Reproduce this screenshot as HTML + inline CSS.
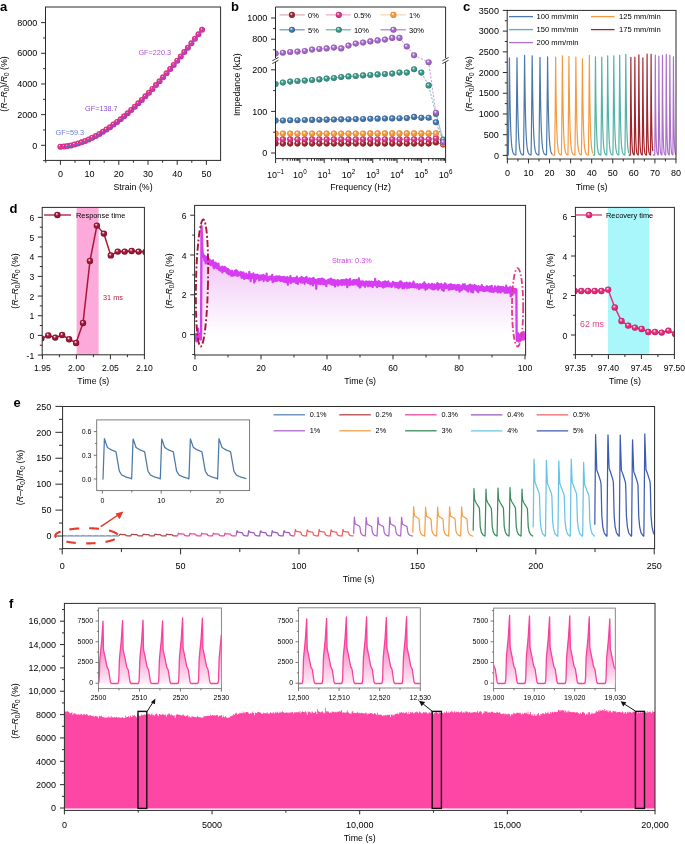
<!DOCTYPE html><html><head><meta charset="utf-8"><title>Figure</title><style>html,body{margin:0;padding:0;background:#fff;width:685px;height:844px;overflow:hidden}svg text{font-family:"Liberation Sans",sans-serif}svg{will-change:transform}</style></head><body><svg width="685" height="844" viewBox="0 0 685 844" style="display:block;font-family:'Liberation Sans',sans-serif"><defs><clipPath id="ca"><rect x="45.5" y="7" width="175.1" height="153.4"/></clipPath><radialGradient id="ga" cx="0.5" cy="0.5" r="0.5" fx="0.36" fy="0.3"><stop offset="0" stop-color="#ffffff"/><stop offset="0.12" stop-color="#f7aed3"/><stop offset="0.27" stop-color="#ec3590"/><stop offset="0.85" stop-color="#df2d84"/><stop offset="1" stop-color="#c81e6e"/></radialGradient><radialGradient id="gb0" cx="0.5" cy="0.5" r="0.5" fx="0.36" fy="0.3"><stop offset="0" stop-color="#ffffff"/><stop offset="0.20" stop-color="#dcaaae"/><stop offset="0.45" stop-color="#a82a35"/><stop offset="0.85" stop-color="#94212b"/><stop offset="1" stop-color="#6e1018"/></radialGradient><radialGradient id="gb05" cx="0.5" cy="0.5" r="0.5" fx="0.36" fy="0.3"><stop offset="0" stop-color="#ffffff"/><stop offset="0.20" stop-color="#f3b0d2"/><stop offset="0.45" stop-color="#e23a8e"/><stop offset="0.85" stop-color="#ce2e7d"/><stop offset="1" stop-color="#a8185e"/></radialGradient><radialGradient id="gb1" cx="0.5" cy="0.5" r="0.5" fx="0.36" fy="0.3"><stop offset="0" stop-color="#ffffff"/><stop offset="0.20" stop-color="#fcd9b3"/><stop offset="0.45" stop-color="#f8a040"/><stop offset="0.85" stop-color="#ea8f2f"/><stop offset="1" stop-color="#d07010"/></radialGradient><radialGradient id="gb5" cx="0.5" cy="0.5" r="0.5" fx="0.36" fy="0.3"><stop offset="0" stop-color="#ffffff"/><stop offset="0.20" stop-color="#b7cbdf"/><stop offset="0.45" stop-color="#4a7db0"/><stop offset="0.85" stop-color="#3c6d9e"/><stop offset="1" stop-color="#22507e"/></radialGradient><radialGradient id="gb10" cx="0.5" cy="0.5" r="0.5" fx="0.36" fy="0.3"><stop offset="0" stop-color="#ffffff"/><stop offset="0.20" stop-color="#b2d7d2"/><stop offset="0.45" stop-color="#3f9b8e"/><stop offset="0.85" stop-color="#338a7d"/><stop offset="1" stop-color="#1d6a5e"/></radialGradient><radialGradient id="gb30" cx="0.5" cy="0.5" r="0.5" fx="0.36" fy="0.3"><stop offset="0" stop-color="#ffffff"/><stop offset="0.20" stop-color="#ddc5eb"/><stop offset="0.45" stop-color="#ab6dcc"/><stop offset="0.85" stop-color="#9a5dbd"/><stop offset="1" stop-color="#7a3fa0"/></radialGradient><clipPath id="cb"><rect x="275.5" y="7" width="170.1" height="151.6"/></clipPath><clipPath id="cc"><rect x="507.2" y="10.4" width="168.8" height="148.6"/></clipPath><radialGradient id="gdl" cx="0.5" cy="0.5" r="0.5" fx="0.36" fy="0.3"><stop offset="0" stop-color="#ffffff"/><stop offset="0.20" stop-color="#dca2b0"/><stop offset="0.45" stop-color="#a8163a"/><stop offset="0.85" stop-color="#921231"/><stop offset="1" stop-color="#6a0a20"/></radialGradient><clipPath id="cdl"><rect x="42.2" y="207.4" width="102.2" height="147.4"/></clipPath><linearGradient id="gdm" x1="0" y1="0" x2="0" y2="1"><stop offset="0" stop-color="#eaa6f8"/><stop offset="0.55" stop-color="#f6daf9"/><stop offset="1" stop-color="#ffffff"/></linearGradient><clipPath id="cdm"><rect x="194.6" y="205.4" width="331" height="149.6"/></clipPath><radialGradient id="gdr" cx="0.5" cy="0.5" r="0.5" fx="0.36" fy="0.3"><stop offset="0" stop-color="#ffffff"/><stop offset="0.20" stop-color="#f6accb"/><stop offset="0.45" stop-color="#e8307e"/><stop offset="0.85" stop-color="#d42671"/><stop offset="1" stop-color="#b0145a"/></radialGradient><clipPath id="cdr"><rect x="575.4" y="207.4" width="99" height="147.2"/></clipPath><clipPath id="ce"><rect x="62.6" y="406.5" width="592" height="142.1"/></clipPath><linearGradient id="gfi" gradientUnits="userSpaceOnUse" x1="0" y1="615" x2="0" y2="684"><stop offset="0" stop-color="#ee46a4"/><stop offset="0.45" stop-color="#f58ac6"/><stop offset="1" stop-color="#fff0f8"/></linearGradient><clipPath id="ci1"><rect x="98.5" y="608" width="122.9" height="80.6"/></clipPath><clipPath id="ci2"><rect x="298.5" y="607.8" width="121.8" height="80.2"/></clipPath><clipPath id="ci3"><rect x="493.6" y="608.1" width="121.7" height="80.4"/></clipPath></defs><rect width="685" height="844" fill="#fff"/><text x="0" y="10.6" font-size="13" text-anchor="start" fill="#000" font-weight="bold" >a</text>
<g clip-path="url(#ca)">
<circle cx="60.4" cy="146.76" r="3" fill="url(#ga)"/>
<circle cx="63.94" cy="146.49" r="3" fill="url(#ga)"/>
<circle cx="67.48" cy="146.03" r="3" fill="url(#ga)"/>
<circle cx="71.02" cy="145.38" r="3" fill="url(#ga)"/>
<circle cx="74.56" cy="144.55" r="3" fill="url(#ga)"/>
<circle cx="78.1" cy="143.54" r="3" fill="url(#ga)"/>
<circle cx="81.64" cy="142.36" r="3" fill="url(#ga)"/>
<circle cx="85.18" cy="141.01" r="3" fill="url(#ga)"/>
<circle cx="88.72" cy="139.49" r="3" fill="url(#ga)"/>
<circle cx="92.26" cy="137.81" r="3" fill="url(#ga)"/>
<circle cx="95.81" cy="135.98" r="3" fill="url(#ga)"/>
<circle cx="99.35" cy="133.99" r="3" fill="url(#ga)"/>
<circle cx="102.89" cy="131.86" r="3" fill="url(#ga)"/>
<circle cx="106.43" cy="129.58" r="3" fill="url(#ga)"/>
<circle cx="109.97" cy="127.16" r="3" fill="url(#ga)"/>
<circle cx="113.51" cy="124.61" r="3" fill="url(#ga)"/>
<circle cx="117.05" cy="121.93" r="3" fill="url(#ga)"/>
<circle cx="120.59" cy="119.13" r="3" fill="url(#ga)"/>
<circle cx="124.13" cy="116.2" r="3" fill="url(#ga)"/>
<circle cx="127.67" cy="113.15" r="3" fill="url(#ga)"/>
<circle cx="131.21" cy="110" r="3" fill="url(#ga)"/>
<circle cx="134.75" cy="106.73" r="3" fill="url(#ga)"/>
<circle cx="138.29" cy="103.36" r="3" fill="url(#ga)"/>
<circle cx="141.83" cy="99.89" r="3" fill="url(#ga)"/>
<circle cx="145.37" cy="96.32" r="3" fill="url(#ga)"/>
<circle cx="148.91" cy="92.67" r="3" fill="url(#ga)"/>
<circle cx="152.45" cy="88.92" r="3" fill="url(#ga)"/>
<circle cx="155.99" cy="85.1" r="3" fill="url(#ga)"/>
<circle cx="159.53" cy="81.19" r="3" fill="url(#ga)"/>
<circle cx="163.07" cy="77.22" r="3" fill="url(#ga)"/>
<circle cx="166.62" cy="73.17" r="3" fill="url(#ga)"/>
<circle cx="170.16" cy="69.06" r="3" fill="url(#ga)"/>
<circle cx="173.7" cy="64.89" r="3" fill="url(#ga)"/>
<circle cx="177.24" cy="60.66" r="3" fill="url(#ga)"/>
<circle cx="180.78" cy="56.38" r="3" fill="url(#ga)"/>
<circle cx="184.32" cy="52.06" r="3" fill="url(#ga)"/>
<circle cx="187.86" cy="47.69" r="3" fill="url(#ga)"/>
<circle cx="191.4" cy="43.28" r="3" fill="url(#ga)"/>
<circle cx="194.94" cy="38.83" r="3" fill="url(#ga)"/>
<circle cx="198.48" cy="34.36" r="3" fill="url(#ga)"/>
<circle cx="202.02" cy="29.86" r="3" fill="url(#ga)"/>
<path d="M60.4,147.56 L61.71,147.49 L63.02,147.38 L64.33,147.25 L65.64,147.1 L66.94,146.91 L68.25,146.71 L69.56,146.47 L70.87,146.21 L72.18,145.93 L73.49,145.62 L74.8,145.29 L76.11,144.93 L77.42,144.55 L78.73,144.15 L80.03,143.72 L81.34,143.27 L82.65,142.79 L83.96,142.29 L85.27,141.77 L86.58,141.23 L87.89,140.66 L89.2,140.07 L90.51,139.46 L91.82,138.83 L93.12,138.18 L94.43,137.51 L95.74,136.81 L97.05,136.1 L98.36,135.36" stroke="#5e6fd2" stroke-width="1.2" fill="none" />
<path d="M98.36,135.36 L100.07,134.37 L101.78,133.34 L103.5,132.28 L105.21,131.18 L106.92,130.05 L108.63,128.89 L110.34,127.7 L112.05,126.48 L113.77,125.22 L115.48,123.94 L117.19,122.62 L118.9,121.28 L120.61,119.91 L122.32,118.51 L124.04,117.08 L125.75,115.62 L127.46,114.14 L129.17,112.63 L130.88,111.09 L132.59,109.53 L134.31,107.94 L136.02,106.33 L137.73,104.7 L139.44,103.04 L141.15,101.36 L142.86,99.66 L144.58,97.93 L146.29,96.19 L148,94.42" stroke="#7b52d6" stroke-width="1.2" fill="none" />
<path d="M148,94.42 L149.91,92.42 L151.83,90.39 L153.74,88.34 L155.65,86.27 L157.57,84.17 L159.48,82.06 L161.39,79.92 L163.3,77.76 L165.22,75.58 L167.13,73.38 L169.04,71.16 L170.96,68.92 L172.87,66.67 L174.78,64.4 L176.7,62.11 L178.61,59.81 L180.52,57.49 L182.44,55.16 L184.35,52.82 L186.26,50.46 L188.18,48.09 L190.09,45.71 L192,43.32 L193.91,40.92 L195.83,38.51 L197.74,36.1 L199.65,33.67 L201.57,31.24 L203.48,28.8" stroke="#9a4fd6" stroke-width="1.2" fill="none" />
</g>
<rect x="45.5" y="7" width="175.1" height="153.4" fill="none" stroke="#2b2b2b" stroke-width="1" />
<line x1="41.1" y1="145.3" x2="45.5" y2="145.3" stroke="#2b2b2b" stroke-width="1" />
<text x="37.2" y="148.5" font-size="9" text-anchor="end" fill="#000" >0</text>
<line x1="41.1" y1="114.63" x2="45.5" y2="114.63" stroke="#2b2b2b" stroke-width="1" />
<text x="37.2" y="117.83" font-size="9" text-anchor="end" fill="#000" >2000</text>
<line x1="41.1" y1="83.96" x2="45.5" y2="83.96" stroke="#2b2b2b" stroke-width="1" />
<text x="37.2" y="87.16" font-size="9" text-anchor="end" fill="#000" >4000</text>
<line x1="41.1" y1="53.29" x2="45.5" y2="53.29" stroke="#2b2b2b" stroke-width="1" />
<text x="37.2" y="56.49" font-size="9" text-anchor="end" fill="#000" >6000</text>
<line x1="41.1" y1="22.62" x2="45.5" y2="22.62" stroke="#2b2b2b" stroke-width="1" />
<text x="37.2" y="25.82" font-size="9" text-anchor="end" fill="#000" >8000</text>
<line x1="43.1" y1="160.64" x2="45.5" y2="160.64" stroke="#2b2b2b" stroke-width="1" />
<line x1="43.1" y1="129.97" x2="45.5" y2="129.97" stroke="#2b2b2b" stroke-width="1" />
<line x1="43.1" y1="99.3" x2="45.5" y2="99.3" stroke="#2b2b2b" stroke-width="1" />
<line x1="43.1" y1="68.63" x2="45.5" y2="68.63" stroke="#2b2b2b" stroke-width="1" />
<line x1="43.1" y1="37.96" x2="45.5" y2="37.96" stroke="#2b2b2b" stroke-width="1" />
<line x1="60.4" y1="160.4" x2="60.4" y2="164.8" stroke="#2b2b2b" stroke-width="1" />
<text x="60.4" y="177" font-size="9" text-anchor="middle" fill="#000" >0</text>
<line x1="89.6" y1="160.4" x2="89.6" y2="164.8" stroke="#2b2b2b" stroke-width="1" />
<text x="89.6" y="177" font-size="9" text-anchor="middle" fill="#000" >10</text>
<line x1="118.8" y1="160.4" x2="118.8" y2="164.8" stroke="#2b2b2b" stroke-width="1" />
<text x="118.8" y="177" font-size="9" text-anchor="middle" fill="#000" >20</text>
<line x1="148" y1="160.4" x2="148" y2="164.8" stroke="#2b2b2b" stroke-width="1" />
<text x="148" y="177" font-size="9" text-anchor="middle" fill="#000" >30</text>
<line x1="177.2" y1="160.4" x2="177.2" y2="164.8" stroke="#2b2b2b" stroke-width="1" />
<text x="177.2" y="177" font-size="9" text-anchor="middle" fill="#000" >40</text>
<line x1="206.4" y1="160.4" x2="206.4" y2="164.8" stroke="#2b2b2b" stroke-width="1" />
<text x="206.4" y="177" font-size="9" text-anchor="middle" fill="#000" >50</text>
<line x1="45.8" y1="160.4" x2="45.8" y2="162.8" stroke="#2b2b2b" stroke-width="1" />
<line x1="75" y1="160.4" x2="75" y2="162.8" stroke="#2b2b2b" stroke-width="1" />
<line x1="104.2" y1="160.4" x2="104.2" y2="162.8" stroke="#2b2b2b" stroke-width="1" />
<line x1="133.4" y1="160.4" x2="133.4" y2="162.8" stroke="#2b2b2b" stroke-width="1" />
<line x1="162.6" y1="160.4" x2="162.6" y2="162.8" stroke="#2b2b2b" stroke-width="1" />
<line x1="191.8" y1="160.4" x2="191.8" y2="162.8" stroke="#2b2b2b" stroke-width="1" />
<text x="133.05" y="190" font-size="8.8" text-anchor="middle" fill="#000" >Strain (%)</text>
<text transform="translate(7.4,84) rotate(-90)" font-size="8.8" text-anchor="middle" fill="#000">(<tspan font-style="italic">R</tspan>–<tspan font-style="italic">R</tspan><tspan font-size="6.34" dy="1.94">0</tspan><tspan dy="-1.94">)/</tspan><tspan font-style="italic">R</tspan><tspan font-size="6.34" dy="1.94">0</tspan><tspan dy="-1.94"> (%)</tspan></text>
<text x="55.5" y="134.6" font-size="7.3" text-anchor="start" fill="#6a7ad8" >GF=59.3</text>
<text x="85" y="110.6" font-size="7.3" text-anchor="start" fill="#8a52d6" >GF=138.7</text>
<text x="138.4" y="55" font-size="7.3" text-anchor="start" fill="#ad50d8" >GF=220.3</text>
<text x="231" y="10.6" font-size="13" text-anchor="start" fill="#000" font-weight="bold" >b</text>
<g clip-path="url(#cb)">
<path d="M275.6,143.6 L282.89,143.6 L290.17,143.6 L297.46,143.6 L304.75,143.6 L312.04,143.6 L319.32,143.6 L326.61,143.6 L333.9,143.6 L341.18,143.6 L348.47,143.6 L355.76,143.6 L363.04,143.6 L370.33,143.6 L377.62,143.6 L384.91,143.6 L392.19,143.6 L399.48,143.6 L406.77,143.6 L414.05,143.6 L421.34,143.6 L428.63,143.6 L435.91,142.5 L443.2,144.4" stroke="#a82a35" stroke-width="0.7" fill="none" stroke-dasharray="2.2 1.6"/>
<path d="M275.6,139.3 L282.89,139.3 L290.17,139.3 L297.46,139.3 L304.75,139.3 L312.04,139.3 L319.32,139.3 L326.61,139.3 L333.9,139.3 L341.18,139.3 L348.47,139.3 L355.76,139.3 L363.04,139.3 L370.33,139.3 L377.62,139.3 L384.91,139.3 L392.19,139.3 L399.48,139.3 L406.77,139.3 L414.05,139.3 L421.34,139.3 L428.63,139.3 L435.91,138.4 L443.2,141" stroke="#e23a8e" stroke-width="0.7" fill="none" stroke-dasharray="2.2 1.6"/>
<path d="M275.6,133.6 L282.89,133.6 L290.17,133.6 L297.46,133.6 L304.75,133.6 L312.04,133.6 L319.32,133.6 L326.61,133.6 L333.9,133.6 L341.18,133.6 L348.47,133.6 L355.76,133.6 L363.04,133.6 L370.33,133.4 L377.62,133.4 L384.91,133.4 L392.19,133.4 L399.48,133.4 L406.77,133.4 L414.05,133.4 L421.34,133.4 L428.63,133.4 L435.91,133.4 L443.2,143.8" stroke="#f8a040" stroke-width="0.7" fill="none" stroke-dasharray="2.2 1.6"/>
<path d="M275.6,120.6 L282.89,120.46 L290.17,120.32 L297.46,120.19 L304.75,120.05 L312.04,119.91 L319.32,119.77 L326.61,119.63 L333.9,119.5 L341.18,119.36 L348.47,119.22 L355.76,119.08 L363.04,118.94 L370.33,118.8 L377.62,118.67 L384.91,118.53 L392.19,118.39 L399.48,118.25 L406.77,118.11 L414.05,116.9 L421.34,117.84 L428.63,117.7 L435.91,122.3 L443.2,141" stroke="#4a7db0" stroke-width="0.7" fill="none" stroke-dasharray="2.2 1.6"/>
<path d="M275.6,84 L282.89,82.6 L290.17,81.6 L297.46,81 L304.75,80.6 L312.04,80 L319.32,79.4 L326.61,78.6 L333.9,78 L341.18,77 L348.47,76.4 L355.76,76 L363.04,75.4 L370.33,75 L377.62,74.4 L384.91,74 L392.19,73.6 L399.48,72.6 L406.77,72.6 L414.05,69.3 L421.34,72.6 L428.63,85.4 L435.91,114 L443.2,139.5" stroke="#3f9b8e" stroke-width="0.7" fill="none" stroke-dasharray="2.2 1.6"/>
<path d="M275.6,53.6 L282.89,52.8 L290.17,52 L297.46,51.6 L304.75,51 L312.04,49.6 L319.32,49 L326.61,48.4 L333.9,47.6 L341.18,48.4 L348.47,45.6 L355.76,43.6 L363.04,42.6 L370.33,41.4 L377.62,40.4 L384.91,39.6 L392.19,37.9 L399.48,37.9 L406.77,46.5 L414.05,55.3 L428.63,62.2 L435.91,112.7 L443.2,142.2" stroke="#ab6dcc" stroke-width="0.7" fill="none" stroke-dasharray="2.2 1.6"/>
<circle cx="275.6" cy="143.6" r="3.05" fill="url(#gb0)"/>
<circle cx="282.89" cy="143.6" r="3.05" fill="url(#gb0)"/>
<circle cx="290.17" cy="143.6" r="3.05" fill="url(#gb0)"/>
<circle cx="297.46" cy="143.6" r="3.05" fill="url(#gb0)"/>
<circle cx="304.75" cy="143.6" r="3.05" fill="url(#gb0)"/>
<circle cx="312.04" cy="143.6" r="3.05" fill="url(#gb0)"/>
<circle cx="319.32" cy="143.6" r="3.05" fill="url(#gb0)"/>
<circle cx="326.61" cy="143.6" r="3.05" fill="url(#gb0)"/>
<circle cx="333.9" cy="143.6" r="3.05" fill="url(#gb0)"/>
<circle cx="341.18" cy="143.6" r="3.05" fill="url(#gb0)"/>
<circle cx="348.47" cy="143.6" r="3.05" fill="url(#gb0)"/>
<circle cx="355.76" cy="143.6" r="3.05" fill="url(#gb0)"/>
<circle cx="363.04" cy="143.6" r="3.05" fill="url(#gb0)"/>
<circle cx="370.33" cy="143.6" r="3.05" fill="url(#gb0)"/>
<circle cx="377.62" cy="143.6" r="3.05" fill="url(#gb0)"/>
<circle cx="384.91" cy="143.6" r="3.05" fill="url(#gb0)"/>
<circle cx="392.19" cy="143.6" r="3.05" fill="url(#gb0)"/>
<circle cx="399.48" cy="143.6" r="3.05" fill="url(#gb0)"/>
<circle cx="406.77" cy="143.6" r="3.05" fill="url(#gb0)"/>
<circle cx="414.05" cy="143.6" r="3.05" fill="url(#gb0)"/>
<circle cx="421.34" cy="143.6" r="3.05" fill="url(#gb0)"/>
<circle cx="428.63" cy="143.6" r="3.05" fill="url(#gb0)"/>
<circle cx="435.91" cy="142.5" r="3.05" fill="url(#gb0)"/>
<circle cx="443.2" cy="144.4" r="3.05" fill="url(#gb0)"/>
<circle cx="275.6" cy="139.3" r="3.05" fill="url(#gb05)"/>
<circle cx="282.89" cy="139.3" r="3.05" fill="url(#gb05)"/>
<circle cx="290.17" cy="139.3" r="3.05" fill="url(#gb05)"/>
<circle cx="297.46" cy="139.3" r="3.05" fill="url(#gb05)"/>
<circle cx="304.75" cy="139.3" r="3.05" fill="url(#gb05)"/>
<circle cx="312.04" cy="139.3" r="3.05" fill="url(#gb05)"/>
<circle cx="319.32" cy="139.3" r="3.05" fill="url(#gb05)"/>
<circle cx="326.61" cy="139.3" r="3.05" fill="url(#gb05)"/>
<circle cx="333.9" cy="139.3" r="3.05" fill="url(#gb05)"/>
<circle cx="341.18" cy="139.3" r="3.05" fill="url(#gb05)"/>
<circle cx="348.47" cy="139.3" r="3.05" fill="url(#gb05)"/>
<circle cx="355.76" cy="139.3" r="3.05" fill="url(#gb05)"/>
<circle cx="363.04" cy="139.3" r="3.05" fill="url(#gb05)"/>
<circle cx="370.33" cy="139.3" r="3.05" fill="url(#gb05)"/>
<circle cx="377.62" cy="139.3" r="3.05" fill="url(#gb05)"/>
<circle cx="384.91" cy="139.3" r="3.05" fill="url(#gb05)"/>
<circle cx="392.19" cy="139.3" r="3.05" fill="url(#gb05)"/>
<circle cx="399.48" cy="139.3" r="3.05" fill="url(#gb05)"/>
<circle cx="406.77" cy="139.3" r="3.05" fill="url(#gb05)"/>
<circle cx="414.05" cy="139.3" r="3.05" fill="url(#gb05)"/>
<circle cx="421.34" cy="139.3" r="3.05" fill="url(#gb05)"/>
<circle cx="428.63" cy="139.3" r="3.05" fill="url(#gb05)"/>
<circle cx="435.91" cy="138.4" r="3.05" fill="url(#gb05)"/>
<circle cx="443.2" cy="141" r="3.05" fill="url(#gb05)"/>
<circle cx="275.6" cy="133.6" r="3.05" fill="url(#gb1)"/>
<circle cx="282.89" cy="133.6" r="3.05" fill="url(#gb1)"/>
<circle cx="290.17" cy="133.6" r="3.05" fill="url(#gb1)"/>
<circle cx="297.46" cy="133.6" r="3.05" fill="url(#gb1)"/>
<circle cx="304.75" cy="133.6" r="3.05" fill="url(#gb1)"/>
<circle cx="312.04" cy="133.6" r="3.05" fill="url(#gb1)"/>
<circle cx="319.32" cy="133.6" r="3.05" fill="url(#gb1)"/>
<circle cx="326.61" cy="133.6" r="3.05" fill="url(#gb1)"/>
<circle cx="333.9" cy="133.6" r="3.05" fill="url(#gb1)"/>
<circle cx="341.18" cy="133.6" r="3.05" fill="url(#gb1)"/>
<circle cx="348.47" cy="133.6" r="3.05" fill="url(#gb1)"/>
<circle cx="355.76" cy="133.6" r="3.05" fill="url(#gb1)"/>
<circle cx="363.04" cy="133.6" r="3.05" fill="url(#gb1)"/>
<circle cx="370.33" cy="133.4" r="3.05" fill="url(#gb1)"/>
<circle cx="377.62" cy="133.4" r="3.05" fill="url(#gb1)"/>
<circle cx="384.91" cy="133.4" r="3.05" fill="url(#gb1)"/>
<circle cx="392.19" cy="133.4" r="3.05" fill="url(#gb1)"/>
<circle cx="399.48" cy="133.4" r="3.05" fill="url(#gb1)"/>
<circle cx="406.77" cy="133.4" r="3.05" fill="url(#gb1)"/>
<circle cx="414.05" cy="133.4" r="3.05" fill="url(#gb1)"/>
<circle cx="421.34" cy="133.4" r="3.05" fill="url(#gb1)"/>
<circle cx="428.63" cy="133.4" r="3.05" fill="url(#gb1)"/>
<circle cx="435.91" cy="133.4" r="3.05" fill="url(#gb1)"/>
<circle cx="443.2" cy="143.8" r="3.05" fill="url(#gb1)"/>
<circle cx="275.6" cy="120.6" r="3.05" fill="url(#gb5)"/>
<circle cx="282.89" cy="120.46" r="3.05" fill="url(#gb5)"/>
<circle cx="290.17" cy="120.32" r="3.05" fill="url(#gb5)"/>
<circle cx="297.46" cy="120.19" r="3.05" fill="url(#gb5)"/>
<circle cx="304.75" cy="120.05" r="3.05" fill="url(#gb5)"/>
<circle cx="312.04" cy="119.91" r="3.05" fill="url(#gb5)"/>
<circle cx="319.32" cy="119.77" r="3.05" fill="url(#gb5)"/>
<circle cx="326.61" cy="119.63" r="3.05" fill="url(#gb5)"/>
<circle cx="333.9" cy="119.5" r="3.05" fill="url(#gb5)"/>
<circle cx="341.18" cy="119.36" r="3.05" fill="url(#gb5)"/>
<circle cx="348.47" cy="119.22" r="3.05" fill="url(#gb5)"/>
<circle cx="355.76" cy="119.08" r="3.05" fill="url(#gb5)"/>
<circle cx="363.04" cy="118.94" r="3.05" fill="url(#gb5)"/>
<circle cx="370.33" cy="118.8" r="3.05" fill="url(#gb5)"/>
<circle cx="377.62" cy="118.67" r="3.05" fill="url(#gb5)"/>
<circle cx="384.91" cy="118.53" r="3.05" fill="url(#gb5)"/>
<circle cx="392.19" cy="118.39" r="3.05" fill="url(#gb5)"/>
<circle cx="399.48" cy="118.25" r="3.05" fill="url(#gb5)"/>
<circle cx="406.77" cy="118.11" r="3.05" fill="url(#gb5)"/>
<circle cx="414.05" cy="116.9" r="3.05" fill="url(#gb5)"/>
<circle cx="421.34" cy="117.84" r="3.05" fill="url(#gb5)"/>
<circle cx="428.63" cy="117.7" r="3.05" fill="url(#gb5)"/>
<circle cx="435.91" cy="122.3" r="3.05" fill="url(#gb5)"/>
<circle cx="443.2" cy="141" r="3.05" fill="url(#gb5)"/>
<circle cx="275.6" cy="84" r="3.05" fill="url(#gb10)"/>
<circle cx="282.89" cy="82.6" r="3.05" fill="url(#gb10)"/>
<circle cx="290.17" cy="81.6" r="3.05" fill="url(#gb10)"/>
<circle cx="297.46" cy="81" r="3.05" fill="url(#gb10)"/>
<circle cx="304.75" cy="80.6" r="3.05" fill="url(#gb10)"/>
<circle cx="312.04" cy="80" r="3.05" fill="url(#gb10)"/>
<circle cx="319.32" cy="79.4" r="3.05" fill="url(#gb10)"/>
<circle cx="326.61" cy="78.6" r="3.05" fill="url(#gb10)"/>
<circle cx="333.9" cy="78" r="3.05" fill="url(#gb10)"/>
<circle cx="341.18" cy="77" r="3.05" fill="url(#gb10)"/>
<circle cx="348.47" cy="76.4" r="3.05" fill="url(#gb10)"/>
<circle cx="355.76" cy="76" r="3.05" fill="url(#gb10)"/>
<circle cx="363.04" cy="75.4" r="3.05" fill="url(#gb10)"/>
<circle cx="370.33" cy="75" r="3.05" fill="url(#gb10)"/>
<circle cx="377.62" cy="74.4" r="3.05" fill="url(#gb10)"/>
<circle cx="384.91" cy="74" r="3.05" fill="url(#gb10)"/>
<circle cx="392.19" cy="73.6" r="3.05" fill="url(#gb10)"/>
<circle cx="399.48" cy="72.6" r="3.05" fill="url(#gb10)"/>
<circle cx="406.77" cy="72.6" r="3.05" fill="url(#gb10)"/>
<circle cx="414.05" cy="69.3" r="3.05" fill="url(#gb10)"/>
<circle cx="421.34" cy="72.6" r="3.05" fill="url(#gb10)"/>
<circle cx="428.63" cy="85.4" r="3.05" fill="url(#gb10)"/>
<circle cx="435.91" cy="114" r="3.05" fill="url(#gb10)"/>
<circle cx="443.2" cy="139.5" r="3.05" fill="url(#gb10)"/>
<circle cx="275.6" cy="53.6" r="3.05" fill="url(#gb30)"/>
<circle cx="282.89" cy="52.8" r="3.05" fill="url(#gb30)"/>
<circle cx="290.17" cy="52" r="3.05" fill="url(#gb30)"/>
<circle cx="297.46" cy="51.6" r="3.05" fill="url(#gb30)"/>
<circle cx="304.75" cy="51" r="3.05" fill="url(#gb30)"/>
<circle cx="312.04" cy="49.6" r="3.05" fill="url(#gb30)"/>
<circle cx="319.32" cy="49" r="3.05" fill="url(#gb30)"/>
<circle cx="326.61" cy="48.4" r="3.05" fill="url(#gb30)"/>
<circle cx="333.9" cy="47.6" r="3.05" fill="url(#gb30)"/>
<circle cx="341.18" cy="48.4" r="3.05" fill="url(#gb30)"/>
<circle cx="348.47" cy="45.6" r="3.05" fill="url(#gb30)"/>
<circle cx="355.76" cy="43.6" r="3.05" fill="url(#gb30)"/>
<circle cx="363.04" cy="42.6" r="3.05" fill="url(#gb30)"/>
<circle cx="370.33" cy="41.4" r="3.05" fill="url(#gb30)"/>
<circle cx="377.62" cy="40.4" r="3.05" fill="url(#gb30)"/>
<circle cx="384.91" cy="39.6" r="3.05" fill="url(#gb30)"/>
<circle cx="392.19" cy="37.9" r="3.05" fill="url(#gb30)"/>
<circle cx="399.48" cy="37.9" r="3.05" fill="url(#gb30)"/>
<circle cx="406.77" cy="46.5" r="3.05" fill="url(#gb30)"/>
<circle cx="414.05" cy="55.3" r="3.05" fill="url(#gb30)"/>
<circle cx="428.63" cy="62.2" r="3.05" fill="url(#gb30)"/>
<circle cx="435.91" cy="112.7" r="3.05" fill="url(#gb30)"/>
<circle cx="443.2" cy="142.2" r="3.05" fill="url(#gb30)"/>
</g>
<line x1="275.5" y1="7" x2="445.6" y2="7" stroke="#2b2b2b" stroke-width="1" />
<line x1="275.5" y1="158.6" x2="445.6" y2="158.6" stroke="#2b2b2b" stroke-width="1" />
<line x1="275.5" y1="7" x2="275.5" y2="58.4" stroke="#2b2b2b" stroke-width="1" />
<line x1="275.5" y1="62" x2="275.5" y2="158.6" stroke="#2b2b2b" stroke-width="1" />
<rect x="272.5" y="58.4" width="6" height="3.6" fill="#fff"/>
<line x1="272.3" y1="60.8" x2="278.5" y2="57.4" stroke="#2b2b2b" stroke-width="0.9" />
<line x1="272.3" y1="63.6" x2="278.5" y2="60.2" stroke="#2b2b2b" stroke-width="0.9" />
<line x1="445.6" y1="7" x2="445.6" y2="58.4" stroke="#2b2b2b" stroke-width="1" />
<line x1="445.6" y1="62" x2="445.6" y2="158.6" stroke="#2b2b2b" stroke-width="1" />
<rect x="442.6" y="58.4" width="6" height="3.6" fill="#fff"/>
<line x1="442.4" y1="60.8" x2="448.6" y2="57.4" stroke="#2b2b2b" stroke-width="0.9" />
<line x1="442.4" y1="63.6" x2="448.6" y2="60.2" stroke="#2b2b2b" stroke-width="0.9" />
<line x1="271.1" y1="153" x2="275.5" y2="153" stroke="#2b2b2b" stroke-width="1" />
<text x="267.2" y="156.2" font-size="9" text-anchor="end" fill="#000" >0</text>
<line x1="271.1" y1="111.4" x2="275.5" y2="111.4" stroke="#2b2b2b" stroke-width="1" />
<text x="267.2" y="114.6" font-size="9" text-anchor="end" fill="#000" >100</text>
<line x1="271.1" y1="69.8" x2="275.5" y2="69.8" stroke="#2b2b2b" stroke-width="1" />
<text x="267.2" y="73" font-size="9" text-anchor="end" fill="#000" >200</text>
<line x1="271.1" y1="39.2" x2="275.5" y2="39.2" stroke="#2b2b2b" stroke-width="1" />
<text x="267.2" y="42.4" font-size="9" text-anchor="end" fill="#000" >800</text>
<line x1="271.1" y1="18" x2="275.5" y2="18" stroke="#2b2b2b" stroke-width="1" />
<text x="267.2" y="21.2" font-size="9" text-anchor="end" fill="#000" >1000</text>
<line x1="273.1" y1="132.2" x2="275.5" y2="132.2" stroke="#2b2b2b" stroke-width="1" />
<line x1="273.1" y1="90.6" x2="275.5" y2="90.6" stroke="#2b2b2b" stroke-width="1" />
<line x1="273.1" y1="49.8" x2="275.5" y2="49.8" stroke="#2b2b2b" stroke-width="1" />
<line x1="273.1" y1="28.6" x2="275.5" y2="28.6" stroke="#2b2b2b" stroke-width="1" />
<line x1="275.6" y1="158.6" x2="275.6" y2="163" stroke="#2b2b2b" stroke-width="1" />
<line x1="299.89" y1="158.6" x2="299.89" y2="163" stroke="#2b2b2b" stroke-width="1" />
<line x1="324.18" y1="158.6" x2="324.18" y2="163" stroke="#2b2b2b" stroke-width="1" />
<line x1="348.47" y1="158.6" x2="348.47" y2="163" stroke="#2b2b2b" stroke-width="1" />
<line x1="372.76" y1="158.6" x2="372.76" y2="163" stroke="#2b2b2b" stroke-width="1" />
<line x1="397.05" y1="158.6" x2="397.05" y2="163" stroke="#2b2b2b" stroke-width="1" />
<line x1="421.34" y1="158.6" x2="421.34" y2="163" stroke="#2b2b2b" stroke-width="1" />
<line x1="445.63" y1="158.6" x2="445.63" y2="163" stroke="#2b2b2b" stroke-width="1" />
<line x1="282.91" y1="158.6" x2="282.91" y2="160.8" stroke="#2b2b2b" stroke-width="1" />
<line x1="287.19" y1="158.6" x2="287.19" y2="160.8" stroke="#2b2b2b" stroke-width="1" />
<line x1="290.22" y1="158.6" x2="290.22" y2="160.8" stroke="#2b2b2b" stroke-width="1" />
<line x1="292.58" y1="158.6" x2="292.58" y2="160.8" stroke="#2b2b2b" stroke-width="1" />
<line x1="294.5" y1="158.6" x2="294.5" y2="160.8" stroke="#2b2b2b" stroke-width="1" />
<line x1="296.13" y1="158.6" x2="296.13" y2="160.8" stroke="#2b2b2b" stroke-width="1" />
<line x1="297.54" y1="158.6" x2="297.54" y2="160.8" stroke="#2b2b2b" stroke-width="1" />
<line x1="298.78" y1="158.6" x2="298.78" y2="160.8" stroke="#2b2b2b" stroke-width="1" />
<line x1="307.2" y1="158.6" x2="307.2" y2="160.8" stroke="#2b2b2b" stroke-width="1" />
<line x1="311.48" y1="158.6" x2="311.48" y2="160.8" stroke="#2b2b2b" stroke-width="1" />
<line x1="314.51" y1="158.6" x2="314.51" y2="160.8" stroke="#2b2b2b" stroke-width="1" />
<line x1="316.87" y1="158.6" x2="316.87" y2="160.8" stroke="#2b2b2b" stroke-width="1" />
<line x1="318.79" y1="158.6" x2="318.79" y2="160.8" stroke="#2b2b2b" stroke-width="1" />
<line x1="320.42" y1="158.6" x2="320.42" y2="160.8" stroke="#2b2b2b" stroke-width="1" />
<line x1="321.83" y1="158.6" x2="321.83" y2="160.8" stroke="#2b2b2b" stroke-width="1" />
<line x1="323.07" y1="158.6" x2="323.07" y2="160.8" stroke="#2b2b2b" stroke-width="1" />
<line x1="331.49" y1="158.6" x2="331.49" y2="160.8" stroke="#2b2b2b" stroke-width="1" />
<line x1="335.77" y1="158.6" x2="335.77" y2="160.8" stroke="#2b2b2b" stroke-width="1" />
<line x1="338.8" y1="158.6" x2="338.8" y2="160.8" stroke="#2b2b2b" stroke-width="1" />
<line x1="341.16" y1="158.6" x2="341.16" y2="160.8" stroke="#2b2b2b" stroke-width="1" />
<line x1="343.08" y1="158.6" x2="343.08" y2="160.8" stroke="#2b2b2b" stroke-width="1" />
<line x1="344.71" y1="158.6" x2="344.71" y2="160.8" stroke="#2b2b2b" stroke-width="1" />
<line x1="346.12" y1="158.6" x2="346.12" y2="160.8" stroke="#2b2b2b" stroke-width="1" />
<line x1="347.36" y1="158.6" x2="347.36" y2="160.8" stroke="#2b2b2b" stroke-width="1" />
<line x1="355.78" y1="158.6" x2="355.78" y2="160.8" stroke="#2b2b2b" stroke-width="1" />
<line x1="360.06" y1="158.6" x2="360.06" y2="160.8" stroke="#2b2b2b" stroke-width="1" />
<line x1="363.09" y1="158.6" x2="363.09" y2="160.8" stroke="#2b2b2b" stroke-width="1" />
<line x1="365.45" y1="158.6" x2="365.45" y2="160.8" stroke="#2b2b2b" stroke-width="1" />
<line x1="367.37" y1="158.6" x2="367.37" y2="160.8" stroke="#2b2b2b" stroke-width="1" />
<line x1="369" y1="158.6" x2="369" y2="160.8" stroke="#2b2b2b" stroke-width="1" />
<line x1="370.41" y1="158.6" x2="370.41" y2="160.8" stroke="#2b2b2b" stroke-width="1" />
<line x1="371.65" y1="158.6" x2="371.65" y2="160.8" stroke="#2b2b2b" stroke-width="1" />
<line x1="380.07" y1="158.6" x2="380.07" y2="160.8" stroke="#2b2b2b" stroke-width="1" />
<line x1="384.35" y1="158.6" x2="384.35" y2="160.8" stroke="#2b2b2b" stroke-width="1" />
<line x1="387.38" y1="158.6" x2="387.38" y2="160.8" stroke="#2b2b2b" stroke-width="1" />
<line x1="389.74" y1="158.6" x2="389.74" y2="160.8" stroke="#2b2b2b" stroke-width="1" />
<line x1="391.66" y1="158.6" x2="391.66" y2="160.8" stroke="#2b2b2b" stroke-width="1" />
<line x1="393.29" y1="158.6" x2="393.29" y2="160.8" stroke="#2b2b2b" stroke-width="1" />
<line x1="394.7" y1="158.6" x2="394.7" y2="160.8" stroke="#2b2b2b" stroke-width="1" />
<line x1="395.94" y1="158.6" x2="395.94" y2="160.8" stroke="#2b2b2b" stroke-width="1" />
<line x1="404.36" y1="158.6" x2="404.36" y2="160.8" stroke="#2b2b2b" stroke-width="1" />
<line x1="408.64" y1="158.6" x2="408.64" y2="160.8" stroke="#2b2b2b" stroke-width="1" />
<line x1="411.67" y1="158.6" x2="411.67" y2="160.8" stroke="#2b2b2b" stroke-width="1" />
<line x1="414.03" y1="158.6" x2="414.03" y2="160.8" stroke="#2b2b2b" stroke-width="1" />
<line x1="415.95" y1="158.6" x2="415.95" y2="160.8" stroke="#2b2b2b" stroke-width="1" />
<line x1="417.58" y1="158.6" x2="417.58" y2="160.8" stroke="#2b2b2b" stroke-width="1" />
<line x1="418.99" y1="158.6" x2="418.99" y2="160.8" stroke="#2b2b2b" stroke-width="1" />
<line x1="420.23" y1="158.6" x2="420.23" y2="160.8" stroke="#2b2b2b" stroke-width="1" />
<line x1="428.65" y1="158.6" x2="428.65" y2="160.8" stroke="#2b2b2b" stroke-width="1" />
<line x1="432.93" y1="158.6" x2="432.93" y2="160.8" stroke="#2b2b2b" stroke-width="1" />
<line x1="435.96" y1="158.6" x2="435.96" y2="160.8" stroke="#2b2b2b" stroke-width="1" />
<line x1="438.32" y1="158.6" x2="438.32" y2="160.8" stroke="#2b2b2b" stroke-width="1" />
<line x1="440.24" y1="158.6" x2="440.24" y2="160.8" stroke="#2b2b2b" stroke-width="1" />
<line x1="441.87" y1="158.6" x2="441.87" y2="160.8" stroke="#2b2b2b" stroke-width="1" />
<line x1="443.28" y1="158.6" x2="443.28" y2="160.8" stroke="#2b2b2b" stroke-width="1" />
<line x1="444.52" y1="158.6" x2="444.52" y2="160.8" stroke="#2b2b2b" stroke-width="1" />
<text x="275.6" y="178" font-size="9" text-anchor="middle" fill="#000">10<tspan font-size="6.3" dy="-3.8">&#8211;1</tspan></text>
<text x="299.89" y="178" font-size="9" text-anchor="middle" fill="#000">10<tspan font-size="6.3" dy="-3.8">0</tspan></text>
<text x="324.18" y="178" font-size="9" text-anchor="middle" fill="#000">10<tspan font-size="6.3" dy="-3.8">1</tspan></text>
<text x="348.47" y="178" font-size="9" text-anchor="middle" fill="#000">10<tspan font-size="6.3" dy="-3.8">2</tspan></text>
<text x="372.76" y="178" font-size="9" text-anchor="middle" fill="#000">10<tspan font-size="6.3" dy="-3.8">3</tspan></text>
<text x="397.05" y="178" font-size="9" text-anchor="middle" fill="#000">10<tspan font-size="6.3" dy="-3.8">4</tspan></text>
<text x="421.34" y="178" font-size="9" text-anchor="middle" fill="#000">10<tspan font-size="6.3" dy="-3.8">5</tspan></text>
<text x="445.63" y="178" font-size="9" text-anchor="middle" fill="#000">10<tspan font-size="6.3" dy="-3.8">6</tspan></text>
<text x="360.55" y="190" font-size="8.8" text-anchor="middle" fill="#000" >Frequency (Hz)</text>
<text transform="translate(239.6,84.7) rotate(-90)" font-size="8.8" text-anchor="middle" fill="#000">Impedance (kΩ)</text>
<line x1="279.5" y1="14.9" x2="304.8" y2="14.9" stroke="#d9a0a0" stroke-width="1.1" />
<circle cx="291.9" cy="14.9" r="3.05" fill="url(#gb0)"/>
<text x="308" y="17.6" font-size="7.5" text-anchor="start" fill="#000" >0%</text>
<line x1="325.9" y1="14.9" x2="350.7" y2="14.9" stroke="#f39ac6" stroke-width="1.1" />
<circle cx="338.8" cy="14.9" r="3.05" fill="url(#gb05)"/>
<text x="353.9" y="17.6" font-size="7.5" text-anchor="start" fill="#000" >0.5%</text>
<line x1="380.5" y1="14.9" x2="405.8" y2="14.9" stroke="#fcd0a0" stroke-width="1.1" />
<circle cx="393.4" cy="14.9" r="3.05" fill="url(#gb1)"/>
<text x="409" y="17.6" font-size="7.5" text-anchor="start" fill="#000" >1%</text>
<line x1="279.5" y1="29.8" x2="304.8" y2="29.8" stroke="#5f8ab8" stroke-width="1.1" />
<circle cx="291.9" cy="29.8" r="3.05" fill="url(#gb5)"/>
<text x="308" y="32.5" font-size="7.5" text-anchor="start" fill="#000" >5%</text>
<line x1="325.9" y1="29.8" x2="350.7" y2="29.8" stroke="#5aa89b" stroke-width="1.1" />
<circle cx="338.8" cy="29.8" r="3.05" fill="url(#gb10)"/>
<text x="353.9" y="32.5" font-size="7.5" text-anchor="start" fill="#000" >10%</text>
<line x1="380.5" y1="29.8" x2="405.8" y2="29.8" stroke="#ab6dcc" stroke-width="1.1" />
<circle cx="393.4" cy="29.8" r="3.05" fill="url(#gb30)"/>
<text x="409" y="32.5" font-size="7.5" text-anchor="start" fill="#000" >30%</text>
<text x="463" y="11.2" font-size="13" text-anchor="start" fill="#000" font-weight="bold" >c</text>
<g clip-path="url(#cc)">
<path d="M507.4,155.07 L507.44,155.07 L507.48,155.07 L507.53,155.07 L507.57,155.07 L507.61,155.07 L507.65,155.07 L507.69,155.07 L507.74,155.07 L507.78,155.07 L507.82,155.07 L507.86,155.07 L507.91,155.07 L507.95,155.07 L507.99,155.07 L508.03,155.07 L508.07,155.07 L508.12,155.07 L508.16,155.07 L508.2,155.07 L508.24,155.07 L508.28,154.31 L508.33,152.46 L508.37,150.23 L508.41,147.73 L508.45,145.02 L508.5,142.13 L508.54,139.08 L508.58,135.89 L508.62,132.58 L508.66,129.15 L508.71,125.61 L508.75,121.97 L508.79,118.23 L508.83,114.41 L508.87,110.5 L508.92,106.51 L508.96,102.44 L509,98.3 L509.04,94.09 L509.09,89.81 L509.13,85.46 L509.17,81.05 L509.21,76.58 L509.25,72.05 L509.3,67.46 L509.34,62.82 L509.38,58.12 L509.42,57.84 L509.46,61.88 L509.51,65.76 L509.55,69.47 L509.59,73.03 L509.63,76.44 L509.68,79.71 L509.72,82.84 L509.76,85.85 L509.8,88.73 L509.84,91.49 L509.89,94.13 L509.93,96.67 L509.97,99.09 L510.01,101.42 L510.05,103.66 L510.1,105.79 L510.14,107.84 L510.18,109.81 L510.22,111.69 L510.27,113.5 L510.31,115.23 L510.35,116.89 L510.39,118.48 L510.43,120 L510.48,121.46 L510.52,122.86 L510.56,124.2 L510.6,125.49 L510.64,126.72 L510.69,127.9 L510.73,129.03 L510.77,130.12 L510.81,131.16 L510.86,132.15 L510.9,133.11 L510.94,134.03 L510.98,134.9 L511.02,135.74 L511.07,136.55 L511.11,137.32 L511.15,138.06 L511.19,138.77 L511.23,139.45 L511.28,140.11 L511.32,140.73 L511.36,141.33 L511.4,141.9 L511.45,142.45 L511.49,142.98 L511.53,143.49 L511.57,143.97 L511.61,144.44 L511.66,144.88 L511.7,145.31 L511.74,145.72 L511.78,146.11 L511.82,146.48 L511.87,146.84 L511.91,147.19 L511.95,147.52 L511.99,147.84 L512.04,148.14 L512.08,148.43 L512.12,148.71 L512.16,148.98 L512.2,149.24 L512.25,149.48 L512.29,149.72 L512.33,149.94 L512.37,150.16 L512.41,150.37 L512.46,150.57 L512.5,150.76 L512.54,150.94 L512.58,151.11 L512.63,151.28 L512.67,151.44 L512.71,151.6 L512.75,151.74 L512.79,151.89 L512.84,152.02 L512.88,152.15 L512.92,152.28 L512.96,152.39 L513,152.51 L513.05,152.62 L513.09,152.72 L513.13,152.83 L513.17,152.92 L513.22,153.01 L513.26,153.1 L513.3,153.19 L513.34,153.27 L513.38,153.35 L513.43,153.42 L513.47,153.49 L513.51,153.56 L513.55,153.63 L513.59,153.69 L513.64,153.75 L513.68,153.81 L513.72,153.87 L513.76,153.92 L513.81,153.97 L513.85,154.02 L513.89,154.07 L513.93,154.11 L513.97,154.16 L514.02,154.2 L514.06,154.24 L514.1,154.27 L514.14,154.31 L514.18,154.35 L514.23,154.38 L514.27,154.41 L514.31,154.44 L514.35,154.47 L514.4,154.5 L514.44,154.53 L514.48,154.55 L514.52,154.58 L514.56,154.6 L514.61,154.62 L514.65,154.65 L514.69,154.67 L514.73,154.69 L514.77,154.71 L514.82,154.73 L514.86,154.74 L514.9,154.76 L514.94,154.78 L514.99,154.79 L515.03,154.81 L515.07,154.82 L515.11,154.83 L515.15,154.85 L515.2,154.86 L515.24,154.87 L515.28,154.88 L515.32,154.9 L515.36,154.91 L515.41,154.92 L515.45,154.93 L515.49,154.94 L515.53,154.94 L515.58,154.95 L515.62,154.96 L515.66,154.97 L515.7,154.98 L515.74,154.98 L515.79,154.99 L515.83,155 L515.87,154.99 L515.91,153.48 L515.95,151.46 L516,149.13 L516.04,146.58 L516.08,143.83 L516.12,140.92 L516.17,137.86 L516.21,134.67 L516.25,131.36 L516.29,127.95 L516.33,124.43 L516.38,120.81 L516.42,117.11 L516.46,113.32 L516.5,109.45 L516.54,105.5 L516.59,101.48 L516.63,97.39 L516.67,93.23 L516.71,89 L516.76,84.71 L516.8,80.36 L516.84,75.95 L516.88,71.48 L516.92,66.96 L516.97,62.38 L517.01,57.75 L517.05,61.8 L517.09,65.68 L517.13,69.39 L517.18,72.95 L517.22,76.37 L517.26,79.64 L517.3,82.78 L517.35,85.79 L517.39,88.67 L517.43,91.43 L517.47,94.08 L517.51,96.61 L517.56,99.04 L517.6,101.38 L517.64,103.61 L517.68,105.75 L517.72,107.8 L517.77,109.77 L517.81,111.65 L517.85,113.46 L517.89,115.19 L517.93,116.85 L517.98,118.44 L518.02,119.97 L518.06,121.43 L518.1,122.83 L518.15,124.17 L518.19,125.46 L518.23,126.69 L518.27,127.88 L518.31,129.01 L518.36,130.1 L518.4,131.14 L518.44,132.13 L518.48,133.09 L518.52,134.01 L518.57,134.88 L518.61,135.73 L518.65,136.53 L518.69,137.31 L518.74,138.05 L518.78,138.76 L518.82,139.44 L518.86,140.09 L518.9,140.72 L518.95,141.32 L518.99,141.89 L519.03,142.44 L519.07,142.97 L519.11,143.48 L519.16,143.96 L519.2,144.43 L519.24,144.87 L519.28,145.3 L519.33,145.71 L519.37,146.1 L519.41,146.48 L519.45,146.84 L519.49,147.18 L519.54,147.51 L519.58,147.83 L519.62,148.14 L519.66,148.43 L519.7,148.71 L519.75,148.97 L519.79,149.23 L519.83,149.48 L519.87,149.71 L519.92,149.94 L519.96,150.15 L520,150.36 L520.04,150.56 L520.08,150.75 L520.13,150.93 L520.17,151.11 L520.21,151.28 L520.25,151.44 L520.29,151.59 L520.34,151.74 L520.38,151.88 L520.42,152.02 L520.46,152.15 L520.51,152.27 L520.55,152.39 L520.59,152.51 L520.63,152.62 L520.67,152.72 L520.72,152.82 L520.76,152.92 L520.8,153.01 L520.84,153.1 L520.88,153.19 L520.93,153.27 L520.97,153.35 L521.01,153.42 L521.05,153.49 L521.1,153.56 L521.14,153.63 L521.18,153.69 L521.22,153.75 L521.26,153.81 L521.31,153.87 L521.35,153.92 L521.39,153.97 L521.43,154.02 L521.47,154.07 L521.52,154.11 L521.56,154.15 L521.6,154.2 L521.64,154.24 L521.69,154.27 L521.73,154.31 L521.77,154.35 L521.81,154.38 L521.85,154.41 L521.9,154.44 L521.94,154.47 L521.98,154.5 L522.02,154.53 L522.06,154.55 L522.11,154.58 L522.15,154.6 L522.19,154.62 L522.23,154.65 L522.28,154.67 L522.32,154.69 L522.36,154.71 L522.4,154.72 L522.44,154.74 L522.49,154.76 L522.53,154.78 L522.57,154.79 L522.61,154.81 L522.65,154.82 L522.7,154.83 L522.74,154.85 L522.78,154.86 L522.82,154.87 L522.87,154.88 L522.91,154.9 L522.95,154.91 L522.99,154.92 L523.03,154.93 L523.08,154.94 L523.12,154.94 L523.16,154.95 L523.2,154.96 L523.24,154.97 L523.29,154.98 L523.33,154.98 L523.37,154.99 L523.41,155 L523.46,154.99 L523.5,153.43 L523.54,151.37 L523.58,148.98 L523.62,146.36 L523.67,143.55 L523.71,140.57 L523.75,137.43 L523.79,134.17 L523.83,130.78 L523.88,127.28 L523.92,123.67 L523.96,119.97 L524,116.17 L524.05,112.29 L524.09,108.32 L524.13,104.28 L524.17,100.16 L524.21,95.96 L524.26,91.7 L524.3,87.37 L524.34,82.97 L524.38,78.52 L524.42,74 L524.47,69.42 L524.51,64.79 L524.55,60.1 L524.59,55.35 L524.64,59.5 L524.68,63.47 L524.72,67.28 L524.76,70.93 L524.8,74.43 L524.85,77.78 L524.89,81 L524.93,84.08 L524.97,87.03 L525.01,89.86 L525.06,92.57 L525.1,95.17 L525.14,97.66 L525.18,100.05 L525.23,102.34 L525.27,104.53 L525.31,106.64 L525.35,108.65 L525.39,110.58 L525.44,112.43 L525.48,114.21 L525.52,115.91 L525.56,117.54 L525.6,119.1 L525.65,120.6 L525.69,122.04 L525.73,123.41 L525.77,124.73 L525.82,125.99 L525.86,127.2 L525.9,128.37 L525.94,129.48 L525.98,130.54 L526.03,131.57 L526.07,132.55 L526.11,133.49 L526.15,134.39 L526.19,135.25 L526.24,136.08 L526.28,136.87 L526.32,137.63 L526.36,138.35 L526.41,139.05 L526.45,139.72 L526.49,140.36 L526.53,140.98 L526.57,141.57 L526.62,142.13 L526.66,142.67 L526.7,143.19 L526.74,143.69 L526.78,144.16 L526.83,144.62 L526.87,145.06 L526.91,145.48 L526.95,145.88 L527,146.26 L527.04,146.63 L527.08,146.99 L527.12,147.33 L527.16,147.65 L527.21,147.96 L527.25,148.26 L527.29,148.55 L527.33,148.82 L527.37,149.08 L527.42,149.34 L527.46,149.58 L527.5,149.81 L527.54,150.03 L527.59,150.24 L527.63,150.45 L527.67,150.64 L527.71,150.83 L527.75,151.01 L527.8,151.18 L527.84,151.35 L527.88,151.51 L527.92,151.66 L527.96,151.8 L528.01,151.94 L528.05,152.07 L528.09,152.2 L528.13,152.32 L528.18,152.44 L528.22,152.55 L528.26,152.66 L528.3,152.77 L528.34,152.86 L528.39,152.96 L528.43,153.05 L528.47,153.14 L528.51,153.22 L528.55,153.3 L528.6,153.38 L528.64,153.45 L528.68,153.52 L528.72,153.59 L528.76,153.66 L528.81,153.72 L528.85,153.78 L528.89,153.83 L528.93,153.89 L528.98,153.94 L529.02,153.99 L529.06,154.04 L529.1,154.09 L529.14,154.13 L529.19,154.17 L529.23,154.21 L529.27,154.25 L529.31,154.29 L529.35,154.33 L529.4,154.36 L529.44,154.39 L529.48,154.42 L529.52,154.45 L529.57,154.48 L529.61,154.51 L529.65,154.54 L529.69,154.56 L529.73,154.59 L529.78,154.61 L529.82,154.63 L529.86,154.66 L529.9,154.68 L529.94,154.7 L529.99,154.71 L530.03,154.73 L530.07,154.75 L530.11,154.77 L530.16,154.78 L530.2,154.8 L530.24,154.81 L530.28,154.83 L530.32,154.84 L530.37,154.85 L530.41,154.87 L530.45,154.88 L530.49,154.89 L530.53,154.9 L530.58,154.91 L530.62,154.92 L530.66,154.93 L530.7,154.94 L530.75,154.95 L530.79,154.96 L530.83,154.96 L530.87,154.97 L530.91,154.98 L530.96,154.99 L531,154.99 L531.04,155 L531.08,154.29 L531.12,152.4 L531.17,150.13 L531.21,147.58 L531.25,144.82 L531.29,141.87 L531.34,138.76 L531.38,135.51 L531.42,132.12 L531.46,128.62 L531.5,125.01 L531.55,121.3 L531.59,117.49 L531.63,113.59 L531.67,109.6 L531.71,105.53 L531.76,101.38 L531.8,97.15 L531.84,92.86 L531.88,88.49 L531.93,84.06 L531.97,79.56 L532.01,75 L532.05,70.38 L532.09,65.7 L532.14,60.96 L532.18,56.17 L532.22,55.88 L532.26,60 L532.3,63.96 L532.35,67.74 L532.39,71.38 L532.43,74.86 L532.47,78.19 L532.52,81.39 L532.56,84.45 L532.6,87.39 L532.64,90.2 L532.68,92.9 L532.73,95.49 L532.77,97.97 L532.81,100.34 L532.85,102.62 L532.89,104.8 L532.94,106.89 L532.98,108.9 L533.02,110.82 L533.06,112.66 L533.11,114.43 L533.15,116.12 L533.19,117.74 L533.23,119.29 L533.27,120.78 L533.32,122.21 L533.36,123.58 L533.4,124.89 L533.44,126.15 L533.48,127.35 L533.53,128.51 L533.57,129.61 L533.61,130.67 L533.65,131.69 L533.7,132.67 L533.74,133.6 L533.78,134.5 L533.82,135.35 L533.86,136.18 L533.91,136.96 L533.95,137.72 L533.99,138.44 L534.03,139.14 L534.07,139.8 L534.12,140.44 L534.16,141.05 L534.2,141.64 L534.24,142.2 L534.29,142.74 L534.33,143.25 L534.37,143.75 L534.41,144.22 L534.45,144.67 L534.5,145.11 L534.54,145.53 L534.58,145.93 L534.62,146.31 L534.66,146.68 L534.71,147.03 L534.75,147.37 L534.79,147.69 L534.83,148 L534.88,148.3 L534.92,148.58 L534.96,148.85 L535,149.12 L535.04,149.37 L535.09,149.61 L535.13,149.84 L535.17,150.06 L535.21,150.27 L535.25,150.47 L535.3,150.67 L535.34,150.85 L535.38,151.03 L535.42,151.2 L535.47,151.37 L535.51,151.52 L535.55,151.68 L535.59,151.82 L535.63,151.96 L535.68,152.09 L535.72,152.22 L535.76,152.34 L535.8,152.46 L535.84,152.57 L535.89,152.68 L535.93,152.78 L535.97,152.88 L536.01,152.97 L536.06,153.06 L536.1,153.15 L536.14,153.23 L536.18,153.31 L536.22,153.39 L536.27,153.46 L536.31,153.53 L536.35,153.6 L536.39,153.66 L536.43,153.73 L536.48,153.78 L536.52,153.84 L536.56,153.9 L536.6,153.95 L536.65,154 L536.69,154.05 L536.73,154.09 L536.77,154.14 L536.81,154.18 L536.86,154.22 L536.9,154.26 L536.94,154.29 L536.98,154.33 L537.02,154.36 L537.07,154.4 L537.11,154.43 L537.15,154.46 L537.19,154.49 L537.24,154.51 L537.28,154.54 L537.32,154.57 L537.36,154.59 L537.4,154.61 L537.45,154.64 L537.49,154.66 L537.53,154.68 L537.57,154.7 L537.61,154.72 L537.66,154.73 L537.7,154.75 L537.74,154.77 L537.78,154.78 L537.83,154.8 L537.87,154.81 L537.91,154.83 L537.95,154.84 L537.99,154.85 L538.04,154.87 L538.08,154.88 L538.12,154.89 L538.16,154.9 L538.2,154.91 L538.25,154.92 L538.29,154.93 L538.33,154.94 L538.37,154.95 L538.42,154.96 L538.46,154.97 L538.5,154.97 L538.54,154.98 L538.58,154.99 L538.63,154.99 L538.67,155 L538.71,155.01 L538.75,155.01 L538.79,155.02 L538.84,155.02 L538.88,154.3 L538.92,152.44 L538.96,150.2 L539,147.69 L539.05,144.96 L539.09,142.05 L539.13,138.98 L539.17,135.78 L539.22,132.44 L539.26,128.99 L539.3,125.43 L539.34,121.77 L539.38,118.01 L539.43,114.16 L539.47,110.23 L539.51,106.21 L539.55,102.12 L539.59,97.95 L539.64,93.72 L539.68,89.41 L539.72,85.04 L539.76,80.6 L539.81,76.11 L539.85,71.55 L539.89,66.93 L539.93,62.26 L539.97,57.53 L540.02,57.25 L540.06,61.32 L540.1,65.22 L540.14,68.95 L540.18,72.53 L540.23,75.96 L540.27,79.25 L540.31,82.41 L540.35,85.43 L540.4,88.33 L540.44,91.1 L540.48,93.76 L540.52,96.31 L540.56,98.76 L540.61,101.1 L540.65,103.34 L540.69,105.5 L540.73,107.56 L540.77,109.54 L540.82,111.43 L540.86,113.25 L540.9,114.99 L540.94,116.66 L540.99,118.26 L541.03,119.79 L541.07,121.26 L541.11,122.67 L541.15,124.01 L541.2,125.31 L541.24,126.55 L541.28,127.74 L541.32,128.88 L541.36,129.97 L541.41,131.01 L541.45,132.02 L541.49,132.98 L541.53,133.9 L541.58,134.78 L541.62,135.63 L541.66,136.44 L541.7,137.22 L541.74,137.96 L541.79,138.67 L541.83,139.36 L541.87,140.02 L541.91,140.64 L541.95,141.25 L542,141.82 L542.04,142.38 L542.08,142.91 L542.12,143.42 L542.17,143.9 L542.21,144.37 L542.25,144.82 L542.29,145.25 L542.33,145.66 L542.38,146.05 L542.42,146.43 L542.46,146.79 L542.5,147.14 L542.54,147.47 L542.59,147.79 L542.63,148.1 L542.67,148.39 L542.71,148.67 L542.76,148.94 L542.8,149.2 L542.84,149.45 L542.88,149.68 L542.92,149.91 L542.97,150.13 L543.01,150.34 L543.05,150.54 L543.09,150.73 L543.13,150.91 L543.18,151.09 L543.22,151.26 L543.26,151.42 L543.3,151.57 L543.35,151.72 L543.39,151.87 L543.43,152 L543.47,152.13 L543.51,152.26 L543.56,152.38 L543.6,152.49 L543.64,152.6 L543.68,152.71 L543.72,152.81 L543.77,152.91 L543.81,153 L543.85,153.09 L543.89,153.18 L543.94,153.26 L543.98,153.34 L544.02,153.41 L544.06,153.48 L544.1,153.55 L544.15,153.62 L544.19,153.68 L544.23,153.74 L544.27,153.8 L544.31,153.86 L544.36,153.91 L544.4,153.96 L544.44,154.01 L544.48,154.06 L544.53,154.11 L544.57,154.15 L544.61,154.19 L544.65,154.23 L544.69,154.27 L544.74,154.31 L544.78,154.34 L544.82,154.37 L544.86,154.41 L544.9,154.44 L544.95,154.47 L544.99,154.5 L545.03,154.52 L545.07,154.55 L545.12,154.57 L545.16,154.6 L545.2,154.62 L545.24,154.64 L545.28,154.66 L545.33,154.68 L545.37,154.7 L545.41,154.72 L545.45,154.74 L545.49,154.76 L545.54,154.77 L545.58,154.79 L545.62,154.8 L545.66,154.82 L545.71,154.83 L545.75,154.85 L545.79,154.86 L545.83,154.87 L545.87,154.88 L545.92,154.89 L545.96,154.9 L546,154.91 L546.04,154.92 L546.08,154.93 L546.13,154.94 L546.17,154.95 L546.21,154.96 L546.25,154.97 L546.3,154.98 L546.34,154.98 L546.38,154.99 L546.42,155 L546.46,154.99 L546.51,153.46 L546.55,151.42 L546.59,149.07 L546.63,146.49 L546.67,143.71 L546.72,140.77 L546.76,137.68 L546.8,134.46 L546.84,131.12 L546.89,127.67 L546.93,124.11 L546.97,120.46 L547.01,116.72 L547.05,112.89 L547.1,108.98 L547.14,104.99 L547.18,100.93 L547.22,96.79 L547.26,92.59 L547.31,88.32 L547.35,83.99 L547.39,79.59 L547.43,75.14 L547.48,70.62 L547.52,66.05 L547.56,61.43 L547.6,56.75 L547.64,60.84 L547.69,64.76 L547.73,68.51 L547.77,72.11 L547.81,75.56 L547.85,78.87 L547.9,82.04 L547.94,85.07 L547.98,87.98 L548.02,90.77 L548.07,93.45 L548.11,96.01 L548.15,98.47 L548.19,100.82 L548.23,103.08 L548.28,105.24 L548.32,107.32 L548.36,109.3 L548.4,111.21 L548.44,113.03 L548.49,114.78 L548.53,116.46 L548.57,118.07 L548.61,119.61 L548.66,121.08 L548.7,122.5 L548.74,123.86 L548.78,125.16 L548.82,126.4 L548.87,127.6 L548.91,128.74 L548.95,129.84 L548.99,130.89 L549.03,131.9 L549.08,132.86 L549.12,133.79 L549.16,134.68 L549.2,135.53 L549.25,136.34 L549.29,137.12 L549.33,137.87 L549.37,138.59 L549.41,139.28 L549.46,139.94 L549.5,140.57 L549.54,141.18 L549.58,141.76 L549.62,142.31 L549.67,142.85 L549.71,143.36 L549.75,143.85 L549.79,144.32 L549.83,144.77 L549.88,145.2 L549.92,145.61 L549.96,146.01 L550,146.39 L550.05,146.75 L550.09,147.1 L550.13,147.44 L550.17,147.76 L550.21,148.06 L550.26,148.36 L550.3,148.64 L550.34,148.91 L550.38,149.17 L550.42,149.42 L550.47,149.66 L550.51,149.88 L550.55,150.1 L550.59,150.31 L550.64,150.51 L550.68,150.71 L550.72,150.89 L550.76,151.07 L550.8,151.24 L550.85,151.4 L550.89,151.56 L550.93,151.71 L550.97,151.85 L551.01,151.99 L551.06,152.12 L551.1,152.24 L551.14,152.36 L551.18,152.48 L551.23,152.59 L551.27,152.7 L551.31,152.8 L551.35,152.9 L551.39,152.99 L551.44,153.08 L551.48,153.17 L551.52,153.25 L551.56,153.33 L551.6,153.4 L551.65,153.48 L551.69,153.55 L551.73,153.61 L551.77,153.68 L551.82,153.74 L551.86,153.8 L551.9,153.85 L551.94,153.91 L551.98,153.96 L552.03,154.01 L552.07,154.06 L552.11,154.1 L552.15,154.14 L552.19,154.19 L552.24,154.23 L552.28,154.26 L552.32,154.3 L552.36,154.34 L552.41,154.37 L552.45,154.4 L552.49,154.43" stroke="#4a78aa" stroke-width="1.2" fill="none" stroke-linejoin="round"/>
<path d="M552.49,155.07 L552.53,155.07 L552.57,155.07 L552.62,155.07 L552.66,155.07 L552.7,155.07 L552.74,155.07 L552.78,155.07 L552.83,155.07 L552.87,155.07 L552.91,155.07 L552.95,155.07 L553,155.07 L553.04,155.07 L553.08,155.07 L553.12,155.07 L553.16,155.07 L553.21,155.07 L553.25,155.07 L553.29,155.07 L553.33,155.07 L553.37,155.07 L553.42,155.07 L553.46,155.07 L553.5,155.07 L553.54,155.07 L553.59,155.07 L553.63,155.07 L553.67,155.07 L553.71,155.07 L553.75,155.07 L553.8,155.07 L553.84,155.07 L553.88,155.07 L553.92,155.07 L553.96,155.07 L554.01,155.07 L554.05,155.07 L554.09,155.07 L554.13,155.07 L554.18,155.07 L554.22,155.07 L554.26,155.07 L554.3,155.07 L554.34,155.07 L554.39,155.07 L554.43,155.07 L554.47,155.07 L554.51,155.07 L554.55,155.07 L554.6,155.07 L554.64,155.07 L554.68,153.58 L554.72,151.28 L554.77,148.59 L554.81,145.61 L554.85,142.4 L554.89,138.99 L554.93,135.4 L554.98,131.66 L555.02,127.77 L555.06,123.75 L555.1,119.61 L555.14,115.35 L555.19,110.99 L555.23,106.52 L555.27,101.96 L555.31,97.3 L555.36,92.56 L555.4,87.73 L555.44,82.82 L555.48,77.83 L555.52,72.77 L555.57,67.63 L555.61,62.43 L555.65,57.15 L555.69,61.75 L555.73,66.14 L555.78,70.31 L555.82,74.3 L555.86,78.09 L555.9,81.71 L555.95,85.16 L555.99,88.44 L556.03,91.57 L556.07,94.56 L556.11,97.4 L556.16,100.11 L556.2,102.7 L556.24,105.16 L556.28,107.5 L556.32,109.74 L556.37,111.87 L556.41,113.9 L556.45,115.84 L556.49,117.69 L556.54,119.44 L556.58,121.12 L556.62,122.72 L556.66,124.24 L556.7,125.69 L556.75,127.07 L556.79,128.39 L556.83,129.65 L556.87,130.85 L556.91,131.99 L556.96,133.07 L557,134.11 L557.04,135.1 L557.08,136.04 L557.13,136.94 L557.17,137.79 L557.21,138.61 L557.25,139.38 L557.29,140.12 L557.34,140.83 L557.38,141.5 L557.42,142.14 L557.46,142.75 L557.5,143.33 L557.55,143.89 L557.59,144.42 L557.63,144.92 L557.67,145.4 L557.72,145.86 L557.76,146.3 L557.8,146.71 L557.84,147.11 L557.88,147.48 L557.93,147.84 L557.97,148.19 L558.01,148.51 L558.05,148.83 L558.09,149.12 L558.14,149.41 L558.18,149.68 L558.22,149.93 L558.26,150.18 L558.31,150.41 L558.35,150.63 L558.39,150.85 L558.43,151.05 L558.47,151.24 L558.52,151.42 L558.56,151.6 L558.6,151.77 L558.64,151.92 L558.68,152.08 L558.73,152.22 L558.77,152.36 L558.81,152.49 L558.85,152.61 L558.9,152.73 L558.94,152.85 L558.98,152.95 L559.02,153.06 L559.06,153.16 L559.11,153.25 L559.15,153.34 L559.19,153.42 L559.23,153.51 L559.27,153.58 L559.32,153.66 L559.36,153.73 L559.4,153.79 L559.44,153.86 L559.49,153.92 L559.53,153.98 L559.57,154.03 L559.61,154.08 L559.65,154.13 L559.7,154.18 L559.74,154.23 L559.78,154.27 L559.82,154.31 L559.86,154.35 L559.91,154.39 L559.95,154.42 L559.99,154.46 L560.03,154.49 L560.07,154.52 L560.12,154.55 L560.16,154.58 L560.2,154.61 L560.24,154.63 L560.29,154.66 L560.33,154.68 L560.37,154.7 L560.41,154.72 L560.45,154.74 L560.5,154.76 L560.54,154.78 L560.58,154.8 L560.62,154.81 L560.66,154.83 L560.71,154.85 L560.75,154.86 L560.79,154.87 L560.83,154.89 L560.88,154.9 L560.92,154.91 L560.96,154.92 L561,154.93 L561.04,154.94 L561.09,154.95 L561.13,154.96 L561.17,154.97 L561.21,154.98 L561.25,154.99 L561.3,155 L561.34,155 L561.38,155.01 L561.42,153.56 L561.47,151.22 L561.51,148.49 L561.55,145.47 L561.59,142.22 L561.63,138.76 L561.68,135.12 L561.72,131.32 L561.76,127.38 L561.8,123.3 L561.84,119.1 L561.89,114.78 L561.93,110.36 L561.97,105.83 L562.01,101.2 L562.06,96.47 L562.1,91.66 L562.14,86.77 L562.18,81.79 L562.22,76.73 L562.27,71.59 L562.31,66.38 L562.35,61.1 L562.39,55.75 L562.43,60.42 L562.48,64.86 L562.52,69.1 L562.56,73.14 L562.6,76.99 L562.65,80.66 L562.69,84.16 L562.73,87.49 L562.77,90.66 L562.81,93.69 L562.86,96.58 L562.9,99.33 L562.94,101.95 L562.98,104.44 L563.02,106.82 L563.07,109.09 L563.11,111.25 L563.15,113.31 L563.19,115.28 L563.24,117.15 L563.28,118.93 L563.32,120.63 L563.36,122.25 L563.4,123.8 L563.45,125.27 L563.49,126.67 L563.53,128.01 L563.57,129.28 L563.61,130.5 L563.66,131.66 L563.7,132.76 L563.74,133.81 L563.78,134.81 L563.83,135.77 L563.87,136.68 L563.91,137.54 L563.95,138.37 L563.99,139.16 L564.04,139.91 L564.08,140.62 L564.12,141.31 L564.16,141.96 L564.2,142.57 L564.25,143.17 L564.29,143.73 L564.33,144.26 L564.37,144.77 L564.42,145.26 L564.46,145.73 L564.5,146.17 L564.54,146.59 L564.58,146.99 L564.63,147.38 L564.67,147.74 L564.71,148.09 L564.75,148.42 L564.79,148.74 L564.84,149.04 L564.88,149.32 L564.92,149.6 L564.96,149.86 L565.01,150.11 L565.05,150.34 L565.09,150.57 L565.13,150.78 L565.17,150.99 L565.22,151.18 L565.26,151.37 L565.3,151.55 L565.34,151.72 L565.38,151.88 L565.43,152.03 L565.47,152.18 L565.51,152.32 L565.55,152.45 L565.6,152.58 L565.64,152.7 L565.68,152.81 L565.72,152.92 L565.76,153.03 L565.81,153.13 L565.85,153.22 L565.89,153.31 L565.93,153.4 L565.97,153.48 L566.02,153.56 L566.06,153.63 L566.1,153.71 L566.14,153.77 L566.19,153.84 L566.23,153.9 L566.27,153.96 L566.31,154.01 L566.35,154.07 L566.4,154.12 L566.44,154.17 L566.48,154.21 L566.52,154.26 L566.56,154.3 L566.61,154.34 L566.65,154.38 L566.69,154.41 L566.73,154.45 L566.78,154.48 L566.82,154.51 L566.86,154.54 L566.9,154.57 L566.94,154.6 L566.99,154.62 L567.03,154.65 L567.07,154.67 L567.11,154.7 L567.15,154.72 L567.2,154.74 L567.24,154.76 L567.28,154.78 L567.32,154.79 L567.37,154.81 L567.41,154.83 L567.45,154.84 L567.49,154.86 L567.53,154.87 L567.58,154.88 L567.62,154.9 L567.66,154.91 L567.7,154.92 L567.74,154.93 L567.79,154.94 L567.83,154.95 L567.87,154.96 L567.91,154.97 L567.96,153.56 L568,151.24 L568.04,148.53 L568.08,145.53 L568.12,142.29 L568.17,138.86 L568.21,135.24 L568.25,131.47 L568.29,127.55 L568.33,123.49 L568.38,119.32 L568.42,115.03 L568.46,110.63 L568.5,106.12 L568.55,101.52 L568.59,96.83 L568.63,92.05 L568.67,87.18 L568.71,82.23 L568.76,77.2 L568.8,72.1 L568.84,66.92 L568.88,61.67 L568.92,56.35 L568.97,60.99 L569.01,65.41 L569.05,69.62 L569.09,73.64 L569.14,77.46 L569.18,81.11 L569.22,84.58 L569.26,87.9 L569.3,91.05 L569.35,94.06 L569.39,96.93 L569.43,99.66 L569.47,102.27 L569.51,104.75 L569.56,107.12 L569.6,109.37 L569.64,111.52 L569.68,113.57 L569.73,115.52 L569.77,117.38 L569.81,119.15 L569.85,120.84 L569.89,122.45 L569.94,123.99 L569.98,125.45 L570.02,126.84 L570.06,128.17 L570.1,129.44 L570.15,130.65 L570.19,131.8 L570.23,132.89 L570.27,133.94 L570.32,134.93 L570.36,135.88 L570.4,136.79 L570.44,137.65 L570.48,138.47 L570.53,139.25 L570.57,140 L570.61,140.71 L570.65,141.39 L570.69,142.03 L570.74,142.65 L570.78,143.24 L570.82,143.8 L570.86,144.33 L570.9,144.84 L570.95,145.32 L570.99,145.78 L571.03,146.22 L571.07,146.64 L571.12,147.04 L571.16,147.42 L571.2,147.78 L571.24,148.13 L571.28,148.46 L571.33,148.77 L571.37,149.07 L571.41,149.36 L571.45,149.63 L571.49,149.89 L571.54,150.14 L571.58,150.37 L571.62,150.6 L571.66,150.81 L571.71,151.01 L571.75,151.21 L571.79,151.39 L571.83,151.57 L571.87,151.74 L571.92,151.9 L571.96,152.05 L572,152.2 L572.04,152.34 L572.08,152.47 L572.13,152.59 L572.17,152.71 L572.21,152.83 L572.25,152.94 L572.3,153.04 L572.34,153.14 L572.38,153.23 L572.42,153.32 L572.46,153.41 L572.51,153.49 L572.55,153.57 L572.59,153.64 L572.63,153.71 L572.67,153.78 L572.72,153.85 L572.76,153.91 L572.8,153.97 L572.84,154.02 L572.89,154.07 L572.93,154.13 L572.97,154.17 L573.01,154.22 L573.05,154.26 L573.1,154.3 L573.14,154.34 L573.18,154.38 L573.22,154.42 L573.26,154.45 L573.31,154.49 L573.35,154.52 L573.39,154.55 L573.43,154.58 L573.48,154.6 L573.52,154.63 L573.56,154.65 L573.6,154.68 L573.64,154.7 L573.69,154.72 L573.73,154.74 L573.77,154.76 L573.81,154.78 L573.85,154.8 L573.9,154.81 L573.94,154.83 L573.98,154.84 L574.02,154.86 L574.07,154.87 L574.11,154.88 L574.15,154.9 L574.19,154.91 L574.23,154.92 L574.28,154.93 L574.32,154.94 L574.36,154.95 L574.4,154.96 L574.44,154.97 L574.49,154.98 L574.53,154.99 L574.57,154.99 L574.61,155 L574.66,155.01 L574.7,155.02 L574.74,155.02 L574.78,155.03 L574.82,155.03 L574.87,155.04 L574.91,153.58 L574.95,151.28 L574.99,148.59 L575.03,145.61 L575.08,142.4 L575.12,138.99 L575.16,135.4 L575.2,131.66 L575.25,127.77 L575.29,123.75 L575.33,119.61 L575.37,115.35 L575.41,110.99 L575.46,106.52 L575.5,101.96 L575.54,97.3 L575.58,92.56 L575.62,87.73 L575.67,82.82 L575.71,77.83 L575.75,72.77 L575.79,67.63 L575.84,62.43 L575.88,57.15 L575.92,61.75 L575.96,66.14 L576,70.31 L576.05,74.3 L576.09,78.09 L576.13,81.71 L576.17,85.16 L576.21,88.44 L576.26,91.57 L576.3,94.56 L576.34,97.4 L576.38,100.11 L576.43,102.7 L576.47,105.16 L576.51,107.5 L576.55,109.74 L576.59,111.87 L576.64,113.9 L576.68,115.84 L576.72,117.69 L576.76,119.44 L576.8,121.12 L576.85,122.72 L576.89,124.24 L576.93,125.69 L576.97,127.07 L577.02,128.39 L577.06,129.65 L577.1,130.85 L577.14,131.99 L577.18,133.07 L577.23,134.11 L577.27,135.1 L577.31,136.04 L577.35,136.94 L577.39,137.79 L577.44,138.61 L577.48,139.38 L577.52,140.12 L577.56,140.83 L577.61,141.5 L577.65,142.14 L577.69,142.75 L577.73,143.33 L577.77,143.89 L577.82,144.42 L577.86,144.92 L577.9,145.4 L577.94,145.86 L577.98,146.3 L578.03,146.71 L578.07,147.11 L578.11,147.48 L578.15,147.84 L578.2,148.19 L578.24,148.51 L578.28,148.83 L578.32,149.12 L578.36,149.41 L578.41,149.68 L578.45,149.93 L578.49,150.18 L578.53,150.41 L578.57,150.63 L578.62,150.85 L578.66,151.05 L578.7,151.24 L578.74,151.42 L578.79,151.6 L578.83,151.77 L578.87,151.92 L578.91,152.08 L578.95,152.22 L579,152.36 L579.04,152.49 L579.08,152.61 L579.12,152.73 L579.16,152.85 L579.21,152.95 L579.25,153.06 L579.29,153.16 L579.33,153.25 L579.38,153.34 L579.42,153.42 L579.46,153.51 L579.5,153.58 L579.54,153.66 L579.59,153.73 L579.63,153.79 L579.67,153.86 L579.71,153.92 L579.75,153.98 L579.8,154.03 L579.84,154.08 L579.88,154.13 L579.92,154.18 L579.97,154.23 L580.01,154.27 L580.05,154.31 L580.09,154.35 L580.13,154.39 L580.18,154.42 L580.22,154.46 L580.26,154.49 L580.3,154.52 L580.34,154.55 L580.39,154.58 L580.43,154.61 L580.47,154.63 L580.51,154.66 L580.56,154.68 L580.6,154.7 L580.64,154.72 L580.68,154.74 L580.72,154.76 L580.77,154.78 L580.81,154.8 L580.85,154.81 L580.89,154.83 L580.93,154.85 L580.98,154.86 L581.02,154.87 L581.06,154.89 L581.1,154.9 L581.14,154.91 L581.19,154.92 L581.23,154.93 L581.27,154.94 L581.31,154.95 L581.36,154.96 L581.4,154.97 L581.44,153.6 L581.48,151.34 L581.52,148.69 L581.57,145.77 L581.61,142.61 L581.65,139.25 L581.69,135.72 L581.73,132.04 L581.78,128.22 L581.82,124.26 L581.86,120.19 L581.9,116 L581.95,111.71 L581.99,107.31 L582.03,102.82 L582.07,98.25 L582.11,93.58 L582.16,88.83 L582.2,84 L582.24,79.09 L582.28,74.11 L582.32,69.06 L582.37,63.94 L582.41,58.75 L582.45,63.28 L582.49,67.59 L582.54,71.7 L582.58,75.62 L582.62,79.35 L582.66,82.91 L582.7,86.3 L582.75,89.53 L582.79,92.61 L582.83,95.55 L582.87,98.34 L582.91,101.01 L582.96,103.55 L583,105.97 L583.04,108.28 L583.08,110.48 L583.13,112.58 L583.17,114.58 L583.21,116.48 L583.25,118.3 L583.29,120.03 L583.34,121.68 L583.38,123.25 L583.42,124.74 L583.46,126.17 L583.5,127.53 L583.55,128.83 L583.59,130.06 L583.63,131.24 L583.67,132.36 L583.72,133.43 L583.76,134.45 L583.8,135.42 L583.84,136.35 L583.88,137.23 L583.93,138.07 L583.97,138.88 L584.01,139.64 L584.05,140.37 L584.09,141.06 L584.14,141.72 L584.18,142.35 L584.22,142.95 L584.26,143.53 L584.31,144.07 L584.35,144.59 L584.39,145.09 L584.43,145.56 L584.47,146.01 L584.52,146.44 L584.56,146.85 L584.6,147.24 L584.64,147.61 L584.68,147.96 L584.73,148.3 L584.77,148.62 L584.81,148.93 L584.85,149.22 L584.9,149.5 L584.94,149.76 L584.98,150.02 L585.02,150.26 L585.06,150.49 L585.11,150.71 L585.15,150.92 L585.19,151.11 L585.23,151.3 L585.27,151.48 L585.32,151.66 L585.36,151.82 L585.4,151.98 L585.44,152.13 L585.49,152.27 L585.53,152.4 L585.57,152.53 L585.61,152.66 L585.65,152.77 L585.7,152.88 L585.74,152.99 L585.78,153.09 L585.82,153.19 L585.86,153.28 L585.91,153.37 L585.95,153.45 L585.99,153.53 L586.03,153.61 L586.08,153.68 L586.12,153.75 L586.16,153.82 L586.2,153.88 L586.24,153.94 L586.29,153.99 L586.33,154.05 L586.37,154.1 L586.41,154.15 L586.45,154.2 L586.5,154.24 L586.54,154.28 L586.58,154.33 L586.62,154.36 L586.67,154.4 L586.71,154.44 L586.75,154.47 L586.79,154.5 L586.83,154.53 L586.88,154.56 L586.92,154.59 L586.96,154.62 L587,154.64 L587.04,154.66 L587.09,154.69 L587.13,154.71 L587.17,154.73 L587.21,154.75 L587.26,154.77 L587.3,154.79 L587.34,154.8 L587.38,154.82 L587.42,154.84 L587.47,154.85 L587.51,154.86 L587.55,154.88 L587.59,154.89 L587.63,154.9 L587.68,154.91 L587.72,154.93 L587.76,154.94 L587.8,154.95 L587.85,154.96 L587.89,154.97 L587.93,154.97 L587.97,154.98 L588.01,154.99 L588.06,155 L588.1,155.01 L588.14,155.01 L588.18,155.02 L588.22,155.02 L588.27,155.03 L588.31,155.04 L588.35,155.04 L588.39,153.55 L588.44,151.21 L588.48,148.47 L588.52,145.43 L588.56,142.16 L588.6,138.69 L588.65,135.04 L588.69,131.23 L588.73,127.27 L588.77,123.17 L588.81,118.95 L588.86,114.62 L588.9,110.18 L588.94,105.63 L588.98,100.98 L589.03,96.24 L589.07,91.41 L589.11,86.49 L589.15,81.49 L589.19,76.41 L589.24,71.26 L589.28,66.03 L589.32,60.72 L589.36,55.35 L589.4,60.04 L589.45,64.5 L589.49,68.76 L589.53,72.81 L589.57,76.68 L589.62,80.36 L589.66,83.87 L589.7,87.22 L589.74,90.41 L589.78,93.44 L589.83,96.34 L589.87,99.1 L589.91,101.73 L589.95,104.24 L589.99,106.63 L590.04,108.91 L590.08,111.08 L590.12,113.15 L590.16,115.12 L590.21,117 L590.25,118.79 L590.29,120.5 L590.33,122.12 L590.37,123.67 L590.42,125.15 L590.46,126.56 L590.5,127.9 L590.54,129.18 L590.58,130.4 L590.63,131.56 L590.67,132.67 L590.71,133.72 L590.75,134.73 L590.8,135.69 L590.84,136.6 L590.88,137.47 L590.92,138.3 L590.96,139.09 L591.01,139.85 L591.05,140.56 L591.09,141.25 L591.13,141.9 L591.17,142.52 L591.22,143.12 L591.26,143.68 L591.3,144.22 L591.34,144.73 L591.39,145.22 L591.43,145.69 L591.47,146.13 L591.51,146.56 L591.55,146.96 L591.6,147.34 L591.64,147.71 L591.68,148.06 L591.72,148.39 L591.76,148.71 L591.81,149.01 L591.85,149.3 L591.89,149.57 L591.93,149.84 L591.97,150.09 L592.02,150.32 L592.06,150.55 L592.1,150.77 L592.14,150.97 L592.19,151.17 L592.23,151.36 L592.27,151.53 L592.31,151.7 L592.35,151.87 L592.4,152.02 L592.44,152.17 L592.48,152.31 L592.52,152.44 L592.56,152.57 L592.61,152.69 L592.65,152.8 L592.69,152.91 L592.73,153.02 L592.78,153.12 L592.82,153.21 L592.86,153.31 L592.9,153.39 L592.94,153.48" stroke="#f59a42" stroke-width="1.2" fill="none" stroke-linejoin="round"/>
<path d="M592.94,155.07 L592.99,155.07 L593.03,155.07 L593.07,155.07 L593.11,155.07 L593.15,155.07 L593.2,155.07 L593.24,155.07 L593.28,155.07 L593.32,155.07 L593.37,155.07 L593.41,155.07 L593.45,155.07 L593.49,155.07 L593.53,155.07 L593.58,155.07 L593.62,155.07 L593.66,155.07 L593.7,155.07 L593.74,155.07 L593.79,155.07 L593.83,155.07 L593.87,155.07 L593.91,155.07 L593.96,155.07 L594,155.07 L594.04,155.07 L594.08,155.07 L594.12,155.07 L594.17,155.07 L594.21,155.07 L594.25,155.07 L594.29,155.07 L594.33,155.07 L594.38,155.07 L594.42,155.07 L594.46,155.07 L594.5,155.07 L594.55,155.07 L594.59,154.22 L594.63,151.81 L594.67,148.88 L594.71,145.57 L594.76,141.98 L594.8,138.14 L594.84,134.08 L594.88,129.84 L594.92,125.43 L594.97,120.86 L595.01,116.15 L595.05,111.3 L595.09,106.32 L595.14,101.22 L595.18,96.01 L595.22,90.69 L595.26,85.27 L595.3,79.75 L595.35,74.14 L595.39,68.43 L595.43,62.63 L595.47,56.75 L595.51,61.87 L595.56,66.72 L595.6,71.32 L595.64,75.68 L595.68,79.82 L595.73,83.73 L595.77,87.45 L595.81,90.97 L595.85,94.31 L595.89,97.47 L595.94,100.47 L595.98,103.32 L596.02,106.02 L596.06,108.57 L596.1,110.99 L596.15,113.29 L596.19,115.47 L596.23,117.53 L596.27,119.49 L596.32,121.34 L596.36,123.1 L596.4,124.77 L596.44,126.35 L596.48,127.85 L596.53,129.27 L596.57,130.62 L596.61,131.89 L596.65,133.1 L596.69,134.25 L596.74,135.34 L596.78,136.37 L596.82,137.34 L596.86,138.27 L596.91,139.15 L596.95,139.98 L596.99,140.77 L597.03,141.52 L597.07,142.23 L597.12,142.9 L597.16,143.54 L597.2,144.14 L597.24,144.71 L597.28,145.26 L597.33,145.77 L597.37,146.26 L597.41,146.72 L597.45,147.16 L597.5,147.58 L597.54,147.97 L597.58,148.34 L597.62,148.7 L597.66,149.03 L597.71,149.35 L597.75,149.65 L597.79,149.94 L597.83,150.21 L597.87,150.47 L597.92,150.71 L597.96,150.94 L598,151.16 L598.04,151.37 L598.09,151.57 L598.13,151.75 L598.17,151.93 L598.21,152.1 L598.25,152.26 L598.3,152.41 L598.34,152.55 L598.38,152.68 L598.42,152.81 L598.46,152.93 L598.51,153.05 L598.55,153.16 L598.59,153.26 L598.63,153.36 L598.68,153.45 L598.72,153.54 L598.76,153.63 L598.8,153.71 L598.84,153.78 L598.89,153.85 L598.93,153.92 L598.97,153.98 L599.01,154.04 L599.05,154.1 L599.1,154.16 L599.14,154.21 L599.18,154.26 L599.22,154.3 L599.27,154.35 L599.31,154.39 L599.35,154.43 L599.39,154.47 L599.43,154.5 L599.48,154.54 L599.52,154.57 L599.56,154.6 L599.6,154.63 L599.64,154.65 L599.69,154.68 L599.73,154.7 L599.77,154.73 L599.81,154.75 L599.86,154.77 L599.9,154.79 L599.94,154.81 L599.98,154.83 L600.02,154.84 L600.07,154.86 L600.11,154.88 L600.15,154.89 L600.19,154.9 L600.23,154.92 L600.28,154.93 L600.32,154.94 L600.36,154.95 L600.4,154.96 L600.45,154.97 L600.49,154.98 L600.53,154.99 L600.57,155 L600.61,155.01 L600.66,155.01 L600.7,155.02 L600.74,155.03 L600.78,155.03 L600.82,155.04 L600.87,155.05 L600.91,154.22 L600.95,151.83 L600.99,148.9 L601.04,145.61 L601.08,142.03 L601.12,138.2 L601.16,134.17 L601.2,129.95 L601.25,125.55 L601.29,121 L601.33,116.31 L601.37,111.48 L601.41,106.52 L601.46,101.44 L601.5,96.25 L601.54,90.96 L601.58,85.56 L601.63,80.06 L601.67,74.46 L601.71,68.78 L601.75,63.01 L601.79,57.15 L601.84,62.25 L601.88,67.08 L601.92,71.66 L601.96,76.01 L602,80.12 L602.05,84.03 L602.09,87.73 L602.13,91.23 L602.17,94.56 L602.22,97.71 L602.26,100.7 L602.3,103.53 L602.34,106.21 L602.38,108.76 L602.43,111.17 L602.47,113.46 L602.51,115.63 L602.55,117.69 L602.59,119.63 L602.64,121.48 L602.68,123.23 L602.72,124.89 L602.76,126.47 L602.8,127.96 L602.85,129.37 L602.89,130.71 L602.93,131.99 L602.97,133.19 L603.02,134.33 L603.06,135.42 L603.1,136.44 L603.14,137.42 L603.18,138.34 L603.23,139.21 L603.27,140.04 L603.31,140.83 L603.35,141.57 L603.39,142.28 L603.44,142.95 L603.48,143.58 L603.52,144.19 L603.56,144.76 L603.61,145.3 L603.65,145.81 L603.69,146.3 L603.73,146.76 L603.77,147.19 L603.82,147.61 L603.86,148 L603.9,148.37 L603.94,148.72 L603.98,149.06 L604.03,149.38 L604.07,149.68 L604.11,149.96 L604.15,150.23 L604.2,150.49 L604.24,150.73 L604.28,150.96 L604.32,151.18 L604.36,151.38 L604.41,151.58 L604.45,151.77 L604.49,151.94 L604.53,152.11 L604.57,152.27 L604.62,152.42 L604.66,152.56 L604.7,152.69 L604.74,152.82 L604.79,152.94 L604.83,153.06 L604.87,153.17 L604.91,153.27 L604.95,153.37 L605,153.46 L605.04,153.55 L605.08,153.63 L605.12,153.71 L605.16,153.79 L605.21,153.86 L605.25,153.92 L605.29,153.99 L605.33,154.05 L605.38,154.11 L605.42,154.16 L605.46,154.21 L605.5,154.26 L605.54,154.31 L605.59,154.35 L605.63,154.39 L605.67,154.43 L605.71,154.47 L605.75,154.51 L605.8,154.54 L605.84,154.57 L605.88,154.6 L605.92,154.63 L605.97,154.66 L606.01,154.68 L606.05,154.71 L606.09,154.73 L606.13,154.75 L606.18,154.77 L606.22,154.79 L606.26,154.81 L606.3,154.83 L606.34,154.85 L606.39,154.86 L606.43,154.88 L606.47,154.89 L606.51,154.9 L606.56,154.92 L606.6,154.93 L606.64,154.94 L606.68,154.95 L606.72,154.96 L606.77,154.97 L606.81,154.21 L606.85,151.78 L606.89,148.81 L606.93,145.47 L606.98,141.84 L607.02,137.96 L607.06,133.87 L607.1,129.59 L607.15,125.13 L607.19,120.51 L607.23,115.75 L607.27,110.85 L607.31,105.83 L607.36,100.68 L607.4,95.41 L607.44,90.04 L607.48,84.56 L607.52,78.99 L607.57,73.31 L607.61,67.55 L607.65,61.69 L607.69,55.75 L607.74,60.92 L607.78,65.82 L607.82,70.47 L607.86,74.87 L607.9,79.05 L607.95,83.01 L607.99,86.76 L608.03,90.32 L608.07,93.69 L608.11,96.89 L608.16,99.92 L608.2,102.79 L608.24,105.52 L608.28,108.1 L608.33,110.55 L608.37,112.87 L608.41,115.07 L608.45,117.15 L608.49,119.13 L608.54,121 L608.58,122.78 L608.62,124.46 L608.66,126.06 L608.7,127.57 L608.75,129.01 L608.79,130.37 L608.83,131.66 L608.87,132.88 L608.92,134.04 L608.96,135.13 L609,136.18 L609.04,137.16 L609.08,138.1 L609.13,138.99 L609.17,139.83 L609.21,140.62 L609.25,141.38 L609.29,142.1 L609.34,142.77 L609.38,143.42 L609.42,144.03 L609.46,144.61 L609.51,145.16 L609.55,145.68 L609.59,146.17 L609.63,146.64 L609.67,147.08 L609.72,147.5 L609.76,147.9 L609.8,148.27 L609.84,148.63 L609.88,148.97 L609.93,149.29 L609.97,149.6 L610.01,149.89 L610.05,150.16 L610.1,150.42 L610.14,150.67 L610.18,150.9 L610.22,151.12 L610.26,151.33 L610.31,151.53 L610.35,151.72 L610.39,151.9 L610.43,152.07 L610.47,152.23 L610.52,152.38 L610.56,152.52 L610.6,152.66 L610.64,152.79 L610.69,152.91 L610.73,153.03 L610.77,153.14 L610.81,153.24 L610.85,153.34 L610.9,153.44 L610.94,153.53 L610.98,153.61 L611.02,153.69 L611.06,153.77 L611.11,153.84 L611.15,153.91 L611.19,153.97 L611.23,154.03 L611.28,154.09 L611.32,154.15 L611.36,154.2 L611.4,154.25 L611.44,154.3 L611.49,154.34 L611.53,154.38 L611.57,154.42 L611.61,154.46 L611.65,154.5 L611.7,154.53 L611.74,154.56 L611.78,154.59 L611.82,154.62 L611.87,154.65 L611.91,154.68 L611.95,154.7 L611.99,154.72 L612.03,154.75 L612.08,154.77 L612.12,154.79 L612.16,154.81 L612.2,154.82 L612.24,154.84 L612.29,154.86 L612.33,154.87 L612.37,154.89 L612.41,154.9 L612.46,154.91 L612.5,154.93 L612.54,154.94 L612.58,154.95 L612.62,154.96 L612.67,154.97 L612.71,154.98 L612.75,154.99 L612.79,155 L612.83,155 L612.88,155.01 L612.92,154.21 L612.96,151.78 L613,148.81 L613.04,145.47 L613.09,141.84 L613.13,137.96 L613.17,133.87 L613.21,129.59 L613.26,125.13 L613.3,120.51 L613.34,115.75 L613.38,110.85 L613.42,105.83 L613.47,100.68 L613.51,95.41 L613.55,90.04 L613.59,84.56 L613.63,78.99 L613.68,73.31 L613.72,67.55 L613.76,61.69 L613.8,55.75 L613.85,60.92 L613.89,65.82 L613.93,70.47 L613.97,74.87 L614.01,79.05 L614.06,83.01 L614.1,86.76 L614.14,90.32 L614.18,93.69 L614.22,96.89 L614.27,99.92 L614.31,102.79 L614.35,105.52 L614.39,108.1 L614.44,110.55 L614.48,112.87 L614.52,115.07 L614.56,117.15 L614.6,119.13 L614.65,121 L614.69,122.78 L614.73,124.46 L614.77,126.06 L614.81,127.57 L614.86,129.01 L614.9,130.37 L614.94,131.66 L614.98,132.88 L615.03,134.04 L615.07,135.13 L615.11,136.18 L615.15,137.16 L615.19,138.1 L615.24,138.99 L615.28,139.83 L615.32,140.62 L615.36,141.38 L615.4,142.1 L615.45,142.77 L615.49,143.42 L615.53,144.03 L615.57,144.61 L615.62,145.16 L615.66,145.68 L615.7,146.17 L615.74,146.64 L615.78,147.08 L615.83,147.5 L615.87,147.9 L615.91,148.27 L615.95,148.63 L615.99,148.97 L616.04,149.29 L616.08,149.6 L616.12,149.89 L616.16,150.16 L616.21,150.42 L616.25,150.67 L616.29,150.9 L616.33,151.12 L616.37,151.33 L616.42,151.53 L616.46,151.72 L616.5,151.9 L616.54,152.07 L616.58,152.23 L616.63,152.38 L616.67,152.52 L616.71,152.66 L616.75,152.79 L616.8,152.91 L616.84,153.03 L616.88,153.14 L616.92,153.24 L616.96,153.34 L617.01,153.44 L617.05,153.53 L617.09,153.61 L617.13,153.69 L617.17,153.77 L617.22,153.84 L617.26,153.91 L617.3,153.97 L617.34,154.03 L617.39,154.09 L617.43,154.15 L617.47,154.2 L617.51,154.25 L617.55,154.3 L617.6,154.34 L617.64,154.38 L617.68,154.42 L617.72,154.46 L617.76,154.5 L617.81,154.53 L617.85,154.56 L617.89,154.59 L617.93,154.62 L617.98,154.65 L618.02,154.68 L618.06,154.7 L618.1,154.72 L618.14,154.75 L618.19,154.77 L618.23,154.79 L618.27,154.81 L618.31,154.82 L618.35,154.84 L618.4,154.86 L618.44,154.87 L618.48,154.89 L618.52,154.9 L618.57,154.91 L618.61,154.93 L618.65,154.94 L618.69,154.95 L618.73,154.96 L618.78,154.97 L618.82,154.21 L618.86,151.77 L618.9,148.79 L618.94,145.43 L618.99,141.79 L619.03,137.89 L619.07,133.78 L619.11,129.48 L619.16,125.01 L619.2,120.37 L619.24,115.59 L619.28,110.67 L619.32,105.63 L619.37,100.46 L619.41,95.17 L619.45,89.78 L619.49,84.28 L619.53,78.68 L619.58,72.98 L619.62,67.19 L619.66,61.32 L619.7,55.35 L619.75,60.54 L619.79,65.46 L619.83,70.13 L619.87,74.55 L619.91,78.74 L619.96,82.72 L620,86.49 L620.04,90.06 L620.08,93.44 L620.12,96.65 L620.17,99.7 L620.21,102.58 L620.25,105.32 L620.29,107.91 L620.34,110.37 L620.38,112.7 L620.42,114.9 L620.46,117 L620.5,118.98 L620.55,120.86 L620.59,122.65 L620.63,124.34 L620.67,125.94 L620.71,127.46 L620.76,128.9 L620.8,130.27 L620.84,131.56 L620.88,132.79 L620.93,133.95 L620.97,135.05 L621.01,136.1 L621.05,137.09 L621.09,138.03 L621.14,138.92 L621.18,139.76 L621.22,140.56 L621.26,141.32 L621.3,142.04 L621.35,142.72 L621.39,143.37 L621.43,143.98 L621.47,144.56 L621.52,145.12 L621.56,145.64 L621.6,146.13 L621.64,146.6 L621.68,147.05 L621.73,147.47 L621.77,147.87 L621.81,148.25 L621.85,148.61 L621.89,148.95 L621.94,149.27 L621.98,149.57 L622.02,149.87 L622.06,150.14 L622.11,150.4 L622.15,150.65 L622.19,150.88 L622.23,151.1 L622.27,151.31 L622.32,151.51 L622.36,151.7 L622.4,151.88 L622.44,152.05 L622.48,152.21 L622.53,152.37 L622.57,152.51 L622.61,152.65 L622.65,152.78 L622.7,152.9 L622.74,153.02 L622.78,153.13 L622.82,153.24 L622.86,153.34 L622.91,153.43 L622.95,153.52 L622.99,153.6 L623.03,153.68 L623.07,153.76 L623.12,153.83 L623.16,153.9 L623.2,153.97 L623.24,154.03 L623.29,154.09 L623.33,154.14 L623.37,154.19 L623.41,154.24 L623.45,154.29 L623.5,154.34 L623.54,154.38 L623.58,154.42 L623.62,154.46 L623.66,154.49 L623.71,154.53 L623.75,154.56 L623.79,154.59 L623.83,154.62 L623.87,154.65 L623.92,154.67 L623.96,154.7 L624,154.72 L624.04,154.74 L624.09,154.77 L624.13,154.79 L624.17,154.8 L624.21,154.82 L624.25,154.84 L624.3,154.86 L624.34,154.87 L624.38,154.89 L624.42,154.9 L624.46,154.91 L624.51,154.93 L624.55,154.94 L624.59,154.95 L624.63,154.96 L624.68,154.97 L624.72,154.98 L624.76,154.99 L624.8,155 L624.84,155 L624.89,155.01 L624.93,154.2 L624.97,151.73 L625.01,148.72 L625.05,145.34 L625.1,141.65 L625.14,137.72 L625.18,133.57 L625.22,129.23 L625.27,124.71 L625.31,120.03 L625.35,115.2 L625.39,110.23 L625.43,105.13 L625.48,99.91 L625.52,94.57 L625.56,89.12 L625.6,83.57 L625.64,77.91 L625.69,72.16 L625.73,66.31 L625.77,60.38 L625.81,54.35 L625.86,59.59 L625.9,64.57 L625.94,69.28 L625.98,73.74 L626.02,77.98 L626.07,81.99 L626.11,85.8 L626.15,89.41 L626.19,92.83 L626.23,96.07 L626.28,99.14 L626.32,102.05 L626.36,104.82 L626.4,107.44 L626.45,109.92 L626.49,112.27 L626.53,114.5 L626.57,116.62 L626.61,118.62 L626.66,120.52 L626.7,122.32 L626.74,124.03 L626.78,125.65 L626.82,127.18 L626.87,128.64 L626.91,130.02 L626.95,131.32 L626.99,132.56 L627.04,133.74 L627.08,134.85 L627.12,135.91 L627.16,136.91 L627.2,137.86 L627.25,138.76 L627.29,139.61 L627.33,140.42 L627.37,141.19 L627.41,141.91 L627.46,142.6 L627.5,143.25 L627.54,143.87 L627.58,144.46 L627.63,145.02 L627.67,145.54 L627.71,146.04 L627.75,146.52 L627.79,146.97 L627.84,147.39 L627.88,147.79 L627.92,148.18 L627.96,148.54 L628,148.88 L628.05,149.21 L628.09,149.52 L628.13,149.81 L628.17,150.09 L628.22,150.35 L628.26,150.6 L628.3,150.84 L628.34,151.06 L628.38,151.28 L628.43,151.48 L628.47,151.67 L628.51,151.85 L628.55,152.02 L628.59,152.18 L628.64,152.34 L628.68,152.49 L628.72,152.62 L628.76,152.76 L628.81,152.88 L628.85,153 L628.89,153.11 L628.93,153.22 L628.97,153.32" stroke="#52b3a7" stroke-width="1.2" fill="none" stroke-linejoin="round"/>
<path d="M628.76,155.07 L628.81,155.07 L628.85,155.07 L628.89,155.07 L628.93,155.07 L628.97,155.07 L629.02,155.07 L629.06,155.07 L629.1,155.07 L629.14,155.07 L629.18,155.07 L629.23,155.07 L629.27,155.07 L629.31,155.07 L629.35,155.07 L629.4,155.07 L629.44,155.07 L629.48,155.07 L629.52,155.07 L629.56,155.07 L629.61,155.07 L629.65,155.07 L629.69,155.07 L629.73,155.07 L629.77,155.07 L629.82,155.07 L629.86,155.07 L629.9,155.07 L629.94,155.07 L629.99,155.07 L630.03,155.07 L630.07,155.07 L630.11,155.07 L630.15,155.07 L630.2,155.07 L630.24,155.07 L630.28,154.22 L630.32,150.43 L630.36,145.63 L630.41,140.18 L630.45,134.21 L630.49,127.83 L630.53,121.07 L630.58,113.99 L630.62,106.62 L630.66,98.98 L630.7,91.09 L630.74,82.97 L630.79,74.63 L630.83,66.09 L630.87,57.35 L630.91,64.88 L630.95,71.83 L631,78.25 L631.04,84.17 L631.08,89.64 L631.12,94.68 L631.17,99.34 L631.21,103.64 L631.25,107.6 L631.29,111.26 L631.33,114.64 L631.38,117.76 L631.42,120.64 L631.46,123.3 L631.5,125.75 L631.54,128.02 L631.59,130.1 L631.63,132.03 L631.67,133.81 L631.71,135.46 L631.76,136.97 L631.8,138.37 L631.84,139.66 L631.88,140.86 L631.92,141.96 L631.97,142.97 L632.01,143.91 L632.05,144.78 L632.09,145.58 L632.13,146.31 L632.18,146.99 L632.22,147.62 L632.26,148.2 L632.3,148.74 L632.35,149.23 L632.39,149.69 L632.43,150.11 L632.47,150.5 L632.51,150.85 L632.56,151.19 L632.6,151.49 L632.64,151.77 L632.68,152.03 L632.72,152.27 L632.77,152.49 L632.81,152.7 L632.85,152.89 L632.89,153.06 L632.94,153.22 L632.98,153.37 L633.02,153.51 L633.06,153.64 L633.1,153.75 L633.15,153.86 L633.19,153.96 L633.23,154.05 L633.27,154.14 L633.31,154.21 L633.36,154.29 L633.4,154.35 L633.44,154.41 L633.48,154.47 L633.53,154.52 L633.57,154.57 L633.61,154.62 L633.65,154.66 L633.69,154.7 L633.74,154.73 L633.78,154.76 L633.82,154.79 L633.86,154.82 L633.9,154.85 L633.95,154.87 L633.99,154.89 L634.03,154.91 L634.07,154.93 L634.11,154.95 L634.16,154.96 L634.2,154.98 L634.24,154.99 L634.28,154.22 L634.33,150.42 L634.37,145.61 L634.41,140.14 L634.45,134.17 L634.49,127.77 L634.54,121 L634.58,113.91 L634.62,106.52 L634.66,98.86 L634.7,90.96 L634.75,82.82 L634.79,74.46 L634.83,65.9 L634.87,57.15 L634.92,64.7 L634.96,71.66 L635,78.09 L635.04,84.03 L635.08,89.5 L635.13,94.56 L635.17,99.22 L635.21,103.53 L635.25,107.5 L635.29,111.17 L635.34,114.56 L635.38,117.69 L635.42,120.57 L635.46,123.23 L635.51,125.69 L635.55,127.96 L635.59,130.05 L635.63,131.99 L635.67,133.77 L635.72,135.42 L635.76,136.94 L635.8,138.34 L635.84,139.63 L635.88,140.83 L635.93,141.93 L635.97,142.95 L636.01,143.89 L636.05,144.76 L636.1,145.56 L636.14,146.3 L636.18,146.98 L636.22,147.61 L636.26,148.19 L636.31,148.72 L636.35,149.22 L636.39,149.68 L636.43,150.1 L636.47,150.49 L636.52,150.85 L636.56,151.18 L636.6,151.48 L636.64,151.77 L636.69,152.03 L636.73,152.27 L636.77,152.49 L636.81,152.69 L636.85,152.88 L636.9,153.06 L636.94,153.22 L636.98,153.37 L637.02,153.51 L637.06,153.63 L637.11,153.75 L637.15,153.86 L637.19,153.96 L637.23,154.05 L637.28,154.13 L637.32,154.21 L637.36,154.28 L637.4,154.35 L637.44,154.41 L637.49,154.47 L637.53,154.52 L637.57,154.57 L637.61,154.62 L637.65,154.66 L637.7,154.69 L637.74,154.73 L637.78,154.76 L637.82,154.79 L637.87,154.82 L637.91,154.85 L637.95,154.87 L637.99,154.89 L638.03,154.91 L638.08,154.93 L638.12,154.95 L638.16,154.96 L638.2,154.98 L638.24,154.99 L638.29,154.2 L638.33,150.31 L638.37,145.4 L638.41,139.81 L638.46,133.7 L638.5,127.15 L638.54,120.23 L638.58,112.98 L638.62,105.43 L638.67,97.6 L638.71,89.52 L638.75,81.2 L638.79,72.65 L638.83,63.9 L638.88,54.95 L638.92,62.67 L638.96,69.79 L639,76.36 L639.05,82.43 L639.09,88.03 L639.13,93.2 L639.17,97.97 L639.21,102.37 L639.26,106.44 L639.3,110.19 L639.34,113.65 L639.38,116.84 L639.42,119.79 L639.47,122.52 L639.51,125.03 L639.55,127.35 L639.59,129.49 L639.64,131.47 L639.68,133.29 L639.72,134.97 L639.76,136.53 L639.8,137.96 L639.85,139.28 L639.89,140.51 L639.93,141.63 L639.97,142.68 L640.01,143.64 L640.06,144.52 L640.1,145.34 L640.14,146.1 L640.18,146.79 L640.23,147.44 L640.27,148.03 L640.31,148.58 L640.35,149.09 L640.39,149.55 L640.44,149.98 L640.48,150.38 L640.52,150.75 L640.56,151.09 L640.6,151.4 L640.65,151.69 L640.69,151.96 L640.73,152.2 L640.77,152.43 L640.82,152.64 L640.86,152.83 L640.9,153.01 L640.94,153.18 L640.98,153.33 L641.03,153.47 L641.07,153.6 L641.11,153.72 L641.15,153.83 L641.19,153.93 L641.24,154.02 L641.28,154.11 L641.32,154.19 L641.36,154.26 L641.41,154.33 L641.45,154.4 L641.49,154.45 L641.53,154.51 L641.57,154.56 L641.62,154.6 L641.66,154.65 L641.7,154.68 L641.74,154.72 L641.78,154.75 L641.83,154.78 L641.87,154.81 L641.91,154.84 L641.95,154.86 L642,154.88 L642.04,154.91 L642.08,154.92 L642.12,154.94 L642.16,154.96 L642.21,154.97 L642.25,154.99 L642.29,154.23 L642.33,150.45 L642.37,145.67 L642.42,140.24 L642.46,134.3 L642.5,127.94 L642.54,121.21 L642.59,114.16 L642.63,106.82 L642.67,99.21 L642.71,91.35 L642.75,83.26 L642.8,74.96 L642.84,66.45 L642.88,57.75 L642.92,65.25 L642.96,72.17 L643.01,78.56 L643.05,84.46 L643.09,89.9 L643.13,94.93 L643.18,99.57 L643.22,103.85 L643.26,107.8 L643.3,111.44 L643.34,114.81 L643.39,117.91 L643.43,120.78 L643.47,123.43 L643.51,125.87 L643.55,128.13 L643.6,130.21 L643.64,132.13 L643.68,133.9 L643.72,135.54 L643.77,137.05 L643.81,138.44 L643.85,139.73 L643.89,140.92 L643.93,142.01 L643.98,143.02 L644.02,143.96 L644.06,144.82 L644.1,145.62 L644.14,146.35 L644.19,147.03 L644.23,147.65 L644.27,148.23 L644.31,148.76 L644.36,149.26 L644.4,149.71 L644.44,150.13 L644.48,150.51 L644.52,150.87 L644.57,151.2 L644.61,151.51 L644.65,151.79 L644.69,152.05 L644.73,152.28 L644.78,152.51 L644.82,152.71 L644.86,152.9 L644.9,153.07 L644.94,153.23 L644.99,153.38 L645.03,153.52 L645.07,153.64 L645.11,153.76 L645.16,153.86 L645.2,153.96 L645.24,154.06 L645.28,154.14 L645.32,154.22 L645.37,154.29 L645.41,154.36 L645.45,154.42 L645.49,154.47 L645.53,154.53 L645.58,154.57 L645.62,154.62 L645.66,154.66 L645.7,154.7 L645.75,154.73 L645.79,154.76 L645.83,154.79 L645.87,154.82 L645.91,154.85 L645.96,154.87 L646,154.89 L646.04,154.91 L646.08,154.93 L646.12,154.95 L646.17,154.96 L646.21,154.98 L646.25,154.99 L646.29,155 L646.34,155.01 L646.38,155.03 L646.42,155.04 L646.46,155.04 L646.5,154.19 L646.55,150.27 L646.59,145.32 L646.63,139.69 L646.67,133.53 L646.71,126.93 L646.76,119.96 L646.8,112.65 L646.84,105.03 L646.88,97.14 L646.93,88.99 L646.97,80.61 L647.01,71.99 L647.05,63.17 L647.09,54.15 L647.14,61.93 L647.18,69.11 L647.22,75.73 L647.26,81.85 L647.3,87.49 L647.35,92.7 L647.39,97.51 L647.43,101.95 L647.47,106.05 L647.52,109.83 L647.56,113.32 L647.6,116.54 L647.64,119.51 L647.68,122.26 L647.73,124.79 L647.77,127.13 L647.81,129.29 L647.85,131.28 L647.89,133.12 L647.94,134.81 L647.98,136.38 L648.02,137.82 L648.06,139.16 L648.11,140.39 L648.15,141.53 L648.19,142.58 L648.23,143.54 L648.27,144.44 L648.32,145.26 L648.36,146.02 L648.4,146.73 L648.44,147.38 L648.48,147.97 L648.53,148.53 L648.57,149.04 L648.61,149.51 L648.65,149.94 L648.7,150.34 L648.74,150.71 L648.78,151.06 L648.82,151.37 L648.86,151.66 L648.91,151.93 L648.95,152.18 L648.99,152.41 L649.03,152.62 L649.07,152.81 L649.12,152.99 L649.16,153.16 L649.2,153.31 L649.24,153.45 L649.29,153.59 L649.33,153.71 L649.37,153.82 L649.41,153.92 L649.45,154.01 L649.5,154.1 L649.54,154.18 L649.58,154.26 L649.62,154.33 L649.66,154.39 L649.71,154.45 L649.75,154.5 L649.79,154.55 L649.83,154.6 L649.88,154.64 L649.92,154.68 L649.96,154.72 L650,154.75 L650.04,154.78 L650.09,154.81 L650.13,154.84 L650.17,154.86 L650.21,154.88 L650.25,154.9 L650.3,154.92 L650.34,154.94 L650.38,154.96 L650.42,154.97 L650.47,154.99 L650.51,154.2 L650.55,150.28 L650.59,145.34 L650.63,139.72 L650.68,133.57 L650.72,126.99 L650.76,120.03 L650.8,112.73 L650.84,105.13 L650.89,97.25 L650.93,89.12 L650.97,80.75 L651.01,72.16 L651.06,63.36 L651.1,54.35 L651.14,62.11 L651.18,69.28 L651.22,75.89 L651.27,81.99 L651.31,87.63 L651.35,92.83 L651.39,97.63 L651.43,102.05 L651.48,106.14 L651.52,109.92 L651.56,113.4 L651.6,116.62 L651.65,119.58 L651.69,122.32 L651.73,124.85 L651.77,127.18 L651.81,129.34 L651.86,131.32 L651.9,133.16 L651.94,134.85 L651.98,136.42 L652.02,137.86 L652.07,139.19 L652.11,140.42 L652.15,141.55 L652.19,142.6 L652.24,143.57 L652.28,144.46 L652.32,145.28 L652.36,146.04 L652.4,146.74 L652.45,147.39 L652.49,147.99 L652.53,148.54 L652.57,149.05 L652.61,149.52 L652.66,149.95 L652.7,150.35 L652.74,150.72 L652.78,151.06" stroke="#a3262c" stroke-width="1.2" fill="none" stroke-linejoin="round"/>
<path d="M652.78,155.07 L652.83,155.07 L652.87,155.07 L652.91,155.07 L652.95,155.07 L652.99,155.07 L653.04,155.07 L653.08,155.07 L653.12,155.07 L653.16,155.07 L653.2,155.07 L653.25,155.07 L653.29,155.07 L653.33,155.07 L653.37,155.07 L653.42,155.07 L653.46,155.07 L653.5,155.07 L653.54,155.07 L653.58,155.07 L653.63,155.07 L653.67,155.07 L653.71,155.07 L653.75,155.07 L653.79,155.07 L653.84,155.07 L653.88,155.07 L653.92,155.07 L653.96,155.07 L654.01,155.07 L654.05,155.07 L654.09,155.07 L654.13,155.07 L654.17,155.07 L654.22,155.07 L654.26,155.07 L654.3,155.07 L654.34,155.07 L654.38,155.07 L654.43,155.07 L654.47,155.07 L654.51,155.07 L654.55,155.07 L654.6,155.07 L654.64,155.07 L654.68,155.07 L654.72,155.07 L654.76,155.07 L654.81,152.01 L654.85,146.86 L654.89,140.78 L654.93,134.04 L654.97,126.74 L655.02,118.98 L655.06,110.82 L655.1,102.29 L655.14,93.43 L655.18,84.27 L655.23,74.82 L655.27,65.11 L655.31,55.15 L655.35,63.71 L655.4,71.53 L655.44,78.69 L655.48,85.23 L655.52,91.21 L655.56,96.68 L655.61,101.69 L655.65,106.26 L655.69,110.44 L655.73,114.27 L655.77,117.77 L655.82,120.97 L655.86,123.89 L655.9,126.56 L655.94,129.01 L655.99,131.25 L656.03,133.29 L656.07,135.16 L656.11,136.87 L656.15,138.44 L656.2,139.87 L656.24,141.18 L656.28,142.37 L656.32,143.46 L656.36,144.46 L656.41,145.38 L656.45,146.21 L656.49,146.98 L656.53,147.68 L656.58,148.32 L656.62,148.9 L656.66,149.44 L656.7,149.93 L656.74,150.37 L656.79,150.78 L656.83,151.16 L656.87,151.5 L656.91,151.81 L656.95,152.1 L657,152.36 L657.04,152.6 L657.08,152.82 L657.12,153.02 L657.17,153.2 L657.21,153.37 L657.25,153.52 L657.29,153.66 L657.33,153.79 L657.38,153.9 L657.42,154.01 L657.46,154.11 L657.5,154.2 L657.54,154.28 L657.59,154.35 L657.63,154.42 L657.67,154.48 L657.71,154.54 L657.76,154.59 L657.8,154.64 L657.84,154.68 L657.88,154.72 L657.92,154.76 L657.97,154.79 L658.01,154.82 L658.05,154.85 L658.09,154.88 L658.13,154.9 L658.18,154.92 L658.22,154.94 L658.26,154.96 L658.3,154.98 L658.35,154.99 L658.39,152.04 L658.43,146.94 L658.47,140.93 L658.51,134.25 L658.56,127.02 L658.6,119.34 L658.64,111.26 L658.68,102.82 L658.72,94.05 L658.77,84.97 L658.81,75.62 L658.85,66.01 L658.89,56.15 L658.94,64.62 L658.98,72.37 L659.02,79.45 L659.06,85.93 L659.1,91.85 L659.15,97.27 L659.19,102.22 L659.23,106.75 L659.27,110.89 L659.31,114.68 L659.36,118.14 L659.4,121.31 L659.44,124.2 L659.48,126.85 L659.53,129.27 L659.57,131.49 L659.61,133.51 L659.65,135.36 L659.69,137.06 L659.74,138.6 L659.78,140.02 L659.82,141.31 L659.86,142.5 L659.9,143.58 L659.95,144.57 L659.99,145.48 L660.03,146.3 L660.07,147.06 L660.12,147.75 L660.16,148.39 L660.2,148.97 L660.24,149.49 L660.28,149.98 L660.33,150.42 L660.37,150.83 L660.41,151.2 L660.45,151.53 L660.49,151.84 L660.54,152.13 L660.58,152.39 L660.62,152.62 L660.66,152.84 L660.71,153.04 L660.75,153.22 L660.79,153.38 L660.83,153.53 L660.87,153.67 L660.92,153.8 L660.96,153.91 L661,154.02 L661.04,154.12 L661.08,154.21 L661.13,154.29 L661.17,154.36 L661.21,154.43 L661.25,154.49 L661.3,154.55 L661.34,154.6 L661.38,154.65 L661.42,154.69 L661.46,154.73 L661.51,154.76 L661.55,154.8 L661.59,154.83 L661.63,154.86 L661.67,154.88 L661.72,154.9 L661.76,154.93 L661.8,154.94 L661.84,154.96 L661.89,154.98 L661.93,154.99 L661.97,152.02 L662.01,146.88 L662.05,140.81 L662.1,134.08 L662.14,126.8 L662.18,119.05 L662.22,110.91 L662.26,102.39 L662.31,93.55 L662.35,84.41 L662.39,74.98 L662.43,65.29 L662.48,55.35 L662.52,63.89 L662.56,71.7 L662.6,78.84 L662.64,85.37 L662.69,91.34 L662.73,96.8 L662.77,101.79 L662.81,106.36 L662.85,110.53 L662.9,114.35 L662.94,117.84 L662.98,121.03 L663.02,123.95 L663.07,126.62 L663.11,129.06 L663.15,131.3 L663.19,133.34 L663.23,135.2 L663.28,136.91 L663.32,138.47 L663.36,139.9 L663.4,141.2 L663.44,142.4 L663.49,143.49 L663.53,144.49 L663.57,145.4 L663.61,146.23 L663.66,147 L663.7,147.69 L663.74,148.33 L663.78,148.92 L663.82,149.45 L663.87,149.94 L663.91,150.38 L663.95,150.79 L663.99,151.16 L664.03,151.51 L664.08,151.82 L664.12,152.1 L664.16,152.36 L664.2,152.6 L664.25,152.82 L664.29,153.02 L664.33,153.2 L664.37,153.37 L664.41,153.52 L664.46,153.66 L664.5,153.79 L664.54,153.9 L664.58,154.01 L664.62,154.11 L664.67,154.2 L664.71,154.28 L664.75,154.35 L664.79,154.42 L664.84,154.48 L664.88,154.54 L664.92,154.59 L664.96,154.64 L665,154.69 L665.05,154.73 L665.09,154.76 L665.13,154.8 L665.17,154.83 L665.21,154.85 L665.26,154.88 L665.3,154.9 L665.34,154.92 L665.38,154.94 L665.42,154.96 L665.47,154.98 L665.51,154.99 L665.55,155.01 L665.59,155.02 L665.64,155.03 L665.68,155.04 L665.72,155.05 L665.76,151.99 L665.8,146.79 L665.85,140.67 L665.89,133.87 L665.93,126.51 L665.97,118.69 L666.01,110.46 L666.06,101.87 L666.1,92.94 L666.14,83.7 L666.18,74.18 L666.23,64.39 L666.27,54.35 L666.31,62.98 L666.35,70.86 L666.39,78.07 L666.44,84.67 L666.48,90.7 L666.52,96.21 L666.56,101.26 L666.6,105.87 L666.65,110.09 L666.69,113.94 L666.73,117.47 L666.77,120.69 L666.82,123.64 L666.86,126.34 L666.9,128.8 L666.94,131.06 L666.98,133.12 L667.03,135 L667.07,136.73 L667.11,138.3 L667.15,139.75 L667.19,141.06 L667.24,142.27 L667.28,143.37 L667.32,144.38 L667.36,145.3 L667.41,146.14 L667.45,146.91 L667.49,147.62 L667.53,148.26 L667.57,148.85 L667.62,149.39 L667.66,149.88 L667.7,150.34 L667.74,150.75 L667.78,151.12 L667.83,151.47 L667.87,151.78 L667.91,152.07 L667.95,152.34 L668,152.58 L668.04,152.8 L668.08,153 L668.12,153.18 L668.16,153.35 L668.21,153.5 L668.25,153.65 L668.29,153.77 L668.33,153.89 L668.37,154 L668.42,154.1 L668.46,154.19 L668.5,154.27 L668.54,154.35 L668.59,154.42 L668.63,154.48 L668.67,154.54 L668.71,154.59 L668.75,154.64 L668.8,154.68 L668.84,154.72 L668.88,154.76 L668.92,154.79 L668.96,154.82 L669.01,154.85 L669.05,154.88 L669.09,154.9 L669.13,154.92 L669.18,154.94 L669.22,154.96 L669.26,154.98 L669.3,154.99 L669.34,152.01 L669.39,146.86 L669.43,140.78 L669.47,134.04 L669.51,126.74 L669.55,118.98 L669.6,110.82 L669.64,102.29 L669.68,93.43 L669.72,84.27 L669.77,74.82 L669.81,65.11 L669.85,55.15 L669.89,63.71 L669.93,71.53 L669.98,78.69 L670.02,85.23 L670.06,91.21 L670.1,96.68 L670.14,101.69 L670.19,106.26 L670.23,110.44 L670.27,114.27 L670.31,117.77 L670.36,120.97 L670.4,123.89 L670.44,126.56 L670.48,129.01 L670.52,131.25 L670.57,133.29 L670.61,135.16 L670.65,136.87 L670.69,138.44 L670.73,139.87 L670.78,141.18 L670.82,142.37 L670.86,143.46 L670.9,144.46 L670.95,145.38 L670.99,146.21 L671.03,146.98 L671.07,147.68 L671.11,148.32 L671.16,148.9 L671.2,149.44 L671.24,149.93 L671.28,150.37 L671.32,150.78 L671.37,151.16 L671.41,151.5 L671.45,151.81 L671.49,152.1 L671.54,152.36 L671.58,152.6 L671.62,152.82 L671.66,153.02 L671.7,153.2 L671.75,153.37 L671.79,153.52 L671.83,153.66 L671.87,153.79 L671.91,153.9 L671.96,154.01 L672,154.11 L672.04,154.2 L672.08,154.28 L672.13,154.35 L672.17,154.42 L672.21,154.48 L672.25,154.54 L672.29,154.59 L672.34,154.64 L672.38,154.68 L672.42,154.72 L672.46,154.76 L672.5,154.79 L672.55,154.82 L672.59,154.85 L672.63,154.88 L672.67,154.9 L672.72,154.92 L672.76,154.94 L672.8,154.96 L672.84,154.98 L672.88,154.99 L672.93,152.06 L672.97,146.99 L673.01,141.01 L673.05,134.37 L673.09,127.19 L673.14,119.56 L673.18,111.53 L673.22,103.13 L673.26,94.42 L673.31,85.4 L673.35,76.1 L673.39,66.55 L673.43,56.75 L673.47,65.17 L673.52,72.87 L673.56,79.91 L673.6,86.35 L673.64,92.23 L673.68,97.62 L673.73,102.54 L673.77,107.04 L673.81,111.16 L673.85,114.92 L673.9,118.36 L673.94,121.51 L673.98,124.39 L674.02,127.02 L674.06,129.43 L674.11,131.63 L674.15,133.64 L674.19,135.48 L674.23,137.17 L674.27,138.7 L674.32,140.11 L674.36,141.4 L674.4,142.58 L674.44,143.65 L674.49,144.64 L674.53,145.54 L674.57,146.36 L674.61,147.11 L674.65,147.8 L674.7,148.43 L674.74,149 L674.78,149.53 L674.82,150.01 L674.86,150.45 L674.91,150.85 L674.95,151.22 L674.99,151.56 L675.03,151.86 L675.08,152.15 L675.12,152.4 L675.16,152.64 L675.2,152.85 L675.24,153.05 L675.29,153.23 L675.33,153.39 L675.37,153.54 L675.41,153.68 L675.45,153.81 L675.5,153.92 L675.54,154.03 L675.58,154.12 L675.62,154.21 L675.67,154.29 L675.71,154.37 L675.75,154.43 L675.79,154.49 L675.83,154.55 L675.88,154.6 L675.92,154.65 L675.96,154.69" stroke="#ad6fcc" stroke-width="1.2" fill="none" stroke-linejoin="round"/>
</g>
<rect x="507.2" y="10.4" width="168.8" height="148.6" fill="none" stroke="#2b2b2b" stroke-width="1" />
<line x1="502.8" y1="155.4" x2="507.2" y2="155.4" stroke="#2b2b2b" stroke-width="1" />
<text x="498.9" y="158.6" font-size="9" text-anchor="end" fill="#000" >0</text>
<line x1="502.8" y1="134.69" x2="507.2" y2="134.69" stroke="#2b2b2b" stroke-width="1" />
<text x="498.9" y="137.88" font-size="9" text-anchor="end" fill="#000" >500</text>
<line x1="502.8" y1="113.97" x2="507.2" y2="113.97" stroke="#2b2b2b" stroke-width="1" />
<text x="498.9" y="117.17" font-size="9" text-anchor="end" fill="#000" >1000</text>
<line x1="502.8" y1="93.25" x2="507.2" y2="93.25" stroke="#2b2b2b" stroke-width="1" />
<text x="498.9" y="96.45" font-size="9" text-anchor="end" fill="#000" >1500</text>
<line x1="502.8" y1="72.54" x2="507.2" y2="72.54" stroke="#2b2b2b" stroke-width="1" />
<text x="498.9" y="75.74" font-size="9" text-anchor="end" fill="#000" >2000</text>
<line x1="502.8" y1="51.83" x2="507.2" y2="51.83" stroke="#2b2b2b" stroke-width="1" />
<text x="498.9" y="55.03" font-size="9" text-anchor="end" fill="#000" >2500</text>
<line x1="502.8" y1="31.11" x2="507.2" y2="31.11" stroke="#2b2b2b" stroke-width="1" />
<text x="498.9" y="34.31" font-size="9" text-anchor="end" fill="#000" >3000</text>
<line x1="502.8" y1="10.4" x2="507.2" y2="10.4" stroke="#2b2b2b" stroke-width="1" />
<text x="498.9" y="13.6" font-size="9" text-anchor="end" fill="#000" >3500</text>
<line x1="504.8" y1="145.04" x2="507.2" y2="145.04" stroke="#2b2b2b" stroke-width="1" />
<line x1="504.8" y1="124.33" x2="507.2" y2="124.33" stroke="#2b2b2b" stroke-width="1" />
<line x1="504.8" y1="103.61" x2="507.2" y2="103.61" stroke="#2b2b2b" stroke-width="1" />
<line x1="504.8" y1="82.9" x2="507.2" y2="82.9" stroke="#2b2b2b" stroke-width="1" />
<line x1="504.8" y1="62.18" x2="507.2" y2="62.18" stroke="#2b2b2b" stroke-width="1" />
<line x1="504.8" y1="41.47" x2="507.2" y2="41.47" stroke="#2b2b2b" stroke-width="1" />
<line x1="504.8" y1="20.75" x2="507.2" y2="20.75" stroke="#2b2b2b" stroke-width="1" />
<line x1="507.4" y1="159" x2="507.4" y2="163.4" stroke="#2b2b2b" stroke-width="1" />
<text x="507.4" y="175.9" font-size="9" text-anchor="middle" fill="#000" >0</text>
<line x1="528.47" y1="159" x2="528.47" y2="163.4" stroke="#2b2b2b" stroke-width="1" />
<text x="528.47" y="175.9" font-size="9" text-anchor="middle" fill="#000" >10</text>
<line x1="549.54" y1="159" x2="549.54" y2="163.4" stroke="#2b2b2b" stroke-width="1" />
<text x="549.54" y="175.9" font-size="9" text-anchor="middle" fill="#000" >20</text>
<line x1="570.61" y1="159" x2="570.61" y2="163.4" stroke="#2b2b2b" stroke-width="1" />
<text x="570.61" y="175.9" font-size="9" text-anchor="middle" fill="#000" >30</text>
<line x1="591.68" y1="159" x2="591.68" y2="163.4" stroke="#2b2b2b" stroke-width="1" />
<text x="591.68" y="175.9" font-size="9" text-anchor="middle" fill="#000" >40</text>
<line x1="612.75" y1="159" x2="612.75" y2="163.4" stroke="#2b2b2b" stroke-width="1" />
<text x="612.75" y="175.9" font-size="9" text-anchor="middle" fill="#000" >50</text>
<line x1="633.82" y1="159" x2="633.82" y2="163.4" stroke="#2b2b2b" stroke-width="1" />
<text x="633.82" y="175.9" font-size="9" text-anchor="middle" fill="#000" >60</text>
<line x1="654.89" y1="159" x2="654.89" y2="163.4" stroke="#2b2b2b" stroke-width="1" />
<text x="654.89" y="175.9" font-size="9" text-anchor="middle" fill="#000" >70</text>
<line x1="675.96" y1="159" x2="675.96" y2="163.4" stroke="#2b2b2b" stroke-width="1" />
<text x="675.96" y="175.9" font-size="9" text-anchor="middle" fill="#000" >80</text>
<line x1="517.93" y1="159" x2="517.93" y2="161.4" stroke="#2b2b2b" stroke-width="1" />
<line x1="539" y1="159" x2="539" y2="161.4" stroke="#2b2b2b" stroke-width="1" />
<line x1="560.07" y1="159" x2="560.07" y2="161.4" stroke="#2b2b2b" stroke-width="1" />
<line x1="581.14" y1="159" x2="581.14" y2="161.4" stroke="#2b2b2b" stroke-width="1" />
<line x1="602.22" y1="159" x2="602.22" y2="161.4" stroke="#2b2b2b" stroke-width="1" />
<line x1="623.28" y1="159" x2="623.28" y2="161.4" stroke="#2b2b2b" stroke-width="1" />
<line x1="644.36" y1="159" x2="644.36" y2="161.4" stroke="#2b2b2b" stroke-width="1" />
<line x1="665.42" y1="159" x2="665.42" y2="161.4" stroke="#2b2b2b" stroke-width="1" />
<text x="591.6" y="190" font-size="8.8" text-anchor="middle" fill="#000" >Time (s)</text>
<text transform="translate(471.6,84) rotate(-90)" font-size="8.8" text-anchor="middle" fill="#000">(<tspan font-style="italic">R</tspan>–<tspan font-style="italic">R</tspan><tspan font-size="6.34" dy="1.94">0</tspan><tspan dy="-1.94">)/</tspan><tspan font-style="italic">R</tspan><tspan font-size="6.34" dy="1.94">0</tspan><tspan dy="-1.94"> (%)</tspan></text>
<line x1="509" y1="16.6" x2="533" y2="16.6" stroke="#4a78aa" stroke-width="1.3" />
<text x="536.6" y="19.3" font-size="7.6" text-anchor="start" fill="#000" >100 mm/min</text>
<line x1="591" y1="16.6" x2="614.6" y2="16.6" stroke="#f59a42" stroke-width="1.3" />
<text x="619" y="19.3" font-size="7.6" text-anchor="start" fill="#000" >125 mm/min</text>
<line x1="509" y1="29.6" x2="533" y2="29.6" stroke="#52b3a7" stroke-width="1.3" />
<text x="536.6" y="32.3" font-size="7.6" text-anchor="start" fill="#000" >150 mm/min</text>
<line x1="591" y1="29.6" x2="614.6" y2="29.6" stroke="#a3262c" stroke-width="1.3" />
<text x="619" y="32.3" font-size="7.6" text-anchor="start" fill="#000" >175 mm/min</text>
<line x1="509" y1="42.6" x2="533" y2="42.6" stroke="#ad6fcc" stroke-width="1.3" />
<text x="536.6" y="45.3" font-size="7.6" text-anchor="start" fill="#000" >200 mm/min</text>
<text x="9.4" y="213.2" font-size="13" text-anchor="start" fill="#000" font-weight="bold" >d</text>
<rect x="76.6" y="207.4" width="22" height="147.4" fill="#fcaad9" stroke="none" stroke-width="0" />
<g clip-path="url(#cdl)">
<path d="M41.3,338.6 L48.25,335.4 L55.2,337.6 L62.15,335 L69.1,339.2 L76.05,343 L83,323 L89.95,261 L96.9,225.6 L103.85,233.6 L110.8,255.4 L117.75,251.6 L124.7,251.6 L131.65,251 L138.6,251.6 L145.55,252" stroke="#a8163a" stroke-width="1.5" fill="none" />
<circle cx="41.3" cy="338.6" r="3.2" fill="url(#gdl)"/>
<circle cx="48.25" cy="335.4" r="3.2" fill="url(#gdl)"/>
<circle cx="55.2" cy="337.6" r="3.2" fill="url(#gdl)"/>
<circle cx="62.15" cy="335" r="3.2" fill="url(#gdl)"/>
<circle cx="69.1" cy="339.2" r="3.2" fill="url(#gdl)"/>
<circle cx="76.05" cy="343" r="3.2" fill="url(#gdl)"/>
<circle cx="83" cy="323" r="3.2" fill="url(#gdl)"/>
<circle cx="89.95" cy="261" r="3.2" fill="url(#gdl)"/>
<circle cx="96.9" cy="225.6" r="3.2" fill="url(#gdl)"/>
<circle cx="103.85" cy="233.6" r="3.2" fill="url(#gdl)"/>
<circle cx="110.8" cy="255.4" r="3.2" fill="url(#gdl)"/>
<circle cx="117.75" cy="251.6" r="3.2" fill="url(#gdl)"/>
<circle cx="124.7" cy="251.6" r="3.2" fill="url(#gdl)"/>
<circle cx="131.65" cy="251" r="3.2" fill="url(#gdl)"/>
<circle cx="138.6" cy="251.6" r="3.2" fill="url(#gdl)"/>
<circle cx="145.55" cy="252" r="3.2" fill="url(#gdl)"/>
</g>
<rect x="42.2" y="207.4" width="102.2" height="147.4" fill="none" stroke="#2b2b2b" stroke-width="1" />
<line x1="37.8" y1="355.07" x2="42.2" y2="355.07" stroke="#2b2b2b" stroke-width="1" />
<text x="34.2" y="358.57" font-size="8.6" text-anchor="end" fill="#000" >-1</text>
<line x1="37.8" y1="335.4" x2="42.2" y2="335.4" stroke="#2b2b2b" stroke-width="1" />
<text x="34.2" y="338.9" font-size="8.6" text-anchor="end" fill="#000" >0</text>
<line x1="37.8" y1="315.73" x2="42.2" y2="315.73" stroke="#2b2b2b" stroke-width="1" />
<text x="34.2" y="319.23" font-size="8.6" text-anchor="end" fill="#000" >1</text>
<line x1="37.8" y1="296.06" x2="42.2" y2="296.06" stroke="#2b2b2b" stroke-width="1" />
<text x="34.2" y="299.56" font-size="8.6" text-anchor="end" fill="#000" >2</text>
<line x1="37.8" y1="276.39" x2="42.2" y2="276.39" stroke="#2b2b2b" stroke-width="1" />
<text x="34.2" y="279.89" font-size="8.6" text-anchor="end" fill="#000" >3</text>
<line x1="37.8" y1="256.72" x2="42.2" y2="256.72" stroke="#2b2b2b" stroke-width="1" />
<text x="34.2" y="260.22" font-size="8.6" text-anchor="end" fill="#000" >4</text>
<line x1="37.8" y1="237.05" x2="42.2" y2="237.05" stroke="#2b2b2b" stroke-width="1" />
<text x="34.2" y="240.55" font-size="8.6" text-anchor="end" fill="#000" >5</text>
<line x1="37.8" y1="217.38" x2="42.2" y2="217.38" stroke="#2b2b2b" stroke-width="1" />
<text x="34.2" y="220.88" font-size="8.6" text-anchor="end" fill="#000" >6</text>
<line x1="39.8" y1="345.23" x2="42.2" y2="345.23" stroke="#2b2b2b" stroke-width="1" />
<line x1="39.8" y1="325.56" x2="42.2" y2="325.56" stroke="#2b2b2b" stroke-width="1" />
<line x1="39.8" y1="305.89" x2="42.2" y2="305.89" stroke="#2b2b2b" stroke-width="1" />
<line x1="39.8" y1="286.22" x2="42.2" y2="286.22" stroke="#2b2b2b" stroke-width="1" />
<line x1="39.8" y1="266.55" x2="42.2" y2="266.55" stroke="#2b2b2b" stroke-width="1" />
<line x1="39.8" y1="246.88" x2="42.2" y2="246.88" stroke="#2b2b2b" stroke-width="1" />
<line x1="39.8" y1="227.21" x2="42.2" y2="227.21" stroke="#2b2b2b" stroke-width="1" />
<line x1="42.4" y1="354.8" x2="42.4" y2="359.2" stroke="#2b2b2b" stroke-width="1" />
<text x="42.4" y="371" font-size="8.6" text-anchor="middle" fill="#000" >1.95</text>
<line x1="76.4" y1="354.8" x2="76.4" y2="359.2" stroke="#2b2b2b" stroke-width="1" />
<text x="76.4" y="371" font-size="8.6" text-anchor="middle" fill="#000" >2.00</text>
<line x1="110.4" y1="354.8" x2="110.4" y2="359.2" stroke="#2b2b2b" stroke-width="1" />
<text x="110.4" y="371" font-size="8.6" text-anchor="middle" fill="#000" >2.05</text>
<line x1="144.4" y1="354.8" x2="144.4" y2="359.2" stroke="#2b2b2b" stroke-width="1" />
<text x="144.4" y="371" font-size="8.6" text-anchor="middle" fill="#000" >2.10</text>
<line x1="59.4" y1="354.8" x2="59.4" y2="357.2" stroke="#2b2b2b" stroke-width="1" />
<line x1="93.4" y1="354.8" x2="93.4" y2="357.2" stroke="#2b2b2b" stroke-width="1" />
<line x1="127.4" y1="354.8" x2="127.4" y2="357.2" stroke="#2b2b2b" stroke-width="1" />
<text x="93.3" y="384.4" font-size="8.8" text-anchor="middle" fill="#000" >Time (s)</text>
<text transform="translate(18.4,281) rotate(-90)" font-size="8.8" text-anchor="middle" fill="#000">(<tspan font-style="italic">R</tspan>–<tspan font-style="italic">R</tspan><tspan font-size="6.34" dy="1.94">0</tspan><tspan dy="-1.94">)/</tspan><tspan font-style="italic">R</tspan><tspan font-size="6.34" dy="1.94">0</tspan><tspan dy="-1.94"> (%)</tspan></text>
<line x1="44" y1="215" x2="71" y2="215" stroke="#a8163a" stroke-width="1.3" />
<circle cx="57.4" cy="215" r="3.2" fill="url(#gdl)"/>
<text x="76" y="217.6" font-size="7.4" text-anchor="start" fill="#000" >Response time</text>
<text x="103" y="299.5" font-size="7.3" text-anchor="start" fill="#b0203e" >31 ms</text>
<g clip-path="url(#cdm)">
<path d="M201.44,334.6 L201.44,223.16 L201.6,227.71 L201.76,232.26 L201.93,236.81 L202.09,241.35 L202.26,245.9 L202.43,250.45 L202.59,254.94 L202.75,255.12 L202.92,255.31 L203.09,255.49 L203.25,255.67 L203.41,255.85 L203.58,256.02 L203.75,256.2 L203.91,256.37 L204.07,256.55 L204.24,256.72 L204.41,256.89 L204.57,257.06 L204.74,257.22 L204.9,257.39 L205.06,257.55 L205.23,257.72 L205.4,257.88 L205.56,258.04 L205.72,258.2 L205.89,258.36 L206.06,258.51 L206.22,258.67 L206.38,258.82 L206.55,258.98 L206.72,259.13 L206.88,259.28 L207.04,259.43 L207.21,259.58 L207.38,259.73 L207.54,259.87 L207.71,260.02 L207.87,260.16 L208.03,260.3 L208.2,260.44 L208.37,260.59 L208.53,260.72 L208.69,260.86 L208.86,261 L209.03,261.14 L209.19,261.27 L209.35,261.41 L209.52,261.54 L209.69,261.67 L209.85,261.8 L210.01,261.93 L210.18,262.06 L210.34,262.19 L210.51,262.31 L210.68,262.44 L210.84,262.56 L211,262.69 L211.17,262.81 L211.34,262.93 L211.5,263.05 L211.66,263.17 L211.83,263.29 L212,263.41 L212.16,263.53 L212.32,263.65 L212.49,263.76 L212.66,263.88 L212.82,263.99 L212.99,264.1 L213.15,264.21 L213.31,264.32 L213.48,264.43 L213.65,264.54 L213.81,264.65 L213.97,264.76 L214.14,264.87 L214.31,264.97 L214.47,265.08 L214.63,265.18 L214.8,265.29 L214.97,265.39 L215.13,265.49 L215.3,265.59 L215.46,265.69 L215.62,265.79 L215.79,265.89 L215.96,265.99 L216.12,266.09 L216.28,266.18 L216.45,266.28 L216.62,266.37 L216.78,266.47 L216.94,266.56 L217.11,266.65 L217.28,266.75 L217.44,266.84 L217.6,266.93 L217.77,267.02 L217.94,267.11 L218.1,267.2 L218.26,267.29 L218.43,267.37 L218.59,267.46 L218.76,267.55 L218.93,267.63 L219.09,267.72 L219.25,267.8 L219.42,267.88 L219.59,267.97 L219.75,268.05 L219.91,268.13 L220.08,268.21 L220.25,268.29 L220.41,268.37 L220.57,268.45 L220.74,268.53 L220.91,268.61 L221.07,268.69 L221.24,268.76 L221.4,268.84 L221.56,268.91 L221.73,268.99 L221.9,269.06 L222.06,269.14 L222.22,269.21 L222.39,269.28 L222.56,269.36 L222.72,269.43 L222.88,269.5 L223.05,269.57 L223.22,269.64 L223.38,269.71 L223.54,269.78 L223.71,269.85 L223.88,269.92 L224.04,269.98 L224.2,270.05 L224.37,270.12 L224.53,270.18 L224.7,270.25 L224.87,270.31 L225.03,270.38 L225.19,270.44 L225.36,270.51 L225.53,270.57 L225.69,270.63 L225.85,270.7 L226.02,270.76 L226.19,270.82 L226.35,270.88 L226.51,270.94 L226.68,271 L226.84,271.06 L227.01,271.12 L227.18,271.18 L227.34,271.24 L227.5,271.3 L227.67,271.35 L227.84,271.41 L228,271.47 L228.16,271.52 L228.33,271.58 L228.5,271.63 L228.66,271.69 L228.82,271.74 L228.99,271.8 L229.16,271.85 L229.32,271.91 L229.49,271.96 L229.65,272.01 L229.81,272.06 L229.98,272.12 L230.14,272.17 L230.31,272.22 L230.47,272.27 L230.64,272.32 L230.81,272.37 L230.97,272.42 L231.13,272.47 L231.3,272.52 L231.47,272.57 L231.63,272.62 L231.8,272.67 L231.96,272.71 L232.12,272.76 L232.29,272.81 L232.46,272.85 L232.62,272.9 L232.78,272.95 L232.95,272.99 L233.12,273.04 L233.28,273.08 L233.44,273.13 L233.61,273.17 L233.78,273.22 L233.94,273.26 L234.11,273.31 L234.27,273.35 L234.44,273.39 L234.6,273.43 L234.76,273.48 L234.93,273.52 L235.09,273.56 L235.26,273.6 L235.43,273.64 L235.59,273.68 L235.75,273.73 L235.92,273.77 L236.09,273.81 L236.25,273.85 L236.41,273.89 L236.58,273.92 L236.75,273.96 L236.91,274 L237.07,274.04 L237.24,274.08 L237.41,274.12 L237.57,274.16 L237.74,274.19 L237.9,274.23 L238.06,274.27 L238.23,274.3 L238.39,274.34 L238.56,274.38 L238.72,274.41 L238.89,274.45 L239.06,274.48 L239.22,274.52 L239.38,274.56 L239.55,274.59 L239.72,274.62 L239.88,274.66 L240.05,274.69 L240.21,274.73 L240.38,274.76 L240.54,274.8 L240.71,274.83 L240.87,274.86 L241.03,274.89 L241.2,274.93 L241.37,274.96 L241.53,274.99 L241.69,275.02 L241.86,275.06 L242.03,275.09 L242.19,275.12 L242.36,275.15 L242.52,275.18 L242.69,275.21 L242.85,275.24 L243.01,275.27 L243.18,275.3 L243.34,275.33 L243.51,275.36 L243.68,275.39 L243.84,275.42 L244,275.45 L244.17,275.48 L244.34,275.51 L244.5,275.54 L244.66,275.57 L244.83,275.6 L245,275.62 L245.16,275.65 L245.32,275.68 L245.49,275.71 L245.66,275.74 L245.82,275.76 L245.99,275.79 L246.15,275.82 L246.31,275.85 L246.48,275.87 L246.64,275.9 L246.81,275.92 L246.97,275.95 L247.14,275.98 L247.31,276 L247.47,276.03 L247.63,276.05 L247.8,276.08 L247.97,276.11 L248.13,276.13 L248.3,276.16 L248.46,276.18 L248.62,276.21 L248.79,276.23 L248.95,276.26 L249.12,276.28 L249.28,276.3 L249.45,276.33 L249.62,276.35 L249.78,276.38 L249.94,276.4 L250.11,276.42 L250.28,276.45 L250.44,276.47 L250.61,276.49 L250.77,276.52 L250.94,276.54 L251.1,276.56 L251.26,276.58 L251.43,276.61 L251.59,276.63 L251.76,276.65 L251.93,276.67 L252.09,276.69 L252.25,276.72 L252.42,276.74 L252.58,276.76 L252.75,276.78 L252.91,276.8 L253.08,276.82 L253.25,276.85 L253.41,276.87 L253.57,276.89 L253.74,276.91 L253.91,276.93 L254.07,276.95 L254.23,276.97 L254.4,276.99 L254.56,277.01 L254.73,277.03 L254.9,277.05 L255.06,277.07 L255.22,277.09 L255.39,277.11 L255.56,277.13 L255.72,277.15 L255.88,277.17 L256.05,277.19 L256.21,277.21 L256.38,277.23 L256.55,277.25 L256.71,277.26 L256.88,277.28 L257.04,277.3 L257.2,277.32 L257.37,277.34 L257.53,277.36 L257.7,277.38 L257.87,277.39 L258.03,277.41 L258.19,277.43 L258.36,277.45 L258.52,277.47 L258.69,277.48 L258.86,277.5 L259.02,277.52 L259.19,277.54 L259.35,277.56 L259.51,277.57 L259.68,277.59 L259.85,277.61 L260.01,277.62 L260.18,277.64 L260.34,277.66 L260.5,277.68 L260.67,277.69 L260.84,277.71 L261,277.73 L261.16,277.74 L261.33,277.76 L261.5,277.78 L261.66,277.79 L261.82,277.81 L261.99,277.82 L262.15,277.84 L262.32,277.86 L262.49,277.87 L262.65,277.89 L262.81,277.9 L262.98,277.92 L263.14,277.94 L263.31,277.95 L263.48,277.97 L263.64,277.98 L263.81,278 L263.97,278.01 L264.13,278.03 L264.3,278.04 L264.47,278.06 L264.63,278.07 L264.8,278.09 L264.96,278.1 L265.12,278.12 L265.29,278.13 L265.45,278.15 L265.62,278.16 L265.79,278.18 L265.95,278.19 L266.12,278.21 L266.28,278.22 L266.44,278.24 L266.61,278.25 L266.77,278.27 L266.94,278.28 L267.11,278.29 L267.27,278.31 L267.44,278.32 L267.6,278.34 L267.76,278.35 L267.93,278.36 L268.1,278.38 L268.26,278.39 L268.43,278.41 L268.59,278.42 L268.75,278.43 L268.92,278.45 L269.09,278.46 L269.25,278.47 L269.41,278.49 L269.58,278.5 L269.75,278.51 L269.91,278.53 L270.07,278.54 L270.24,278.55 L270.4,278.57 L270.57,278.58 L270.74,278.59 L270.9,278.61 L271.06,278.62 L271.23,278.63 L271.39,278.64 L271.56,278.66 L271.73,278.67 L271.89,278.68 L272.06,278.7 L272.22,278.71 L272.38,278.72 L272.55,278.73 L272.72,278.75 L272.88,278.76 L273.05,278.77 L273.21,278.78 L273.38,278.8 L273.54,278.81 L273.7,278.82 L273.87,278.83 L274.04,278.84 L274.2,278.86 L274.37,278.87 L274.53,278.88 L274.69,278.89 L274.86,278.91 L275.02,278.92 L275.19,278.93 L275.36,278.94 L275.52,278.95 L275.69,278.96 L275.85,278.98 L276.01,278.99 L276.18,279 L276.35,279.01 L276.51,279.02 L276.68,279.03 L276.84,279.05 L277,279.06 L277.17,279.07 L277.34,279.08 L277.5,279.09 L277.66,279.1 L277.83,279.11 L278,279.13 L278.16,279.14 L278.32,279.15 L278.49,279.16 L278.65,279.17 L278.82,279.18 L278.99,279.19 L279.15,279.2 L279.31,279.22 L279.48,279.23 L279.64,279.24 L279.81,279.25 L279.98,279.26 L280.14,279.27 L280.31,279.28 L280.47,279.29 L280.63,279.3 L280.8,279.31 L280.97,279.32 L281.13,279.34 L281.3,279.35 L281.46,279.36 L281.62,279.37 L281.79,279.38 L281.95,279.39 L282.12,279.4 L282.29,279.41 L282.45,279.42 L282.62,279.43 L282.78,279.44 L282.94,279.45 L283.11,279.46 L283.27,279.47 L283.44,279.48 L283.61,279.49 L283.77,279.5 L283.94,279.51 L284.1,279.52 L284.26,279.53 L284.43,279.54 L284.6,279.55 L284.76,279.56 L284.93,279.57 L285.09,279.59 L285.25,279.6 L285.42,279.61 L285.59,279.62 L285.75,279.63 L285.91,279.64 L286.08,279.65 L286.25,279.66 L286.41,279.67 L286.57,279.68 L286.74,279.69 L286.9,279.69 L287.07,279.7 L287.24,279.71 L287.4,279.72 L287.56,279.73 L287.73,279.74 L287.89,279.75 L288.06,279.76 L288.23,279.77 L288.39,279.78 L288.56,279.79 L288.72,279.8 L288.88,279.81 L289.05,279.82 L289.22,279.83 L289.38,279.84 L289.55,279.85 L289.71,279.86 L289.88,279.87 L290.04,279.88 L290.2,279.89 L290.37,279.9 L290.54,279.91 L290.7,279.92 L290.87,279.93 L291.03,279.94 L291.19,279.95 L291.36,279.95 L291.52,279.96 L291.69,279.97 L291.86,279.98 L292.02,279.99 L292.19,280 L292.35,280.01 L292.51,280.02 L292.68,280.03 L292.85,280.04 L293.01,280.05 L293.18,280.06 L293.34,280.07 L293.5,280.07 L293.67,280.08 L293.84,280.09 L294,280.1 L294.16,280.11 L294.33,280.12 L294.5,280.13 L294.66,280.14 L294.82,280.15 L294.99,280.16 L295.15,280.17 L295.32,280.17 L295.49,280.18 L295.65,280.19 L295.81,280.2 L295.98,280.21 L296.14,280.22 L296.31,280.23 L296.48,280.24 L296.64,280.25 L296.81,280.26 L296.97,280.26 L297.13,280.27 L297.3,280.28 L297.47,280.29 L297.63,280.3 L297.8,280.31 L297.96,280.32 L298.12,280.33 L298.29,280.33 L298.45,280.34 L298.62,280.35 L298.79,280.36 L298.95,280.37 L299.12,280.38 L299.28,280.39 L299.44,280.4 L299.61,280.4 L299.77,280.41 L299.94,280.42 L300.11,280.43 L300.27,280.44 L300.44,280.45 L300.6,280.46 L300.76,280.47 L300.93,280.47 L301.09,280.48 L301.26,280.49 L301.43,280.5 L301.59,280.51 L301.75,280.52 L301.92,280.53 L302.09,280.53 L302.25,280.54 L302.42,280.55 L302.58,280.56 L302.75,280.57 L302.91,280.58 L303.07,280.58 L303.24,280.59 L303.4,280.6 L303.57,280.61 L303.74,280.62 L303.9,280.63 L304.06,280.64 L304.23,280.64 L304.39,280.65 L304.56,280.66 L304.73,280.67 L304.89,280.68 L305.06,280.69 L305.22,280.69 L305.38,280.7 L305.55,280.71 L305.72,280.72 L305.88,280.73 L306.04,280.74 L306.21,280.74 L306.38,280.75 L306.54,280.76 L306.7,280.77 L306.87,280.78 L307.03,280.79 L307.2,280.79 L307.37,280.8 L307.53,280.81 L307.69,280.82 L307.86,280.83 L308.02,280.83 L308.19,280.84 L308.36,280.85 L308.52,280.86 L308.69,280.87 L308.85,280.88 L309.01,280.88 L309.18,280.89 L309.34,280.9 L309.51,280.91 L309.68,280.92 L309.84,280.93 L310,280.93 L310.17,280.94 L310.34,280.95 L310.5,280.96 L310.67,280.97 L310.83,280.97 L311,280.98 L311.16,280.99 L311.32,281 L311.49,281.01 L311.65,281.01 L311.82,281.02 L311.99,281.03 L312.15,281.04 L312.31,281.05 L312.48,281.05 L312.64,281.06 L312.81,281.07 L312.98,281.08 L313.14,281.09 L313.31,281.09 L313.47,281.1 L313.63,281.11 L313.8,281.12 L313.97,281.13 L314.13,281.13 L314.29,281.14 L314.46,281.15 L314.62,281.16 L314.79,281.17 L314.95,281.17 L315.12,281.18 L315.28,281.19 L315.45,281.2 L315.62,281.21 L315.78,281.21 L315.94,281.22 L316.11,281.23 L316.27,281.24 L316.44,281.25 L316.61,281.25 L316.77,281.26 L316.94,281.27 L317.1,281.28 L317.26,281.29 L317.43,281.29 L317.59,281.3 L317.76,281.31 L317.93,281.32 L318.09,281.33 L318.25,281.33 L318.42,281.34 L318.59,281.35 L318.75,281.36 L318.92,281.36 L319.08,281.37 L319.25,281.38 L319.41,281.39 L319.57,281.4 L319.74,281.4 L319.9,281.41 L320.07,281.42 L320.24,281.43 L320.4,281.44 L320.56,281.44 L320.73,281.45 L320.89,281.46 L321.06,281.47 L321.23,281.47 L321.39,281.48 L321.56,281.49 L321.72,281.5 L321.88,281.51 L322.05,281.51 L322.22,281.52 L322.38,281.53 L322.55,281.54 L322.71,281.54 L322.88,281.55 L323.04,281.56 L323.2,281.57 L323.37,281.58 L323.53,281.58 L323.7,281.59 L323.87,281.6 L324.03,281.61 L324.2,281.61 L324.36,281.62 L324.52,281.63 L324.69,281.64 L324.86,281.65 L325.02,281.65 L325.19,281.66 L325.35,281.67 L325.51,281.68 L325.68,281.68 L325.85,281.69 L326.01,281.7 L326.17,281.71 L326.34,281.71 L326.5,281.72 L326.67,281.73 L326.84,281.74 L327,281.75 L327.17,281.75 L327.33,281.76 L327.5,281.77 L327.66,281.78 L327.82,281.78 L327.99,281.79 L328.15,281.8 L328.32,281.81 L328.49,281.81 L328.65,281.82 L328.81,281.83 L328.98,281.84 L329.14,281.85 L329.31,281.85 L329.48,281.86 L329.64,281.87 L329.81,281.88 L329.97,281.88 L330.13,281.89 L330.3,281.9 L330.47,281.91 L330.63,281.91 L330.8,281.92 L330.96,281.93 L331.12,281.94 L331.29,281.94 L331.45,281.95 L331.62,281.96 L331.78,281.97 L331.95,281.98 L332.12,281.98 L332.28,281.99 L332.45,282 L332.61,282.01 L332.77,282.01 L332.94,282.02 L333.11,282.03 L333.27,282.04 L333.44,282.04 L333.6,282.05 L333.76,282.06 L333.93,282.07 L334.1,282.07 L334.26,282.08 L334.42,282.09 L334.59,282.1 L334.75,282.1 L334.92,282.11 L335.09,282.12 L335.25,282.13 L335.42,282.13 L335.58,282.14 L335.75,282.15 L335.91,282.16 L336.07,282.17 L336.24,282.17 L336.4,282.18 L336.57,282.19 L336.74,282.2 L336.9,282.2 L337.06,282.21 L337.23,282.22 L337.39,282.23 L337.56,282.23 L337.73,282.24 L337.89,282.25 L338.06,282.26 L338.22,282.26 L338.38,282.27 L338.55,282.28 L338.72,282.29 L338.88,282.29 L339.05,282.3 L339.21,282.31 L339.38,282.32 L339.54,282.32 L339.7,282.33 L339.87,282.34 L340.03,282.35 L340.2,282.35 L340.37,282.36 L340.53,282.37 L340.7,282.38 L340.86,282.38 L341.02,282.39 L341.19,282.4 L341.36,282.41 L341.52,282.41 L341.69,282.42 L341.85,282.43 L342.01,282.44 L342.18,282.44 L342.35,282.45 L342.51,282.46 L342.67,282.47 L342.84,282.47 L343,282.48 L343.17,282.49 L343.34,282.5 L343.5,282.5 L343.66,282.51 L343.83,282.52 L344,282.53 L344.16,282.53 L344.32,282.54 L344.49,282.55 L344.65,282.56 L344.82,282.56 L344.99,282.57 L345.15,282.58 L345.31,282.59 L345.48,282.59 L345.64,282.6 L345.81,282.61 L345.98,282.62 L346.14,282.62 L346.31,282.63 L346.47,282.64 L346.63,282.65 L346.8,282.65 L346.97,282.66 L347.13,282.67 L347.3,282.68 L347.46,282.68 L347.62,282.69 L347.79,282.7 L347.95,282.71 L348.12,282.71 L348.28,282.72 L348.45,282.73 L348.62,282.74 L348.78,282.74 L348.95,282.75 L349.11,282.76 L349.27,282.77 L349.44,282.77 L349.61,282.78 L349.77,282.79 L349.94,282.8 L350.1,282.8 L350.26,282.81 L350.43,282.82 L350.6,282.83 L350.76,282.83 L350.92,282.84 L351.09,282.85 L351.25,282.86 L351.42,282.86 L351.59,282.87 L351.75,282.88 L351.91,282.89 L352.08,282.89 L352.25,282.9 L352.41,282.91 L352.57,282.92 L352.74,282.92 L352.9,282.93 L353.07,282.94 L353.24,282.95 L353.4,282.95 L353.56,282.96 L353.73,282.97 L353.89,282.98 L354.06,282.98 L354.23,282.99 L354.39,283 L354.56,283.01 L354.72,283.01 L354.88,283.02 L355.05,283.03 L355.22,283.03 L355.38,283.04 L355.55,283.05 L355.71,283.06 L355.88,283.06 L356.04,283.07 L356.2,283.08 L356.37,283.09 L356.53,283.09 L356.7,283.1 L356.87,283.11 L357.03,283.12 L357.2,283.12 L357.36,283.13 L357.52,283.14 L357.69,283.15 L357.86,283.15 L358.02,283.16 L358.19,283.17 L358.35,283.18 L358.51,283.18 L358.68,283.19 L358.85,283.2 L359.01,283.21 L359.17,283.21 L359.34,283.22 L359.5,283.23 L359.67,283.24 L359.84,283.24 L360,283.25 L360.16,283.26 L360.33,283.27 L360.5,283.27 L360.66,283.28 L360.82,283.29 L360.99,283.3 L361.15,283.3 L361.32,283.31 L361.49,283.32 L361.65,283.32 L361.81,283.33 L361.98,283.34 L362.14,283.35 L362.31,283.35 L362.48,283.36 L362.64,283.37 L362.81,283.38 L362.97,283.38 L363.13,283.39 L363.3,283.4 L363.47,283.41 L363.63,283.41 L363.8,283.42 L363.96,283.43 L364.12,283.44 L364.29,283.44 L364.45,283.45 L364.62,283.46 L364.78,283.47 L364.95,283.47 L365.12,283.48 L365.28,283.49 L365.45,283.5 L365.61,283.5 L365.77,283.51 L365.94,283.52 L366.11,283.52 L366.27,283.53 L366.44,283.54 L366.6,283.55 L366.76,283.55 L366.93,283.56 L367.1,283.57 L367.26,283.58 L367.42,283.58 L367.59,283.59 L367.75,283.6 L367.92,283.61 L368.09,283.61 L368.25,283.62 L368.41,283.63 L368.58,283.64 L368.75,283.64 L368.91,283.65 L369.07,283.66 L369.24,283.67 L369.4,283.67 L369.57,283.68 L369.74,283.69 L369.9,283.7 L370.06,283.7 L370.23,283.71 L370.39,283.72 L370.56,283.72 L370.73,283.73 L370.89,283.74 L371.06,283.75 L371.22,283.75 L371.38,283.76 L371.55,283.77 L371.72,283.78 L371.88,283.78 L372.05,283.79 L372.21,283.8 L372.38,283.81 L372.54,283.81 L372.7,283.82 L372.87,283.83 L373.03,283.84 L373.2,283.84 L373.37,283.85 L373.53,283.86 L373.7,283.87 L373.86,283.87 L374.02,283.88 L374.19,283.89 L374.36,283.89 L374.52,283.9 L374.69,283.91 L374.85,283.92 L375.01,283.92 L375.18,283.93 L375.35,283.94 L375.51,283.95 L375.67,283.95 L375.84,283.96 L376,283.97 L376.17,283.98 L376.34,283.98 L376.5,283.99 L376.66,284 L376.83,284.01 L377,284.01 L377.16,284.02 L377.32,284.03 L377.49,284.04 L377.65,284.04 L377.82,284.05 L377.99,284.06 L378.15,284.06 L378.31,284.07 L378.48,284.08 L378.64,284.09 L378.81,284.09 L378.98,284.1 L379.14,284.11 L379.31,284.12 L379.47,284.12 L379.63,284.13 L379.8,284.14 L379.97,284.15 L380.13,284.15 L380.3,284.16 L380.46,284.17 L380.62,284.18 L380.79,284.18 L380.95,284.19 L381.12,284.2 L381.28,284.21 L381.45,284.21 L381.62,284.22 L381.78,284.23 L381.95,284.23 L382.11,284.24 L382.27,284.25 L382.44,284.26 L382.61,284.26 L382.77,284.27 L382.94,284.28 L383.1,284.29 L383.26,284.29 L383.43,284.3 L383.6,284.31 L383.76,284.32 L383.92,284.32 L384.09,284.33 L384.25,284.34 L384.42,284.35 L384.59,284.35 L384.75,284.36 L384.91,284.37 L385.08,284.38 L385.25,284.38 L385.41,284.39 L385.57,284.4 L385.74,284.4 L385.9,284.41 L386.07,284.42 L386.24,284.43 L386.4,284.43 L386.56,284.44 L386.73,284.45 L386.89,284.46 L387.06,284.46 L387.23,284.47 L387.39,284.48 L387.56,284.49 L387.72,284.49 L387.88,284.5 L388.05,284.51 L388.22,284.52 L388.38,284.52 L388.55,284.53 L388.71,284.54 L388.88,284.54 L389.04,284.55 L389.2,284.56 L389.37,284.57 L389.53,284.57 L389.7,284.58 L389.87,284.59 L390.03,284.6 L390.2,284.6 L390.36,284.61 L390.52,284.62 L390.69,284.63 L390.86,284.63 L391.02,284.64 L391.19,284.65 L391.35,284.66 L391.51,284.66 L391.68,284.67 L391.85,284.68 L392.01,284.68 L392.17,284.69 L392.34,284.7 L392.5,284.71 L392.67,284.71 L392.84,284.72 L393,284.73 L393.16,284.74 L393.33,284.74 L393.5,284.75 L393.66,284.76 L393.82,284.77 L393.99,284.77 L394.15,284.78 L394.32,284.79 L394.49,284.8 L394.65,284.8 L394.81,284.81 L394.98,284.82 L395.14,284.83 L395.31,284.83 L395.48,284.84 L395.64,284.85 L395.81,284.85 L395.97,284.86 L396.13,284.87 L396.3,284.88 L396.47,284.88 L396.63,284.89 L396.8,284.9 L396.96,284.91 L397.12,284.91 L397.29,284.92 L397.45,284.93 L397.62,284.94 L397.78,284.94 L397.95,284.95 L398.12,284.96 L398.28,284.97 L398.45,284.97 L398.61,284.98 L398.77,284.99 L398.94,284.99 L399.11,285 L399.27,285.01 L399.44,285.02 L399.6,285.02 L399.76,285.03 L399.93,285.04 L400.1,285.05 L400.26,285.05 L400.42,285.06 L400.59,285.07 L400.75,285.08 L400.92,285.08 L401.09,285.09 L401.25,285.1 L401.41,285.11 L401.58,285.11 L401.75,285.12 L401.91,285.13 L402.07,285.13 L402.24,285.14 L402.4,285.15 L402.57,285.16 L402.74,285.16 L402.9,285.17 L403.06,285.18 L403.23,285.19 L403.39,285.19 L403.56,285.2 L403.73,285.21 L403.89,285.22 L404.06,285.22 L404.22,285.23 L404.38,285.24 L404.55,285.25 L404.72,285.25 L404.88,285.26 L405.05,285.27 L405.21,285.27 L405.38,285.28 L405.54,285.29 L405.7,285.3 L405.87,285.3 L406.03,285.31 L406.2,285.32 L406.37,285.33 L406.53,285.33 L406.69,285.34 L406.86,285.35 L407.02,285.36 L407.19,285.36 L407.36,285.37 L407.52,285.38 L407.69,285.39 L407.85,285.39 L408.01,285.4 L408.18,285.41 L408.35,285.41 L408.51,285.42 L408.67,285.43 L408.84,285.44 L409,285.44 L409.17,285.45 L409.34,285.46 L409.5,285.47 L409.66,285.47 L409.83,285.48 L410,285.49 L410.16,285.5 L410.32,285.5 L410.49,285.51 L410.66,285.52 L410.82,285.53 L410.99,285.53 L411.15,285.54 L411.31,285.55 L411.48,285.55 L411.64,285.56 L411.81,285.57 L411.98,285.58 L412.14,285.58 L412.31,285.59 L412.47,285.6 L412.63,285.61 L412.8,285.61 L412.96,285.62 L413.13,285.63 L413.3,285.64 L413.46,285.64 L413.62,285.65 L413.79,285.66 L413.96,285.67 L414.12,285.67 L414.28,285.68 L414.45,285.69 L414.62,285.69 L414.78,285.7 L414.94,285.71 L415.11,285.72 L415.27,285.72 L415.44,285.73 L415.61,285.74 L415.77,285.75 L415.94,285.75 L416.1,285.76 L416.26,285.77 L416.43,285.78 L416.6,285.78 L416.76,285.79 L416.92,285.8 L417.09,285.81 L417.25,285.81 L417.42,285.82 L417.59,285.83 L417.75,285.83 L417.91,285.84 L418.08,285.85 L418.25,285.86 L418.41,285.86 L418.57,285.87 L418.74,285.88 L418.91,285.89 L419.07,285.89 L419.24,285.9 L419.4,285.91 L419.56,285.92 L419.73,285.92 L419.89,285.93 L420.06,285.94 L420.23,285.95 L420.39,285.95 L420.56,285.96 L420.72,285.97 L420.88,285.97 L421.05,285.98 L421.21,285.99 L421.38,286 L421.55,286 L421.71,286.01 L421.88,286.02 L422.04,286.03 L422.21,286.03 L422.37,286.04 L422.53,286.05 L422.7,286.06 L422.87,286.06 L423.03,286.07 L423.19,286.08 L423.36,286.09 L423.52,286.09 L423.69,286.1 L423.86,286.11 L424.02,286.11 L424.19,286.12 L424.35,286.13 L424.51,286.14 L424.68,286.14 L424.85,286.15 L425.01,286.16 L425.17,286.17 L425.34,286.17 L425.5,286.18 L425.67,286.19 L425.84,286.2 L426,286.2 L426.16,286.21 L426.33,286.22 L426.5,286.23 L426.66,286.23 L426.82,286.24 L426.99,286.25 L427.16,286.25 L427.32,286.26 L427.49,286.27 L427.65,286.28 L427.81,286.28 L427.98,286.29 L428.14,286.3 L428.31,286.31 L428.48,286.31 L428.64,286.32 L428.81,286.33 L428.97,286.34 L429.13,286.34 L429.3,286.35 L429.46,286.36 L429.63,286.36 L429.8,286.37 L429.96,286.38 L430.12,286.39 L430.29,286.39 L430.46,286.4 L430.62,286.41 L430.78,286.42 L430.95,286.42 L431.12,286.43 L431.28,286.44 L431.44,286.45 L431.61,286.45 L431.77,286.46 L431.94,286.47 L432.11,286.48 L432.27,286.48 L432.44,286.49 L432.6,286.5 L432.76,286.5 L432.93,286.51 L433.1,286.52 L433.26,286.53 L433.42,286.53 L433.59,286.54 L433.75,286.55 L433.92,286.56 L434.09,286.56 L434.25,286.57 L434.41,286.58 L434.58,286.59 L434.75,286.59 L434.91,286.6 L435.07,286.61 L435.24,286.62 L435.4,286.62 L435.57,286.63 L435.74,286.64 L435.9,286.64 L436.06,286.65 L436.23,286.66 L436.39,286.67 L436.56,286.67 L436.73,286.68 L436.89,286.69 L437.06,286.7 L437.22,286.7 L437.38,286.71 L437.55,286.72 L437.71,286.73 L437.88,286.73 L438.05,286.74 L438.21,286.75 L438.38,286.76 L438.54,286.76 L438.71,286.77 L438.87,286.78 L439.03,286.78 L439.2,286.79 L439.37,286.8 L439.53,286.81 L439.69,286.81 L439.86,286.82 L440.02,286.83 L440.19,286.84 L440.36,286.84 L440.52,286.85 L440.69,286.86 L440.85,286.87 L441.01,286.87 L441.18,286.88 L441.35,286.89 L441.51,286.9 L441.67,286.9 L441.84,286.91 L442,286.92 L442.17,286.92 L442.34,286.93 L442.5,286.94 L442.66,286.95 L442.83,286.95 L443,286.96 L443.16,286.97 L443.32,286.98 L443.49,286.98 L443.65,286.99 L443.82,287 L443.99,287.01 L444.15,287.01 L444.31,287.02 L444.48,287.03 L444.64,287.04 L444.81,287.04 L444.98,287.05 L445.14,287.06 L445.31,287.06 L445.47,287.07 L445.63,287.08 L445.8,287.09 L445.96,287.09 L446.13,287.1 L446.3,287.11 L446.46,287.12 L446.62,287.12 L446.79,287.13 L446.96,287.14 L447.12,287.15 L447.28,287.15 L447.45,287.16 L447.62,287.17 L447.78,287.18 L447.94,287.18 L448.11,287.19 L448.27,287.2 L448.44,287.2 L448.61,287.21 L448.77,287.22 L448.94,287.23 L449.1,287.23 L449.26,287.24 L449.43,287.25 L449.6,287.26 L449.76,287.26 L449.92,287.27 L450.09,287.28 L450.25,287.29 L450.42,287.29 L450.59,287.3 L450.75,287.31 L450.92,287.31 L451.08,287.32 L451.25,287.33 L451.41,287.34 L451.57,287.34 L451.74,287.35 L451.91,287.36 L452.07,287.37 L452.24,287.37 L452.4,287.38 L452.56,287.39 L452.73,287.4 L452.89,287.4 L453.06,287.41 L453.22,287.42 L453.39,287.43 L453.56,287.43 L453.72,287.44 L453.88,287.45 L454.05,287.45 L454.22,287.46 L454.38,287.47 L454.55,287.48 L454.71,287.48 L454.88,287.49 L455.04,287.5 L455.21,287.51 L455.37,287.51 L455.53,287.52 L455.7,287.53 L455.87,287.54 L456.03,287.54 L456.19,287.55 L456.36,287.56 L456.52,287.57 L456.69,287.57 L456.86,287.58 L457.02,287.59 L457.19,287.59 L457.35,287.6 L457.52,287.61 L457.68,287.62 L457.85,287.62 L458.01,287.63 L458.18,287.64 L458.34,287.65 L458.5,287.65 L458.67,287.66 L458.83,287.67 L459,287.68 L459.17,287.68 L459.33,287.69 L459.5,287.7 L459.66,287.71 L459.82,287.71 L459.99,287.72 L460.16,287.73 L460.32,287.73 L460.49,287.74 L460.65,287.75 L460.81,287.76 L460.98,287.76 L461.14,287.77 L461.31,287.78 L461.47,287.79 L461.64,287.79 L461.81,287.8 L461.97,287.81 L462.13,287.82 L462.3,287.82 L462.47,287.83 L462.63,287.84 L462.8,287.85 L462.96,287.85 L463.12,287.86 L463.29,287.87 L463.46,287.87 L463.62,287.88 L463.78,287.89 L463.95,287.9 L464.12,287.9 L464.28,287.91 L464.44,287.92 L464.61,287.93 L464.77,287.93 L464.94,287.94 L465.11,287.95 L465.27,287.96 L465.44,287.96 L465.6,287.97 L465.77,287.98 L465.93,287.99 L466.1,287.99 L466.26,288 L466.43,288.01 L466.59,288.01 L466.75,288.02 L466.92,288.03 L467.08,288.04 L467.25,288.04 L467.42,288.05 L467.58,288.06 L467.75,288.07 L467.91,288.07 L468.07,288.08 L468.24,288.09 L468.41,288.1 L468.57,288.1 L468.74,288.11 L468.9,288.12 L469.06,288.12 L469.23,288.13 L469.39,288.14 L469.56,288.15 L469.72,288.15 L469.89,288.16 L470.06,288.17 L470.22,288.18 L470.38,288.18 L470.55,288.19 L470.72,288.2 L470.88,288.21 L471.05,288.21 L471.21,288.22 L471.38,288.23 L471.54,288.24 L471.71,288.24 L471.87,288.25 L472.03,288.26 L472.2,288.26 L472.37,288.27 L472.53,288.28 L472.69,288.29 L472.86,288.29 L473.02,288.3 L473.19,288.31 L473.36,288.32 L473.52,288.32 L473.69,288.33 L473.85,288.34 L474.02,288.35 L474.18,288.35 L474.35,288.36 L474.51,288.37 L474.68,288.38 L474.84,288.38 L475,288.39 L475.17,288.4 L475.33,288.4 L475.5,288.41 L475.67,288.42 L475.83,288.43 L476,288.43 L476.16,288.44 L476.32,288.45 L476.49,288.46 L476.66,288.46 L476.82,288.47 L476.99,288.48 L477.15,288.49 L477.31,288.49 L477.48,288.5 L477.64,288.51 L477.81,288.52 L477.97,288.52 L478.14,288.53 L478.31,288.54 L478.47,288.54 L478.63,288.55 L478.8,288.56 L478.97,288.57 L479.13,288.57 L479.3,288.58 L479.46,288.59 L479.62,288.6 L479.79,288.6 L479.96,288.61 L480.12,288.62 L480.28,288.63 L480.45,288.63 L480.62,288.64 L480.78,288.65 L480.94,288.66 L481.11,288.66 L481.27,288.67 L481.44,288.68 L481.61,288.68 L481.77,288.69 L481.94,288.7 L482.1,288.71 L482.27,288.71 L482.43,288.72 L482.6,288.73 L482.76,288.74 L482.93,288.74 L483.09,288.75 L483.25,288.76 L483.42,288.77 L483.58,288.77 L483.75,288.78 L483.92,288.79 L484.08,288.79 L484.25,288.8 L484.41,288.81 L484.57,288.82 L484.74,288.82 L484.91,288.83 L485.07,288.84 L485.24,288.85 L485.4,288.85 L485.56,288.86 L485.73,288.87 L485.89,288.88 L486.06,288.88 L486.22,288.89 L486.39,288.9 L486.56,288.91 L486.72,288.91 L486.88,288.92 L487.05,288.93 L487.22,288.93 L487.38,288.94 L487.55,288.95 L487.71,288.96 L487.88,288.96 L488.04,288.97 L488.2,288.98 L488.37,288.99 L488.53,288.99 L488.7,289 L488.87,289.01 L489.03,289.02 L489.19,289.02 L489.36,289.03 L489.52,289.04 L489.69,289.05 L489.86,289.05 L490.02,289.06 L490.19,289.07 L490.35,289.07 L490.52,289.08 L490.68,289.09 L490.85,289.1 L491.01,289.1 L491.18,289.11 L491.34,289.12 L491.5,289.13 L491.67,289.13 L491.83,289.14 L492,289.15 L492.17,289.16 L492.33,289.16 L492.5,289.17 L492.66,289.18 L492.82,289.19 L492.99,289.19 L493.16,289.2 L493.32,289.21 L493.49,289.21 L493.65,289.22 L493.81,289.23 L493.98,289.24 L494.14,289.24 L494.31,289.25 L494.47,289.26 L494.64,289.27 L494.81,289.27 L494.97,289.28 L495.13,289.29 L495.3,289.3 L495.47,289.3 L495.63,289.31 L495.8,289.32 L495.96,289.33 L496.12,289.33 L496.29,289.34 L496.45,289.35 L496.62,289.35 L496.78,289.36 L496.95,289.37 L497.12,289.38 L497.28,289.38 L497.44,289.39 L497.61,289.4 L497.77,289.41 L497.94,289.41 L498.11,289.42 L498.27,289.43 L498.44,289.44 L498.6,289.44 L498.77,289.45 L498.93,289.46 L499.1,289.47 L499.26,289.47 L499.43,289.48 L499.59,289.49 L499.75,289.49 L499.92,289.5 L500.08,289.51 L500.25,289.52 L500.42,289.52 L500.58,289.53 L500.75,289.54 L500.91,289.55 L501.07,289.55 L501.24,289.56 L501.41,289.57 L501.57,289.58 L501.74,289.58 L501.9,289.59 L502.06,289.6 L502.23,289.6 L502.39,289.61 L502.56,289.62 L502.72,289.63 L502.89,289.63 L503.06,289.64 L503.22,289.65 L503.38,289.66 L503.55,289.66 L503.72,289.67 L503.88,289.68 L504.05,289.69 L504.21,289.69 L504.38,289.7 L504.54,289.71 L504.7,289.72 L504.87,289.72 L505.03,289.73 L505.2,289.74 L505.37,289.74 L505.53,289.75 L505.69,289.76 L505.86,289.77 L506.02,289.77 L506.19,289.78 L506.36,289.79 L506.52,289.8 L506.69,289.8 L506.85,289.81 L507.02,289.82 L507.18,289.83 L507.35,289.83 L507.51,289.84 L507.68,289.85 L507.84,289.86 L508,289.86 L508.17,289.87 L508.33,289.88 L508.5,289.88 L508.67,289.89 L508.83,289.9 L509,289.91 L509.16,289.91 L509.32,289.92 L509.49,289.93 L509.66,289.94 L509.82,289.94 L509.99,289.95 L510.15,289.96 L510.31,289.97 L510.48,289.97 L510.64,289.98 L510.81,289.99 L510.97,290 L511.14,290 L511.31,290.01 L511.47,290.02 L511.63,290.02 L511.8,290.03 L511.97,290.04 L512.13,290.05 L512.3,290.05 L512.46,290.06 L512.62,290.07 L512.79,290.08 L512.95,290.08 L513.12,290.09 L513.28,290.1 L513.45,290.11 L513.62,290.11 L513.78,290.12 L513.94,290.13 L514.11,290.14 L514.27,290.14 L514.44,290.15 L514.61,290.16 L514.77,290.16 L514.93,290.17 L515.1,290.18 L515.27,290.19 L515.43,290.19 L515.6,290.2 L515.76,290.21 L515.92,290.22 L516.09,290.22 L516.25,290.23 L516.42,290.24 L516.42,334.6 Z" fill="url(#gdm)" stroke="none" transform="translate(0,0)"/>
<path d="M195,337.38 L195.16,339.13 L195.33,335.34 L195.5,336.58 L195.66,340.37 L195.82,334.2 L195.99,338.51 L196.16,336.48 L196.32,335.7 L196.49,336.87 L196.65,339.15 L196.81,341.33 L196.98,337.74 L197.15,336.16 L197.31,339.07 L197.47,337.44 L197.64,334.05 L197.81,338.63 L197.97,328.56 L198.13,335.86 L198.3,339.02 L198.47,335.77 L198.63,337.09 L198.79,333.95 L198.96,339.15 L199.12,335.22 L199.29,338.83 L199.46,335.92 L199.62,333.55 L199.78,336.31 L199.95,333.87 L200.12,337.21 L200.28,334.71 L200.44,337.91 L200.61,337.11 L200.78,336.56 L200.94,339.59 L201.1,333.08 L201.27,280.31 L201.44,225.65 L201.6,227.3 L201.76,231.21 L201.93,237.47 L202.09,242.96 L202.26,245.86 L202.43,250.53 L202.59,252.84 L202.75,254.01 L202.92,255.02 L203.09,253.83 L203.25,255.97 L203.41,257.23 L203.58,255.15 L203.75,255.33 L203.91,256.69 L204.07,257.71 L204.24,256.37 L204.41,260.61 L204.57,256.03 L204.74,256.49 L204.9,259.83 L205.06,257.46 L205.23,259.16 L205.4,256.75 L205.56,261.08 L205.72,263.33 L205.89,257.3 L206.06,256.79 L206.22,261.89 L206.38,259.57 L206.55,258.49 L206.72,261.91 L206.88,256.91 L207.04,261.21 L207.21,259.05 L207.38,261.29 L207.54,257.77 L207.71,260.05 L207.87,260.72 L208.03,262.87 L208.2,257.93 L208.37,259.46 L208.53,259.6 L208.69,259.16 L208.86,260.48 L209.03,262.09 L209.19,262.47 L209.35,262.6 L209.52,259.49 L209.69,263.85 L209.85,262.69 L210.01,262.41 L210.18,261.72 L210.34,261.33 L210.51,264.18 L210.68,265.02 L210.84,262.57 L211,260.88 L211.17,261.68 L211.34,262.61 L211.5,263.53 L211.66,262.74 L211.83,263.66 L212,262.19 L212.16,264.71 L212.32,263.44 L212.49,263.93 L212.66,263.06 L212.82,263.65 L212.99,260.3 L213.15,261.98 L213.31,262.09 L213.48,267.48 L213.65,265.05 L213.81,265.56 L213.97,263.96 L214.14,268.27 L214.31,263.22 L214.47,263.49 L214.63,267.13 L214.8,266.75 L214.97,266.58 L215.13,265.43 L215.3,264.64 L215.46,262.64 L215.62,266.09 L215.79,264.75 L215.96,265.76 L216.12,263.46 L216.28,265.07 L216.45,264.24 L216.62,267.98 L216.78,266.75 L216.94,267.78 L217.11,264.41 L217.28,265.77 L217.44,267.29 L217.6,267.6 L217.77,266.3 L217.94,268.16 L218.1,268.59 L218.26,266.57 L218.43,263.7 L218.59,267.83 L218.76,268.38 L218.93,269.38 L219.09,269.71 L219.25,267.02 L219.42,266.61 L219.59,267.95 L219.75,267.55 L219.91,267.96 L220.08,268 L220.25,270.57 L220.41,269.06 L220.57,268.28 L220.74,269.7 L220.91,269.32 L221.07,269.91 L221.24,269.26 L221.4,267.56 L221.56,269.52 L221.73,269.22 L221.9,267.85 L222.06,268.18 L222.22,266.68 L222.39,272.4 L222.56,268.08 L222.72,270.15 L222.88,269.3 L223.05,268.32 L223.22,268.02 L223.38,270.76 L223.54,269.55 L223.71,267.45 L223.88,270.34 L224.04,270.19 L224.2,268.86 L224.37,270.94 L224.53,266.96 L224.7,268.73 L224.87,267.07 L225.03,270.42 L225.19,271.02 L225.36,270.26 L225.53,269.47 L225.69,271.51 L225.85,270.13 L226.02,270.78 L226.19,268.41 L226.35,271.87 L226.51,269.38 L226.68,271.96 L226.84,272.49 L227.01,272.18 L227.18,272.96 L227.34,271.02 L227.5,269.76 L227.67,271.11 L227.84,270.48 L228,269.03 L228.16,271.12 L228.33,271.29 L228.5,272.05 L228.66,274.09 L228.82,270.61 L228.99,274.42 L229.16,270.88 L229.32,271.93 L229.49,270.28 L229.65,272.11 L229.81,273.29 L229.98,273.46 L230.14,273 L230.31,272.49 L230.47,272.21 L230.64,272.52 L230.81,272.65 L230.97,273.66 L231.13,272.75 L231.3,275.71 L231.47,272.8 L231.63,274.41 L231.8,270.99 L231.96,270.82 L232.12,275.67 L232.29,272.59 L232.46,273.04 L232.62,274.46 L232.78,272.15 L232.95,273.68 L233.12,275.68 L233.28,273.48 L233.44,273.35 L233.61,273.01 L233.78,275.06 L233.94,272.34 L234.11,272.21 L234.27,275.06 L234.44,274.37 L234.6,273.55 L234.76,274.32 L234.93,270.92 L235.09,273.25 L235.26,275.11 L235.43,274.82 L235.59,273.77 L235.75,270.3 L235.92,274.03 L236.09,273.62 L236.25,273.08 L236.41,273.95 L236.58,270.52 L236.75,274.76 L236.91,272.89 L237.07,273.8 L237.24,273.15 L237.41,275.87 L237.57,271.52 L237.74,274.37 L237.9,274.18 L238.06,275.66 L238.23,275.39 L238.39,273.5 L238.56,272.9 L238.72,273.29 L238.89,272.64 L239.06,273.42 L239.22,274.48 L239.38,273.31 L239.55,273.7 L239.72,274.78 L239.88,273.58 L240.05,272.77 L240.21,274.38 L240.38,275.29 L240.54,273.72 L240.71,271.99 L240.87,275.18 L241.03,275.03 L241.2,275.13 L241.37,273.13 L241.53,277.73 L241.69,274.48 L241.86,273.28 L242.03,276.3 L242.19,272.9 L242.36,274.35 L242.52,276 L242.69,274.91 L242.85,277.53 L243.01,276.12 L243.18,272.58 L243.34,276.67 L243.51,272.61 L243.68,275.52 L243.84,273.94 L244,275.39 L244.17,278.83 L244.34,276.37 L244.5,275.26 L244.66,277.29 L244.83,277.61 L245,275.08 L245.16,276.62 L245.32,278.21 L245.49,276.73 L245.66,274.45 L245.82,276.47 L245.99,274.4 L246.15,273.54 L246.31,275.8 L246.48,277.56 L246.64,277.84 L246.81,275.96 L246.97,274.64 L247.14,275.58 L247.31,275.19 L247.47,276.69 L247.63,275.61 L247.8,276.78 L247.97,276.59 L248.13,278.06 L248.3,278.5 L248.46,276.9 L248.62,277.86 L248.79,277.66 L248.95,275.25 L249.12,276.44 L249.28,271.95 L249.45,274.95 L249.62,277.3 L249.78,275.21 L249.94,275.87 L250.11,277.45 L250.28,274.8 L250.44,277.63 L250.61,281.06 L250.77,275.33 L250.94,277.46 L251.1,274.34 L251.26,277.55 L251.43,278.37 L251.59,274.32 L251.76,278.26 L251.93,276.37 L252.09,274.53 L252.25,276.55 L252.42,276.86 L252.58,276.61 L252.75,275.53 L252.91,278.01 L253.08,275.91 L253.25,275.98 L253.41,273.38 L253.57,277.39 L253.74,278.27 L253.91,275.83 L254.07,277.54 L254.23,282.51 L254.4,276.79 L254.56,275.27 L254.73,278.01 L254.9,277.19 L255.06,280.88 L255.22,278.42 L255.39,274.82 L255.56,278.15 L255.72,278.2 L255.88,278.99 L256.05,276.32 L256.21,276.94 L256.38,279 L256.55,276.25 L256.71,276.88 L256.88,276.16 L257.04,278.26 L257.2,274.73 L257.37,276.73 L257.53,277.53 L257.7,278.15 L257.87,277.76 L258.03,276.13 L258.19,277.83 L258.36,275.84 L258.52,276.6 L258.69,275.48 L258.86,276.29 L259.02,277.61 L259.19,280.39 L259.35,277.11 L259.51,276.39 L259.68,277.35 L259.85,276.78 L260.01,278.33 L260.18,278.21 L260.34,279.07 L260.5,275.64 L260.67,277.46 L260.84,278.44 L261,279.71 L261.16,277.97 L261.33,275.61 L261.5,277.09 L261.66,278.87 L261.82,275.67 L261.99,275.69 L262.15,276.38 L262.32,276.68 L262.49,276.15 L262.65,277.08 L262.81,276.75 L262.98,279.08 L263.14,275.7 L263.31,277.61 L263.48,274.95 L263.64,281.03 L263.81,276.95 L263.97,276.55 L264.13,278.54 L264.3,277.37 L264.47,276.94 L264.63,277.21 L264.8,278.89 L264.96,278.32 L265.12,276.6 L265.29,276.23 L265.45,278 L265.62,278.05 L265.79,277.88 L265.95,276.64 L266.12,279.78 L266.28,280.21 L266.44,278.05 L266.61,273.72 L266.77,279.14 L266.94,278.15 L267.11,277.57 L267.27,279.91 L267.44,277.13 L267.6,280.98 L267.76,277.54 L267.93,280.72 L268.1,280.28 L268.26,277.43 L268.43,279.01 L268.59,279.61 L268.75,279.1 L268.92,277.75 L269.09,278.54 L269.25,278.52 L269.41,276.91 L269.58,279.57 L269.75,279.22 L269.91,279.31 L270.07,276.8 L270.24,277.07 L270.4,276.65 L270.57,278.63 L270.74,278.83 L270.9,277.33 L271.06,279.21 L271.23,277.39 L271.39,277.56 L271.56,279.7 L271.73,278.79 L271.89,278.86 L272.06,276.11 L272.22,274.85 L272.38,278.87 L272.55,278.71 L272.72,282.15 L272.88,278.44 L273.05,278.78 L273.21,280.38 L273.38,277.62 L273.54,281.15 L273.7,279.14 L273.87,278.63 L274.04,280.71 L274.2,277.58 L274.37,277.29 L274.53,280.95 L274.69,280.99 L274.86,278.01 L275.02,278.96 L275.19,280.74 L275.36,279.38 L275.52,279.11 L275.69,279.18 L275.85,277.74 L276.01,278.41 L276.18,276.36 L276.35,276.96 L276.51,278.01 L276.68,277.43 L276.84,277.07 L277,278 L277.17,280.9 L277.34,277.8 L277.5,278.98 L277.66,276.69 L277.83,278.69 L278,278.34 L278.16,278.65 L278.32,276.64 L278.49,278.9 L278.65,279.57 L278.82,278.72 L278.99,279.85 L279.15,278.96 L279.31,279.23 L279.48,278.82 L279.64,276.37 L279.81,279.85 L279.98,279.2 L280.14,279.57 L280.31,278.28 L280.47,281.06 L280.63,280.34 L280.8,279.37 L280.97,278.51 L281.13,279.4 L281.3,280.09 L281.46,280.65 L281.62,278.6 L281.79,277.23 L281.95,278.91 L282.12,279.12 L282.29,278.75 L282.45,280.83 L282.62,279.9 L282.78,279.84 L282.94,279.01 L283.11,279.51 L283.27,281.29 L283.44,277.8 L283.61,276.97 L283.77,279.9 L283.94,278.92 L284.1,279.13 L284.26,278.36 L284.43,281.75 L284.6,277.15 L284.76,280.26 L284.93,277.69 L285.09,279.46 L285.25,280.18 L285.42,279.81 L285.59,278.28 L285.75,280.91 L285.91,280.2 L286.08,280.37 L286.25,282.22 L286.41,277.72 L286.57,278.81 L286.74,279.72 L286.9,277.96 L287.07,281.13 L287.24,279.82 L287.4,277.15 L287.56,278.27 L287.73,283.07 L287.89,284.73 L288.06,281.31 L288.23,278.19 L288.39,280.49 L288.56,280.12 L288.72,278.89 L288.88,281.13 L289.05,279.5 L289.22,278.65 L289.38,279.14 L289.55,279.26 L289.71,280.76 L289.88,279.1 L290.04,280.52 L290.2,277.94 L290.37,276.06 L290.54,281.01 L290.7,283.16 L290.87,280.56 L291.03,279.37 L291.19,278.38 L291.36,278.34 L291.52,281.13 L291.69,281.16 L291.86,278.09 L292.02,281.62 L292.19,278.37 L292.35,280.35 L292.51,278.88 L292.68,278.97 L292.85,278.88 L293.01,278.82 L293.18,281.53 L293.34,279.62 L293.5,280.05 L293.67,279.62 L293.84,278.25 L294,280.51 L294.16,281.17 L294.33,281.21 L294.5,280.59 L294.66,279.02 L294.82,281.36 L294.99,278.43 L295.15,279.73 L295.32,280.51 L295.49,282.17 L295.65,279.83 L295.81,279.17 L295.98,282.85 L296.14,278.44 L296.31,277.77 L296.48,279.73 L296.64,279.51 L296.81,276.65 L296.97,278.43 L297.13,281.61 L297.3,280.31 L297.47,280.52 L297.63,280.52 L297.8,283.84 L297.96,279.19 L298.12,281.28 L298.29,280.09 L298.45,280.55 L298.62,279.05 L298.79,280.8 L298.95,281.56 L299.12,279.58 L299.28,278.29 L299.44,280.87 L299.61,278.36 L299.77,280.02 L299.94,281.22 L300.11,278.15 L300.27,281.66 L300.44,278.93 L300.6,281.2 L300.76,279.79 L300.93,282.32 L301.09,281.73 L301.26,278.9 L301.43,280.22 L301.59,277.02 L301.75,281.17 L301.92,279.86 L302.09,282.62 L302.25,282.21 L302.42,280.79 L302.58,281.8 L302.75,281.61 L302.91,280.68 L303.07,280.79 L303.24,280.93 L303.4,278.12 L303.57,279.1 L303.74,278.78 L303.9,280.67 L304.06,281.39 L304.23,282.81 L304.39,281.17 L304.56,283.77 L304.73,281.54 L304.89,279.54 L305.06,278.27 L305.22,279.25 L305.38,281.99 L305.55,279.98 L305.72,281.9 L305.88,279.5 L306.04,280.9 L306.21,279.46 L306.38,276.91 L306.54,279.38 L306.7,277.29 L306.87,280.51 L307.03,281.28 L307.2,278.8 L307.37,278.23 L307.53,281.64 L307.69,280.7 L307.86,282.97 L308.02,281.13 L308.19,279.52 L308.36,280.98 L308.52,281.71 L308.69,282.97 L308.85,280.33 L309.01,279.69 L309.18,280 L309.34,280.52 L309.51,282.81 L309.68,278.29 L309.84,281.01 L310,281.15 L310.17,279.85 L310.34,284.18 L310.5,281.05 L310.67,281.17 L310.83,280.42 L311,278.97 L311.16,280.29 L311.32,283.73 L311.49,281.51 L311.65,280.71 L311.82,280.8 L311.99,282.94 L312.15,283.52 L312.31,280.23 L312.48,280.54 L312.64,281.09 L312.81,283.65 L312.98,278.43 L313.14,285.42 L313.31,281.64 L313.47,277.98 L313.63,281.35 L313.8,280.77 L313.97,282.89 L314.13,279.11 L314.29,283.07 L314.46,280.77 L314.62,280.96 L314.79,282.74 L314.95,279.85 L315.12,283.3 L315.28,282.21 L315.45,281.24 L315.62,281.82 L315.78,280.52 L315.94,279.84 L316.11,281.67 L316.27,288.75 L316.44,282.02 L316.61,281.8 L316.77,280.05 L316.94,281.59 L317.1,280.67 L317.26,281.42 L317.43,282.55 L317.59,280.01 L317.76,282.86 L317.93,281.31 L318.09,279.11 L318.25,282.96 L318.42,281.42 L318.59,283.71 L318.75,282.12 L318.92,283.6 L319.08,281.91 L319.25,282.18 L319.41,281.19 L319.57,279.03 L319.74,280.98 L319.9,280.43 L320.07,281.5 L320.24,281.79 L320.4,282.68 L320.56,284.13 L320.73,281.35 L320.89,279.03 L321.06,280.76 L321.23,282.27 L321.39,279.02 L321.56,282.14 L321.72,282.42 L321.88,283.32 L322.05,282.95 L322.22,281.89 L322.38,278.55 L322.55,281.84 L322.71,283.08 L322.88,282.46 L323.04,281.89 L323.2,284.12 L323.37,279.32 L323.53,280.54 L323.7,281.11 L323.87,280.7 L324.03,283.53 L324.2,284.15 L324.36,279.7 L324.52,280 L324.69,283.94 L324.86,281.34 L325.02,281.62 L325.19,280.85 L325.35,281.36 L325.51,282.43 L325.68,281.39 L325.85,281.46 L326.01,281.77 L326.17,284.47 L326.34,286.19 L326.5,282.9 L326.67,284.17 L326.84,281.36 L327,280.68 L327.17,281.36 L327.33,282.31 L327.5,281.66 L327.66,280.03 L327.82,282.87 L327.99,280.42 L328.15,280.74 L328.32,281.42 L328.49,279.65 L328.65,282.89 L328.81,280.42 L328.98,283.22 L329.14,282.99 L329.31,283.43 L329.48,281.2 L329.64,283.27 L329.81,281.8 L329.97,283.58 L330.13,280.3 L330.3,279.16 L330.47,281.57 L330.63,279.46 L330.8,281.09 L330.96,278.69 L331.12,281.79 L331.29,284.29 L331.45,279.73 L331.62,282.15 L331.78,283.51 L331.95,282.95 L332.12,284.41 L332.28,282.24 L332.45,283.6 L332.61,279.79 L332.77,281.02 L332.94,284.5 L333.11,284.28 L333.27,282.88 L333.44,284.92 L333.6,282.22 L333.76,282.12 L333.93,283.22 L334.1,282.89 L334.26,281.34 L334.42,279.97 L334.59,279.86 L334.75,282.05 L334.92,280.83 L335.09,286.54 L335.25,281.51 L335.42,283.57 L335.58,281.05 L335.75,284 L335.91,283.6 L336.07,282.18 L336.24,281.34 L336.4,284.33 L336.57,282.99 L336.74,281.99 L336.9,281.86 L337.06,283.46 L337.23,282.07 L337.39,282.62 L337.56,280.14 L337.73,281.41 L337.89,284.22 L338.06,285.54 L338.22,282.11 L338.38,280.51 L338.55,282.02 L338.72,280.97 L338.88,283.02 L339.05,284.34 L339.21,281.19 L339.38,282.17 L339.54,281.3 L339.7,284.39 L339.87,282.07 L340.03,283.28 L340.2,281.15 L340.37,283.23 L340.53,283.28 L340.7,283.25 L340.86,280.5 L341.02,282.35 L341.19,283.53 L341.36,283.93 L341.52,283.97 L341.69,280.24 L341.85,285.14 L342.01,283.71 L342.18,281.49 L342.35,280.69 L342.51,282.68 L342.67,281.29 L342.84,281.34 L343,281.01 L343.17,282.42 L343.34,280.03 L343.5,282.18 L343.66,280.2 L343.83,284.14 L344,281.09 L344.16,284.38 L344.32,284.74 L344.49,281.77 L344.65,283.75 L344.82,281.85 L344.99,284.12 L345.15,280.13 L345.31,282.52 L345.48,284.23 L345.64,282.28 L345.81,281.23 L345.98,283.7 L346.14,281.79 L346.31,279.51 L346.47,281.27 L346.63,282.59 L346.8,283.43 L346.97,281.72 L347.13,284.85 L347.3,287.13 L347.46,283.6 L347.62,284.23 L347.79,280.01 L347.95,282.41 L348.12,284.1 L348.28,284.37 L348.45,281.9 L348.62,283.89 L348.78,283.52 L348.95,282.8 L349.11,282.53 L349.27,282.53 L349.44,282.51 L349.61,280.74 L349.77,280.15 L349.94,285.16 L350.1,278.85 L350.26,282.51 L350.43,280.86 L350.6,283.82 L350.76,282.24 L350.92,282.41 L351.09,282.57 L351.25,281.47 L351.42,281.81 L351.59,284.26 L351.75,282.94 L351.91,281.69 L352.08,281.76 L352.25,283.29 L352.41,283.22 L352.57,283.03 L352.74,284.46 L352.9,284.74 L353.07,280.48 L353.24,283.42 L353.4,282.7 L353.56,283.96 L353.73,280.92 L353.89,280.25 L354.06,283.2 L354.23,282.11 L354.39,284.01 L354.56,280.26 L354.72,281.52 L354.88,284.16 L355.05,281.05 L355.22,282.39 L355.38,282.31 L355.55,282.4 L355.71,283.94 L355.88,283.76 L356.04,282.03 L356.2,283.04 L356.37,284.39 L356.53,279.96 L356.7,283.31 L356.87,283.84 L357.03,284.05 L357.2,281.99 L357.36,281.57 L357.52,282.67 L357.69,281.75 L357.86,285.29 L358.02,283.61 L358.19,283.77 L358.35,283.07 L358.51,282.35 L358.68,286.14 L358.85,278.44 L359.01,284.4 L359.17,282.6 L359.34,281.89 L359.5,281.87 L359.67,282.79 L359.84,287.5 L360,284.79 L360.16,282.04 L360.33,284.56 L360.5,284.77 L360.66,286.72 L360.82,281.4 L360.99,282.46 L361.15,284.57 L361.32,283.45 L361.49,283.41 L361.65,284.94 L361.81,283.69 L361.98,282.91 L362.14,282.48 L362.31,281.42 L362.48,283.28 L362.64,284.02 L362.81,282.74 L362.97,284.29 L363.13,285.22 L363.3,281.66 L363.47,283.94 L363.63,283.2 L363.8,282.42 L363.96,285.05 L364.12,282.45 L364.29,282.74 L364.45,283.57 L364.62,282.84 L364.78,284.57 L364.95,286.74 L365.12,283.88 L365.28,284.82 L365.45,282.17 L365.61,283.08 L365.77,284.27 L365.94,283.42 L366.11,281.48 L366.27,281.81 L366.44,282.96 L366.6,282.88 L366.76,283.94 L366.93,283.73 L367.1,282.66 L367.26,283.73 L367.42,283.11 L367.59,285.23 L367.75,286.07 L367.92,286.12 L368.09,284.24 L368.25,281.61 L368.41,281.84 L368.58,285.1 L368.75,285.94 L368.91,282.44 L369.07,282.94 L369.24,285.69 L369.4,282.07 L369.57,283.4 L369.74,281.69 L369.9,283.16 L370.06,282.35 L370.23,283.21 L370.39,285.12 L370.56,284.05 L370.73,284.72 L370.89,282.48 L371.06,285.21 L371.22,286.02 L371.38,282.72 L371.55,282.04 L371.72,281.6 L371.88,282.13 L372.05,286.02 L372.21,284.82 L372.38,284.61 L372.54,283.83 L372.7,287.02 L372.87,283.82 L373.03,283.4 L373.2,285.24 L373.37,283.66 L373.53,282.06 L373.7,283.78 L373.86,282.28 L374.02,282.35 L374.19,283.26 L374.36,283.31 L374.52,284.44 L374.69,282.04 L374.85,284.6 L375.01,284.95 L375.18,278.93 L375.35,285.01 L375.51,283.29 L375.67,282.36 L375.84,283.82 L376,283.79 L376.17,282.59 L376.34,282.84 L376.5,286.27 L376.66,285.94 L376.83,282 L377,283.41 L377.16,287.11 L377.32,286.02 L377.49,283.98 L377.65,285.48 L377.82,283.33 L377.99,283.92 L378.15,283.31 L378.31,285.79 L378.48,283.13 L378.64,281.13 L378.81,285.25 L378.98,282.11 L379.14,282.61 L379.31,283.12 L379.47,284.19 L379.63,285.83 L379.8,285.42 L379.97,282.97 L380.13,282.66 L380.3,282.3 L380.46,282.7 L380.62,282.79 L380.79,284.8 L380.95,285.96 L381.12,283.86 L381.28,283.42 L381.45,284.05 L381.62,286.45 L381.78,284.97 L381.95,286.4 L382.11,283.99 L382.27,285.78 L382.44,284.47 L382.61,283.75 L382.77,284.03 L382.94,282.2 L383.1,285.9 L383.26,287.51 L383.43,282.85 L383.6,282.18 L383.76,282.14 L383.92,283.86 L384.09,283.48 L384.25,284.11 L384.42,286.24 L384.59,285.16 L384.75,283.58 L384.91,285.19 L385.08,281.48 L385.25,286.64 L385.41,284.99 L385.57,282.69 L385.74,285.27 L385.9,286.06 L386.07,286.4 L386.24,285.47 L386.4,282.13 L386.56,283.78 L386.73,283.63 L386.89,285.18 L387.06,283.16 L387.23,284.26 L387.39,285.8 L387.56,285.11 L387.72,284.14 L387.88,282.7 L388.05,284.55 L388.22,283.72 L388.38,281.46 L388.55,285.67 L388.71,286.34 L388.88,284.59 L389.04,283.85 L389.2,284.66 L389.37,284.12 L389.53,285.01 L389.7,283.76 L389.87,285.04 L390.03,283.35 L390.2,286.3 L390.36,285.78 L390.52,284.39 L390.69,285.27 L390.86,283.54 L391.02,284.65 L391.19,285.4 L391.35,284.29 L391.51,285.4 L391.68,286.94 L391.85,286.32 L392.01,285.83 L392.17,285.34 L392.34,284.5 L392.5,283.29 L392.67,283.83 L392.84,282 L393,282.76 L393.16,284.96 L393.33,282.22 L393.5,282.92 L393.66,285.37 L393.82,284.24 L393.99,283.07 L394.15,284.35 L394.32,283.2 L394.49,284.14 L394.65,283.68 L394.81,285.22 L394.98,284.18 L395.14,285.3 L395.31,283.75 L395.48,287.29 L395.64,284.28 L395.81,282.92 L395.97,283.93 L396.13,284.84 L396.3,284 L396.47,286.08 L396.63,286.06 L396.8,285.36 L396.96,285.06 L397.12,283.4 L397.29,286.19 L397.45,283.36 L397.62,287.21 L397.78,286.05 L397.95,284.94 L398.12,283.16 L398.28,285.81 L398.45,288.1 L398.61,284.28 L398.77,284.96 L398.94,286.54 L399.11,286.49 L399.27,285.98 L399.44,284.8 L399.6,283.96 L399.76,287.17 L399.93,281.55 L400.1,285.03 L400.26,285.54 L400.42,283.99 L400.59,284.84 L400.75,281.52 L400.92,283.38 L401.09,285.57 L401.25,284.47 L401.41,285.78 L401.58,285.56 L401.75,284.05 L401.91,286.02 L402.07,282.66 L402.24,285.2 L402.4,288.27 L402.57,283.68 L402.74,288.05 L402.9,286.5 L403.06,284.22 L403.23,285.1 L403.39,285.15 L403.56,284.54 L403.73,286.04 L403.89,285.41 L404.06,287.19 L404.22,287.97 L404.38,283.29 L404.55,286.58 L404.72,286.26 L404.88,283.11 L405.05,283.62 L405.21,286 L405.38,286.01 L405.54,285.35 L405.7,286.66 L405.87,284.43 L406.03,285.04 L406.2,285.07 L406.37,284.14 L406.53,284.2 L406.69,282.53 L406.86,283.03 L407.02,287.85 L407.19,283.97 L407.36,286.98 L407.52,287.45 L407.69,284.27 L407.85,286.38 L408.01,285.81 L408.18,283.75 L408.35,286.35 L408.51,286.7 L408.67,284.88 L408.84,283.55 L409,284.6 L409.17,287.71 L409.34,286.37 L409.5,285.64 L409.66,282.54 L409.83,284.09 L410,284.16 L410.16,283.64 L410.32,285.91 L410.49,284.74 L410.66,284.73 L410.82,286.93 L410.99,285.5 L411.15,284.64 L411.31,287.1 L411.48,284.29 L411.64,284.37 L411.81,283.97 L411.98,286.68 L412.14,285.37 L412.31,283.37 L412.47,284.36 L412.63,286.73 L412.8,285.22 L412.96,283.44 L413.13,285.69 L413.3,285.01 L413.46,281.75 L413.62,285.65 L413.79,285.76 L413.96,287.11 L414.12,286.6 L414.28,283.41 L414.45,285.84 L414.62,287.41 L414.78,287.04 L414.94,285.65 L415.11,284.53 L415.27,286.79 L415.44,284.62 L415.61,286.42 L415.77,285.17 L415.94,284.94 L416.1,284.82 L416.26,286.38 L416.43,285.99 L416.6,284.99 L416.76,287.69 L416.92,285.51 L417.09,285.01 L417.25,284.23 L417.42,285.85 L417.59,286.08 L417.75,285.61 L417.91,286.92 L418.08,286.15 L418.25,285.24 L418.41,285.44 L418.57,287.42 L418.74,286.36 L418.91,289.04 L419.07,284.7 L419.24,286.7 L419.4,285.55 L419.56,287.56 L419.73,286.06 L419.89,285.27 L420.06,284.48 L420.23,287.99 L420.39,284.71 L420.56,286.22 L420.72,287.14 L420.88,285.28 L421.05,286.44 L421.21,286.45 L421.38,287.07 L421.55,285.7 L421.71,285.98 L421.88,286.3 L422.04,287.48 L422.21,286.82 L422.37,285.47 L422.53,284.17 L422.7,286.12 L422.87,283.98 L423.03,286.12 L423.19,287.73 L423.36,285.17 L423.52,287.56 L423.69,285.53 L423.86,284.54 L424.02,286.6 L424.19,286.28 L424.35,282.48 L424.51,285.81 L424.68,285.78 L424.85,285.02 L425.01,286.33 L425.17,286.33 L425.34,285.63 L425.5,289.78 L425.67,284.11 L425.84,287.81 L426,287.84 L426.16,285.43 L426.33,286.2 L426.5,288.12 L426.66,285.94 L426.82,287.97 L426.99,287.31 L427.16,288.52 L427.32,287.52 L427.49,285.7 L427.65,286.12 L427.81,285.85 L427.98,284.94 L428.14,286.39 L428.31,287.32 L428.48,286.76 L428.64,283.89 L428.81,286.3 L428.97,285.89 L429.13,286.51 L429.3,286.01 L429.46,285.74 L429.63,286.41 L429.8,286.63 L429.96,287.57 L430.12,287.67 L430.29,285.82 L430.46,285.31 L430.62,285.06 L430.78,286.36 L430.95,287.68 L431.12,285.52 L431.28,285.55 L431.44,288.71 L431.61,285.28 L431.77,285.62 L431.94,284.01 L432.11,288.18 L432.27,288.42 L432.44,285.35 L432.6,289.2 L432.76,287.62 L432.93,288.16 L433.1,288.05 L433.26,289.39 L433.42,286.91 L433.59,285.11 L433.75,285.91 L433.92,285.92 L434.09,287.12 L434.25,284.44 L434.41,285.81 L434.58,285.04 L434.75,288.92 L434.91,286.1 L435.07,288.33 L435.24,286.11 L435.4,286.34 L435.57,288.32 L435.74,286.39 L435.9,284.93 L436.06,285.92 L436.23,285.79 L436.39,287.96 L436.56,287.69 L436.73,288.34 L436.89,286.5 L437.06,284.93 L437.22,286.06 L437.38,283.1 L437.55,288.38 L437.71,286.07 L437.88,287.09 L438.05,289.57 L438.21,289.32 L438.38,287.26 L438.54,288.09 L438.71,284.31 L438.87,286.72 L439.03,288.33 L439.2,287.52 L439.37,284.43 L439.53,288.21 L439.69,285.67 L439.86,286.17 L440.02,284.64 L440.19,286.04 L440.36,287.44 L440.52,286.06 L440.69,286.75 L440.85,285.41 L441.01,286.96 L441.18,283.93 L441.35,287.03 L441.51,286.23 L441.67,287.87 L441.84,286.71 L442,286.86 L442.17,289.76 L442.34,285.58 L442.5,287.72 L442.66,288.19 L442.83,285.29 L443,287.37 L443.16,287.94 L443.32,285.24 L443.49,285.81 L443.65,290.9 L443.82,287.54 L443.99,285.82 L444.15,285.75 L444.31,287.76 L444.48,284.68 L444.64,288.19 L444.81,283.38 L444.98,286.83 L445.14,287.04 L445.31,285.84 L445.47,285.53 L445.63,287.11 L445.8,284.98 L445.96,288.08 L446.13,287.38 L446.3,284.52 L446.46,286.94 L446.62,285.5 L446.79,287.73 L446.96,287.49 L447.12,287.26 L447.28,286.86 L447.45,287.62 L447.62,287.1 L447.78,286.14 L447.94,285.83 L448.11,286.98 L448.27,286.19 L448.44,285.8 L448.61,288.76 L448.77,289.51 L448.94,284.78 L449.1,285.23 L449.26,287.11 L449.43,286.68 L449.6,288.6 L449.76,289.27 L449.92,286.75 L450.09,289.44 L450.25,286.56 L450.42,288.25 L450.59,286.82 L450.75,284.15 L450.92,284.46 L451.08,287.68 L451.25,285.7 L451.41,288.82 L451.57,288.17 L451.74,286.76 L451.91,285.25 L452.07,288.17 L452.24,286.52 L452.4,287.19 L452.56,289.22 L452.73,287.55 L452.89,285.13 L453.06,287.51 L453.22,286.63 L453.39,286.15 L453.56,288.49 L453.72,285.57 L453.88,285.17 L454.05,285.04 L454.22,285.47 L454.38,288.12 L454.55,288.31 L454.71,288.61 L454.88,288.8 L455.04,288.65 L455.21,286 L455.37,285.3 L455.53,288.44 L455.7,286.29 L455.87,289.39 L456.03,288 L456.19,289 L456.36,289.95 L456.52,287.46 L456.69,287.43 L456.86,288.16 L457.02,288.34 L457.19,289.04 L457.35,287.78 L457.52,288.48 L457.68,284.85 L457.85,289.4 L458.01,287.27 L458.18,286.86 L458.34,285.78 L458.5,286.07 L458.67,287.36 L458.83,288.67 L459,290.39 L459.17,287.68 L459.33,285.57 L459.5,285.21 L459.66,291.48 L459.82,288.83 L459.99,288.23 L460.16,289.27 L460.32,287.45 L460.49,287.67 L460.65,288.51 L460.81,287.8 L460.98,290.13 L461.14,289.21 L461.31,289.1 L461.47,286.44 L461.64,290.21 L461.81,288.11 L461.97,286.64 L462.13,287.89 L462.3,286.6 L462.47,288.79 L462.63,287.18 L462.8,286.49 L462.96,284.51 L463.12,286.76 L463.29,285.73 L463.46,287.85 L463.62,287.72 L463.78,285.54 L463.95,287.01 L464.12,285.77 L464.28,286.84 L464.44,284.74 L464.61,284.35 L464.77,289.16 L464.94,285.15 L465.11,287.28 L465.27,287.22 L465.44,288.11 L465.6,286.87 L465.77,289.61 L465.93,289.04 L466.1,289.1 L466.26,287.53 L466.43,286.6 L466.59,286.88 L466.75,287.43 L466.92,288.87 L467.08,290.62 L467.25,287.4 L467.42,287.79 L467.58,287.48 L467.75,285.89 L467.91,288.3 L468.07,288.34 L468.24,291.5 L468.41,287.22 L468.57,288.13 L468.74,289.17 L468.9,287.5 L469.06,289.64 L469.23,285.35 L469.39,285.17 L469.56,286.98 L469.72,286.73 L469.89,287 L470.06,287.17 L470.22,287.85 L470.38,284.73 L470.55,288.26 L470.72,287.06 L470.88,288.49 L471.05,288.7 L471.21,291.82 L471.38,291.06 L471.54,285.89 L471.71,285.99 L471.87,288.87 L472.03,288.27 L472.2,287.32 L472.37,289.73 L472.53,285.61 L472.69,289.81 L472.86,289.34 L473.02,292.4 L473.19,286.02 L473.36,288.2 L473.52,285.88 L473.69,289.8 L473.85,287.81 L474.02,288.21 L474.18,288.03 L474.35,285.24 L474.51,284.96 L474.68,286.3 L474.84,288.96 L475,287.04 L475.17,286.37 L475.33,287.55 L475.5,287.54 L475.67,287.68 L475.83,289.75 L476,288.05 L476.16,286.03 L476.32,289.92 L476.49,288.32 L476.66,287.2 L476.82,290.49 L476.99,288.67 L477.15,291 L477.31,289.38 L477.48,290.59 L477.64,289.83 L477.81,289.23 L477.97,288.93 L478.14,288.83 L478.31,292.12 L478.47,286.17 L478.63,288.96 L478.8,290.19 L478.97,289.5 L479.13,288.11 L479.3,290.08 L479.46,289.21 L479.62,289.3 L479.79,287.8 L479.96,289.73 L480.12,287.94 L480.28,288.1 L480.45,288.85 L480.62,286.79 L480.78,288.62 L480.94,290.41 L481.11,288.22 L481.27,288.49 L481.44,288.74 L481.61,288.34 L481.77,285.19 L481.94,288.35 L482.1,288.02 L482.27,289.08 L482.43,286.77 L482.6,288.81 L482.76,289.93 L482.93,290.57 L483.09,287.96 L483.25,287.65 L483.42,291.14 L483.58,289.85 L483.75,287.82 L483.92,287.25 L484.08,290.77 L484.25,289.41 L484.41,287.57 L484.57,289.62 L484.74,289.5 L484.91,289.64 L485.07,290.79 L485.24,288.78 L485.4,288.4 L485.56,290.96 L485.73,288.72 L485.89,287.23 L486.06,288.58 L486.22,287.48 L486.39,289.72 L486.56,286.86 L486.72,290.09 L486.88,286.11 L487.05,289.6 L487.22,290.01 L487.38,290.28 L487.55,289.57 L487.71,289.7 L487.88,290 L488.04,289.47 L488.2,287.99 L488.37,287.67 L488.53,289.5 L488.7,287.16 L488.87,290.5 L489.03,290.56 L489.19,290.72 L489.36,288.14 L489.52,291.36 L489.69,291.13 L489.86,287.15 L490.02,286.51 L490.19,287.07 L490.35,291.31 L490.52,289.07 L490.68,287.86 L490.85,288.96 L491.01,291.53 L491.18,289.63 L491.34,291.66 L491.5,290.98 L491.67,285.93 L491.83,288.14 L492,291.35 L492.17,291.41 L492.33,288.49 L492.5,290.09 L492.66,288.33 L492.82,290.16 L492.99,289.5 L493.16,288.86 L493.32,290.76 L493.49,292.1 L493.65,291.02 L493.81,290.29 L493.98,289.56 L494.14,289.35 L494.31,289.37 L494.47,288.51 L494.64,290.62 L494.81,287.21 L494.97,286.31 L495.13,288.76 L495.3,289.04 L495.47,287.46 L495.63,288.36 L495.8,289.06 L495.96,289.6 L496.12,290.46 L496.29,291.11 L496.45,288.38 L496.62,287.6 L496.78,290.96 L496.95,289.5 L497.12,289.07 L497.28,290.04 L497.44,290.55 L497.61,290.01 L497.77,292.37 L497.94,289.53 L498.11,289.88 L498.27,286.29 L498.44,288.06 L498.6,289.98 L498.77,289.49 L498.93,286.92 L499.1,287.09 L499.26,289.22 L499.43,289.7 L499.59,291.67 L499.75,290.01 L499.92,289.78 L500.08,290.63 L500.25,286.96 L500.42,292.35 L500.58,289.76 L500.75,288.96 L500.91,288.92 L501.07,287.06 L501.24,291.67 L501.41,290.71 L501.57,289.46 L501.74,289.41 L501.9,290.19 L502.06,290.76 L502.23,288.03 L502.39,291.21 L502.56,290.5 L502.72,287.51 L502.89,287.07 L503.06,288.37 L503.22,290.96 L503.38,290.96 L503.55,291.03 L503.72,291.39 L503.88,290.33 L504.05,287.82 L504.21,289.39 L504.38,290.86 L504.54,290.9 L504.7,291.5 L504.87,287.95 L505.03,292.78 L505.2,289.36 L505.37,291.93 L505.53,291.37 L505.69,292.02 L505.86,288.37 L506.02,289.94 L506.19,285.73 L506.36,291.38 L506.52,291.47 L506.69,288.97 L506.85,289.02 L507.02,290.29 L507.18,292.89 L507.35,287.73 L507.51,289.04 L507.68,289.31 L507.84,290.8 L508,288.96 L508.17,290.76 L508.33,289.87 L508.5,290.23 L508.67,288.08 L508.83,290.67 L509,290.49 L509.16,288.33 L509.32,292.53 L509.49,290.03 L509.66,290.37 L509.82,288.6 L509.99,291 L510.15,289.33 L510.31,287.01 L510.48,289.46 L510.64,291.23 L510.81,296.44 L510.97,289.86 L511.14,291.92 L511.31,292.48 L511.47,291.24 L511.63,291.75 L511.8,288.82 L511.97,292.3 L512.13,287.78 L512.3,291.27 L512.46,289.98 L512.62,289.16 L512.79,289.84 L512.95,289.11 L513.12,291.66 L513.28,293.59 L513.45,290.51 L513.62,292.73 L513.78,291.09 L513.94,288.83 L514.11,290.54 L514.27,291.14 L514.44,291.95 L514.61,290.71 L514.77,290.54 L514.93,292.65 L515.1,289.86 L515.27,291.91 L515.43,289.99 L515.6,291 L515.76,288.85 L515.92,289.06 L516.09,290.33 L516.25,290.51 L516.42,289.7 L516.59,332.65 L516.75,337.24 L516.91,340.74 L517.08,340.79 L517.25,340.33 L517.41,338.83 L517.58,336.04 L517.74,337.51 L517.9,335.76 L518.07,333.39 L518.24,339.36 L518.4,339.06 L518.57,337.83 L518.73,341.54 L518.89,335.75 L519.06,338.45 L519.22,337.1 L519.39,338.54 L519.56,337.27 L519.72,341.43 L519.88,334.64 L520.05,338.91 L520.22,339.02 L520.38,334.79 L520.55,337.28 L520.71,336.24 L520.88,337.87 L521.04,333.5 L521.2,337.9 L521.37,339.74 L521.53,337.35 L521.7,339.47 L521.87,337.36 L522.03,337.69 L522.19,336.22 L522.36,336.47 L522.52,336.62 L522.69,335.22 L522.86,336.27 L523.02,339.51 L523.18,337.93 L523.35,338.4 L523.52,331.81 L523.68,335.03 L523.85,336.41 L524.01,339.38 L524.17,336.92 L524.34,333.59 L524.5,337.11 L524.67,338.64 L524.84,335.63 L525,338.7" stroke="#d63df2" stroke-width="2.3" fill="none" stroke-linejoin="round"/>
</g>
<rect x="194.6" y="205.4" width="331" height="149.6" fill="none" stroke="#2b2b2b" stroke-width="1" />
<line x1="190.2" y1="334.6" x2="194.6" y2="334.6" stroke="#2b2b2b" stroke-width="1" />
<text x="186.6" y="338.1" font-size="8.6" text-anchor="end" fill="#000" >0</text>
<line x1="190.2" y1="294.8" x2="194.6" y2="294.8" stroke="#2b2b2b" stroke-width="1" />
<text x="186.6" y="298.3" font-size="8.6" text-anchor="end" fill="#000" >2</text>
<line x1="190.2" y1="255" x2="194.6" y2="255" stroke="#2b2b2b" stroke-width="1" />
<text x="186.6" y="258.5" font-size="8.6" text-anchor="end" fill="#000" >4</text>
<line x1="190.2" y1="215.2" x2="194.6" y2="215.2" stroke="#2b2b2b" stroke-width="1" />
<text x="186.6" y="218.7" font-size="8.6" text-anchor="end" fill="#000" >6</text>
<line x1="192.2" y1="354.5" x2="194.6" y2="354.5" stroke="#2b2b2b" stroke-width="1" />
<line x1="192.2" y1="314.7" x2="194.6" y2="314.7" stroke="#2b2b2b" stroke-width="1" />
<line x1="192.2" y1="274.9" x2="194.6" y2="274.9" stroke="#2b2b2b" stroke-width="1" />
<line x1="192.2" y1="235.1" x2="194.6" y2="235.1" stroke="#2b2b2b" stroke-width="1" />
<line x1="195" y1="355" x2="195" y2="359.4" stroke="#2b2b2b" stroke-width="1" />
<text x="195" y="371" font-size="8.6" text-anchor="middle" fill="#000" >0</text>
<line x1="261" y1="355" x2="261" y2="359.4" stroke="#2b2b2b" stroke-width="1" />
<text x="261" y="371" font-size="8.6" text-anchor="middle" fill="#000" >20</text>
<line x1="327" y1="355" x2="327" y2="359.4" stroke="#2b2b2b" stroke-width="1" />
<text x="327" y="371" font-size="8.6" text-anchor="middle" fill="#000" >40</text>
<line x1="393" y1="355" x2="393" y2="359.4" stroke="#2b2b2b" stroke-width="1" />
<text x="393" y="371" font-size="8.6" text-anchor="middle" fill="#000" >60</text>
<line x1="459" y1="355" x2="459" y2="359.4" stroke="#2b2b2b" stroke-width="1" />
<text x="459" y="371" font-size="8.6" text-anchor="middle" fill="#000" >80</text>
<line x1="525" y1="355" x2="525" y2="359.4" stroke="#2b2b2b" stroke-width="1" />
<text x="525" y="371" font-size="8.6" text-anchor="middle" fill="#000" >100</text>
<line x1="228" y1="355" x2="228" y2="357.4" stroke="#2b2b2b" stroke-width="1" />
<line x1="294" y1="355" x2="294" y2="357.4" stroke="#2b2b2b" stroke-width="1" />
<line x1="360" y1="355" x2="360" y2="357.4" stroke="#2b2b2b" stroke-width="1" />
<line x1="426" y1="355" x2="426" y2="357.4" stroke="#2b2b2b" stroke-width="1" />
<line x1="492" y1="355" x2="492" y2="357.4" stroke="#2b2b2b" stroke-width="1" />
<text x="360.1" y="384.4" font-size="8.8" text-anchor="middle" fill="#000" >Time (s)</text>
<text transform="translate(171.8,281) rotate(-90)" font-size="8.8" text-anchor="middle" fill="#000">(<tspan font-style="italic">R</tspan>–<tspan font-style="italic">R</tspan><tspan font-size="6.34" dy="1.94">0</tspan><tspan dy="-1.94">)/</tspan><tspan font-style="italic">R</tspan><tspan font-size="6.34" dy="1.94">0</tspan><tspan dy="-1.94"> (%)</tspan></text>
<text x="332" y="262.6" font-size="7.3" text-anchor="start" fill="#d23ee6" >Strain: 0.3%</text>
<ellipse cx="202" cy="283" rx="6" ry="63.5" transform="rotate(1.2 202 283)" fill="none" stroke="#a8163a" stroke-width="1.9" stroke-dasharray="7 2.3 1.8 2.3"/>
<ellipse cx="517.6" cy="307.3" rx="5.6" ry="39.2" fill="none" stroke="#e63a7e" stroke-width="1.8" stroke-dasharray="6 2.2 1.6 2.2"/>
<rect x="608" y="207.4" width="41" height="147.2" fill="#a9f7fa" stroke="none" stroke-width="0" />
<g clip-path="url(#cdr)">
<path d="M574.6,291 L581.3,291 L588,291 L594.7,291 L601.4,291 L608.1,289.6 L614.8,307.4 L621.5,321 L628.2,325.6 L634.9,327.6 L641.6,329 L648.3,332 L655,332 L661.7,332.6 L668.4,330.6 L675.1,334" stroke="#e8307e" stroke-width="1.5" fill="none" />
<circle cx="574.6" cy="291" r="3.2" fill="url(#gdr)"/>
<circle cx="581.3" cy="291" r="3.2" fill="url(#gdr)"/>
<circle cx="588" cy="291" r="3.2" fill="url(#gdr)"/>
<circle cx="594.7" cy="291" r="3.2" fill="url(#gdr)"/>
<circle cx="601.4" cy="291" r="3.2" fill="url(#gdr)"/>
<circle cx="608.1" cy="289.6" r="3.2" fill="url(#gdr)"/>
<circle cx="614.8" cy="307.4" r="3.2" fill="url(#gdr)"/>
<circle cx="621.5" cy="321" r="3.2" fill="url(#gdr)"/>
<circle cx="628.2" cy="325.6" r="3.2" fill="url(#gdr)"/>
<circle cx="634.9" cy="327.6" r="3.2" fill="url(#gdr)"/>
<circle cx="641.6" cy="329" r="3.2" fill="url(#gdr)"/>
<circle cx="648.3" cy="332" r="3.2" fill="url(#gdr)"/>
<circle cx="655" cy="332" r="3.2" fill="url(#gdr)"/>
<circle cx="661.7" cy="332.6" r="3.2" fill="url(#gdr)"/>
<circle cx="668.4" cy="330.6" r="3.2" fill="url(#gdr)"/>
<circle cx="675.1" cy="334" r="3.2" fill="url(#gdr)"/>
</g>
<rect x="575.4" y="207.4" width="99" height="147.2" fill="none" stroke="#2b2b2b" stroke-width="1" />
<line x1="571" y1="335" x2="575.4" y2="335" stroke="#2b2b2b" stroke-width="1" />
<text x="567.4" y="338.5" font-size="8.6" text-anchor="end" fill="#000" >0</text>
<line x1="571" y1="295.5" x2="575.4" y2="295.5" stroke="#2b2b2b" stroke-width="1" />
<text x="567.4" y="299" font-size="8.6" text-anchor="end" fill="#000" >2</text>
<line x1="571" y1="256" x2="575.4" y2="256" stroke="#2b2b2b" stroke-width="1" />
<text x="567.4" y="259.5" font-size="8.6" text-anchor="end" fill="#000" >4</text>
<line x1="571" y1="216.5" x2="575.4" y2="216.5" stroke="#2b2b2b" stroke-width="1" />
<text x="567.4" y="220" font-size="8.6" text-anchor="end" fill="#000" >6</text>
<line x1="573" y1="354.75" x2="575.4" y2="354.75" stroke="#2b2b2b" stroke-width="1" />
<line x1="573" y1="315.25" x2="575.4" y2="315.25" stroke="#2b2b2b" stroke-width="1" />
<line x1="573" y1="275.75" x2="575.4" y2="275.75" stroke="#2b2b2b" stroke-width="1" />
<line x1="573" y1="236.25" x2="575.4" y2="236.25" stroke="#2b2b2b" stroke-width="1" />
<line x1="575.4" y1="354.6" x2="575.4" y2="359" stroke="#2b2b2b" stroke-width="1" />
<text x="575.4" y="371" font-size="8.6" text-anchor="middle" fill="#000" >97.35</text>
<line x1="608.4" y1="354.6" x2="608.4" y2="359" stroke="#2b2b2b" stroke-width="1" />
<text x="608.4" y="371" font-size="8.6" text-anchor="middle" fill="#000" >97.40</text>
<line x1="641.4" y1="354.6" x2="641.4" y2="359" stroke="#2b2b2b" stroke-width="1" />
<text x="641.4" y="371" font-size="8.6" text-anchor="middle" fill="#000" >97.45</text>
<line x1="674.4" y1="354.6" x2="674.4" y2="359" stroke="#2b2b2b" stroke-width="1" />
<text x="674.4" y="371" font-size="8.6" text-anchor="middle" fill="#000" >97.50</text>
<line x1="591.9" y1="354.6" x2="591.9" y2="357" stroke="#2b2b2b" stroke-width="1" />
<line x1="624.9" y1="354.6" x2="624.9" y2="357" stroke="#2b2b2b" stroke-width="1" />
<line x1="657.9" y1="354.6" x2="657.9" y2="357" stroke="#2b2b2b" stroke-width="1" />
<text x="624.9" y="384.4" font-size="8.8" text-anchor="middle" fill="#000" >Time (s)</text>
<text transform="translate(553,281) rotate(-90)" font-size="8.8" text-anchor="middle" fill="#000">(<tspan font-style="italic">R</tspan>–<tspan font-style="italic">R</tspan><tspan font-size="6.34" dy="1.94">0</tspan><tspan dy="-1.94">)/</tspan><tspan font-style="italic">R</tspan><tspan font-size="6.34" dy="1.94">0</tspan><tspan dy="-1.94"> (%)</tspan></text>
<line x1="575.4" y1="215" x2="602" y2="215" stroke="#e8307e" stroke-width="1.3" />
<circle cx="589" cy="215" r="3.2" fill="url(#gdr)"/>
<text x="606" y="217.6" font-size="7.4" text-anchor="start" fill="#000" >Recovery time</text>
<text x="580" y="327.3" font-size="8.8" text-anchor="start" fill="#e8408a" >62 ms</text>
<text x="13.6" y="407.2" font-size="13" text-anchor="start" fill="#000" font-weight="bold" >e</text>
<g clip-path="url(#ce)">
<path d="M62.6,535.94 L62.8,535.92 L63,535.91 L63.2,535.89 L63.4,535.88 L63.6,535.87 L63.8,535.86 L64,535.85 L64.2,535.85 L64.4,535.84 L64.6,535.85 L64.8,535.85 L65,535.86 L65.2,535.87 L65.4,535.88 L65.6,535.89 L65.8,535.91 L66,535.92 L66.2,535.94 L66.4,535.95 L66.6,535.97 L66.8,535.98 L67,535.99 L67.2,536 L67.4,536 L67.6,536 L67.8,536 L68,535.99 L68.2,535.98 L68.4,535.97 L68.6,535.96 L68.8,535.95 L69,535.93 L69.2,535.92 L69.4,535.9 L69.6,535.89 L69.8,535.87 L70,535.86 L70.2,535.85 L70.4,535.85 L70.6,535.84 L70.8,535.84 L71,535.85 L71.2,535.85 L71.4,535.86 L71.6,535.87 L71.8,535.89 L72,535.9 L72.2,535.92 L72.4,535.93 L72.6,535.95 L72.8,535.96 L73,535.97 L73.2,535.99 L73.4,535.99 L73.6,536 L73.8,536 L74,536 L74.2,535.99 L74.4,535.99 L74.6,535.98 L74.8,535.97 L75,535.95 L75.2,535.94 L75.4,535.92 L75.6,535.91 L75.8,535.89 L76,535.88 L76.2,535.87 L76.4,535.86 L76.6,535.85 L76.8,535.85 L77,535.84 L77.2,535.85 L77.4,535.85 L77.6,535.86 L77.8,535.87 L78,535.88 L78.2,535.9 L78.4,535.91 L78.6,535.93 L78.8,535.94 L79,535.96 L79.2,535.97 L79.4,535.98 L79.6,535.99 L79.8,536 L80,536 L80.2,536 L80.4,536 L80.6,535.99 L80.8,535.98 L81,535.97 L81.2,535.96 L81.4,535.94 L81.6,535.93 L81.8,535.91 L82,535.9 L82.2,535.88 L82.4,535.87 L82.6,535.86 L82.8,535.85 L83,535.85 L83.2,535.84 L83.4,535.85 L83.6,535.85 L83.8,535.86 L84,535.87 L84.2,535.88 L84.4,535.89 L84.6,535.91 L84.8,535.92 L85,535.94 L85.2,535.95 L85.4,535.96 L85.6,535.98 L85.8,535.99 L86,535.99 L86.2,536 L86.4,536 L86.6,536 L86.8,535.99 L87,535.99 L87.2,535.98 L87.4,535.96 L87.6,535.95 L87.8,535.93 L88,535.92 L88.2,535.9 L88.4,535.89 L88.6,535.88 L88.8,535.86 L89,535.86 L89.2,535.85 L89.4,535.85 L89.6,535.84 L89.8,535.85 L90,535.85 L90.2,535.86 L90.4,535.87 L90.6,535.88 L90.8,535.9 L91,535.91 L91.2,535.93 L91.4,535.94 L91.6,535.96 L91.8,535.97 L92,535.98 L92.2,535.99 L92.4,536 L92.6,536 L92.8,536 L93,536 L93.2,535.99 L93.4,535.98 L93.6,535.97 L93.8,535.96 L94,535.94 L94.2,535.93 L94.4,535.91 L94.6,535.9 L94.8,535.88 L95,535.87 L95.2,535.86 L95.4,535.85 L95.6,535.85 L95.8,535.84 L96,535.85 L96.2,535.85 L96.4,535.86 L96.6,535.87 L96.8,535.88 L97,535.89 L97.2,535.91 L97.4,535.92 L97.6,535.94 L97.8,535.95 L98,535.97 L98.2,535.98 L98.4,535.99 L98.6,536 L98.8,536 L99,536 L99.2,536 L99.4,535.99 L99.6,535.98 L99.8,535.97 L100,535.96 L100.2,535.95 L100.4,535.93 L100.6,535.92 L100.8,535.9 L101,535.89 L101.2,535.87 L101.4,535.86 L101.6,535.85 L101.8,535.85 L102,535.84 L102.2,535.84 L102.4,535.85 L102.6,535.85 L102.8,535.86 L103,535.87 L103.2,535.89 L103.4,535.9 L103.6,535.92 L103.8,535.93 L104,535.95 L104.2,535.96 L104.4,535.97 L104.6,535.98 L104.8,535.99 L105,536 L105.2,536 L105.4,536 L105.6,536 L105.8,535.99 L106,535.98 L106.2,535.97 L106.4,535.95 L106.6,535.94 L106.8,535.92 L107,535.91 L107.2,535.89 L107.4,535.88 L107.6,535.87 L107.8,535.86 L108,535.85 L108.2,535.85 L108.4,535.84 L108.6,535.85 L108.8,535.85 L109,535.86 L109.2,535.87 L109.4,535.88 L109.6,535.9 L109.8,535.91 L110,535.93 L110.2,535.94 L110.4,535.96 L110.6,535.97 L110.8,535.98 L111,535.99 L111.2,536 L111.4,536 L111.6,536 L111.8,536 L112,535.99 L112.2,535.98 L112.4,535.97 L112.6,535.96 L112.8,535.95 L113,535.93 L113.2,535.91 L113.4,535.9 L113.6,535.88 L113.8,535.87 L114,535.86 L114.2,535.85 L114.4,535.85 L114.6,535.84 L114.8,535.85 L115,535.85 L115.2,535.86 L115.4,535.86 L115.6,535.88 L115.8,535.89 L116,535.9 L116.2,535.92 L116.4,535.93 L116.6,535.95 L116.8,535.96 L117,535.98 L117.2,535.99 L117.4,535.99 L117.6,536 L117.8,536 L118,536 L118.2,535.99 L118.4,535.99 L118.6,535.98 L118.8,535.96 L119,535.95 L119.2,535.94" stroke="#5b88b8" stroke-width="1.2" fill="none" />
<path d="M119.2,535.8 L119.4,535.4 L119.6,534.99 L119.8,534.59 L120,534.19 L120.2,534.25 L120.4,534.32 L120.6,534.39 L120.8,534.46 L121,534.47 L121.2,534.47 L121.4,534.48 L121.6,534.49 L121.8,534.5 L122,534.5 L122.2,534.51 L122.4,534.52 L122.6,534.53 L122.8,534.54 L123,534.55 L123.2,534.56 L123.4,534.57 L123.6,534.58 L123.8,534.58 L124,534.59 L124.2,534.6 L124.4,534.61 L124.6,534.62 L124.8,534.63 L125,534.64 L125.2,534.66 L125.4,534.68 L125.6,534.83 L125.8,535.1 L126,535.37 L126.2,535.64 L126.4,535.68 L126.6,535.72 L126.8,535.76 L127,535.8 L127.2,535.84 L127.4,535.85 L127.6,535.87 L127.8,535.88 L128,535.9 L128.2,535.91 L128.4,535.93 L128.6,535.95 L128.8,535.95 L129,535.96 L129.2,535.96 L129.4,535.97 L129.6,535.97 L129.8,535.98 L130,535.98 L130.2,535.99 L130.4,535.99 L130.6,536 L130.8,535.9 L131,535.5 L131.2,535.09 L131.4,534.69 L131.6,534.29 L131.8,534.24 L132,534.3 L132.2,534.37 L132.4,534.44 L132.6,534.46 L132.8,534.47 L133,534.48 L133.2,534.49 L133.4,534.49 L133.6,534.5 L133.8,534.51 L134,534.52 L134.2,534.53 L134.4,534.54 L134.6,534.55 L134.8,534.56 L135,534.56 L135.2,534.57 L135.4,534.58 L135.6,534.59 L135.8,534.6 L136,534.61 L136.2,534.62 L136.4,534.63 L136.6,534.64 L136.8,534.66 L137,534.68 L137.2,534.76 L137.4,535.03 L137.6,535.3 L137.8,535.57 L138,535.67 L138.2,535.71 L138.4,535.75 L138.6,535.79 L138.8,535.83 L139,535.85 L139.2,535.86 L139.4,535.88 L139.6,535.9 L139.8,535.91 L140,535.93 L140.2,535.94 L140.4,535.95 L140.6,535.95 L140.8,535.96 L141,535.96 L141.2,535.97 L141.4,535.97 L141.6,535.98 L141.8,535.98 L142,535.99 L142.2,535.99 L142.4,536 L142.6,535.6 L142.8,535.19 L143,534.79 L143.2,534.39 L143.4,534.22 L143.6,534.29 L143.8,534.36 L144,534.42 L144.2,534.46 L144.4,534.47 L144.6,534.48 L144.8,534.48 L145,534.49 L145.2,534.5 L145.4,534.51 L145.6,534.52 L145.8,534.53 L146,534.53 L146.2,534.54 L146.4,534.55 L146.6,534.56 L146.8,534.57 L147,534.58 L147.2,534.59 L147.4,534.6 L147.6,534.61 L147.8,534.62 L148,534.63 L148.2,534.63 L148.4,534.65 L148.6,534.67 L148.8,534.69 L149,534.96 L149.2,535.23 L149.4,535.5 L149.6,535.66 L149.8,535.7 L150,535.74 L150.2,535.78 L150.4,535.82 L150.6,535.84 L150.8,535.86 L151,535.88 L151.2,535.89 L151.4,535.91 L151.6,535.92 L151.8,535.94 L152,535.95 L152.2,535.95 L152.4,535.96 L152.6,535.96 L152.8,535.97 L153,535.97 L153.2,535.98 L153.4,535.98 L153.6,535.99 L153.8,535.99 L154,536 L154.2,535.7 L154.4,535.29 L154.6,534.89 L154.8,534.49 L155,534.2 L155.2,534.27 L155.4,534.34 L155.6,534.41 L155.8,534.46 L156,534.47 L156.2,534.48 L156.4,534.48 L156.6,534.49 L156.8,534.5 L157,534.51 L157.2,534.51 L157.4,534.52 L157.6,534.53 L157.8,534.54 L158,534.55 L158.2,534.56 L158.4,534.57 L158.6,534.58 L158.8,534.59 L159,534.6 L159.2,534.61 L159.4,534.61 L159.6,534.62 L159.8,534.63 L160,534.64 L160.2,534.67 L160.4,534.69 L160.6,534.9 L160.8,535.17 L161,535.43 L161.2,535.65 L161.4,535.69 L161.6,535.73 L161.8,535.77 L162,535.81 L162.2,535.84 L162.4,535.86 L162.6,535.87 L162.8,535.89 L163,535.9 L163.2,535.92 L163.4,535.93 L163.6,535.95 L163.8,535.95 L164,535.96 L164.2,535.96 L164.4,535.97 L164.6,535.97 L164.8,535.98 L165,535.98 L165.2,535.99 L165.4,535.99 L165.6,536 L165.8,535.8 L166,535.4 L166.2,534.99 L166.4,534.59 L166.6,534.19 L166.8,534.25 L167,534.32 L167.2,534.39 L167.4,534.46 L167.6,534.47 L167.8,534.47 L168,534.48 L168.2,534.49 L168.4,534.5 L168.6,534.5 L168.8,534.51 L169,534.52 L169.2,534.53 L169.4,534.54 L169.6,534.55 L169.8,534.56 L170,534.57 L170.2,534.58 L170.4,534.58 L170.6,534.59 L170.8,534.6 L171,534.61 L171.2,534.62 L171.4,534.63 L171.6,534.64 L171.8,534.66 L172,534.68 L172.2,534.83 L172.4,535.1 L172.6,535.37 L172.8,535.64 L173,535.68 L173.2,535.72 L173.4,535.76 L173.6,535.8 L173.8,535.84 L174,535.85 L174.2,535.87 L174.4,535.88 L174.6,535.9 L174.8,535.91 L175,535.93 L175.2,535.95 L175.4,535.95 L175.6,535.96 L175.8,535.96 L176,535.97 L176.2,535.97 L176.4,535.98 L176.6,535.98 L176.8,535.99 L177,535.99 L177.2,536 L177.4,536 L177.6,536" stroke="#b04848" stroke-width="1.25" fill="none" stroke-linejoin="round"/>
<path d="M177.6,535.69 L177.8,535.07 L178,534.44 L178.2,533.82 L178.4,533.2 L178.6,533.34 L178.8,533.48 L179,533.62 L179.2,533.76 L179.4,533.77 L179.6,533.78 L179.8,533.8 L180,533.81 L180.2,533.82 L180.4,533.83 L180.6,533.84 L180.8,533.86 L181,533.87 L181.2,533.89 L181.4,533.9 L181.6,533.91 L181.8,533.93 L182,533.94 L182.2,533.96 L182.4,533.97 L182.6,533.98 L182.8,534 L183,534.01 L183.2,534.03 L183.4,534.04 L183.6,534.07 L183.8,534.11 L184,534.31 L184.2,534.69 L184.4,535.06 L184.6,535.44 L184.8,535.5 L185,535.56 L185.2,535.62 L185.4,535.69 L185.6,535.75 L185.8,535.77 L186,535.8 L186.2,535.82 L186.4,535.84 L186.6,535.87 L186.8,535.89 L187,535.92 L187.2,535.92 L187.4,535.93 L187.6,535.94 L187.8,535.95 L188,535.95 L188.2,535.96 L188.4,535.97 L188.6,535.98 L188.8,535.98 L189,535.99 L189.2,535.84 L189.4,535.22 L189.6,534.6 L189.8,533.98 L190,533.36 L190.2,533.31 L190.4,533.45 L190.6,533.59 L190.8,533.73 L191,533.77 L191.2,533.78 L191.4,533.79 L191.6,533.81 L191.8,533.82 L192,533.83 L192.2,533.84 L192.4,533.85 L192.6,533.87 L192.8,533.88 L193,533.9 L193.2,533.91 L193.4,533.92 L193.6,533.94 L193.8,533.95 L194,533.97 L194.2,533.98 L194.4,533.99 L194.6,534.01 L194.8,534.02 L195,534.04 L195.2,534.07 L195.4,534.1 L195.6,534.22 L195.8,534.59 L196,534.97 L196.2,535.35 L196.4,535.49 L196.6,535.55 L196.8,535.61 L197,535.67 L197.2,535.73 L197.4,535.77 L197.6,535.79 L197.8,535.81 L198,535.84 L198.2,535.86 L198.4,535.89 L198.6,535.91 L198.8,535.92 L199,535.93 L199.2,535.94 L199.4,535.94 L199.6,535.95 L199.8,535.96 L200,535.97 L200.2,535.98 L200.4,535.98 L200.6,535.99 L200.8,536 L201,535.38 L201.2,534.76 L201.4,534.13 L201.6,533.51 L201.8,533.27 L202,533.41 L202.2,533.55 L202.4,533.69 L202.6,533.77 L202.8,533.78 L203,533.79 L203.2,533.8 L203.4,533.81 L203.6,533.83 L203.8,533.84 L204,533.85 L204.2,533.87 L204.4,533.88 L204.6,533.89 L204.8,533.91 L205,533.92 L205.2,533.94 L205.4,533.95 L205.6,533.96 L205.8,533.98 L206,533.99 L206.2,534.01 L206.4,534.02 L206.6,534.03 L206.8,534.06 L207,534.09 L207.2,534.12 L207.4,534.5 L207.6,534.88 L207.8,535.25 L208,535.47 L208.2,535.53 L208.4,535.59 L208.6,535.66 L208.8,535.72 L209,535.76 L209.2,535.78 L209.4,535.81 L209.6,535.83 L209.8,535.86 L210,535.88 L210.2,535.9 L210.4,535.92 L210.6,535.93 L210.8,535.94 L211,535.94 L211.2,535.95 L211.4,535.96 L211.6,535.97 L211.8,535.97 L212,535.98 L212.2,535.99 L212.4,536 L212.6,535.53 L212.8,534.91 L213,534.29 L213.2,533.67 L213.4,533.24 L213.6,533.38 L213.8,533.52 L214,533.66 L214.2,533.76 L214.4,533.78 L214.6,533.79 L214.8,533.8 L215,533.81 L215.2,533.82 L215.4,533.84 L215.6,533.85 L215.8,533.86 L216,533.88 L216.2,533.89 L216.4,533.9 L216.6,533.92 L216.8,533.93 L217,533.95 L217.2,533.96 L217.4,533.97 L217.6,533.99 L217.8,534 L218,534.02 L218.2,534.03 L218.4,534.05 L218.6,534.08 L218.8,534.12 L219,534.41 L219.2,534.78 L219.4,535.16 L219.6,535.46 L219.8,535.52 L220,535.58 L220.2,535.64 L220.4,535.7 L220.6,535.75 L220.8,535.78 L221,535.8 L221.2,535.83 L221.4,535.85 L221.6,535.87 L221.8,535.9 L222,535.92 L222.2,535.93 L222.4,535.93 L222.6,535.94 L222.8,535.95 L223,535.96 L223.2,535.96 L223.4,535.97 L223.6,535.98 L223.8,535.99 L224,535.99 L224.2,535.69 L224.4,535.07 L224.6,534.44 L224.8,533.82 L225,533.2 L225.2,533.34 L225.4,533.48 L225.6,533.62 L225.8,533.76 L226,533.77 L226.2,533.78 L226.4,533.8 L226.6,533.81 L226.8,533.82 L227,533.83 L227.2,533.84 L227.4,533.86 L227.6,533.87 L227.8,533.89 L228,533.9 L228.2,533.91 L228.4,533.93 L228.6,533.94 L228.8,533.96 L229,533.97 L229.2,533.98 L229.4,534 L229.6,534.01 L229.8,534.03 L230,534.04 L230.2,534.07 L230.4,534.11 L230.6,534.31 L230.8,534.69 L231,535.06 L231.2,535.44 L231.4,535.5 L231.6,535.56 L231.8,535.62 L232,535.69 L232.2,535.75 L232.4,535.77 L232.6,535.8 L232.8,535.82 L233,535.84 L233.2,535.87 L233.4,535.89 L233.6,535.92 L233.8,535.92 L234,535.93 L234.2,535.94 L234.4,535.95 L234.6,535.95 L234.8,535.96 L235,535.97 L235.2,535.98 L235.4,535.98 L235.6,535.99 L235.8,536 L236,536 L236.2,536" stroke="#ea4aa0" stroke-width="1.25" fill="none" stroke-linejoin="round"/>
<path d="M236.2,535.4 L236.4,534.2 L236.6,533 L236.8,531.81 L237,530.61 L237.2,530.99 L237.4,531.36 L237.6,531.74 L237.8,532.12 L238,532.15 L238.2,532.18 L238.4,532.21 L238.6,532.24 L238.8,532.27 L239,532.3 L239.2,532.33 L239.4,532.36 L239.6,532.4 L239.8,532.43 L240,532.46 L240.2,532.49 L240.4,532.52 L240.6,532.55 L240.8,532.58 L241,532.61 L241.2,532.64 L241.4,532.67 L241.6,532.7 L241.8,532.73 L242,532.77 L242.2,532.83 L242.4,532.89 L242.6,533.21 L242.8,533.78 L243,534.35 L243.2,534.92 L243.4,535.04 L243.6,535.16 L243.8,535.28 L244,535.4 L244.2,535.51 L244.4,535.56 L244.6,535.61 L244.8,535.65 L245,535.7 L245.2,535.75 L245.4,535.79 L245.6,535.84 L245.8,535.85 L246,535.87 L246.2,535.88 L246.4,535.9 L246.6,535.91 L246.8,535.93 L247,535.94 L247.2,535.96 L247.4,535.97 L247.6,535.99 L247.8,536 L248,535.1 L248.2,533.9 L248.4,532.71 L248.6,531.51 L248.8,530.7 L249,531.08 L249.2,531.46 L249.4,531.84 L249.6,532.13 L249.8,532.16 L250,532.19 L250.2,532.22 L250.4,532.25 L250.6,532.28 L250.8,532.31 L251,532.34 L251.2,532.37 L251.4,532.4 L251.6,532.43 L251.8,532.46 L252,532.5 L252.2,532.53 L252.4,532.56 L252.6,532.59 L252.8,532.62 L253,532.65 L253.2,532.68 L253.4,532.71 L253.6,532.74 L253.8,532.78 L254,532.85 L254.2,532.91 L254.4,533.35 L254.6,533.92 L254.8,534.49 L255,534.95 L255.2,535.07 L255.4,535.19 L255.6,535.31 L255.8,535.43 L256,535.53 L256.2,535.57 L256.4,535.62 L256.6,535.66 L256.8,535.71 L257,535.76 L257.2,535.8 L257.4,535.84 L257.6,535.86 L257.8,535.87 L258,535.89 L258.2,535.9 L258.4,535.92 L258.6,535.93 L258.8,535.94 L259,535.96 L259.2,535.97 L259.4,535.99 L259.6,536 L259.8,534.8 L260,533.6 L260.2,532.41 L260.4,531.21 L260.6,530.8 L260.8,531.17 L261,531.55 L261.2,531.93 L261.4,532.13 L261.6,532.16 L261.8,532.2 L262,532.23 L262.2,532.26 L262.4,532.29 L262.6,532.32 L262.8,532.35 L263,532.38 L263.2,532.41 L263.4,532.44 L263.6,532.47 L263.8,532.5 L264,532.53 L264.2,532.56 L264.4,532.6 L264.6,532.63 L264.8,532.66 L265,532.69 L265.2,532.72 L265.4,532.75 L265.6,532.8 L265.8,532.86 L266,532.93 L266.2,533.5 L266.4,534.07 L266.6,534.64 L266.8,534.98 L267,535.1 L267.2,535.22 L267.4,535.34 L267.6,535.46 L267.8,535.54 L268,535.58 L268.2,535.63 L268.4,535.68 L268.6,535.72 L268.8,535.77 L269,535.82 L269.2,535.85 L269.4,535.86 L269.6,535.88 L269.8,535.89 L270,535.9 L270.2,535.92 L270.4,535.93 L270.6,535.95 L270.8,535.96 L271,535.98 L271.2,535.99 L271.4,535.7 L271.6,534.5 L271.8,533.3 L272,532.11 L272.2,530.91 L272.4,530.89 L272.6,531.27 L272.8,531.65 L273,532.02 L273.2,532.14 L273.4,532.17 L273.6,532.2 L273.8,532.23 L274,532.26 L274.2,532.3 L274.4,532.33 L274.6,532.36 L274.8,532.39 L275,532.42 L275.2,532.45 L275.4,532.48 L275.6,532.51 L275.8,532.54 L276,532.57 L276.2,532.6 L276.4,532.63 L276.6,532.67 L276.8,532.7 L277,532.73 L277.2,532.76 L277.4,532.81 L277.6,532.88 L277.8,533.07 L278,533.64 L278.2,534.21 L278.4,534.78 L278.6,535.01 L278.8,535.13 L279,535.25 L279.2,535.37 L279.4,535.49 L279.6,535.55 L279.8,535.6 L280,535.64 L280.2,535.69 L280.4,535.73 L280.6,535.78 L280.8,535.83 L281,535.85 L281.2,535.86 L281.4,535.88 L281.6,535.89 L281.8,535.91 L282,535.92 L282.2,535.94 L282.4,535.95 L282.6,535.97 L282.8,535.98 L283,536 L283.2,535.4 L283.4,534.2 L283.6,533 L283.8,531.81 L284,530.61 L284.2,530.99 L284.4,531.36 L284.6,531.74 L284.8,532.12 L285,532.15 L285.2,532.18 L285.4,532.21 L285.6,532.24 L285.8,532.27 L286,532.3 L286.2,532.33 L286.4,532.36 L286.6,532.4 L286.8,532.43 L287,532.46 L287.2,532.49 L287.4,532.52 L287.6,532.55 L287.8,532.58 L288,532.61 L288.2,532.64 L288.4,532.67 L288.6,532.7 L288.8,532.73 L289,532.77 L289.2,532.83 L289.4,532.89 L289.6,533.21 L289.8,533.78 L290,534.35 L290.2,534.92 L290.4,535.04 L290.6,535.16 L290.8,535.28 L291,535.4 L291.2,535.51 L291.4,535.56 L291.6,535.61 L291.8,535.65 L292,535.7 L292.2,535.75 L292.4,535.79 L292.6,535.84 L292.8,535.85 L293,535.87 L293.2,535.88 L293.4,535.9 L293.6,535.91 L293.8,535.93 L294,535.94 L294.2,535.96 L294.4,535.97 L294.6,535.99" stroke="#9c5ab8" stroke-width="1.25" fill="none" stroke-linejoin="round"/>
<path d="M294.6,535.27 L294.8,533.81 L295,532.34 L295.2,530.88 L295.4,529.42 L295.6,529.91 L295.8,530.4 L296,530.9 L296.2,531.39 L296.4,531.42 L296.6,531.45 L296.8,531.48 L297,531.5 L297.2,531.53 L297.4,531.56 L297.6,531.59 L297.8,531.62 L298,531.65 L298.2,531.69 L298.4,531.72 L298.6,531.75 L298.8,531.79 L299,531.82 L299.2,531.85 L299.4,531.89 L299.6,531.92 L299.8,531.95 L300,531.98 L300.2,532.02 L300.4,532.05 L300.6,532.13 L300.8,532.21 L301,532.6 L301.2,533.29 L301.4,533.99 L301.6,534.68 L301.8,534.83 L302,534.97 L302.2,535.12 L302.4,535.26 L302.6,535.41 L302.8,535.46 L303,535.52 L303.2,535.58 L303.4,535.63 L303.6,535.69 L303.8,535.75 L304,535.8 L304.2,535.82 L304.4,535.84 L304.6,535.86 L304.8,535.87 L305,535.89 L305.2,535.91 L305.4,535.93 L305.6,535.95 L305.8,535.96 L306,535.98 L306.2,536 L306.4,536 L306.6,534.56 L306.8,533.12 L307,531.68 L307.2,530.24 L307.4,529.76 L307.6,530.25 L307.8,530.73 L308,531.22 L308.2,531.48 L308.4,531.51 L308.6,531.53 L308.8,531.56 L309,531.59 L309.2,531.62 L309.4,531.64 L309.6,531.67 L309.8,531.71 L310,531.74 L310.2,531.77 L310.4,531.8 L310.6,531.84 L310.8,531.87 L311,531.9 L311.2,531.93 L311.4,531.97 L311.6,532 L311.8,532.03 L312,532.06 L312.2,532.1 L312.4,532.15 L312.6,532.23 L312.8,532.31 L313,532.99 L313.2,533.68 L313.4,534.36 L313.6,534.78 L313.8,534.92 L314,535.06 L314.2,535.2 L314.4,535.35 L314.6,535.44 L314.8,535.5 L315,535.56 L315.2,535.61 L315.4,535.67 L315.6,535.72 L315.8,535.78 L316,535.81 L316.2,535.83 L316.4,535.85 L316.6,535.87 L316.8,535.89 L317,535.9 L317.2,535.92 L317.4,535.94 L317.6,535.96 L317.8,535.97 L318,535.99 L318.2,536 L318.4,535.27 L318.6,533.81 L318.8,532.34 L319,530.88 L319.2,529.42 L319.4,529.91 L319.6,530.4 L319.8,530.9 L320,531.39 L320.2,531.42 L320.4,531.45 L320.6,531.48 L320.8,531.5 L321,531.53 L321.2,531.56 L321.4,531.59 L321.6,531.62 L321.8,531.65 L322,531.69 L322.2,531.72 L322.4,531.75 L322.6,531.79 L322.8,531.82 L323,531.85 L323.2,531.89 L323.4,531.92 L323.6,531.95 L323.8,531.98 L324,532.02 L324.2,532.05 L324.4,532.13 L324.6,532.21 L324.8,532.6 L325,533.29 L325.2,533.99 L325.4,534.68 L325.6,534.83 L325.8,534.97 L326,535.12 L326.2,535.26 L326.4,535.41 L326.6,535.46 L326.8,535.52 L327,535.58 L327.2,535.63 L327.4,535.69 L327.6,535.75 L327.8,535.8 L328,535.82 L328.2,535.84 L328.4,535.86 L328.6,535.87 L328.8,535.89 L329,535.91 L329.2,535.93 L329.4,535.95 L329.6,535.96 L329.8,535.98 L330,536 L330.2,536 L330.4,534.56 L330.6,533.12 L330.8,531.68 L331,530.24 L331.2,529.76 L331.4,530.25 L331.6,530.73 L331.8,531.22 L332,531.48 L332.2,531.51 L332.4,531.53 L332.6,531.56 L332.8,531.59 L333,531.62 L333.2,531.64 L333.4,531.67 L333.6,531.71 L333.8,531.74 L334,531.77 L334.2,531.8 L334.4,531.84 L334.6,531.87 L334.8,531.9 L335,531.93 L335.2,531.97 L335.4,532 L335.6,532.03 L335.8,532.06 L336,532.1 L336.2,532.15 L336.4,532.23 L336.6,532.31 L336.8,532.99 L337,533.68 L337.2,534.36 L337.4,534.78 L337.6,534.92 L337.8,535.06 L338,535.2 L338.2,535.35 L338.4,535.44 L338.6,535.5 L338.8,535.56 L339,535.61 L339.2,535.67 L339.4,535.72 L339.6,535.78 L339.8,535.81 L340,535.83 L340.2,535.85 L340.4,535.87 L340.6,535.89 L340.8,535.9 L341,535.92 L341.2,535.94 L341.4,535.96 L341.6,535.97 L341.8,535.99 L342,536 L342.2,535.27 L342.4,533.81 L342.6,532.34 L342.8,530.88 L343,529.42 L343.2,529.91 L343.4,530.4 L343.6,530.9 L343.8,531.39 L344,531.42 L344.2,531.45 L344.4,531.48 L344.6,531.5 L344.8,531.53 L345,531.56 L345.2,531.59 L345.4,531.62 L345.6,531.65 L345.8,531.69 L346,531.72 L346.2,531.75 L346.4,531.79 L346.6,531.82 L346.8,531.85 L347,531.89 L347.2,531.92 L347.4,531.95 L347.6,531.98 L347.8,532.02 L348,532.05 L348.2,532.13 L348.4,532.21 L348.6,532.6 L348.8,533.29 L349,533.99 L349.2,534.68 L349.4,534.83 L349.6,534.97 L349.8,535.12 L350,535.26 L350.2,535.41 L350.4,535.46 L350.6,535.52 L350.8,535.58 L351,535.63 L351.2,535.69 L351.4,535.75 L351.6,535.8 L351.8,535.82 L352,535.84 L352.2,535.86 L352.4,535.87 L352.6,535.89 L352.8,535.91 L353,535.93 L353.2,535.95 L353.4,535.96 L353.6,535.98" stroke="#f26060" stroke-width="1.25" fill="none" stroke-linejoin="round"/>
<path d="M353.6,533.9 L353.8,529.69 L354,525.49 L354.2,521.28 L354.4,517.08 L354.6,518.78 L354.8,520.48 L355,522.19 L355.2,523.89 L355.4,524 L355.6,524.11 L355.8,524.21 L356,524.32 L356.2,524.43 L356.4,524.54 L356.6,524.65 L356.8,524.76 L357,524.86 L357.2,524.97 L357.4,525.08 L357.6,525.19 L357.8,525.3 L358,525.4 L358.2,525.51 L358.4,525.62 L358.6,525.73 L358.8,525.84 L359,525.94 L359.2,526.05 L359.4,526.16 L359.6,526.39 L359.8,526.61 L360,527.51 L360.2,529.08 L360.4,530.65 L360.6,532.22 L360.8,532.63 L361,533.05 L361.2,533.46 L361.4,533.88 L361.6,534.3 L361.8,534.46 L362,534.62 L362.2,534.78 L362.4,534.95 L362.6,535.11 L362.8,535.27 L363,535.43 L363.2,535.48 L363.4,535.54 L363.6,535.59 L363.8,535.64 L364,535.69 L364.2,535.74 L364.4,535.79 L364.6,535.85 L364.8,535.9 L365,535.95 L365.2,536 L365.4,533.93 L365.6,529.78 L365.8,525.63 L366,521.48 L366.2,517.34 L366.4,519.02 L366.6,520.7 L366.8,522.38 L367,524.06 L367.2,524.16 L367.4,524.27 L367.6,524.38 L367.8,524.48 L368,524.59 L368.2,524.7 L368.4,524.8 L368.6,524.91 L368.8,525.02 L369,525.12 L369.2,525.23 L369.4,525.34 L369.6,525.44 L369.8,525.55 L370,525.66 L370.2,525.76 L370.4,525.87 L370.6,525.98 L370.8,526.08 L371,526.19 L371.2,526.3 L371.4,526.52 L371.6,526.74 L371.8,527.63 L372,529.17 L372.2,530.72 L372.4,532.27 L372.6,532.68 L372.8,533.09 L373,533.5 L373.2,533.91 L373.4,534.32 L373.6,534.48 L373.8,534.64 L374,534.8 L374.2,534.96 L374.4,535.12 L374.6,535.28 L374.8,535.44 L375,535.49 L375.2,535.54 L375.4,535.59 L375.6,535.64 L375.8,535.69 L376,535.75 L376.2,535.8 L376.4,535.85 L376.6,535.9 L376.8,535.95 L377,536 L377.2,533.93 L377.4,529.78 L377.6,525.63 L377.8,521.48 L378,517.34 L378.2,519.02 L378.4,520.7 L378.6,522.38 L378.8,524.06 L379,524.16 L379.2,524.27 L379.4,524.38 L379.6,524.48 L379.8,524.59 L380,524.7 L380.2,524.8 L380.4,524.91 L380.6,525.02 L380.8,525.12 L381,525.23 L381.2,525.34 L381.4,525.44 L381.6,525.55 L381.8,525.66 L382,525.76 L382.2,525.87 L382.4,525.98 L382.6,526.08 L382.8,526.19 L383,526.3 L383.2,526.52 L383.4,526.74 L383.6,527.63 L383.8,529.17 L384,530.72 L384.2,532.27 L384.4,532.68 L384.6,533.09 L384.8,533.5 L385,533.91 L385.2,534.32 L385.4,534.48 L385.6,534.64 L385.8,534.8 L386,534.96 L386.2,535.12 L386.4,535.28 L386.6,535.44 L386.8,535.49 L387,535.54 L387.2,535.59 L387.4,535.64 L387.6,535.69 L387.8,535.75 L388,535.8 L388.2,535.85 L388.4,535.9 L388.6,535.95 L388.8,536 L389,533.9 L389.2,529.69 L389.4,525.49 L389.6,521.28 L389.8,517.08 L390,518.78 L390.2,520.48 L390.4,522.19 L390.6,523.89 L390.8,524 L391,524.11 L391.2,524.21 L391.4,524.32 L391.6,524.43 L391.8,524.54 L392,524.65 L392.2,524.76 L392.4,524.86 L392.6,524.97 L392.8,525.08 L393,525.19 L393.2,525.3 L393.4,525.4 L393.6,525.51 L393.8,525.62 L394,525.73 L394.2,525.84 L394.4,525.94 L394.6,526.05 L394.8,526.16 L395,526.39 L395.2,526.61 L395.4,527.51 L395.6,529.08 L395.8,530.65 L396,532.22 L396.2,532.63 L396.4,533.05 L396.6,533.46 L396.8,533.88 L397,534.3 L397.2,534.46 L397.4,534.62 L397.6,534.78 L397.8,534.95 L398,535.11 L398.2,535.27 L398.4,535.43 L398.6,535.48 L398.8,535.54 L399,535.59 L399.2,535.64 L399.4,535.69 L399.6,535.74 L399.8,535.79 L400,535.85 L400.2,535.9 L400.4,535.95 L400.6,536 L400.8,533.93 L401,529.78 L401.2,525.63 L401.4,521.48 L401.6,517.34 L401.8,519.02 L402,520.7 L402.2,522.38 L402.4,524.06 L402.6,524.16 L402.8,524.27 L403,524.38 L403.2,524.48 L403.4,524.59 L403.6,524.7 L403.8,524.8 L404,524.91 L404.2,525.02 L404.4,525.12 L404.6,525.23 L404.8,525.34 L405,525.44 L405.2,525.55 L405.4,525.66 L405.6,525.76 L405.8,525.87 L406,525.98 L406.2,526.08 L406.4,526.19 L406.6,526.3 L406.8,526.52 L407,526.74 L407.2,527.63 L407.4,529.17 L407.6,530.72 L407.8,532.27 L408,532.68 L408.2,533.09 L408.4,533.5 L408.6,533.91 L408.8,534.32 L409,534.48 L409.2,534.64 L409.4,534.8 L409.6,534.96 L409.8,535.12 L410,535.28 L410.2,535.44 L410.4,535.49 L410.6,535.54 L410.8,535.59 L411,535.64 L411.2,535.69 L411.4,535.75 L411.6,535.8 L411.8,535.85 L412,535.9 L412.2,535.95 L412.4,536 L412.6,536 L412.8,536" stroke="#b066d0" stroke-width="1.25" fill="none" stroke-linejoin="round"/>
<path d="M412.8,532.75 L413,526.24 L413.2,519.73 L413.4,513.22 L413.6,506.71 L413.8,508.98 L414,511.25 L414.2,513.52 L414.4,515.79 L414.6,515.89 L414.8,516 L415,516.1 L415.2,516.21 L415.4,516.31 L415.6,516.42 L415.8,516.52 L416,516.66 L416.2,516.79 L416.4,516.93 L416.6,517.07 L416.8,517.2 L417,517.34 L417.2,517.47 L417.4,517.61 L417.6,517.75 L417.8,517.88 L418,518.02 L418.2,518.15 L418.4,518.29 L418.6,518.43 L418.8,518.78 L419,519.13 L419.2,520.85 L419.4,523.95 L419.6,527.05 L419.8,530.14 L420,530.79 L420.2,531.43 L420.4,532.08 L420.6,532.72 L420.8,533.36 L421,533.61 L421.2,533.87 L421.4,534.12 L421.6,534.37 L421.8,534.62 L422,534.87 L422.2,535.12 L422.4,535.2 L422.6,535.28 L422.8,535.36 L423,535.44 L423.2,535.52 L423.4,535.6 L423.6,535.68 L423.8,535.76 L424,535.84 L424.2,535.92 L424.4,536 L424.6,536 L424.8,532.8 L425,526.41 L425.2,520.02 L425.4,513.62 L425.6,507.23 L425.8,509.46 L426,511.69 L426.2,513.92 L426.4,516.15 L426.6,516.25 L426.8,516.35 L427,516.46 L427.2,516.56 L427.4,516.66 L427.6,516.76 L427.8,516.87 L428,517 L428.2,517.13 L428.4,517.27 L428.6,517.4 L428.8,517.54 L429,517.67 L429.2,517.8 L429.4,517.94 L429.6,518.07 L429.8,518.2 L430,518.34 L430.2,518.47 L430.4,518.6 L430.6,518.74 L430.8,519.08 L431,519.43 L431.2,521.12 L431.4,524.16 L431.6,527.2 L431.8,530.25 L432,530.88 L432.2,531.51 L432.4,532.14 L432.6,532.78 L432.8,533.41 L433,533.66 L433.2,533.9 L433.4,534.15 L433.6,534.4 L433.8,534.64 L434,534.89 L434.2,535.14 L434.4,535.22 L434.6,535.29 L434.8,535.37 L435,535.45 L435.2,535.53 L435.4,535.61 L435.6,535.69 L435.8,535.76 L436,535.84 L436.2,535.92 L436.4,536 L436.6,536 L436.8,532.8 L437,526.41 L437.2,520.02 L437.4,513.62 L437.6,507.23 L437.8,509.46 L438,511.69 L438.2,513.92 L438.4,516.15 L438.6,516.25 L438.8,516.35 L439,516.46 L439.2,516.56 L439.4,516.66 L439.6,516.76 L439.8,516.87 L440,517 L440.2,517.13 L440.4,517.27 L440.6,517.4 L440.8,517.54 L441,517.67 L441.2,517.8 L441.4,517.94 L441.6,518.07 L441.8,518.2 L442,518.34 L442.2,518.47 L442.4,518.6 L442.6,518.74 L442.8,519.08 L443,519.43 L443.2,521.12 L443.4,524.16 L443.6,527.2 L443.8,530.25 L444,530.88 L444.2,531.51 L444.4,532.14 L444.6,532.78 L444.8,533.41 L445,533.66 L445.2,533.9 L445.4,534.15 L445.6,534.4 L445.8,534.64 L446,534.89 L446.2,535.14 L446.4,535.22 L446.6,535.29 L446.8,535.37 L447,535.45 L447.2,535.53 L447.4,535.61 L447.6,535.69 L447.8,535.76 L448,535.84 L448.2,535.92 L448.4,536 L448.6,536 L448.8,532.77 L449,526.32 L449.2,519.87 L449.4,513.42 L449.6,506.97 L449.8,509.22 L450,511.47 L450.2,513.72 L450.4,515.97 L450.6,516.07 L450.8,516.18 L451,516.28 L451.2,516.38 L451.4,516.49 L451.6,516.59 L451.8,516.69 L452,516.83 L452.2,516.96 L452.4,517.1 L452.6,517.23 L452.8,517.37 L453,517.5 L453.2,517.64 L453.4,517.77 L453.6,517.91 L453.8,518.04 L454,518.18 L454.2,518.31 L454.4,518.45 L454.6,518.58 L454.8,518.93 L455,519.28 L455.2,520.99 L455.4,524.06 L455.6,527.12 L455.8,530.19 L456,530.83 L456.2,531.47 L456.4,532.11 L456.6,532.75 L456.8,533.39 L457,533.64 L457.2,533.88 L457.4,534.13 L457.6,534.38 L457.8,534.63 L458,534.88 L458.2,535.13 L458.4,535.21 L458.6,535.29 L458.8,535.37 L459,535.45 L459.2,535.52 L459.4,535.6 L459.6,535.68 L459.8,535.76 L460,535.84 L460.2,535.92 L460.4,536 L460.6,536 L460.8,532.77 L461,526.32 L461.2,519.87 L461.4,513.42 L461.6,506.97 L461.8,509.22 L462,511.47 L462.2,513.72 L462.4,515.97 L462.6,516.07 L462.8,516.18 L463,516.28 L463.2,516.38 L463.4,516.49 L463.6,516.59 L463.8,516.69 L464,516.83 L464.2,516.96 L464.4,517.1 L464.6,517.23 L464.8,517.37 L465,517.5 L465.2,517.64 L465.4,517.77 L465.6,517.91 L465.8,518.04 L466,518.18 L466.2,518.31 L466.4,518.45 L466.6,518.58 L466.8,518.93 L467,519.28 L467.2,520.99 L467.4,524.06 L467.6,527.12 L467.8,530.19 L468,530.83 L468.2,531.47 L468.4,532.11 L468.6,532.75 L468.8,533.39 L469,533.64 L469.2,533.88 L469.4,534.13 L469.6,534.38 L469.8,534.63 L470,534.88 L470.2,535.13 L470.4,535.21 L470.6,535.29 L470.8,535.37 L471,535.45 L471.2,535.52 L471.4,535.6 L471.6,535.68 L471.8,535.76 L472,535.84 L472.2,535.92 L472.4,536 L472.6,536 L472.8,536 L473,536 L473.2,536" stroke="#f5a048" stroke-width="1.25" fill="none" stroke-linejoin="round"/>
<path d="M473.2,530.72 L473.4,520.17 L473.6,509.62 L473.8,499.07 L474,488.51 L474.2,492.79 L474.4,497.06 L474.6,499.43 L474.8,499.89 L475,500.34 L475.2,500.8 L475.4,501.26 L475.6,501.72 L475.8,502.18 L476,502.57 L476.2,502.9 L476.4,503.23 L476.6,503.56 L476.8,503.89 L477,504.22 L477.2,504.54 L477.4,504.87 L477.6,505.2 L477.8,505.53 L478,505.86 L478.2,506.19 L478.4,506.52 L478.6,506.85 L478.8,507.18 L479,507.51 L479.2,508.08 L479.4,508.65 L479.6,511.44 L479.8,516.46 L480,521.48 L480.2,526.5 L480.4,527.55 L480.6,528.59 L480.8,529.64 L481,530.68 L481.2,531.73 L481.4,532.13 L481.6,532.54 L481.8,532.95 L482,533.35 L482.2,533.76 L482.4,534.17 L482.6,534.58 L482.8,534.7 L483,534.83 L483.2,534.96 L483.4,535.09 L483.6,535.22 L483.8,535.35 L484,535.48 L484.2,535.61 L484.4,535.74 L484.6,535.87 L484.8,536 L485,536 L485.2,530.79 L485.4,520.36 L485.6,509.94 L485.8,499.51 L486,489.08 L486.2,493.31 L486.4,497.53 L486.6,499.87 L486.8,500.32 L487,500.77 L487.2,501.22 L487.4,501.68 L487.6,502.13 L487.8,502.58 L488,502.97 L488.2,503.3 L488.4,503.62 L488.6,503.95 L488.8,504.27 L489,504.6 L489.2,504.92 L489.4,505.25 L489.6,505.57 L489.8,505.9 L490,506.22 L490.2,506.55 L490.4,506.87 L490.6,507.2 L490.8,507.53 L491,507.85 L491.2,508.41 L491.4,508.98 L491.6,511.74 L491.8,516.7 L492,521.66 L492.2,526.62 L492.4,527.65 L492.6,528.68 L492.8,529.71 L493,530.75 L493.2,531.78 L493.4,532.18 L493.6,532.58 L493.8,532.98 L494,533.39 L494.2,533.79 L494.4,534.19 L494.6,534.59 L494.8,534.72 L495,534.85 L495.2,534.98 L495.4,535.1 L495.6,535.23 L495.8,535.36 L496,535.49 L496.2,535.62 L496.4,535.74 L496.6,535.87 L496.8,536 L497,536 L497.2,530.67 L497.4,520.02 L497.6,509.36 L497.8,498.7 L498,488.05 L498.2,492.36 L498.4,496.68 L498.6,499.07 L498.8,499.53 L499,499.99 L499.2,500.46 L499.4,500.92 L499.6,501.38 L499.8,501.84 L500,502.24 L500.2,502.57 L500.4,502.91 L500.6,503.24 L500.8,503.57 L501,503.9 L501.2,504.24 L501.4,504.57 L501.6,504.9 L501.8,505.23 L502,505.57 L502.2,505.9 L502.4,506.23 L502.6,506.56 L502.8,506.9 L503,507.23 L503.2,507.8 L503.4,508.38 L503.6,511.2 L503.8,516.27 L504,521.34 L504.2,526.41 L504.4,527.46 L504.6,528.52 L504.8,529.57 L505,530.63 L505.2,531.68 L505.4,532.1 L505.6,532.51 L505.8,532.92 L506,533.33 L506.2,533.74 L506.4,534.15 L506.6,534.56 L506.8,534.69 L507,534.82 L507.2,534.95 L507.4,535.08 L507.6,535.22 L507.8,535.35 L508,535.48 L508.2,535.61 L508.4,535.74 L508.6,535.87 L508.8,536 L509,536 L509.2,530.63 L509.4,519.88 L509.6,509.13 L509.8,498.38 L510,487.63 L510.2,491.99 L510.4,496.34 L510.6,498.75 L510.8,499.22 L511,499.68 L511.2,500.15 L511.4,500.61 L511.6,501.08 L511.8,501.55 L512,501.95 L512.2,502.28 L512.4,502.62 L512.6,502.95 L512.8,503.29 L513,503.63 L513.2,503.96 L513.4,504.3 L513.6,504.63 L513.8,504.97 L514,505.3 L514.2,505.64 L514.4,505.97 L514.6,506.31 L514.8,506.64 L515,506.98 L515.2,507.56 L515.4,508.14 L515.6,510.99 L515.8,516.1 L516,521.21 L516.2,526.33 L516.4,527.39 L516.6,528.45 L516.8,529.52 L517,530.58 L517.2,531.65 L517.4,532.06 L517.6,532.48 L517.8,532.89 L518,533.31 L518.2,533.72 L518.4,534.13 L518.6,534.55 L518.8,534.68 L519,534.81 L519.2,534.94 L519.4,535.08 L519.6,535.21 L519.8,535.34 L520,535.47 L520.2,535.6 L520.4,535.74 L520.6,535.87 L520.8,536 L521,536 L521.2,530.79 L521.4,520.36 L521.6,509.94 L521.8,499.51 L522,489.08 L522.2,493.31 L522.4,497.53 L522.6,499.87 L522.8,500.32 L523,500.77 L523.2,501.22 L523.4,501.68 L523.6,502.13 L523.8,502.58 L524,502.97 L524.2,503.3 L524.4,503.62 L524.6,503.95 L524.8,504.27 L525,504.6 L525.2,504.92 L525.4,505.25 L525.6,505.57 L525.8,505.9 L526,506.22 L526.2,506.55 L526.4,506.87 L526.6,507.2 L526.8,507.53 L527,507.85 L527.2,508.41 L527.4,508.98 L527.6,511.74 L527.8,516.7 L528,521.66 L528.2,526.62 L528.4,527.65 L528.6,528.68 L528.8,529.71 L529,530.75 L529.2,531.78 L529.4,532.18 L529.6,532.58 L529.8,532.98 L530,533.39 L530.2,533.79 L530.4,534.19 L530.6,534.59 L530.8,534.72 L531,534.85 L531.2,534.98 L531.4,535.1 L531.6,535.23 L531.8,535.36 L532,535.49 L532.2,535.62 L532.4,535.74 L532.6,535.87 L532.8,536 L533,536 L533.2,536" stroke="#3a8c5c" stroke-width="1.25" fill="none" stroke-linejoin="round"/>
<path d="M533.2,527.45 L533.4,510.34 L533.6,493.23 L533.8,476.12 L534,459.02 L534.2,463.64 L534.4,468.26 L534.6,472.87 L534.8,477.49 L535,482.11 L535.2,482.66 L535.4,483.21 L535.6,483.76 L535.8,484.31 L536,484.86 L536.2,485.41 L536.4,485.96 L536.6,486.49 L536.8,487.03 L537,487.56 L537.2,488.09 L537.4,488.63 L537.6,489.16 L537.8,489.69 L538,490.23 L538.2,490.76 L538.4,491.29 L538.6,491.82 L538.8,492.36 L539,492.89 L539.2,493.81 L539.4,494.74 L539.6,498.83 L539.8,506.09 L540,513.35 L540.2,520.6 L540.4,522.3 L540.6,523.99 L540.8,525.68 L541,527.38 L541.2,529.07 L541.4,529.73 L541.6,530.39 L541.8,531.05 L542,531.71 L542.2,532.37 L542.4,533.03 L542.6,533.69 L542.8,533.9 L543,534.11 L543.2,534.32 L543.4,534.53 L543.6,534.74 L543.8,534.95 L544,535.16 L544.2,535.37 L544.4,535.58 L544.6,535.79 L544.8,536 L545,536 L545.2,536 L545.4,536 L545.6,527.59 L545.8,510.77 L546,493.95 L546.2,477.13 L546.4,460.31 L546.6,464.85 L546.8,469.4 L547,473.94 L547.2,478.48 L547.4,483.02 L547.6,483.56 L547.8,484.1 L548,484.64 L548.2,485.18 L548.4,485.72 L548.6,486.26 L548.8,486.8 L549,487.33 L549.2,487.85 L549.4,488.38 L549.6,488.9 L549.8,489.42 L550,489.95 L550.2,490.47 L550.4,491 L550.6,491.52 L550.8,492.04 L551,492.57 L551.2,493.09 L551.4,493.62 L551.6,494.52 L551.8,495.43 L552,499.45 L552.2,506.59 L552.4,513.73 L552.6,520.86 L552.8,522.53 L553,524.19 L553.2,525.86 L553.4,527.52 L553.6,529.19 L553.8,529.84 L554,530.49 L554.2,531.13 L554.4,531.78 L554.6,532.43 L554.8,533.08 L555,533.73 L555.2,533.94 L555.4,534.14 L555.6,534.35 L555.8,534.56 L556,534.76 L556.2,534.97 L556.4,535.17 L556.6,535.38 L556.8,535.59 L557,535.79 L557.2,536 L557.4,536 L557.6,536 L557.8,536 L558,527.67 L558.2,511 L558.4,494.33 L558.6,477.66 L558.8,460.99 L559,465.49 L559.2,469.99 L559.4,474.49 L559.6,478.99 L559.8,483.49 L560,484.03 L560.2,484.56 L560.4,485.1 L560.6,485.63 L560.8,486.17 L561,486.71 L561.2,487.24 L561.4,487.76 L561.6,488.28 L561.8,488.8 L562,489.32 L562.2,489.84 L562.4,490.36 L562.6,490.88 L562.8,491.4 L563,491.92 L563.2,492.44 L563.4,492.95 L563.6,493.47 L563.8,493.99 L564,494.89 L564.2,495.79 L564.4,499.78 L564.6,506.85 L564.8,513.92 L565,521 L565.2,522.65 L565.4,524.3 L565.6,525.95 L565.8,527.6 L566,529.25 L566.2,529.89 L566.4,530.53 L566.6,531.18 L566.8,531.82 L567,532.46 L567.2,533.11 L567.4,533.75 L567.6,533.95 L567.8,534.16 L568,534.36 L568.2,534.57 L568.4,534.77 L568.6,534.98 L568.8,535.18 L569,535.39 L569.2,535.59 L569.4,535.8 L569.6,536 L569.8,536 L570,536 L570.2,536 L570.4,527.45 L570.6,510.34 L570.8,493.23 L571,476.12 L571.2,459.02 L571.4,463.64 L571.6,468.26 L571.8,472.87 L572,477.49 L572.2,482.11 L572.4,482.66 L572.6,483.21 L572.8,483.76 L573,484.31 L573.2,484.86 L573.4,485.41 L573.6,485.96 L573.8,486.49 L574,487.03 L574.2,487.56 L574.4,488.09 L574.6,488.63 L574.8,489.16 L575,489.69 L575.2,490.23 L575.4,490.76 L575.6,491.29 L575.8,491.82 L576,492.36 L576.2,492.89 L576.4,493.81 L576.6,494.74 L576.8,498.83 L577,506.09 L577.2,513.35 L577.4,520.6 L577.6,522.3 L577.8,523.99 L578,525.68 L578.2,527.38 L578.4,529.07 L578.6,529.73 L578.8,530.39 L579,531.05 L579.2,531.71 L579.4,532.37 L579.6,533.03 L579.8,533.69 L580,533.9 L580.2,534.11 L580.4,534.32 L580.6,534.53 L580.8,534.74 L581,534.95 L581.2,535.16 L581.4,535.37 L581.6,535.58 L581.8,535.79 L582,536 L582.2,536 L582.4,536 L582.6,536 L582.8,527.82 L583,511.46 L583.2,495.1 L583.4,478.75 L583.6,462.39 L583.8,466.8 L584,471.22 L584.2,475.64 L584.4,480.05 L584.6,484.47 L584.8,485 L585,485.52 L585.2,486.05 L585.4,486.57 L585.6,487.1 L585.8,487.63 L586,488.15 L586.2,488.66 L586.4,489.17 L586.6,489.68 L586.8,490.19 L587,490.7 L587.2,491.21 L587.4,491.72 L587.6,492.23 L587.8,492.74 L588,493.25 L588.2,493.76 L588.4,494.27 L588.6,494.78 L588.8,495.66 L589,496.54 L589.2,500.46 L589.4,507.4 L589.6,514.34 L589.8,521.28 L590,522.9 L590.2,524.52 L590.4,526.14 L590.6,527.76 L590.8,529.37 L591,530.01 L591.2,530.64 L591.4,531.27 L591.6,531.9 L591.8,532.53 L592,533.16 L592.2,533.79 L592.4,533.99 L592.6,534.19 L592.8,534.39 L593,534.59 L593.2,534.8 L593.4,535 L593.6,535.2 L593.8,535.4 L594,535.6 L594.2,535.8 L594.4,536 L594.6,536 L594.8,536" stroke="#68c4e4" stroke-width="1.25" fill="none" stroke-linejoin="round"/>
<path d="M594.8,524.74 L595,502.23 L595.2,479.72 L595.4,457.21 L595.6,434.7 L595.8,440.61 L596,446.52 L596.2,452.43 L596.4,458.34 L596.6,464.25 L596.8,470.16 L597,470.66 L597.2,471.17 L597.4,471.68 L597.6,472.18 L597.8,472.69 L598,473.2 L598.2,473.7 L598.4,474.34 L598.6,474.97 L598.8,475.6 L599,476.24 L599.2,476.87 L599.4,477.5 L599.6,478.14 L599.8,478.77 L600,479.4 L600.2,480.03 L600.4,480.67 L600.6,481.3 L600.8,482.52 L601,483.73 L601.2,488.83 L601.4,497.8 L601.6,506.77 L601.8,515.74 L602,517.97 L602.2,520.2 L602.4,522.43 L602.6,524.65 L602.8,526.88 L603,527.75 L603.2,528.62 L603.4,529.49 L603.6,530.36 L603.8,531.22 L604,532.09 L604.2,532.96 L604.4,533.24 L604.6,533.51 L604.8,533.79 L605,534.07 L605.2,534.34 L605.4,534.62 L605.6,534.89 L605.8,535.17 L606,535.45 L606.2,535.72 L606.4,536 L606.6,536 L606.8,536 L607,536 L607.2,512.87 L607.4,489.74 L607.6,466.6 L607.8,443.47 L608,434.94 L608.2,441.01 L608.4,447.09 L608.6,453.16 L608.8,459.23 L609,465.3 L609.2,468.6 L609.4,469.12 L609.6,469.64 L609.8,470.16 L610,470.68 L610.2,471.2 L610.4,471.72 L610.6,472.31 L610.8,472.96 L611,473.61 L611.2,474.26 L611.4,474.91 L611.6,475.56 L611.8,476.21 L612,476.86 L612.2,477.51 L612.4,478.16 L612.6,478.81 L612.8,479.46 L613,480.41 L613.2,481.66 L613.4,482.91 L613.6,492.13 L613.8,501.35 L614,510.57 L614.2,516.33 L614.4,518.62 L614.6,520.91 L614.8,523.2 L615,525.49 L615.2,527.08 L615.4,527.97 L615.6,528.86 L615.8,529.75 L616,530.65 L616.2,531.54 L616.4,532.43 L616.6,533.02 L616.8,533.3 L617,533.59 L617.2,533.87 L617.4,534.15 L617.6,534.44 L617.8,534.72 L618,535.01 L618.2,535.29 L618.4,535.57 L618.6,535.86 L618.8,536 L619,536 L619.2,536 L619.4,524.78 L619.6,502.34 L619.8,479.9 L620,457.46 L620.2,435.02 L620.4,440.91 L620.6,446.8 L620.8,452.69 L621,458.58 L621.2,464.47 L621.4,470.36 L621.6,470.87 L621.8,471.37 L622,471.87 L622.2,472.38 L622.4,472.88 L622.6,473.39 L622.8,473.89 L623,474.53 L623.2,475.16 L623.4,475.79 L623.6,476.42 L623.8,477.05 L624,477.68 L624.2,478.31 L624.4,478.94 L624.6,479.58 L624.8,480.21 L625,480.84 L625.2,481.47 L625.4,482.68 L625.6,483.89 L625.8,488.97 L626,497.91 L626.2,506.86 L626.4,515.8 L626.6,518.02 L626.8,520.25 L627,522.47 L627.2,524.69 L627.4,526.91 L627.6,527.78 L627.8,528.64 L628,529.51 L628.2,530.37 L628.4,531.24 L628.6,532.1 L628.8,532.97 L629,533.25 L629.2,533.52 L629.4,533.8 L629.6,534.07 L629.8,534.35 L630,534.62 L630.2,534.9 L630.4,535.17 L630.6,535.45 L630.8,535.72 L631,536 L631.2,536 L631.4,536 L631.6,536 L631.8,514 L632,491.99 L632.2,469.99 L632.4,447.99 L632.6,439.87 L632.8,445.65 L633,451.43 L633.2,457.2 L633.4,462.98 L633.6,468.75 L633.8,471.89 L634,472.38 L634.2,472.88 L634.4,473.37 L634.6,473.87 L634.8,474.36 L635,474.86 L635.2,475.42 L635.4,476.03 L635.6,476.65 L635.8,477.27 L636,477.89 L636.2,478.51 L636.4,479.13 L636.6,479.75 L636.8,480.37 L637,480.99 L637.2,481.6 L637.4,482.22 L637.6,483.13 L637.8,484.31 L638,485.5 L638.2,494.27 L638.4,503.04 L638.6,511.81 L638.8,517.29 L639,519.46 L639.2,521.64 L639.4,523.82 L639.6,526 L639.8,527.51 L640,528.36 L640.2,529.21 L640.4,530.06 L640.6,530.91 L640.8,531.76 L641,532.61 L641.2,533.16 L641.4,533.43 L641.6,533.7 L641.8,533.97 L642,534.24 L642.2,534.51 L642.4,534.78 L642.6,535.05 L642.8,535.32 L643,535.59 L643.2,535.86 L643.4,536 L643.6,536 L643.8,536 L644,524.66 L644.2,501.99 L644.4,479.32 L644.6,456.65 L644.8,433.98 L645,439.93 L645.2,445.88 L645.4,451.83 L645.6,457.78 L645.8,463.74 L646,469.69 L646.2,470.2 L646.4,470.71 L646.6,471.22 L646.8,471.73 L647,472.24 L647.2,472.75 L647.4,473.26 L647.6,473.89 L647.8,474.53 L648,475.17 L648.2,475.81 L648.4,476.45 L648.6,477.08 L648.8,477.72 L649,478.36 L649.2,479 L649.4,479.63 L649.6,480.27 L649.8,480.91 L650,482.13 L650.2,483.36 L650.4,488.49 L650.6,497.52 L650.8,506.56 L651,515.6 L651.2,517.84 L651.4,520.08 L651.6,522.33 L651.8,524.57 L652,526.82 L652.2,527.69 L652.4,528.57 L652.6,529.44 L652.8,530.32 L653,531.19 L653.2,532.06 L653.4,532.94 L653.6,533.22 L653.8,533.5 L654,533.77 L654.2,534.05 L654.4,534.33 L654.6,534.61 L654.8,534.89 L655,535.17" stroke="#3c5cb0" stroke-width="1.25" fill="none" stroke-linejoin="round"/>
</g>
<rect x="62.6" y="406.5" width="592" height="142.1" fill="none" stroke="#2b2b2b" stroke-width="1" />
<line x1="55.4" y1="536" x2="62.6" y2="536" stroke="#2b2b2b" stroke-width="1" />
<text x="51.4" y="539.2" font-size="9" text-anchor="end" fill="#000" >0</text>
<line x1="55.4" y1="510.08" x2="62.6" y2="510.08" stroke="#2b2b2b" stroke-width="1" />
<text x="51.4" y="513.28" font-size="9" text-anchor="end" fill="#000" >50</text>
<line x1="55.4" y1="484.16" x2="62.6" y2="484.16" stroke="#2b2b2b" stroke-width="1" />
<text x="51.4" y="487.36" font-size="9" text-anchor="end" fill="#000" >100</text>
<line x1="55.4" y1="458.24" x2="62.6" y2="458.24" stroke="#2b2b2b" stroke-width="1" />
<text x="51.4" y="461.44" font-size="9" text-anchor="end" fill="#000" >150</text>
<line x1="55.4" y1="432.32" x2="62.6" y2="432.32" stroke="#2b2b2b" stroke-width="1" />
<text x="51.4" y="435.52" font-size="9" text-anchor="end" fill="#000" >200</text>
<line x1="55.4" y1="406.4" x2="62.6" y2="406.4" stroke="#2b2b2b" stroke-width="1" />
<text x="51.4" y="409.6" font-size="9" text-anchor="end" fill="#000" >250</text>
<line x1="59" y1="548.96" x2="62.6" y2="548.96" stroke="#2b2b2b" stroke-width="1" />
<line x1="59" y1="523.04" x2="62.6" y2="523.04" stroke="#2b2b2b" stroke-width="1" />
<line x1="59" y1="497.12" x2="62.6" y2="497.12" stroke="#2b2b2b" stroke-width="1" />
<line x1="59" y1="471.2" x2="62.6" y2="471.2" stroke="#2b2b2b" stroke-width="1" />
<line x1="59" y1="445.28" x2="62.6" y2="445.28" stroke="#2b2b2b" stroke-width="1" />
<line x1="59" y1="419.36" x2="62.6" y2="419.36" stroke="#2b2b2b" stroke-width="1" />
<line x1="62.2" y1="548.6" x2="62.2" y2="554.4" stroke="#2b2b2b" stroke-width="1" />
<text x="62.2" y="569.2" font-size="9" text-anchor="middle" fill="#000" >0</text>
<line x1="180.6" y1="548.6" x2="180.6" y2="554.4" stroke="#2b2b2b" stroke-width="1" />
<text x="180.6" y="569.2" font-size="9" text-anchor="middle" fill="#000" >50</text>
<line x1="299" y1="548.6" x2="299" y2="554.4" stroke="#2b2b2b" stroke-width="1" />
<text x="299" y="569.2" font-size="9" text-anchor="middle" fill="#000" >100</text>
<line x1="417.4" y1="548.6" x2="417.4" y2="554.4" stroke="#2b2b2b" stroke-width="1" />
<text x="417.4" y="569.2" font-size="9" text-anchor="middle" fill="#000" >150</text>
<line x1="535.8" y1="548.6" x2="535.8" y2="554.4" stroke="#2b2b2b" stroke-width="1" />
<text x="535.8" y="569.2" font-size="9" text-anchor="middle" fill="#000" >200</text>
<line x1="654.2" y1="548.6" x2="654.2" y2="554.4" stroke="#2b2b2b" stroke-width="1" />
<text x="654.2" y="569.2" font-size="9" text-anchor="middle" fill="#000" >250</text>
<line x1="121.4" y1="548.6" x2="121.4" y2="552.1" stroke="#2b2b2b" stroke-width="1" />
<line x1="239.8" y1="548.6" x2="239.8" y2="552.1" stroke="#2b2b2b" stroke-width="1" />
<line x1="358.2" y1="548.6" x2="358.2" y2="552.1" stroke="#2b2b2b" stroke-width="1" />
<line x1="476.6" y1="548.6" x2="476.6" y2="552.1" stroke="#2b2b2b" stroke-width="1" />
<line x1="595" y1="548.6" x2="595" y2="552.1" stroke="#2b2b2b" stroke-width="1" />
<text x="358.6" y="581.6" font-size="8.8" text-anchor="middle" fill="#000" >Time (s)</text>
<text transform="translate(22.6,477.5) rotate(-90)" font-size="8.8" text-anchor="middle" fill="#000">(<tspan font-style="italic">R</tspan>–<tspan font-style="italic">R</tspan><tspan font-size="6.34" dy="1.94">0</tspan><tspan dy="-1.94">)/</tspan><tspan font-style="italic">R</tspan><tspan font-size="6.34" dy="1.94">0</tspan><tspan dy="-1.94"> (%)</tspan></text>
<line x1="273.5" y1="414.8" x2="305" y2="414.8" stroke="#5b88b8" stroke-width="1.3" />
<text x="309.8" y="417.4" font-size="7.3" text-anchor="start" fill="#000" >0.1%</text>
<line x1="339.3" y1="414.8" x2="370.8" y2="414.8" stroke="#b04848" stroke-width="1.3" />
<text x="375.6" y="417.4" font-size="7.3" text-anchor="start" fill="#000" >0.2%</text>
<line x1="405.1" y1="414.8" x2="436.6" y2="414.8" stroke="#ea4aa0" stroke-width="1.3" />
<text x="441.4" y="417.4" font-size="7.3" text-anchor="start" fill="#000" >0.3%</text>
<line x1="470.9" y1="414.8" x2="502.4" y2="414.8" stroke="#9c5ab8" stroke-width="1.3" />
<text x="507.2" y="417.4" font-size="7.3" text-anchor="start" fill="#000" >0.4%</text>
<line x1="536.7" y1="414.8" x2="568.2" y2="414.8" stroke="#f26060" stroke-width="1.3" />
<text x="573" y="417.4" font-size="7.3" text-anchor="start" fill="#000" >0.5%</text>
<line x1="273.5" y1="430.8" x2="305" y2="430.8" stroke="#b066d0" stroke-width="1.3" />
<text x="309.8" y="433.4" font-size="7.3" text-anchor="start" fill="#000" >1%</text>
<line x1="339.3" y1="430.8" x2="370.8" y2="430.8" stroke="#f5a048" stroke-width="1.3" />
<text x="375.6" y="433.4" font-size="7.3" text-anchor="start" fill="#000" >2%</text>
<line x1="405.1" y1="430.8" x2="436.6" y2="430.8" stroke="#3a8c5c" stroke-width="1.3" />
<text x="441.4" y="433.4" font-size="7.3" text-anchor="start" fill="#000" >3%</text>
<line x1="470.9" y1="430.8" x2="502.4" y2="430.8" stroke="#68c4e4" stroke-width="1.3" />
<text x="507.2" y="433.4" font-size="7.3" text-anchor="start" fill="#000" >4%</text>
<line x1="536.7" y1="430.8" x2="568.2" y2="430.8" stroke="#3c5cb0" stroke-width="1.3" />
<text x="573" y="433.4" font-size="7.3" text-anchor="start" fill="#000" >5%</text>
<path d="M69.31,529.46 L69.92,529.36 L70.54,529.27 L71.17,529.18 L71.8,529.1 L72.44,529.02 L73.09,528.94 L73.75,528.87 L74.41,528.8 L75.08,528.73 L75.76,528.67 L76.44,528.61 L77.13,528.55 L77.82,528.5 L78.52,528.46 L79.22,528.41" stroke="#e5392c" stroke-width="2.1" fill="none" />
<path d="M89.12,528.22 L89.8,528.24 L90.48,528.26 L91.15,528.28 L91.83,528.31 L92.5,528.34 L93.17,528.37 L93.84,528.4 L94.5,528.44 L95.16,528.49 L95.82,528.53 L96.47,528.58 L97.11,528.64 L97.75,528.7 L98.39,528.76 L99.02,528.82" stroke="#e5392c" stroke-width="2.1" fill="none" />
<path d="M109,530.47 L109.91,530.71 L110.78,530.95 L111.61,531.21 L112.39,531.47 L113.13,531.74 L113.82,532.01 L114.46,532.29 L115.05,532.58 L115.59,532.88 L116.07,533.18 L116.51,533.49 L116.89,533.79 L117.21,534.11 L117.48,534.42 L117.69,534.74" stroke="#e5392c" stroke-width="2.1" fill="none" />
<path d="M114.82,539.13 L114.38,539.34 L113.9,539.55 L113.4,539.76 L112.87,539.96 L112.32,540.16 L111.74,540.35 L111.14,540.54 L110.51,540.73 L109.86,540.91 L109.19,541.08 L108.49,541.25 L107.77,541.41 L107.03,541.57 L106.28,541.72 L105.5,541.87" stroke="#e5392c" stroke-width="2.1" fill="none" />
<path d="M95.52,543.09 L94.91,543.13 L94.31,543.17 L93.7,543.2 L93.08,543.24 L92.47,543.27 L91.85,543.29 L91.23,543.32 L90.6,543.34 L89.98,543.36 L89.35,543.37 L88.73,543.38 L88.1,543.39 L87.47,543.4 L86.84,543.4 L86.22,543.4" stroke="#e5392c" stroke-width="2.1" fill="none" />
<path d="M75.71,542.93 L75.03,542.87 L74.37,542.8 L73.71,542.73 L73.06,542.66 L72.41,542.58 L71.77,542.5 L71.14,542.42 L70.52,542.33 L69.9,542.24 L69.3,542.14 L68.7,542.04 L68.12,541.94 L67.54,541.84 L66.97,541.73 L66.42,541.62" stroke="#e5392c" stroke-width="2.1" fill="none" />
<path d="M56.13,537.64 L55.76,537.22 L55.48,536.81 L55.29,536.38 L55.21,535.96 L55.22,535.53 L55.33,535.11 L55.54,534.69 L55.84,534.27 L56.24,533.86 L56.74,533.45 L57.33,533.05 L58,532.66 L58.77,532.28 L59.63,531.91 L60.57,531.55" stroke="#e5392c" stroke-width="2.1" fill="none" />
<line x1="100.8" y1="526.6" x2="119.6" y2="514" stroke="#e5392c" stroke-width="1.5" />
<path d="M123.4,511.4 L115.6,513.4 L119.6,519.2 Z" fill="#e5392c"/>
<rect x="96.7" y="419.9" width="152.9" height="70.7" fill="#fff" stroke="#6f6f6f" stroke-width="0.9" />
<path d="M102.4,479 L102.6,479 L102.8,479 L103,479 L103.2,473.24 L103.4,467.49 L103.6,461.73 L103.8,455.98 L104,450.22 L104.2,444.47 L104.4,438.71 L104.6,439.29 L104.8,439.87 L105,440.45 L105.2,441.03 L105.4,441.61 L105.6,442.19 L105.8,442.77 L106,443.34 L106.2,443.92 L106.4,444.5 L106.6,445.08 L106.8,445.66 L107,446.24 L107.2,446.82 L107.4,447.4 L107.6,447.53 L107.8,447.66 L108,447.8 L108.2,447.93 L108.4,448.06 L108.6,448.19 L108.8,448.32 L109,448.45 L109.2,448.59 L109.4,448.72 L109.6,448.85 L109.8,448.98 L110,449.11 L110.2,449.24 L110.4,449.38 L110.6,449.51 L110.8,449.64 L111,449.77 L111.2,449.85 L111.4,449.93 L111.6,450.01 L111.8,450.09 L112,450.17 L112.2,450.24 L112.4,450.32 L112.6,450.4 L112.8,450.48 L113,450.56 L113.2,450.64 L113.4,450.72 L113.6,450.8 L113.8,450.88 L114,450.96 L114.2,451.03 L114.4,451.11 L114.6,451.19 L114.8,451.27 L115,451.35 L115.2,451.43 L115.4,451.51 L115.6,451.59 L115.8,451.67 L116,451.75 L116.2,452.92 L116.4,454.09 L116.6,455.26 L116.8,456.44 L117,457.61 L117.2,458.78 L117.4,459.96 L117.6,461.13 L117.8,462.3 L118,463.48 L118.2,464.65 L118.4,465.82 L118.6,466.99 L118.8,468.17 L119,469.34 L119.2,470.51 L119.4,471.26 L119.6,471.57 L119.8,471.89 L120,472.21 L120.2,472.52 L120.4,472.84 L120.6,473.15 L120.8,473.47 L121,473.79 L121.2,474.1 L121.4,474.42 L121.6,474.73 L121.8,475.05 L122,475.14 L122.2,475.24 L122.4,475.33 L122.6,475.43 L122.8,475.52 L123,475.61 L123.2,475.71 L123.4,475.8 L123.6,475.9 L123.8,475.99 L124,476.08 L124.2,476.18 L124.4,476.27 L124.6,476.37 L124.8,476.46 L125,476.55 L125.2,476.65 L125.4,476.74 L125.6,476.84 L125.8,476.93 L126,477.03 L126.2,477.08 L126.4,477.14 L126.6,477.19 L126.8,477.25 L127,477.31 L127.2,477.36 L127.4,477.42 L127.6,477.48 L127.8,477.53 L128,477.59 L128.2,477.65 L128.4,477.7 L128.6,477.76 L128.8,477.82 L129,477.87 L129.2,477.93 L129.4,477.98 L129.6,478.04 L129.8,478.1 L130,478.15 L130.2,478.21 L130.4,478.27 L130.6,478.32 L130.8,478.38 L131,478.44 L131.2,478.49 L131.4,478.55 L131.6,479 L131.8,474.68 L132,468.93 L132.2,463.17 L132.4,457.42 L132.6,451.66 L132.8,445.9 L133,440.15 L133.2,439.14 L133.4,439.72 L133.6,440.3 L133.8,440.88 L134,441.46 L134.2,442.04 L134.4,442.62 L134.6,443.2 L134.8,443.78 L135,444.36 L135.2,444.94 L135.4,445.52 L135.6,446.1 L135.8,446.68 L136,447.26 L136.2,447.5 L136.4,447.63 L136.6,447.76 L136.8,447.89 L137,448.03 L137.2,448.16 L137.4,448.29 L137.6,448.42 L137.8,448.55 L138,448.68 L138.2,448.82 L138.4,448.95 L138.6,449.08 L138.8,449.21 L139,449.34 L139.2,449.47 L139.4,449.61 L139.6,449.74 L139.8,449.83 L140,449.91 L140.2,449.99 L140.4,450.07 L140.6,450.15 L140.8,450.22 L141,450.3 L141.2,450.38 L141.4,450.46 L141.6,450.54 L141.8,450.62 L142,450.7 L142.2,450.78 L142.4,450.86 L142.6,450.94 L142.8,451.01 L143,451.09 L143.2,451.17 L143.4,451.25 L143.6,451.33 L143.8,451.41 L144,451.49 L144.2,451.57 L144.4,451.65 L144.6,451.73 L144.8,452.62 L145,453.8 L145.2,454.97 L145.4,456.14 L145.6,457.32 L145.8,458.49 L146,459.66 L146.2,460.84 L146.4,462.01 L146.6,463.18 L146.8,464.36 L147,465.53 L147.2,466.7 L147.4,467.87 L147.6,469.05 L147.8,470.22 L148,471.18 L148.2,471.5 L148.4,471.81 L148.6,472.13 L148.8,472.44 L149,472.76 L149.2,473.08 L149.4,473.39 L149.6,473.71 L149.8,474.02 L150,474.34 L150.2,474.66 L150.4,474.97 L150.6,475.12 L150.8,475.21 L151,475.31 L151.2,475.4 L151.4,475.5 L151.6,475.59 L151.8,475.68 L152,475.78 L152.2,475.87 L152.4,475.97 L152.6,476.06 L152.8,476.16 L153,476.25 L153.2,476.34 L153.4,476.44 L153.6,476.53 L153.8,476.63 L154,476.72 L154.2,476.81 L154.4,476.91 L154.6,477 L154.8,477.07 L155,477.12 L155.2,477.18 L155.4,477.24 L155.6,477.29 L155.8,477.35 L156,477.41 L156.2,477.46 L156.4,477.52 L156.6,477.58 L156.8,477.63 L157,477.69 L157.2,477.74 L157.4,477.8 L157.6,477.86 L157.8,477.91 L158,477.97 L158.2,478.03 L158.4,478.08 L158.6,478.14 L158.8,478.2 L159,478.25 L159.2,478.31 L159.4,478.37 L159.6,478.42 L159.8,478.48 L160,478.53 L160.2,479 L160.4,476.12 L160.6,470.37 L160.8,464.61 L161,458.85 L161.2,453.1 L161.4,447.34 L161.6,441.59 L161.8,439 L162,439.58 L162.2,440.16 L162.4,440.74 L162.6,441.32 L162.8,441.9 L163,442.48 L163.2,443.06 L163.4,443.63 L163.6,444.21 L163.8,444.79 L164,445.37 L164.2,445.95 L164.4,446.53 L164.6,447.11 L164.8,447.47 L165,447.6 L165.2,447.73 L165.4,447.86 L165.6,447.99 L165.8,448.12 L166,448.26 L166.2,448.39 L166.4,448.52 L166.6,448.65 L166.8,448.78 L167,448.91 L167.2,449.05 L167.4,449.18 L167.6,449.31 L167.8,449.44 L168,449.57 L168.2,449.7 L168.4,449.81 L168.6,449.89 L168.8,449.97 L169,450.05 L169.2,450.13 L169.4,450.2 L169.6,450.28 L169.8,450.36 L170,450.44 L170.2,450.52 L170.4,450.6 L170.6,450.68 L170.8,450.76 L171,450.84 L171.2,450.92 L171.4,450.99 L171.6,451.07 L171.8,451.15 L172,451.23 L172.2,451.31 L172.4,451.39 L172.6,451.47 L172.8,451.55 L173,451.63 L173.2,451.71 L173.4,452.33 L173.6,453.5 L173.8,454.68 L174,455.85 L174.2,457.02 L174.4,458.2 L174.6,459.37 L174.8,460.54 L175,461.72 L175.2,462.89 L175.4,464.06 L175.6,465.23 L175.8,466.41 L176,467.58 L176.2,468.75 L176.4,469.93 L176.6,471.1 L176.8,471.42 L177,471.73 L177.2,472.05 L177.4,472.36 L177.6,472.68 L177.8,473 L178,473.31 L178.2,473.63 L178.4,473.94 L178.6,474.26 L178.8,474.58 L179,474.89 L179.2,475.1 L179.4,475.19 L179.6,475.29 L179.8,475.38 L180,475.47 L180.2,475.57 L180.4,475.66 L180.6,475.76 L180.8,475.85 L181,475.94 L181.2,476.04 L181.4,476.13 L181.6,476.23 L181.8,476.32 L182,476.41 L182.2,476.51 L182.4,476.6 L182.6,476.7 L182.8,476.79 L183,476.88 L183.2,476.98 L183.4,477.05 L183.6,477.11 L183.8,477.17 L184,477.22 L184.2,477.28 L184.4,477.34 L184.6,477.39 L184.8,477.45 L185,477.5 L185.2,477.56 L185.4,477.62 L185.6,477.67 L185.8,477.73 L186,477.79 L186.2,477.84 L186.4,477.9 L186.6,477.96 L186.8,478.01 L187,478.07 L187.2,478.13 L187.4,478.18 L187.6,478.24 L187.8,478.29 L188,478.35 L188.2,478.41 L188.4,478.46 L188.6,478.52 L188.8,479 L189,477.56 L189.2,471.81 L189.4,466.05 L189.6,460.29 L189.8,454.54 L190,448.78 L190.2,443.03 L190.4,438.85 L190.6,439.43 L190.8,440.01 L191,440.59 L191.2,441.17 L191.4,441.75 L191.6,442.33 L191.8,442.91 L192,443.49 L192.2,444.07 L192.4,444.65 L192.6,445.23 L192.8,445.81 L193,446.39 L193.2,446.97 L193.4,447.43 L193.6,447.56 L193.8,447.7 L194,447.83 L194.2,447.96 L194.4,448.09 L194.6,448.22 L194.8,448.35 L195,448.49 L195.2,448.62 L195.4,448.75 L195.6,448.88 L195.8,449.01 L196,449.14 L196.2,449.28 L196.4,449.41 L196.6,449.54 L196.8,449.67 L197,449.79 L197.2,449.87 L197.4,449.95 L197.6,450.03 L197.8,450.11 L198,450.18 L198.2,450.26 L198.4,450.34 L198.6,450.42 L198.8,450.5 L199,450.58 L199.2,450.66 L199.4,450.74 L199.6,450.82 L199.8,450.9 L200,450.97 L200.2,451.05 L200.4,451.13 L200.6,451.21 L200.8,451.29 L201,451.37 L201.2,451.45 L201.4,451.53 L201.6,451.61 L201.8,451.69 L202,452.04 L202.2,453.21 L202.4,454.38 L202.6,455.56 L202.8,456.73 L203,457.9 L203.2,459.08 L203.4,460.25 L203.6,461.42 L203.8,462.6 L204,463.77 L204.2,464.94 L204.4,466.11 L204.6,467.29 L204.8,468.46 L205,469.63 L205.2,470.81 L205.4,471.34 L205.6,471.65 L205.8,471.97 L206,472.29 L206.2,472.6 L206.4,472.92 L206.6,473.23 L206.8,473.55 L207,473.87 L207.2,474.18 L207.4,474.5 L207.6,474.81 L207.8,475.07 L208,475.17 L208.2,475.26 L208.4,475.36 L208.6,475.45 L208.8,475.54 L209,475.64 L209.2,475.73 L209.4,475.83 L209.6,475.92 L209.8,476.01 L210,476.11 L210.2,476.2 L210.4,476.3 L210.6,476.39 L210.8,476.48 L211,476.58 L211.2,476.67 L211.4,476.77 L211.6,476.86 L211.8,476.95 L212,477.04 L212.2,477.1 L212.4,477.15 L212.6,477.21 L212.8,477.26 L213,477.32 L213.2,477.38 L213.4,477.43 L213.6,477.49 L213.8,477.55 L214,477.6 L214.2,477.66 L214.4,477.72 L214.6,477.77 L214.8,477.83 L215,477.89 L215.2,477.94 L215.4,478 L215.6,478.05 L215.8,478.11 L216,478.17 L216.2,478.22 L216.4,478.28 L216.6,478.34 L216.8,478.39 L217,478.45 L217.2,478.51 L217.4,479 L217.6,479 L217.8,473.24 L218,467.49 L218.2,461.73 L218.4,455.98 L218.6,450.22 L218.8,444.47 L219,438.71 L219.2,439.29 L219.4,439.87 L219.6,440.45 L219.8,441.03 L220,441.61 L220.2,442.19 L220.4,442.77 L220.6,443.34 L220.8,443.92 L221,444.5 L221.2,445.08 L221.4,445.66 L221.6,446.24 L221.8,446.82 L222,447.4 L222.2,447.53 L222.4,447.66 L222.6,447.8 L222.8,447.93 L223,448.06 L223.2,448.19 L223.4,448.32 L223.6,448.45 L223.8,448.59 L224,448.72 L224.2,448.85 L224.4,448.98 L224.6,449.11 L224.8,449.24 L225,449.38 L225.2,449.51 L225.4,449.64 L225.6,449.77 L225.8,449.85 L226,449.93 L226.2,450.01 L226.4,450.09 L226.6,450.17 L226.8,450.24 L227,450.32 L227.2,450.4 L227.4,450.48 L227.6,450.56 L227.8,450.64 L228,450.72 L228.2,450.8 L228.4,450.88 L228.6,450.96 L228.8,451.03 L229,451.11 L229.2,451.19 L229.4,451.27 L229.6,451.35 L229.8,451.43 L230,451.51 L230.2,451.59 L230.4,451.67 L230.6,451.75 L230.8,452.92 L231,454.09 L231.2,455.26 L231.4,456.44 L231.6,457.61 L231.8,458.78 L232,459.96 L232.2,461.13 L232.4,462.3 L232.6,463.48 L232.8,464.65 L233,465.82 L233.2,466.99 L233.4,468.17 L233.6,469.34 L233.8,470.51 L234,471.26 L234.2,471.57 L234.4,471.89 L234.6,472.21 L234.8,472.52 L235,472.84 L235.2,473.15 L235.4,473.47 L235.6,473.79 L235.8,474.1 L236,474.42 L236.2,474.73 L236.4,475.05 L236.6,475.14 L236.8,475.24 L237,475.33 L237.2,475.43 L237.4,475.52 L237.6,475.61 L237.8,475.71 L238,475.8 L238.2,475.9 L238.4,475.99 L238.6,476.08 L238.8,476.18 L239,476.27 L239.2,476.37 L239.4,476.46 L239.6,476.55 L239.8,476.65 L240,476.74 L240.2,476.84 L240.4,476.93 L240.6,477.03 L240.8,477.08 L241,477.14 L241.2,477.19 L241.4,477.25 L241.6,477.31 L241.8,477.36 L242,477.42 L242.2,477.48 L242.4,477.53 L242.6,477.59 L242.8,477.65 L243,477.7 L243.2,477.76 L243.4,477.82 L243.6,477.87 L243.8,477.93 L244,477.98 L244.2,478.04 L244.4,478.1 L244.6,478.15 L244.8,478.21 L245,478.27 L245.2,478.32 L245.4,478.38 L245.6,478.44 L245.8,478.49 L246,478.55 L246.2,479" stroke="#4a78a8" stroke-width="1.25" fill="none" stroke-linejoin="round"/>
<line x1="93.7" y1="479" x2="96.7" y2="479" stroke="#555" stroke-width="0.8" />
<text x="91.5" y="481.5" font-size="7" text-anchor="end" fill="#000" >0.0</text>
<line x1="93.7" y1="455.3" x2="96.7" y2="455.3" stroke="#555" stroke-width="0.8" />
<text x="91.5" y="457.8" font-size="7" text-anchor="end" fill="#000" >0.3</text>
<line x1="93.7" y1="431.6" x2="96.7" y2="431.6" stroke="#555" stroke-width="0.8" />
<text x="91.5" y="434.1" font-size="7" text-anchor="end" fill="#000" >0.6</text>
<line x1="95.1" y1="467.15" x2="96.7" y2="467.15" stroke="#555" stroke-width="0.8" />
<line x1="95.1" y1="443.45" x2="96.7" y2="443.45" stroke="#555" stroke-width="0.8" />
<line x1="102.4" y1="490.6" x2="102.4" y2="493.6" stroke="#555" stroke-width="0.8" />
<text x="102.4" y="502.6" font-size="7" text-anchor="middle" fill="#000" >0</text>
<line x1="161.2" y1="490.6" x2="161.2" y2="493.6" stroke="#555" stroke-width="0.8" />
<text x="161.2" y="502.6" font-size="7" text-anchor="middle" fill="#000" >10</text>
<line x1="220" y1="490.6" x2="220" y2="493.6" stroke="#555" stroke-width="0.8" />
<text x="220" y="502.6" font-size="7" text-anchor="middle" fill="#000" >20</text>
<line x1="131.8" y1="490.6" x2="131.8" y2="492.4" stroke="#555" stroke-width="0.8" />
<line x1="190.6" y1="490.6" x2="190.6" y2="492.4" stroke="#555" stroke-width="0.8" />
<text x="9" y="607.6" font-size="13" text-anchor="start" fill="#000" font-weight="bold" >f</text>
<path d="M64.4,808.6 L64.4,710.62 H65.2 L65.2,711.65 H66 L66,711.66 H66.8 L66.8,710.94 H67.6 L67.6,711.59 H68.4 L68.4,711.93 H69.2 L69.2,713.2 H70 L70,713.26 H70.8 L70.8,712.98 H71.6 L71.6,712.17 H72.4 L72.4,714.64 H73.2 L73.2,713.55 H74 L74,713.18 H74.8 L74.8,713.68 H75.6 L75.6,713.64 H76.4 L76.4,714.38 H77.2 L77.2,714.77 H78 L78,714.2 H78.8 L78.8,714.38 H79.6 L79.6,715.11 H80.4 L80.4,714.12 H81.2 L81.2,713.74 H82 L82,715.14 H82.8 L82.8,714.45 H83.6 L83.6,713.64 H84.4 L84.4,714.48 H85.2 L85.2,714.79 H86 L86,714.34 H86.8 L86.8,714.2 H87.6 L87.6,715.33 H88.4 L88.4,716 H89.2 L89.2,715.27 H90 L90,714.98 H90.8 L90.8,715.87 H91.6 L91.6,716.21 H92.4 L92.4,715.6 H93.2 L93.2,716.3 H94 L94,716.75 H94.8 L94.8,715.98 H95.6 L95.6,715.66 H96.4 L96.4,716.58 H97.2 L97.2,716.61 H98 L98,718.31 H98.8 L98.8,715.74 H99.6 L99.6,716.28 H100.4 L100.4,716.23 H101.2 L101.2,715.63 H102 L102,716.97 H102.8 L102.8,717.28 H103.6 L103.6,716.43 H104.4 L104.4,717.95 H105.2 L105.2,717.58 H106 L106,717.48 H106.8 L106.8,717.35 H107.6 L107.6,717.77 H108.4 L108.4,716.2 H109.2 L109.2,717.6 H110 L110,717.62 H110.8 L110.8,715.98 H111.6 L111.6,717.47 H112.4 L112.4,717.07 H113.2 L113.2,717.81 H114 L114,716.97 H114.8 L114.8,717.28 H115.6 L115.6,717.55 H116.4 L116.4,716.71 H117.2 L117.2,717.76 H118 L118,717.29 H118.8 L118.8,717.72 H119.6 L119.6,717.03 H120.4 L120.4,718.12 H121.2 L121.2,717.72 H122 L122,717.1 H122.8 L122.8,717.59 H123.6 L123.6,717.96 H124.4 L124.4,718.26 H125.2 L125.2,715.83 H126 L126,717.36 H126.8 L126.8,717.11 H127.6 L127.6,716.65 H128.4 L128.4,715.94 H129.2 L129.2,717.45 H130 L130,715.62 H130.8 L130.8,716.78 H131.6 L131.6,717.05 H132.4 L132.4,715.02 H133.2 L133.2,715.81 H134 L134,714.98 H134.8 L134.8,715.95 H135.6 L135.6,716.72 H136.4 L136.4,717.4 H137.2 L137.2,714.18 H138 L138,714.9 H138.8 L138.8,715.73 H139.6 L139.6,716.27 H140.4 L140.4,715.39 H141.2 L141.2,714.51 H142 L142,715.17 H142.8 L142.8,714.89 H143.6 L143.6,714.69 H144.4 L144.4,714.25 H145.2 L145.2,714.97 H146 L146,714.85 H146.8 L146.8,714.5 H147.6 L147.6,714.34 H148.4 L148.4,713.53 H149.2 L149.2,714.03 H150 L150,715.14 H150.8 L150.8,714.18 H151.6 L151.6,713.32 H152.4 L152.4,715.28 H153.2 L153.2,714.74 H154 L154,715.86 H154.8 L154.8,714.44 H155.6 L155.6,714.09 H156.4 L156.4,713.41 H157.2 L157.2,715.37 H158 L158,716.26 H158.8 L158.8,713.9 H159.6 L159.6,714.04 H160.4 L160.4,714.93 H161.2 L161.2,714.68 H162 L162,714.35 H162.8 L162.8,714.31 H163.6 L163.6,714.71 H164.4 L164.4,715.35 H165.2 L165.2,714.62 H166 L166,716.78 H166.8 L166.8,714.34 H167.6 L167.6,714.88 H168.4 L168.4,713.17 H169.2 L169.2,713.67 H170 L170,715.26 H170.8 L170.8,714.33 H171.6 L171.6,715.2 H172.4 L172.4,715.22 H173.2 L173.2,715.82 H174 L174,715.51 H174.8 L174.8,718.01 H175.6 L175.6,714.96 H176.4 L176.4,714.6 H177.2 L177.2,714.1 H178 L178,714.84 H178.8 L178.8,714.44 H179.6 L179.6,714.89 H180.4 L180.4,715.26 H181.2 L181.2,715.56 H182 L182,715.2 H182.8 L182.8,714.15 H183.6 L183.6,715.5 H184.4 L184.4,715.77 H185.2 L185.2,716.42 H186 L186,716.12 H186.8 L186.8,715.33 H187.6 L187.6,715.33 H188.4 L188.4,717.3 H189.2 L189.2,716.47 H190 L190,717.28 H190.8 L190.8,717.62 H191.6 L191.6,715.68 H192.4 L192.4,716.65 H193.2 L193.2,716.83 H194 L194,717.03 H194.8 L194.8,717.15 H195.6 L195.6,717.04 H196.4 L196.4,717.15 H197.2 L197.2,716.1 H198 L198,717.16 H198.8 L198.8,716.88 H199.6 L199.6,717.62 H200.4 L200.4,717.18 H201.2 L201.2,717.76 H202 L202,717.71 H202.8 L202.8,717.17 H203.6 L203.6,715.45 H204.4 L204.4,716.65 H205.2 L205.2,716.09 H206 L206,716.1 H206.8 L206.8,715.69 H207.6 L207.6,716.12 H208.4 L208.4,715.68 H209.2 L209.2,715.89 H210 L210,714.47 H210.8 L210.8,715.98 H211.6 L211.6,714.88 H212.4 L212.4,714.95 H213.2 L213.2,715.39 H214 L214,715.19 H214.8 L214.8,715.84 H215.6 L215.6,715.29 H216.4 L216.4,715 H217.2 L217.2,715.21 H218 L218,716.78 H218.8 L218.8,715.95 H219.6 L219.6,715.15 H220.4 L220.4,716.08 H221.2 L221.2,715.12 H222 L222,717.6 H222.8 L222.8,715.42 H223.6 L223.6,716.97 H224.4 L224.4,717.15 H225.2 L225.2,715.89 H226 L226,717.26 H226.8 L226.8,717.89 H227.6 L227.6,717.66 H228.4 L228.4,717.38 H229.2 L229.2,717.45 H230 L230,716.49 H230.8 L230.8,716.2 H231.6 L231.6,715.47 H232.4 L232.4,715.59 H233.2 L233.2,714.08 H234 L234,714.88 H234.8 L234.8,713.56 H235.6 L235.6,712.74 H236.4 L236.4,713.54 H237.2 L237.2,714.45 H238 L238,713.91 H238.8 L238.8,712.85 H239.6 L239.6,713.67 H240.4 L240.4,712.84 H241.2 L241.2,713.04 H242 L242,713.16 H242.8 L242.8,711.45 H243.6 L243.6,713.18 H244.4 L244.4,712.3 H245.2 L245.2,712.51 H246 L246,711.95 H246.8 L246.8,711.9 H247.6 L247.6,712.29 H248.4 L248.4,713.51 H249.2 L249.2,714.08 H250 L250,712.88 H250.8 L250.8,713.65 H251.6 L251.6,712.68 H252.4 L252.4,711.51 H253.2 L253.2,712.94 H254 L254,715.36 H254.8 L254.8,712.5 H255.6 L255.6,713 H256.4 L256.4,713.17 H257.2 L257.2,712.15 H258 L258,711.71 H258.8 L258.8,712.05 H259.6 L259.6,712.71 H260.4 L260.4,712.45 H261.2 L261.2,713.38 H262 L262,713.89 H262.8 L262.8,712.38 H263.6 L263.6,713.15 H264.4 L264.4,713.31 H265.2 L265.2,713.15 H266 L266,713.37 H266.8 L266.8,712.36 H267.6 L267.6,713.14 H268.4 L268.4,714.03 H269.2 L269.2,713.17 H270 L270,712.17 H270.8 L270.8,713.02 H271.6 L271.6,713.47 H272.4 L272.4,712.83 H273.2 L273.2,712.17 H274 L274,713.64 H274.8 L274.8,711.68 H275.6 L275.6,712.9 H276.4 L276.4,712.52 H277.2 L277.2,711.69 H278 L278,713.37 H278.8 L278.8,712.76 H279.6 L279.6,711.69 H280.4 L280.4,712.72 H281.2 L281.2,712.19 H282 L282,711.15 H282.8 L282.8,711.99 H283.6 L283.6,712.65 H284.4 L284.4,712.9 H285.2 L285.2,712.56 H286 L286,712.47 H286.8 L286.8,712.76 H287.6 L287.6,712.28 H288.4 L288.4,713.24 H289.2 L289.2,712.51 H290 L290,712.61 H290.8 L290.8,712.77 H291.6 L291.6,711.64 H292.4 L292.4,711.88 H293.2 L293.2,713.44 H294 L294,712.59 H294.8 L294.8,712.15 H295.6 L295.6,712.58 H296.4 L296.4,712 H297.2 L297.2,712.52 H298 L298,711.85 H298.8 L298.8,712.51 H299.6 L299.6,711.2 H300.4 L300.4,713.22 H301.2 L301.2,711.91 H302 L302,711.14 H302.8 L302.8,712.07 H303.6 L303.6,711.95 H304.4 L304.4,712.3 H305.2 L305.2,711.37 H306 L306,712.43 H306.8 L306.8,714.67 H307.6 L307.6,711.21 H308.4 L308.4,712.33 H309.2 L309.2,711.85 H310 L310,712.18 H310.8 L310.8,713.2 H311.6 L311.6,711.2 H312.4 L312.4,712.31 H313.2 L313.2,713.1 H314 L314,713.09 H314.8 L314.8,711.44 H315.6 L315.6,712.1 H316.4 L316.4,713.93 H317.2 L317.2,709.29 H318 L318,711.22 H318.8 L318.8,711.81 H319.6 L319.6,711.78 H320.4 L320.4,712.39 H321.2 L321.2,711.87 H322 L322,711.24 H322.8 L322.8,712.58 H323.6 L323.6,713.6 H324.4 L324.4,712.63 H325.2 L325.2,707.82 H326 L326,711.62 H326.8 L326.8,711.1 H327.6 L327.6,712.13 H328.4 L328.4,711.57 H329.2 L329.2,713.03 H330 L330,712.32 H330.8 L330.8,713.12 H331.6 L331.6,711.78 H332.4 L332.4,711.61 H333.2 L333.2,711.86 H334 L334,712.52 H334.8 L334.8,711.98 H335.6 L335.6,711.39 H336.4 L336.4,712.58 H337.2 L337.2,711.87 H338 L338,711.73 H338.8 L338.8,711.27 H339.6 L339.6,711.48 H340.4 L340.4,711.48 H341.2 L341.2,710.02 H342 L342,712.73 H342.8 L342.8,712.46 H343.6 L343.6,711.97 H344.4 L344.4,712.9 H345.2 L345.2,712.52 H346 L346,712.52 H346.8 L346.8,710.27 H347.6 L347.6,712.19 H348.4 L348.4,712.78 H349.2 L349.2,713.58 H350 L350,713.79 H350.8 L350.8,713.53 H351.6 L351.6,711.75 H352.4 L352.4,711.06 H353.2 L353.2,713.03 H354 L354,712.68 H354.8 L354.8,713.37 H355.6 L355.6,712.64 H356.4 L356.4,712.91 H357.2 L357.2,711.74 H358 L358,713.13 H358.8 L358.8,712.54 H359.6 L359.6,713.13 H360.4 L360.4,713.24 H361.2 L361.2,712.87 H362 L362,713.2 H362.8 L362.8,713 H363.6 L363.6,713.58 H364.4 L364.4,713.43 H365.2 L365.2,712.72 H366 L366,712.73 H366.8 L366.8,714.39 H367.6 L367.6,713.13 H368.4 L368.4,713.93 H369.2 L369.2,713.54 H370 L370,712.91 H370.8 L370.8,712.88 H371.6 L371.6,713.6 H372.4 L372.4,713.8 H373.2 L373.2,714.16 H374 L374,712.95 H374.8 L374.8,713.52 H375.6 L375.6,713.98 H376.4 L376.4,715.27 H377.2 L377.2,712.61 H378 L378,714.67 H378.8 L378.8,714.6 H379.6 L379.6,714.88 H380.4 L380.4,714.34 H381.2 L381.2,715.05 H382 L382,716 H382.8 L382.8,715.25 H383.6 L383.6,715.42 H384.4 L384.4,715.48 H385.2 L385.2,714.75 H386 L386,715.57 H386.8 L386.8,714.96 H387.6 L387.6,714.45 H388.4 L388.4,714.9 H389.2 L389.2,714.68 H390 L390,716.92 H390.8 L390.8,714.63 H391.6 L391.6,714.2 H392.4 L392.4,715.51 H393.2 L393.2,715.09 H394 L394,715.2 H394.8 L394.8,713.9 H395.6 L395.6,713.98 H396.4 L396.4,713.57 H397.2 L397.2,713.48 H398 L398,714.14 H398.8 L398.8,713.37 H399.6 L399.6,712.06 H400.4 L400.4,712.96 H401.2 L401.2,711.98 H402 L402,713.07 H402.8 L402.8,712.09 H403.6 L403.6,713.45 H404.4 L404.4,712.97 H405.2 L405.2,712.82 H406 L406,711.69 H406.8 L406.8,713.35 H407.6 L407.6,714.32 H408.4 L408.4,711.75 H409.2 L409.2,714.04 H410 L410,712.27 H410.8 L410.8,712.38 H411.6 L411.6,712.58 H412.4 L412.4,711.68 H413.2 L413.2,713.58 H414 L414,712.99 H414.8 L414.8,712.1 H415.6 L415.6,712.42 H416.4 L416.4,711.53 H417.2 L417.2,712.33 H418 L418,713.21 H418.8 L418.8,711.33 H419.6 L419.6,712.2 H420.4 L420.4,712.6 H421.2 L421.2,713.23 H422 L422,713.44 H422.8 L422.8,712.18 H423.6 L423.6,711.98 H424.4 L424.4,712.82 H425.2 L425.2,712.25 H426 L426,712.28 H426.8 L426.8,713.26 H427.6 L427.6,713.68 H428.4 L428.4,712.69 H429.2 L429.2,712.37 H430 L430,712.9 H430.8 L430.8,711.18 H431.6 L431.6,712.49 H432.4 L432.4,711.76 H433.2 L433.2,714.17 H434 L434,713 H434.8 L434.8,712.6 H435.6 L435.6,712.36 H436.4 L436.4,710.74 H437.2 L437.2,713 H438 L438,713.64 H438.8 L438.8,711.99 H439.6 L439.6,712.98 H440.4 L440.4,713 H441.2 L441.2,711.39 H442 L442,713.11 H442.8 L442.8,713.38 H443.6 L443.6,712.57 H444.4 L444.4,712.35 H445.2 L445.2,712.92 H446 L446,711.27 H446.8 L446.8,712.4 H447.6 L447.6,713.05 H448.4 L448.4,711.42 H449.2 L449.2,712.96 H450 L450,711.96 H450.8 L450.8,710.77 H451.6 L451.6,712.14 H452.4 L452.4,711.51 H453.2 L453.2,712.39 H454 L454,711.33 H454.8 L454.8,712.87 H455.6 L455.6,711.59 H456.4 L456.4,712.34 H457.2 L457.2,711.65 H458 L458,711.82 H458.8 L458.8,712.86 H459.6 L459.6,712.16 H460.4 L460.4,711.73 H461.2 L461.2,711.15 H462 L462,712.85 H462.8 L462.8,712.57 H463.6 L463.6,711.84 H464.4 L464.4,713.07 H465.2 L465.2,711.38 H466 L466,711.41 H466.8 L466.8,711.56 H467.6 L467.6,712.4 H468.4 L468.4,712.38 H469.2 L469.2,711.66 H470 L470,712.72 H470.8 L470.8,712.73 H471.6 L471.6,712.27 H472.4 L472.4,712.85 H473.2 L473.2,711.9 H474 L474,712 H474.8 L474.8,712.39 H475.6 L475.6,712.01 H476.4 L476.4,712.56 H477.2 L477.2,711.11 H478 L478,712.96 H478.8 L478.8,711.39 H479.6 L479.6,711.8 H480.4 L480.4,710.95 H481.2 L481.2,712.37 H482 L482,714.34 H482.8 L482.8,712.76 H483.6 L483.6,712.63 H484.4 L484.4,710.99 H485.2 L485.2,711.56 H486 L486,711.82 H486.8 L486.8,711.52 H487.6 L487.6,712.99 H488.4 L488.4,712.37 H489.2 L489.2,712.25 H490 L490,712.64 H490.8 L490.8,711.67 H491.6 L491.6,711.73 H492.4 L492.4,711.78 H493.2 L493.2,712.78 H494 L494,712.7 H494.8 L494.8,712.9 H495.6 L495.6,712.9 H496.4 L496.4,711.72 H497.2 L497.2,712.37 H498 L498,712.96 H498.8 L498.8,712.01 H499.6 L499.6,712.68 H500.4 L500.4,713.86 H501.2 L501.2,714.02 H502 L502,714.09 H502.8 L502.8,713.47 H503.6 L503.6,713.38 H504.4 L504.4,714.38 H505.2 L505.2,713.46 H506 L506,714.06 H506.8 L506.8,714.84 H507.6 L507.6,713.75 H508.4 L508.4,713.68 H509.2 L509.2,714.2 H510 L510,716.13 H510.8 L510.8,714.55 H511.6 L511.6,714.23 H512.4 L512.4,714.43 H513.2 L513.2,712.83 H514 L514,713.26 H514.8 L514.8,713.89 H515.6 L515.6,713.25 H516.4 L516.4,712.66 H517.2 L517.2,712.66 H518 L518,712.78 H518.8 L518.8,713.21 H519.6 L519.6,712.53 H520.4 L520.4,713.38 H521.2 L521.2,714.42 H522 L522,713.16 H522.8 L522.8,714.18 H523.6 L523.6,713.51 H524.4 L524.4,712.55 H525.2 L525.2,713.18 H526 L526,712.69 H526.8 L526.8,713.94 H527.6 L527.6,711.55 H528.4 L528.4,714.38 H529.2 L529.2,713.88 H530 L530,712.08 H530.8 L530.8,714.45 H531.6 L531.6,715.39 H532.4 L532.4,714.15 H533.2 L533.2,715.79 H534 L534,714.24 H534.8 L534.8,716.08 H535.6 L535.6,714.62 H536.4 L536.4,715.84 H537.2 L537.2,713.96 H538 L538,713.09 H538.8 L538.8,714.92 H539.6 L539.6,715.96 H540.4 L540.4,713.65 H541.2 L541.2,714.37 H542 L542,713.58 H542.8 L542.8,713.15 H543.6 L543.6,713.69 H544.4 L544.4,714.29 H545.2 L545.2,712.16 H546 L546,713.29 H546.8 L546.8,713.02 H547.6 L547.6,711.66 H548.4 L548.4,713.67 H549.2 L549.2,713.78 H550 L550,711.63 H550.8 L550.8,713.38 H551.6 L551.6,712.07 H552.4 L552.4,711.78 H553.2 L553.2,712.81 H554 L554,711.78 H554.8 L554.8,711.71 H555.6 L555.6,712.17 H556.4 L556.4,712.11 H557.2 L557.2,711.7 H558 L558,709.96 H558.8 L558.8,709.7 H559.6 L559.6,711.46 H560.4 L560.4,710 H561.2 L561.2,710.85 H562 L562,710.09 H562.8 L562.8,710.81 H563.6 L563.6,710.14 H564.4 L564.4,712.27 H565.2 L565.2,710.51 H566 L566,712.44 H566.8 L566.8,711.28 H567.6 L567.6,712.36 H568.4 L568.4,710.61 H569.2 L569.2,711.68 H570 L570,711.65 H570.8 L570.8,712.27 H571.6 L571.6,712.32 H572.4 L572.4,711.76 H573.2 L573.2,712.35 H574 L574,712.02 H574.8 L574.8,712.7 H575.6 L575.6,712.39 H576.4 L576.4,712.08 H577.2 L577.2,712.6 H578 L578,712.95 H578.8 L578.8,714.37 H579.6 L579.6,712.52 H580.4 L580.4,713.15 H581.2 L581.2,714.04 H582 L582,711.65 H582.8 L582.8,712.26 H583.6 L583.6,712.43 H584.4 L584.4,713.26 H585.2 L585.2,715.13 H586 L586,713.77 H586.8 L586.8,714.43 H587.6 L587.6,713.5 H588.4 L588.4,712.02 H589.2 L589.2,712.2 H590 L590,714.61 H590.8 L590.8,713.75 H591.6 L591.6,712.43 H592.4 L592.4,713.84 H593.2 L593.2,713.52 H594 L594,713.29 H594.8 L594.8,713.24 H595.6 L595.6,711.4 H596.4 L596.4,710.88 H597.2 L597.2,711.97 H598 L598,710.33 H598.8 L598.8,711.42 H599.6 L599.6,709.7 H600.4 L600.4,710.65 H601.2 L601.2,710.57 H602 L602,710.27 H602.8 L602.8,710.02 H603.6 L603.6,710.88 H604.4 L604.4,709.01 H605.2 L605.2,710.88 H606 L606,710 H606.8 L606.8,711.46 H607.6 L607.6,710.18 H608.4 L608.4,712.33 H609.2 L609.2,710.98 H610 L610,710.47 H610.8 L610.8,712.31 H611.6 L611.6,712.57 H612.4 L612.4,711.34 H613.2 L613.2,710.92 H614 L614,711.62 H614.8 L614.8,711.2 H615.6 L615.6,711.51 H616.4 L616.4,712.86 H617.2 L617.2,712.08 H618 L618,711.94 H618.8 L618.8,712.12 H619.6 L619.6,711.87 H620.4 L620.4,712.54 H621.2 L621.2,712.6 H622 L622,711.77 H622.8 L622.8,712.14 H623.6 L623.6,713.79 H624.4 L624.4,712.43 H625.2 L625.2,712.05 H626 L626,713.65 H626.8 L626.8,712.26 H627.6 L627.6,711.52 H628.4 L628.4,712.8 H629.2 L629.2,711.73 H630 L630,712.05 H630.8 L630.8,712.59 H631.6 L631.6,712.92 H632.4 L632.4,711.75 H633.2 L633.2,711.86 H634 L634,711.8 H634.8 L634.8,712.99 H635.6 L635.6,711.63 H636.4 L636.4,711.7 H637.2 L637.2,713.49 H638 L638,711.64 H638.8 L638.8,713.03 H639.6 L639.6,712.87 H640.4 L640.4,711.81 H641.2 L641.2,712.98 H642 L642,712.16 H642.8 L642.8,712.27 H643.6 L643.6,712.44 H644.4 L644.4,711.78 H645.2 L645.2,712.55 H646 L646,712.7 H646.8 L646.8,711.02 H647.6 L647.6,712.78 H648.4 L648.4,711.92 H649.2 L649.2,711.43 H650 L650,711.63 H650.8 L650.8,713.19 H651.6 L651.6,712.59 H652.4 L652.4,710.67 H653.2 L653.2,712 H654 L654,711.87 H654.8 L654.8,711.87 H655 L655,808.6 Z" fill="#fe47a4" stroke="none"/>
<rect x="64.4" y="603.4" width="590.6" height="207" fill="none" stroke="#2b2b2b" stroke-width="1" />
<line x1="60" y1="808" x2="64.4" y2="808" stroke="#2b2b2b" stroke-width="1" />
<text x="56" y="811.2" font-size="9" text-anchor="end" fill="#000" >0</text>
<line x1="60" y1="784.65" x2="64.4" y2="784.65" stroke="#2b2b2b" stroke-width="1" />
<text x="56" y="787.85" font-size="9" text-anchor="end" fill="#000" >2000</text>
<line x1="60" y1="761.3" x2="64.4" y2="761.3" stroke="#2b2b2b" stroke-width="1" />
<text x="56" y="764.5" font-size="9" text-anchor="end" fill="#000" >4000</text>
<line x1="60" y1="737.95" x2="64.4" y2="737.95" stroke="#2b2b2b" stroke-width="1" />
<text x="56" y="741.15" font-size="9" text-anchor="end" fill="#000" >6000</text>
<line x1="60" y1="714.6" x2="64.4" y2="714.6" stroke="#2b2b2b" stroke-width="1" />
<text x="56" y="717.8" font-size="9" text-anchor="end" fill="#000" >8000</text>
<line x1="60" y1="691.25" x2="64.4" y2="691.25" stroke="#2b2b2b" stroke-width="1" />
<text x="56" y="694.45" font-size="9" text-anchor="end" fill="#000" >10,000</text>
<line x1="60" y1="667.9" x2="64.4" y2="667.9" stroke="#2b2b2b" stroke-width="1" />
<text x="56" y="671.1" font-size="9" text-anchor="end" fill="#000" >12,000</text>
<line x1="60" y1="644.55" x2="64.4" y2="644.55" stroke="#2b2b2b" stroke-width="1" />
<text x="56" y="647.75" font-size="9" text-anchor="end" fill="#000" >14,000</text>
<line x1="60" y1="621.2" x2="64.4" y2="621.2" stroke="#2b2b2b" stroke-width="1" />
<text x="56" y="624.4" font-size="9" text-anchor="end" fill="#000" >16,000</text>
<line x1="62" y1="796.33" x2="64.4" y2="796.33" stroke="#2b2b2b" stroke-width="1" />
<line x1="62" y1="772.98" x2="64.4" y2="772.98" stroke="#2b2b2b" stroke-width="1" />
<line x1="62" y1="749.62" x2="64.4" y2="749.62" stroke="#2b2b2b" stroke-width="1" />
<line x1="62" y1="726.27" x2="64.4" y2="726.27" stroke="#2b2b2b" stroke-width="1" />
<line x1="62" y1="702.92" x2="64.4" y2="702.92" stroke="#2b2b2b" stroke-width="1" />
<line x1="62" y1="679.58" x2="64.4" y2="679.58" stroke="#2b2b2b" stroke-width="1" />
<line x1="62" y1="656.23" x2="64.4" y2="656.23" stroke="#2b2b2b" stroke-width="1" />
<line x1="62" y1="632.88" x2="64.4" y2="632.88" stroke="#2b2b2b" stroke-width="1" />
<line x1="62" y1="609.52" x2="64.4" y2="609.52" stroke="#2b2b2b" stroke-width="1" />
<line x1="64.4" y1="810.4" x2="64.4" y2="814.4" stroke="#2b2b2b" stroke-width="1" />
<text x="64.4" y="827.8" font-size="9" text-anchor="middle" fill="#000" >0</text>
<line x1="212.05" y1="810.4" x2="212.05" y2="814.4" stroke="#2b2b2b" stroke-width="1" />
<text x="212.05" y="827.8" font-size="9" text-anchor="middle" fill="#000" >5000</text>
<line x1="359.7" y1="810.4" x2="359.7" y2="814.4" stroke="#2b2b2b" stroke-width="1" />
<text x="359.7" y="827.8" font-size="9" text-anchor="middle" fill="#000" >10,000</text>
<line x1="507.35" y1="810.4" x2="507.35" y2="814.4" stroke="#2b2b2b" stroke-width="1" />
<text x="507.35" y="827.8" font-size="9" text-anchor="middle" fill="#000" >15,000</text>
<line x1="655" y1="810.4" x2="655" y2="814.4" stroke="#2b2b2b" stroke-width="1" />
<text x="655" y="827.8" font-size="9" text-anchor="middle" fill="#000" >20,000</text>
<line x1="138.23" y1="810.4" x2="138.23" y2="812.6" stroke="#2b2b2b" stroke-width="1" />
<line x1="285.88" y1="810.4" x2="285.88" y2="812.6" stroke="#2b2b2b" stroke-width="1" />
<line x1="433.52" y1="810.4" x2="433.52" y2="812.6" stroke="#2b2b2b" stroke-width="1" />
<line x1="581.17" y1="810.4" x2="581.17" y2="812.6" stroke="#2b2b2b" stroke-width="1" />
<text x="359.7" y="841.2" font-size="8.8" text-anchor="middle" fill="#000" >Time (s)</text>
<text transform="translate(18,711) rotate(-90)" font-size="8.8" text-anchor="middle" fill="#000">(<tspan font-style="italic">R</tspan>–<tspan font-style="italic">R</tspan><tspan font-size="6.34" dy="1.94">0</tspan><tspan dy="-1.94">)/</tspan><tspan font-style="italic">R</tspan><tspan font-size="6.34" dy="1.94">0</tspan><tspan dy="-1.94"> (%)</tspan></text>
<rect x="138" y="711.4" width="8.8" height="97" fill="none" stroke="#111" stroke-width="1.4" />
<rect x="432.2" y="711.4" width="9.2" height="97" fill="none" stroke="#111" stroke-width="1.4" />
<rect x="635.4" y="711.4" width="9.1" height="97" fill="none" stroke="#111" stroke-width="1.4" />
<line x1="147" y1="711.6" x2="153" y2="702.2" stroke="#111" stroke-width="1" />
<path d="M155.4,698.4 L150.9,702.3 L154.9,704.2 Z" fill="#111"/>
<line x1="432.2" y1="711.2" x2="423.2" y2="704" stroke="#111" stroke-width="1" />
<path d="M419,700.8 L421.6,706.3 L425.2,702.0 Z" fill="#111"/>
<line x1="635.4" y1="711" x2="624.6" y2="704.2" stroke="#111" stroke-width="1" />
<path d="M620.6,701.2 L623.3,706.6 L626.4,702.2 Z" fill="#111"/>
<rect x="98.5" y="608" width="122.9" height="80.6" fill="#fff" stroke="#7a7a7a" stroke-width="0.9" />
<g clip-path="url(#ci1)">
<path d="M98.5,683.8 L98.5,683.24 L98.7,682.65 L98.9,681.61 L99.1,680.57 L99.3,676.6 L99.5,669.71 L99.7,662.83 L99.9,658.4 L100.1,656.42 L100.3,654.44 L100.5,652.47 L100.7,650.49 L100.9,648.51 L101.1,646.54 L101.3,644.56 L101.5,642.58 L101.7,640.61 L101.9,637.62 L102.1,634.63 L102.3,631.65 L102.5,628.66 L102.7,625.68 L102.9,622.69 L103,621.2 L103.1,626.96 L103.3,638.48 L103.5,650 L103.7,650.89 L103.9,651.78 L104.1,652.68 L104.3,653.57 L104.5,654.47 L104.7,655.36 L104.9,656.26 L105.1,657.24 L105.3,658.22 L105.5,659.2 L105.7,660.18 L105.9,661.16 L106.1,662.13 L106.3,663.11 L106.5,664.09 L106.7,665.07 L106.9,666.05 L107.1,667.03 L107.3,667.7 L107.5,668.06 L107.7,668.42 L107.9,668.78 L108.1,669.13 L108.3,669.49 L108.5,669.85 L108.7,670.69 L108.9,672.01 L109.1,673.33 L109.3,674.65 L109.5,675.98 L109.7,677.3 L109.9,678.62 L110.1,679.94 L110.3,681.26 L110.5,682.09 L110.7,682.42 L110.9,682.76 L111.1,683.09 L111.3,683.42 L111.5,683.5 L111.7,683.5 L111.9,683.5 L112.1,683.5 L112.3,683.5 L112.5,683.5 L112.7,683.5 L112.9,683.5 L113.1,683.5 L113.3,683.5 L113.5,683.5 L113.7,683.5 L113.9,683.5 L114.1,683.5 L114.3,683.5 L114.5,683.5 L114.7,683.5 L114.9,683.5 L115.1,683.5 L115.3,683.5 L115.5,683.5 L115.7,683.5 L115.9,683.5 L116.1,683.5 L116.3,683.5 L116.5,683.5 L116.7,683.5 L116.9,683.5 L117.1,683.5 L117.3,683.5 L117.5,683.5 L117.7,683.48 L117.9,683.36 L118.1,683.23 L118.3,682.64 L118.5,681.59 L118.7,680.53 L118.9,676.53 L119.1,669.58 L119.3,662.63 L119.5,658.15 L119.7,656.16 L119.9,654.16 L120.1,652.17 L120.3,650.17 L120.5,648.18 L120.7,646.18 L120.9,644.18 L121.1,642.19 L121.3,640.19 L121.5,637.18 L121.7,634.16 L121.9,631.15 L122.1,628.14 L122.3,625.12 L122.5,622.11 L122.6,620.6 L122.7,626.41 L122.9,638.04 L123.1,649.67 L123.3,650.57 L123.5,651.48 L123.7,652.38 L123.9,653.28 L124.1,654.19 L124.3,655.09 L124.5,655.99 L124.7,656.98 L124.9,657.97 L125.1,658.96 L125.3,659.95 L125.5,660.94 L125.7,661.93 L125.9,662.92 L126.1,663.91 L126.3,664.89 L126.5,665.88 L126.7,666.87 L126.9,667.55 L127.1,667.91 L127.3,668.27 L127.5,668.63 L127.7,668.99 L127.9,669.35 L128.1,669.72 L128.3,670.56 L128.5,671.9 L128.7,673.23 L128.9,674.57 L129.1,675.9 L129.3,677.23 L129.5,678.57 L129.7,679.9 L129.9,681.24 L130.1,682.07 L130.3,682.41 L130.5,682.75 L130.7,683.08 L130.9,683.42 L131.1,683.5 L131.3,683.5 L131.5,683.5 L131.7,683.5 L131.9,683.5 L132.1,683.5 L132.3,683.5 L132.5,683.5 L132.7,683.5 L132.9,683.5 L133.1,683.5 L133.3,683.5 L133.5,683.5 L133.7,683.5 L133.9,683.5 L134.1,683.5 L134.3,683.5 L134.5,683.5 L134.7,683.5 L134.9,683.5 L135.1,683.5 L135.3,683.5 L135.5,683.5 L135.7,683.5 L135.9,683.5 L136.1,683.5 L136.3,683.5 L136.5,683.5 L136.7,683.5 L136.9,683.5 L137.1,683.5 L137.3,683.5 L137.5,683.5 L137.7,683.5 L137.9,683.5 L138.1,683.48 L138.3,683.35 L138.5,683.23 L138.7,682.63 L138.9,681.57 L139.1,680.51 L139.3,676.49 L139.5,669.49 L139.7,662.49 L139.9,657.99 L140.1,655.98 L140.3,653.97 L140.5,651.97 L140.7,649.96 L140.9,647.95 L141.1,645.94 L141.3,643.93 L141.5,641.92 L141.7,639.92 L141.9,636.88 L142.1,633.85 L142.3,630.82 L142.5,627.78 L142.7,624.75 L142.9,621.72 L143,620.2 L143.1,626.05 L143.3,637.75 L143.5,649.46 L143.7,650.36 L143.9,651.27 L144.1,652.18 L144.3,653.09 L144.5,654 L144.7,654.91 L144.9,655.82 L145.1,656.81 L145.3,657.81 L145.5,658.8 L145.7,659.8 L145.9,660.79 L146.1,661.79 L146.3,662.78 L146.5,663.78 L146.7,664.78 L146.9,665.77 L147.1,666.77 L147.3,667.45 L147.5,667.81 L147.7,668.17 L147.9,668.54 L148.1,668.9 L148.3,669.26 L148.5,669.63 L148.7,670.48 L148.9,671.82 L149.1,673.16 L149.3,674.51 L149.5,675.85 L149.7,677.19 L149.9,678.54 L150.1,679.88 L150.3,681.22 L150.5,682.06 L150.7,682.4 L150.9,682.74 L151.1,683.08 L151.3,683.42 L151.5,683.5 L151.7,683.5 L151.9,683.5 L152.1,683.5 L152.3,683.5 L152.5,683.5 L152.7,683.5 L152.9,683.5 L153.1,683.5 L153.3,683.5 L153.5,683.5 L153.7,683.5 L153.9,683.5 L154.1,683.5 L154.3,683.5 L154.5,683.5 L154.7,683.5 L154.9,683.5 L155.1,683.5 L155.3,683.5 L155.5,683.5 L155.7,683.5 L155.9,683.5 L156.1,683.5 L156.3,683.5 L156.5,683.5 L156.7,683.5 L156.9,683.5 L157.1,683.5 L157.3,683.5 L157.5,683.5 L157.7,683.49 L157.9,683.36 L158.1,683.23 L158.3,682.65 L158.5,681.6 L158.7,680.56 L158.9,676.58 L159.1,669.67 L159.3,662.76 L159.5,658.32 L159.7,656.33 L159.9,654.35 L160.1,652.37 L160.3,650.38 L160.5,648.4 L160.7,646.42 L160.9,644.43 L161.1,642.45 L161.3,640.47 L161.5,637.47 L161.7,634.48 L161.9,631.48 L162.1,628.49 L162.3,625.49 L162.5,622.5 L162.6,621 L162.7,626.78 L162.9,638.33 L163.1,649.89 L163.3,650.79 L163.5,651.68 L163.7,652.58 L163.9,653.48 L164.1,654.37 L164.3,655.27 L164.5,656.17 L164.7,657.15 L164.9,658.13 L165.1,659.12 L165.3,660.1 L165.5,661.08 L165.7,662.07 L165.9,663.05 L166.1,664.03 L166.3,665.01 L166.5,666 L166.7,666.98 L166.9,667.65 L167.1,668.01 L167.3,668.37 L167.5,668.73 L167.7,669.09 L167.9,669.45 L168.1,669.8 L168.3,670.65 L168.5,671.97 L168.7,673.3 L168.9,674.62 L169.1,675.95 L169.3,677.28 L169.5,678.6 L169.7,679.93 L169.9,681.25 L170.1,682.08 L170.3,682.42 L170.5,682.75 L170.7,683.09 L170.9,683.42 L171.1,683.5 L171.3,683.5 L171.5,683.5 L171.7,683.5 L171.9,683.5 L172.1,683.5 L172.3,683.5 L172.5,683.5 L172.7,683.5 L172.9,683.5 L173.1,683.5 L173.3,683.5 L173.5,683.5 L173.7,683.5 L173.9,683.5 L174.1,683.5 L174.3,683.5 L174.5,683.5 L174.7,683.5 L174.9,683.5 L175.1,683.5 L175.3,683.5 L175.5,683.5 L175.7,683.5 L175.9,683.5 L176.1,683.5 L176.3,683.5 L176.5,683.5 L176.7,683.5 L176.9,683.5 L177.1,683.5 L177.3,683.5 L177.5,683.5 L177.7,683.47 L177.9,683.34 L178.1,683.21 L178.3,682.59 L178.5,681.5 L178.7,680.4 L178.9,676.23 L179.1,668.99 L179.3,661.76 L179.5,657.1 L179.7,655.02 L179.9,652.94 L180.1,650.87 L180.3,648.79 L180.5,646.71 L180.7,644.63 L180.9,642.55 L181.1,640.48 L181.3,638.4 L181.5,635.26 L181.7,632.12 L181.9,628.98 L182.1,625.85 L182.3,622.71 L182.5,619.57 L182.6,618 L182.7,624.05 L182.9,636.16 L183.1,648.27 L183.3,649.21 L183.5,650.15 L183.7,651.09 L183.9,652.03 L184.1,652.97 L184.3,653.91 L184.5,654.85 L184.7,655.88 L184.9,656.91 L185.1,657.94 L185.3,658.97 L185.5,660 L185.7,661.03 L185.9,662.06 L186.1,663.09 L186.3,664.12 L186.5,665.15 L186.7,666.18 L186.9,666.88 L187.1,667.26 L187.3,667.63 L187.5,668.01 L187.7,668.38 L187.9,668.76 L188.1,669.14 L188.3,670.02 L188.5,671.41 L188.7,672.8 L188.9,674.19 L189.1,675.58 L189.3,676.96 L189.5,678.35 L189.7,679.74 L189.9,681.13 L190.1,682 L190.3,682.35 L190.5,682.7 L190.7,683.05 L190.9,683.41 L191.1,683.49 L191.3,683.5 L191.5,683.5 L191.7,683.5 L191.9,683.5 L192.1,683.5 L192.3,683.5 L192.5,683.5 L192.7,683.5 L192.9,683.5 L193.1,683.5 L193.3,683.5 L193.5,683.5 L193.7,683.5 L193.9,683.5 L194.1,683.5 L194.3,683.5 L194.5,683.5 L194.7,683.5 L194.9,683.5 L195.1,683.5 L195.3,683.5 L195.5,683.5 L195.7,683.5 L195.9,683.5 L196.1,683.5 L196.3,683.5 L196.5,683.5 L196.7,683.5 L196.9,683.5 L197.1,683.5 L197.3,683.5 L197.5,683.47 L197.7,683.34 L197.9,683.21 L198.1,682.6 L198.3,681.5 L198.5,680.41 L198.7,676.26 L198.9,669.04 L199.1,661.82 L199.3,657.18 L199.5,655.11 L199.7,653.04 L199.9,650.97 L200.1,648.89 L200.3,646.82 L200.5,644.75 L200.7,642.68 L200.9,640.61 L201.1,638.54 L201.3,635.41 L201.5,632.28 L201.7,629.15 L201.9,626.02 L202.1,622.89 L202.3,619.76 L202.4,618.2 L202.5,624.24 L202.7,636.31 L202.9,648.38 L203.1,649.31 L203.3,650.25 L203.5,651.19 L203.7,652.12 L203.9,653.06 L204.1,654 L204.3,654.94 L204.5,655.96 L204.7,656.99 L204.9,658.02 L205.1,659.04 L205.3,660.07 L205.5,661.1 L205.7,662.12 L205.9,663.15 L206.1,664.18 L206.3,665.2 L206.5,666.23 L206.7,666.93 L206.9,667.31 L207.1,667.68 L207.3,668.06 L207.5,668.43 L207.7,668.81 L207.9,669.18 L208.1,670.06 L208.3,671.45 L208.5,672.83 L208.7,674.22 L208.9,675.6 L209.1,676.98 L209.3,678.37 L209.5,679.75 L209.7,681.14 L209.9,682.01 L210.1,682.36 L210.3,682.71 L210.5,683.06 L210.7,683.41 L210.9,683.49 L211.1,683.5 L211.3,683.5 L211.5,683.5 L211.7,683.5 L211.9,683.5 L212.1,683.5 L212.3,683.5 L212.5,683.5 L212.7,683.5 L212.9,683.5 L213.1,683.5 L213.3,683.5 L213.5,683.5 L213.7,683.5 L213.9,683.5 L214.1,683.5 L214.3,683.5 L214.5,683.5 L214.7,683.5 L214.9,683.5 L215.1,683.5 L215.3,683.5 L215.5,683.5 L215.7,683.5 L215.9,683.5 L216.1,683.5 L216.3,683.5 L216.5,683.5 L216.7,683.5 L216.9,683.5 L217.1,683.5 L217.3,683.5 L217.5,683.44 L217.7,683.31 L217.9,683.18 L218.1,682.32 L218.3,681.23 L218.5,680.14 L218.7,674.45 L218.9,667.24 L219.1,660.02 L219.3,656.66 L219.5,654.59 L219.7,652.52 L219.9,650.45 L220.1,648.38 L220.3,646.3 L220.5,644.23 L220.7,642.16 L220.9,640.09 L221.1,637.75 L221.3,634.63 L221.4,683.8 Z" fill="url(#gfi)" stroke="none"/>
<path d="M98.5,683.24 L98.7,682.65 L98.9,681.61 L99.1,680.57 L99.3,676.6 L99.5,669.71 L99.7,662.83 L99.9,658.4 L100.1,656.42 L100.3,654.44 L100.5,652.47 L100.7,650.49 L100.9,648.51 L101.1,646.54 L101.3,644.56 L101.5,642.58 L101.7,640.61 L101.9,637.62 L102.1,634.63 L102.3,631.65 L102.5,628.66 L102.7,625.68 L102.9,622.69 L103,621.2 L103.1,626.96 L103.3,638.48 L103.5,650 L103.7,650.89 L103.9,651.78 L104.1,652.68 L104.3,653.57 L104.5,654.47 L104.7,655.36 L104.9,656.26 L105.1,657.24 L105.3,658.22 L105.5,659.2 L105.7,660.18 L105.9,661.16 L106.1,662.13 L106.3,663.11 L106.5,664.09 L106.7,665.07 L106.9,666.05 L107.1,667.03 L107.3,667.7 L107.5,668.06 L107.7,668.42 L107.9,668.78 L108.1,669.13 L108.3,669.49 L108.5,669.85 L108.7,670.69 L108.9,672.01 L109.1,673.33 L109.3,674.65 L109.5,675.98 L109.7,677.3 L109.9,678.62 L110.1,679.94 L110.3,681.26 L110.5,682.09 L110.7,682.42 L110.9,682.76 L111.1,683.09 L111.3,683.42 L111.5,683.5 L111.7,683.5 L111.9,683.5 L112.1,683.5 L112.3,683.5 L112.5,683.5 L112.7,683.5 L112.9,683.5 L113.1,683.5 L113.3,683.5 L113.5,683.5 L113.7,683.5 L113.9,683.5 L114.1,683.5 L114.3,683.5 L114.5,683.5 L114.7,683.5 L114.9,683.5 L115.1,683.5 L115.3,683.5 L115.5,683.5 L115.7,683.5 L115.9,683.5 L116.1,683.5 L116.3,683.5 L116.5,683.5 L116.7,683.5 L116.9,683.5 L117.1,683.5 L117.3,683.5 L117.5,683.5 L117.7,683.48 L117.9,683.36 L118.1,683.23 L118.3,682.64 L118.5,681.59 L118.7,680.53 L118.9,676.53 L119.1,669.58 L119.3,662.63 L119.5,658.15 L119.7,656.16 L119.9,654.16 L120.1,652.17 L120.3,650.17 L120.5,648.18 L120.7,646.18 L120.9,644.18 L121.1,642.19 L121.3,640.19 L121.5,637.18 L121.7,634.16 L121.9,631.15 L122.1,628.14 L122.3,625.12 L122.5,622.11 L122.6,620.6 L122.7,626.41 L122.9,638.04 L123.1,649.67 L123.3,650.57 L123.5,651.48 L123.7,652.38 L123.9,653.28 L124.1,654.19 L124.3,655.09 L124.5,655.99 L124.7,656.98 L124.9,657.97 L125.1,658.96 L125.3,659.95 L125.5,660.94 L125.7,661.93 L125.9,662.92 L126.1,663.91 L126.3,664.89 L126.5,665.88 L126.7,666.87 L126.9,667.55 L127.1,667.91 L127.3,668.27 L127.5,668.63 L127.7,668.99 L127.9,669.35 L128.1,669.72 L128.3,670.56 L128.5,671.9 L128.7,673.23 L128.9,674.57 L129.1,675.9 L129.3,677.23 L129.5,678.57 L129.7,679.9 L129.9,681.24 L130.1,682.07 L130.3,682.41 L130.5,682.75 L130.7,683.08 L130.9,683.42 L131.1,683.5 L131.3,683.5 L131.5,683.5 L131.7,683.5 L131.9,683.5 L132.1,683.5 L132.3,683.5 L132.5,683.5 L132.7,683.5 L132.9,683.5 L133.1,683.5 L133.3,683.5 L133.5,683.5 L133.7,683.5 L133.9,683.5 L134.1,683.5 L134.3,683.5 L134.5,683.5 L134.7,683.5 L134.9,683.5 L135.1,683.5 L135.3,683.5 L135.5,683.5 L135.7,683.5 L135.9,683.5 L136.1,683.5 L136.3,683.5 L136.5,683.5 L136.7,683.5 L136.9,683.5 L137.1,683.5 L137.3,683.5 L137.5,683.5 L137.7,683.5 L137.9,683.5 L138.1,683.48 L138.3,683.35 L138.5,683.23 L138.7,682.63 L138.9,681.57 L139.1,680.51 L139.3,676.49 L139.5,669.49 L139.7,662.49 L139.9,657.99 L140.1,655.98 L140.3,653.97 L140.5,651.97 L140.7,649.96 L140.9,647.95 L141.1,645.94 L141.3,643.93 L141.5,641.92 L141.7,639.92 L141.9,636.88 L142.1,633.85 L142.3,630.82 L142.5,627.78 L142.7,624.75 L142.9,621.72 L143,620.2 L143.1,626.05 L143.3,637.75 L143.5,649.46 L143.7,650.36 L143.9,651.27 L144.1,652.18 L144.3,653.09 L144.5,654 L144.7,654.91 L144.9,655.82 L145.1,656.81 L145.3,657.81 L145.5,658.8 L145.7,659.8 L145.9,660.79 L146.1,661.79 L146.3,662.78 L146.5,663.78 L146.7,664.78 L146.9,665.77 L147.1,666.77 L147.3,667.45 L147.5,667.81 L147.7,668.17 L147.9,668.54 L148.1,668.9 L148.3,669.26 L148.5,669.63 L148.7,670.48 L148.9,671.82 L149.1,673.16 L149.3,674.51 L149.5,675.85 L149.7,677.19 L149.9,678.54 L150.1,679.88 L150.3,681.22 L150.5,682.06 L150.7,682.4 L150.9,682.74 L151.1,683.08 L151.3,683.42 L151.5,683.5 L151.7,683.5 L151.9,683.5 L152.1,683.5 L152.3,683.5 L152.5,683.5 L152.7,683.5 L152.9,683.5 L153.1,683.5 L153.3,683.5 L153.5,683.5 L153.7,683.5 L153.9,683.5 L154.1,683.5 L154.3,683.5 L154.5,683.5 L154.7,683.5 L154.9,683.5 L155.1,683.5 L155.3,683.5 L155.5,683.5 L155.7,683.5 L155.9,683.5 L156.1,683.5 L156.3,683.5 L156.5,683.5 L156.7,683.5 L156.9,683.5 L157.1,683.5 L157.3,683.5 L157.5,683.5 L157.7,683.49 L157.9,683.36 L158.1,683.23 L158.3,682.65 L158.5,681.6 L158.7,680.56 L158.9,676.58 L159.1,669.67 L159.3,662.76 L159.5,658.32 L159.7,656.33 L159.9,654.35 L160.1,652.37 L160.3,650.38 L160.5,648.4 L160.7,646.42 L160.9,644.43 L161.1,642.45 L161.3,640.47 L161.5,637.47 L161.7,634.48 L161.9,631.48 L162.1,628.49 L162.3,625.49 L162.5,622.5 L162.6,621 L162.7,626.78 L162.9,638.33 L163.1,649.89 L163.3,650.79 L163.5,651.68 L163.7,652.58 L163.9,653.48 L164.1,654.37 L164.3,655.27 L164.5,656.17 L164.7,657.15 L164.9,658.13 L165.1,659.12 L165.3,660.1 L165.5,661.08 L165.7,662.07 L165.9,663.05 L166.1,664.03 L166.3,665.01 L166.5,666 L166.7,666.98 L166.9,667.65 L167.1,668.01 L167.3,668.37 L167.5,668.73 L167.7,669.09 L167.9,669.45 L168.1,669.8 L168.3,670.65 L168.5,671.97 L168.7,673.3 L168.9,674.62 L169.1,675.95 L169.3,677.28 L169.5,678.6 L169.7,679.93 L169.9,681.25 L170.1,682.08 L170.3,682.42 L170.5,682.75 L170.7,683.09 L170.9,683.42 L171.1,683.5 L171.3,683.5 L171.5,683.5 L171.7,683.5 L171.9,683.5 L172.1,683.5 L172.3,683.5 L172.5,683.5 L172.7,683.5 L172.9,683.5 L173.1,683.5 L173.3,683.5 L173.5,683.5 L173.7,683.5 L173.9,683.5 L174.1,683.5 L174.3,683.5 L174.5,683.5 L174.7,683.5 L174.9,683.5 L175.1,683.5 L175.3,683.5 L175.5,683.5 L175.7,683.5 L175.9,683.5 L176.1,683.5 L176.3,683.5 L176.5,683.5 L176.7,683.5 L176.9,683.5 L177.1,683.5 L177.3,683.5 L177.5,683.5 L177.7,683.47 L177.9,683.34 L178.1,683.21 L178.3,682.59 L178.5,681.5 L178.7,680.4 L178.9,676.23 L179.1,668.99 L179.3,661.76 L179.5,657.1 L179.7,655.02 L179.9,652.94 L180.1,650.87 L180.3,648.79 L180.5,646.71 L180.7,644.63 L180.9,642.55 L181.1,640.48 L181.3,638.4 L181.5,635.26 L181.7,632.12 L181.9,628.98 L182.1,625.85 L182.3,622.71 L182.5,619.57 L182.6,618 L182.7,624.05 L182.9,636.16 L183.1,648.27 L183.3,649.21 L183.5,650.15 L183.7,651.09 L183.9,652.03 L184.1,652.97 L184.3,653.91 L184.5,654.85 L184.7,655.88 L184.9,656.91 L185.1,657.94 L185.3,658.97 L185.5,660 L185.7,661.03 L185.9,662.06 L186.1,663.09 L186.3,664.12 L186.5,665.15 L186.7,666.18 L186.9,666.88 L187.1,667.26 L187.3,667.63 L187.5,668.01 L187.7,668.38 L187.9,668.76 L188.1,669.14 L188.3,670.02 L188.5,671.41 L188.7,672.8 L188.9,674.19 L189.1,675.58 L189.3,676.96 L189.5,678.35 L189.7,679.74 L189.9,681.13 L190.1,682 L190.3,682.35 L190.5,682.7 L190.7,683.05 L190.9,683.41 L191.1,683.49 L191.3,683.5 L191.5,683.5 L191.7,683.5 L191.9,683.5 L192.1,683.5 L192.3,683.5 L192.5,683.5 L192.7,683.5 L192.9,683.5 L193.1,683.5 L193.3,683.5 L193.5,683.5 L193.7,683.5 L193.9,683.5 L194.1,683.5 L194.3,683.5 L194.5,683.5 L194.7,683.5 L194.9,683.5 L195.1,683.5 L195.3,683.5 L195.5,683.5 L195.7,683.5 L195.9,683.5 L196.1,683.5 L196.3,683.5 L196.5,683.5 L196.7,683.5 L196.9,683.5 L197.1,683.5 L197.3,683.5 L197.5,683.47 L197.7,683.34 L197.9,683.21 L198.1,682.6 L198.3,681.5 L198.5,680.41 L198.7,676.26 L198.9,669.04 L199.1,661.82 L199.3,657.18 L199.5,655.11 L199.7,653.04 L199.9,650.97 L200.1,648.89 L200.3,646.82 L200.5,644.75 L200.7,642.68 L200.9,640.61 L201.1,638.54 L201.3,635.41 L201.5,632.28 L201.7,629.15 L201.9,626.02 L202.1,622.89 L202.3,619.76 L202.4,618.2 L202.5,624.24 L202.7,636.31 L202.9,648.38 L203.1,649.31 L203.3,650.25 L203.5,651.19 L203.7,652.12 L203.9,653.06 L204.1,654 L204.3,654.94 L204.5,655.96 L204.7,656.99 L204.9,658.02 L205.1,659.04 L205.3,660.07 L205.5,661.1 L205.7,662.12 L205.9,663.15 L206.1,664.18 L206.3,665.2 L206.5,666.23 L206.7,666.93 L206.9,667.31 L207.1,667.68 L207.3,668.06 L207.5,668.43 L207.7,668.81 L207.9,669.18 L208.1,670.06 L208.3,671.45 L208.5,672.83 L208.7,674.22 L208.9,675.6 L209.1,676.98 L209.3,678.37 L209.5,679.75 L209.7,681.14 L209.9,682.01 L210.1,682.36 L210.3,682.71 L210.5,683.06 L210.7,683.41 L210.9,683.49 L211.1,683.5 L211.3,683.5 L211.5,683.5 L211.7,683.5 L211.9,683.5 L212.1,683.5 L212.3,683.5 L212.5,683.5 L212.7,683.5 L212.9,683.5 L213.1,683.5 L213.3,683.5 L213.5,683.5 L213.7,683.5 L213.9,683.5 L214.1,683.5 L214.3,683.5 L214.5,683.5 L214.7,683.5 L214.9,683.5 L215.1,683.5 L215.3,683.5 L215.5,683.5 L215.7,683.5 L215.9,683.5 L216.1,683.5 L216.3,683.5 L216.5,683.5 L216.7,683.5 L216.9,683.5 L217.1,683.5 L217.3,683.5 L217.5,683.44 L217.7,683.31 L217.9,683.18 L218.1,682.32 L218.3,681.23 L218.5,680.14 L218.7,674.45 L218.9,667.24 L219.1,660.02 L219.3,656.66 L219.5,654.59 L219.7,652.52 L219.9,650.45 L220.1,648.38 L220.3,646.3 L220.5,644.23 L220.7,642.16 L220.9,640.09 L221.1,637.75 L221.3,634.63" stroke="#f8409f" stroke-width="1.3" fill="none" stroke-linejoin="round"/>
</g>
<line x1="95.5" y1="683.2" x2="98.5" y2="683.2" stroke="#555" stroke-width="0.8" />
<text x="93.1" y="685.1" font-size="7" text-anchor="end" fill="#000" >0</text>
<line x1="95.5" y1="662.47" x2="98.5" y2="662.47" stroke="#555" stroke-width="0.8" />
<text x="93.1" y="664.37" font-size="7" text-anchor="end" fill="#000" >2500</text>
<line x1="95.5" y1="641.74" x2="98.5" y2="641.74" stroke="#555" stroke-width="0.8" />
<text x="93.1" y="643.63" font-size="7" text-anchor="end" fill="#000" >5000</text>
<line x1="95.5" y1="621" x2="98.5" y2="621" stroke="#555" stroke-width="0.8" />
<text x="93.1" y="622.9" font-size="7" text-anchor="end" fill="#000" >7500</text>
<line x1="96.9" y1="672.83" x2="98.5" y2="672.83" stroke="#555" stroke-width="0.8" />
<line x1="96.9" y1="652.1" x2="98.5" y2="652.1" stroke="#555" stroke-width="0.8" />
<line x1="96.9" y1="631.37" x2="98.5" y2="631.37" stroke="#555" stroke-width="0.8" />
<line x1="96.9" y1="610.64" x2="98.5" y2="610.64" stroke="#555" stroke-width="0.8" />
<line x1="98.5" y1="688.6" x2="98.5" y2="691.6" stroke="#555" stroke-width="0.8" />
<text x="98.5" y="699.6" font-size="7" text-anchor="middle" fill="#000" >2500</text>
<line x1="139.47" y1="688.6" x2="139.47" y2="691.6" stroke="#555" stroke-width="0.8" />
<text x="139.47" y="699.6" font-size="7" text-anchor="middle" fill="#000" >2510</text>
<line x1="180.43" y1="688.6" x2="180.43" y2="691.6" stroke="#555" stroke-width="0.8" />
<text x="180.43" y="699.6" font-size="7" text-anchor="middle" fill="#000" >2520</text>
<line x1="221.4" y1="688.6" x2="221.4" y2="691.6" stroke="#555" stroke-width="0.8" />
<text x="221.4" y="699.6" font-size="7" text-anchor="middle" fill="#000" >2530</text>
<line x1="118.98" y1="688.6" x2="118.98" y2="690.4" stroke="#555" stroke-width="0.8" />
<line x1="159.95" y1="688.6" x2="159.95" y2="690.4" stroke="#555" stroke-width="0.8" />
<line x1="200.92" y1="688.6" x2="200.92" y2="690.4" stroke="#555" stroke-width="0.8" />
<rect x="298.5" y="607.8" width="121.8" height="80.2" fill="#fff" stroke="#7a7a7a" stroke-width="0.9" />
<g clip-path="url(#ci2)">
<path d="M298.5,683.8 L298.5,683.5 L298.7,683.5 L298.9,683.5 L299.1,683.5 L299.3,683.5 L299.5,683.5 L299.7,683.5 L299.9,683.5 L300.1,683.5 L300.3,683.5 L300.5,683.5 L300.7,683.5 L300.9,683.5 L301.1,683.5 L301.3,683.5 L301.5,683.5 L301.7,683.5 L301.9,683.41 L302.1,683.28 L302.3,683.15 L302.5,682.07 L302.7,680.99 L302.9,679.91 L303.1,672.78 L303.3,665.66 L303.5,658.53 L303.7,656.48 L303.9,654.44 L304.1,652.39 L304.3,650.34 L304.5,648.3 L304.7,646.25 L304.9,644.2 L305.1,642.16 L305.3,640.11 L305.5,637.54 L305.7,634.45 L305.9,631.36 L306.1,628.27 L306.3,625.18 L306.5,622.09 L306.7,619 L306.7,619 L306.9,630.92 L307.1,642.85 L307.3,649.27 L307.5,650.2 L307.7,651.12 L307.9,652.05 L308.1,652.97 L308.3,653.9 L308.5,654.83 L308.7,655.8 L308.9,656.81 L309.1,657.82 L309.3,658.84 L309.5,659.85 L309.7,660.87 L309.9,661.88 L310.1,662.89 L310.3,663.91 L310.5,664.92 L310.7,665.94 L310.9,666.95 L311.1,667.32 L311.3,667.69 L311.5,668.06 L311.7,668.43 L311.9,668.8 L312.1,669.17 L312.3,669.54 L312.5,670.91 L312.7,672.28 L312.9,673.65 L313.1,675.02 L313.3,676.38 L313.5,677.75 L313.7,679.12 L313.9,680.49 L314.1,681.86 L314.3,682.2 L314.5,682.55 L314.7,682.89 L314.9,683.24 L315.1,683.45 L315.3,683.5 L315.5,683.5 L315.7,683.5 L315.9,683.5 L316.1,683.5 L316.3,683.5 L316.5,683.5 L316.7,683.5 L316.9,683.5 L317.1,683.5 L317.3,683.5 L317.5,683.5 L317.7,683.5 L317.9,683.5 L318.1,683.5 L318.3,683.5 L318.5,683.5 L318.7,683.5 L318.9,683.5 L319.1,683.5 L319.3,683.5 L319.5,683.5 L319.7,683.5 L319.9,683.5 L320.1,683.5 L320.3,683.5 L320.5,683.5 L320.7,683.5 L320.9,683.5 L321.1,683.5 L321.3,683.5 L321.5,683.5 L321.7,683.47 L321.9,683.34 L322.1,683.21 L322.3,682.6 L322.5,681.51 L322.7,680.42 L322.9,676.28 L323.1,669.09 L323.3,661.89 L323.5,657.26 L323.7,655.2 L323.9,653.13 L324.1,651.07 L324.3,649 L324.5,646.94 L324.7,644.87 L324.9,642.8 L325.1,640.74 L325.3,638.67 L325.5,635.55 L325.7,632.44 L325.9,629.32 L326.1,626.2 L326.3,623.08 L326.5,619.96 L326.6,618.4 L326.7,624.42 L326.9,636.45 L327.1,648.48 L327.3,649.42 L327.5,650.35 L327.7,651.29 L327.9,652.22 L328.1,653.16 L328.3,654.09 L328.5,655.02 L328.7,656.05 L328.9,657.07 L329.1,658.09 L329.3,659.12 L329.5,660.14 L329.7,661.17 L329.9,662.19 L330.1,663.21 L330.3,664.24 L330.5,665.26 L330.7,666.28 L330.9,666.98 L331.1,667.36 L331.3,667.73 L331.5,668.1 L331.7,668.48 L331.9,668.85 L332.1,669.23 L332.3,670.1 L332.5,671.48 L332.7,672.86 L332.9,674.24 L333.1,675.62 L333.3,677.01 L333.5,678.39 L333.7,679.77 L333.9,681.15 L334.1,682.01 L334.3,682.36 L334.5,682.71 L334.7,683.06 L334.9,683.41 L335.1,683.49 L335.3,683.5 L335.5,683.5 L335.7,683.5 L335.9,683.5 L336.1,683.5 L336.3,683.5 L336.5,683.5 L336.7,683.5 L336.9,683.5 L337.1,683.5 L337.3,683.5 L337.5,683.5 L337.7,683.5 L337.9,683.5 L338.1,683.5 L338.3,683.5 L338.5,683.5 L338.7,683.5 L338.9,683.5 L339.1,683.5 L339.3,683.5 L339.5,683.5 L339.7,683.5 L339.9,683.5 L340.1,683.5 L340.3,683.5 L340.5,683.5 L340.7,683.5 L340.9,683.5 L341.1,683.5 L341.3,683.5 L341.5,683.47 L341.7,683.33 L341.9,683.2 L342.1,682.57 L342.3,681.46 L342.5,680.34 L342.7,676.11 L342.9,668.75 L343.1,661.39 L343.3,656.65 L343.5,654.54 L343.7,652.43 L343.9,650.31 L344.1,648.2 L344.3,646.09 L344.5,643.98 L344.7,641.86 L344.9,639.75 L345.1,637.64 L345.3,634.45 L345.5,631.26 L345.7,628.07 L345.9,624.88 L346.1,621.69 L346.3,618.5 L346.4,616.9 L346.5,623.05 L346.7,635.36 L346.9,647.67 L347.1,648.63 L347.3,649.59 L347.5,650.54 L347.7,651.5 L347.9,652.45 L348.1,653.41 L348.3,654.36 L348.5,655.41 L348.7,656.46 L348.9,657.51 L349.1,658.55 L349.3,659.6 L349.5,660.65 L349.7,661.69 L349.9,662.74 L350.1,663.79 L350.3,664.84 L350.5,665.88 L350.7,666.6 L350.9,666.98 L351.1,667.36 L351.3,667.74 L351.5,668.13 L351.7,668.51 L351.9,668.89 L352.1,669.79 L352.3,671.2 L352.5,672.61 L352.7,674.03 L352.9,675.44 L353.1,676.85 L353.3,678.26 L353.5,679.67 L353.7,681.09 L353.9,681.97 L354.1,682.33 L354.3,682.68 L354.5,683.04 L354.7,683.4 L354.9,683.49 L355.1,683.5 L355.3,683.5 L355.5,683.5 L355.7,683.5 L355.9,683.5 L356.1,683.5 L356.3,683.5 L356.5,683.5 L356.7,683.5 L356.9,683.5 L357.1,683.5 L357.3,683.5 L357.5,683.5 L357.7,683.5 L357.9,683.5 L358.1,683.5 L358.3,683.5 L358.5,683.5 L358.7,683.5 L358.9,683.5 L359.1,683.5 L359.3,683.5 L359.5,683.5 L359.7,683.5 L359.9,683.5 L360.1,683.5 L360.3,683.5 L360.5,683.5 L360.7,683.5 L360.9,683.5 L361.1,683.5 L361.3,683.5 L361.5,683.5 L361.7,683.47 L361.9,683.33 L362.1,683.2 L362.3,682.57 L362.5,681.46 L362.7,680.34 L362.9,676.11 L363.1,668.75 L363.3,661.39 L363.5,656.65 L363.7,654.54 L363.9,652.43 L364.1,650.31 L364.3,648.2 L364.5,646.09 L364.7,643.98 L364.9,641.86 L365.1,639.75 L365.3,637.64 L365.5,634.45 L365.7,631.26 L365.9,628.07 L366.1,624.88 L366.3,621.69 L366.5,618.5 L366.6,616.9 L366.7,623.05 L366.9,635.36 L367.1,647.67 L367.3,648.63 L367.5,649.59 L367.7,650.54 L367.9,651.5 L368.1,652.45 L368.3,653.41 L368.5,654.36 L368.7,655.41 L368.9,656.46 L369.1,657.51 L369.3,658.55 L369.5,659.6 L369.7,660.65 L369.9,661.69 L370.1,662.74 L370.3,663.79 L370.5,664.84 L370.7,665.88 L370.9,666.6 L371.1,666.98 L371.3,667.36 L371.5,667.74 L371.7,668.13 L371.9,668.51 L372.1,668.89 L372.3,669.79 L372.5,671.2 L372.7,672.61 L372.9,674.03 L373.1,675.44 L373.3,676.85 L373.5,678.26 L373.7,679.67 L373.9,681.09 L374.1,681.97 L374.3,682.33 L374.5,682.68 L374.7,683.04 L374.9,683.4 L375.1,683.49 L375.3,683.5 L375.5,683.5 L375.7,683.5 L375.9,683.5 L376.1,683.5 L376.3,683.5 L376.5,683.5 L376.7,683.5 L376.9,683.5 L377.1,683.5 L377.3,683.5 L377.5,683.5 L377.7,683.5 L377.9,683.5 L378.1,683.5 L378.3,683.5 L378.5,683.5 L378.7,683.5 L378.9,683.5 L379.1,683.5 L379.3,683.5 L379.5,683.5 L379.7,683.5 L379.9,683.5 L380.1,683.5 L380.3,683.5 L380.5,683.5 L380.7,683.5 L380.9,683.5 L381.1,683.5 L381.3,683.5 L381.5,683.47 L381.7,683.34 L381.9,683.2 L382.1,682.58 L382.3,681.48 L382.5,680.37 L382.7,676.18 L382.9,668.88 L383.1,661.59 L383.3,656.9 L383.5,654.8 L383.7,652.71 L383.9,650.62 L384.1,648.52 L384.3,646.43 L384.5,644.33 L384.7,642.24 L384.9,640.15 L385.1,638.05 L385.3,634.89 L385.5,631.73 L385.7,628.57 L385.9,625.41 L386.1,622.24 L386.3,619.08 L386.4,617.5 L386.5,623.6 L386.7,635.8 L386.9,648 L387.1,648.95 L387.3,649.89 L387.5,650.84 L387.7,651.79 L387.9,652.73 L388.1,653.68 L388.3,654.63 L388.5,655.67 L388.7,656.7 L388.9,657.74 L389.1,658.78 L389.3,659.82 L389.5,660.85 L389.7,661.89 L389.9,662.93 L390.1,663.97 L390.3,665.01 L390.5,666.04 L390.7,666.75 L390.9,667.13 L391.1,667.51 L391.3,667.89 L391.5,668.27 L391.7,668.65 L391.9,669.02 L392.1,669.91 L392.3,671.31 L392.5,672.71 L392.7,674.11 L392.9,675.51 L393.1,676.91 L393.3,678.31 L393.5,679.71 L393.7,681.11 L393.9,681.99 L394.1,682.34 L394.3,682.69 L394.5,683.05 L394.7,683.4 L394.9,683.49 L395.1,683.5 L395.3,683.5 L395.5,683.5 L395.7,683.5 L395.9,683.5 L396.1,683.5 L396.3,683.5 L396.5,683.5 L396.7,683.5 L396.9,683.5 L397.1,683.5 L397.3,683.5 L397.5,683.5 L397.7,683.5 L397.9,683.5 L398.1,683.5 L398.3,683.5 L398.5,683.5 L398.7,683.5 L398.9,683.5 L399.1,683.5 L399.3,683.5 L399.5,683.5 L399.7,683.5 L399.9,683.5 L400.1,683.5 L400.3,683.5 L400.5,683.5 L400.7,683.5 L400.9,683.5 L401.1,683.5 L401.3,683.5 L401.5,683.5 L401.7,683.46 L401.9,683.33 L402.1,683.2 L402.3,682.57 L402.5,681.45 L402.7,680.33 L402.9,676.07 L403.1,668.68 L403.3,661.29 L403.5,656.53 L403.7,654.41 L403.9,652.29 L404.1,650.16 L404.3,648.04 L404.5,645.92 L404.7,643.8 L404.9,641.68 L405.1,639.55 L405.3,637.43 L405.5,634.23 L405.7,631.02 L405.9,627.82 L406.1,624.61 L406.3,621.41 L406.5,618.2 L406.6,616.6 L406.7,622.78 L406.9,635.15 L407.1,647.51 L407.3,648.47 L407.5,649.43 L407.7,650.39 L407.9,651.35 L408.1,652.31 L408.3,653.27 L408.5,654.23 L408.7,655.28 L408.9,656.34 L409.1,657.39 L409.3,658.44 L409.5,659.49 L409.7,660.54 L409.9,661.59 L410.1,662.65 L410.3,663.7 L410.5,664.75 L410.7,665.8 L410.9,666.52 L411.1,666.9 L411.3,667.29 L411.5,667.67 L411.7,668.06 L411.9,668.44 L412.1,668.82 L412.3,669.73 L412.5,671.14 L412.7,672.56 L412.9,673.98 L413.1,675.4 L413.3,676.82 L413.5,678.24 L413.7,679.66 L413.9,681.07 L414.1,681.96 L414.3,682.32 L414.5,682.68 L414.7,683.04 L414.9,683.4 L415.1,683.49 L415.3,683.5 L415.5,683.5 L415.7,683.5 L415.9,683.5 L416.1,683.5 L416.3,683.5 L416.5,683.5 L416.7,683.5 L416.9,683.5 L417.1,683.5 L417.3,683.5 L417.5,683.5 L417.7,683.5 L417.9,683.5 L418.1,683.5 L418.3,683.5 L418.5,683.5 L418.7,683.5 L418.9,683.5 L419.1,683.5 L419.3,683.5 L419.5,683.5 L419.7,683.5 L419.9,683.5 L420.1,683.5 L420.3,683.5 L420.3,683.8 Z" fill="url(#gfi)" stroke="none"/>
<path d="M298.5,683.5 L298.7,683.5 L298.9,683.5 L299.1,683.5 L299.3,683.5 L299.5,683.5 L299.7,683.5 L299.9,683.5 L300.1,683.5 L300.3,683.5 L300.5,683.5 L300.7,683.5 L300.9,683.5 L301.1,683.5 L301.3,683.5 L301.5,683.5 L301.7,683.5 L301.9,683.41 L302.1,683.28 L302.3,683.15 L302.5,682.07 L302.7,680.99 L302.9,679.91 L303.1,672.78 L303.3,665.66 L303.5,658.53 L303.7,656.48 L303.9,654.44 L304.1,652.39 L304.3,650.34 L304.5,648.3 L304.7,646.25 L304.9,644.2 L305.1,642.16 L305.3,640.11 L305.5,637.54 L305.7,634.45 L305.9,631.36 L306.1,628.27 L306.3,625.18 L306.5,622.09 L306.7,619 L306.7,619 L306.9,630.92 L307.1,642.85 L307.3,649.27 L307.5,650.2 L307.7,651.12 L307.9,652.05 L308.1,652.97 L308.3,653.9 L308.5,654.83 L308.7,655.8 L308.9,656.81 L309.1,657.82 L309.3,658.84 L309.5,659.85 L309.7,660.87 L309.9,661.88 L310.1,662.89 L310.3,663.91 L310.5,664.92 L310.7,665.94 L310.9,666.95 L311.1,667.32 L311.3,667.69 L311.5,668.06 L311.7,668.43 L311.9,668.8 L312.1,669.17 L312.3,669.54 L312.5,670.91 L312.7,672.28 L312.9,673.65 L313.1,675.02 L313.3,676.38 L313.5,677.75 L313.7,679.12 L313.9,680.49 L314.1,681.86 L314.3,682.2 L314.5,682.55 L314.7,682.89 L314.9,683.24 L315.1,683.45 L315.3,683.5 L315.5,683.5 L315.7,683.5 L315.9,683.5 L316.1,683.5 L316.3,683.5 L316.5,683.5 L316.7,683.5 L316.9,683.5 L317.1,683.5 L317.3,683.5 L317.5,683.5 L317.7,683.5 L317.9,683.5 L318.1,683.5 L318.3,683.5 L318.5,683.5 L318.7,683.5 L318.9,683.5 L319.1,683.5 L319.3,683.5 L319.5,683.5 L319.7,683.5 L319.9,683.5 L320.1,683.5 L320.3,683.5 L320.5,683.5 L320.7,683.5 L320.9,683.5 L321.1,683.5 L321.3,683.5 L321.5,683.5 L321.7,683.47 L321.9,683.34 L322.1,683.21 L322.3,682.6 L322.5,681.51 L322.7,680.42 L322.9,676.28 L323.1,669.09 L323.3,661.89 L323.5,657.26 L323.7,655.2 L323.9,653.13 L324.1,651.07 L324.3,649 L324.5,646.94 L324.7,644.87 L324.9,642.8 L325.1,640.74 L325.3,638.67 L325.5,635.55 L325.7,632.44 L325.9,629.32 L326.1,626.2 L326.3,623.08 L326.5,619.96 L326.6,618.4 L326.7,624.42 L326.9,636.45 L327.1,648.48 L327.3,649.42 L327.5,650.35 L327.7,651.29 L327.9,652.22 L328.1,653.16 L328.3,654.09 L328.5,655.02 L328.7,656.05 L328.9,657.07 L329.1,658.09 L329.3,659.12 L329.5,660.14 L329.7,661.17 L329.9,662.19 L330.1,663.21 L330.3,664.24 L330.5,665.26 L330.7,666.28 L330.9,666.98 L331.1,667.36 L331.3,667.73 L331.5,668.1 L331.7,668.48 L331.9,668.85 L332.1,669.23 L332.3,670.1 L332.5,671.48 L332.7,672.86 L332.9,674.24 L333.1,675.62 L333.3,677.01 L333.5,678.39 L333.7,679.77 L333.9,681.15 L334.1,682.01 L334.3,682.36 L334.5,682.71 L334.7,683.06 L334.9,683.41 L335.1,683.49 L335.3,683.5 L335.5,683.5 L335.7,683.5 L335.9,683.5 L336.1,683.5 L336.3,683.5 L336.5,683.5 L336.7,683.5 L336.9,683.5 L337.1,683.5 L337.3,683.5 L337.5,683.5 L337.7,683.5 L337.9,683.5 L338.1,683.5 L338.3,683.5 L338.5,683.5 L338.7,683.5 L338.9,683.5 L339.1,683.5 L339.3,683.5 L339.5,683.5 L339.7,683.5 L339.9,683.5 L340.1,683.5 L340.3,683.5 L340.5,683.5 L340.7,683.5 L340.9,683.5 L341.1,683.5 L341.3,683.5 L341.5,683.47 L341.7,683.33 L341.9,683.2 L342.1,682.57 L342.3,681.46 L342.5,680.34 L342.7,676.11 L342.9,668.75 L343.1,661.39 L343.3,656.65 L343.5,654.54 L343.7,652.43 L343.9,650.31 L344.1,648.2 L344.3,646.09 L344.5,643.98 L344.7,641.86 L344.9,639.75 L345.1,637.64 L345.3,634.45 L345.5,631.26 L345.7,628.07 L345.9,624.88 L346.1,621.69 L346.3,618.5 L346.4,616.9 L346.5,623.05 L346.7,635.36 L346.9,647.67 L347.1,648.63 L347.3,649.59 L347.5,650.54 L347.7,651.5 L347.9,652.45 L348.1,653.41 L348.3,654.36 L348.5,655.41 L348.7,656.46 L348.9,657.51 L349.1,658.55 L349.3,659.6 L349.5,660.65 L349.7,661.69 L349.9,662.74 L350.1,663.79 L350.3,664.84 L350.5,665.88 L350.7,666.6 L350.9,666.98 L351.1,667.36 L351.3,667.74 L351.5,668.13 L351.7,668.51 L351.9,668.89 L352.1,669.79 L352.3,671.2 L352.5,672.61 L352.7,674.03 L352.9,675.44 L353.1,676.85 L353.3,678.26 L353.5,679.67 L353.7,681.09 L353.9,681.97 L354.1,682.33 L354.3,682.68 L354.5,683.04 L354.7,683.4 L354.9,683.49 L355.1,683.5 L355.3,683.5 L355.5,683.5 L355.7,683.5 L355.9,683.5 L356.1,683.5 L356.3,683.5 L356.5,683.5 L356.7,683.5 L356.9,683.5 L357.1,683.5 L357.3,683.5 L357.5,683.5 L357.7,683.5 L357.9,683.5 L358.1,683.5 L358.3,683.5 L358.5,683.5 L358.7,683.5 L358.9,683.5 L359.1,683.5 L359.3,683.5 L359.5,683.5 L359.7,683.5 L359.9,683.5 L360.1,683.5 L360.3,683.5 L360.5,683.5 L360.7,683.5 L360.9,683.5 L361.1,683.5 L361.3,683.5 L361.5,683.5 L361.7,683.47 L361.9,683.33 L362.1,683.2 L362.3,682.57 L362.5,681.46 L362.7,680.34 L362.9,676.11 L363.1,668.75 L363.3,661.39 L363.5,656.65 L363.7,654.54 L363.9,652.43 L364.1,650.31 L364.3,648.2 L364.5,646.09 L364.7,643.98 L364.9,641.86 L365.1,639.75 L365.3,637.64 L365.5,634.45 L365.7,631.26 L365.9,628.07 L366.1,624.88 L366.3,621.69 L366.5,618.5 L366.6,616.9 L366.7,623.05 L366.9,635.36 L367.1,647.67 L367.3,648.63 L367.5,649.59 L367.7,650.54 L367.9,651.5 L368.1,652.45 L368.3,653.41 L368.5,654.36 L368.7,655.41 L368.9,656.46 L369.1,657.51 L369.3,658.55 L369.5,659.6 L369.7,660.65 L369.9,661.69 L370.1,662.74 L370.3,663.79 L370.5,664.84 L370.7,665.88 L370.9,666.6 L371.1,666.98 L371.3,667.36 L371.5,667.74 L371.7,668.13 L371.9,668.51 L372.1,668.89 L372.3,669.79 L372.5,671.2 L372.7,672.61 L372.9,674.03 L373.1,675.44 L373.3,676.85 L373.5,678.26 L373.7,679.67 L373.9,681.09 L374.1,681.97 L374.3,682.33 L374.5,682.68 L374.7,683.04 L374.9,683.4 L375.1,683.49 L375.3,683.5 L375.5,683.5 L375.7,683.5 L375.9,683.5 L376.1,683.5 L376.3,683.5 L376.5,683.5 L376.7,683.5 L376.9,683.5 L377.1,683.5 L377.3,683.5 L377.5,683.5 L377.7,683.5 L377.9,683.5 L378.1,683.5 L378.3,683.5 L378.5,683.5 L378.7,683.5 L378.9,683.5 L379.1,683.5 L379.3,683.5 L379.5,683.5 L379.7,683.5 L379.9,683.5 L380.1,683.5 L380.3,683.5 L380.5,683.5 L380.7,683.5 L380.9,683.5 L381.1,683.5 L381.3,683.5 L381.5,683.47 L381.7,683.34 L381.9,683.2 L382.1,682.58 L382.3,681.48 L382.5,680.37 L382.7,676.18 L382.9,668.88 L383.1,661.59 L383.3,656.9 L383.5,654.8 L383.7,652.71 L383.9,650.62 L384.1,648.52 L384.3,646.43 L384.5,644.33 L384.7,642.24 L384.9,640.15 L385.1,638.05 L385.3,634.89 L385.5,631.73 L385.7,628.57 L385.9,625.41 L386.1,622.24 L386.3,619.08 L386.4,617.5 L386.5,623.6 L386.7,635.8 L386.9,648 L387.1,648.95 L387.3,649.89 L387.5,650.84 L387.7,651.79 L387.9,652.73 L388.1,653.68 L388.3,654.63 L388.5,655.67 L388.7,656.7 L388.9,657.74 L389.1,658.78 L389.3,659.82 L389.5,660.85 L389.7,661.89 L389.9,662.93 L390.1,663.97 L390.3,665.01 L390.5,666.04 L390.7,666.75 L390.9,667.13 L391.1,667.51 L391.3,667.89 L391.5,668.27 L391.7,668.65 L391.9,669.02 L392.1,669.91 L392.3,671.31 L392.5,672.71 L392.7,674.11 L392.9,675.51 L393.1,676.91 L393.3,678.31 L393.5,679.71 L393.7,681.11 L393.9,681.99 L394.1,682.34 L394.3,682.69 L394.5,683.05 L394.7,683.4 L394.9,683.49 L395.1,683.5 L395.3,683.5 L395.5,683.5 L395.7,683.5 L395.9,683.5 L396.1,683.5 L396.3,683.5 L396.5,683.5 L396.7,683.5 L396.9,683.5 L397.1,683.5 L397.3,683.5 L397.5,683.5 L397.7,683.5 L397.9,683.5 L398.1,683.5 L398.3,683.5 L398.5,683.5 L398.7,683.5 L398.9,683.5 L399.1,683.5 L399.3,683.5 L399.5,683.5 L399.7,683.5 L399.9,683.5 L400.1,683.5 L400.3,683.5 L400.5,683.5 L400.7,683.5 L400.9,683.5 L401.1,683.5 L401.3,683.5 L401.5,683.5 L401.7,683.46 L401.9,683.33 L402.1,683.2 L402.3,682.57 L402.5,681.45 L402.7,680.33 L402.9,676.07 L403.1,668.68 L403.3,661.29 L403.5,656.53 L403.7,654.41 L403.9,652.29 L404.1,650.16 L404.3,648.04 L404.5,645.92 L404.7,643.8 L404.9,641.68 L405.1,639.55 L405.3,637.43 L405.5,634.23 L405.7,631.02 L405.9,627.82 L406.1,624.61 L406.3,621.41 L406.5,618.2 L406.6,616.6 L406.7,622.78 L406.9,635.15 L407.1,647.51 L407.3,648.47 L407.5,649.43 L407.7,650.39 L407.9,651.35 L408.1,652.31 L408.3,653.27 L408.5,654.23 L408.7,655.28 L408.9,656.34 L409.1,657.39 L409.3,658.44 L409.5,659.49 L409.7,660.54 L409.9,661.59 L410.1,662.65 L410.3,663.7 L410.5,664.75 L410.7,665.8 L410.9,666.52 L411.1,666.9 L411.3,667.29 L411.5,667.67 L411.7,668.06 L411.9,668.44 L412.1,668.82 L412.3,669.73 L412.5,671.14 L412.7,672.56 L412.9,673.98 L413.1,675.4 L413.3,676.82 L413.5,678.24 L413.7,679.66 L413.9,681.07 L414.1,681.96 L414.3,682.32 L414.5,682.68 L414.7,683.04 L414.9,683.4 L415.1,683.49 L415.3,683.5 L415.5,683.5 L415.7,683.5 L415.9,683.5 L416.1,683.5 L416.3,683.5 L416.5,683.5 L416.7,683.5 L416.9,683.5 L417.1,683.5 L417.3,683.5 L417.5,683.5 L417.7,683.5 L417.9,683.5 L418.1,683.5 L418.3,683.5 L418.5,683.5 L418.7,683.5 L418.9,683.5 L419.1,683.5 L419.3,683.5 L419.5,683.5 L419.7,683.5 L419.9,683.5 L420.1,683.5 L420.3,683.5" stroke="#f8409f" stroke-width="1.3" fill="none" stroke-linejoin="round"/>
</g>
<line x1="295.5" y1="683.2" x2="298.5" y2="683.2" stroke="#555" stroke-width="0.8" />
<text x="293.1" y="685.1" font-size="7" text-anchor="end" fill="#000" >0</text>
<line x1="295.5" y1="662.47" x2="298.5" y2="662.47" stroke="#555" stroke-width="0.8" />
<text x="293.1" y="664.37" font-size="7" text-anchor="end" fill="#000" >2500</text>
<line x1="295.5" y1="641.74" x2="298.5" y2="641.74" stroke="#555" stroke-width="0.8" />
<text x="293.1" y="643.63" font-size="7" text-anchor="end" fill="#000" >5000</text>
<line x1="295.5" y1="621" x2="298.5" y2="621" stroke="#555" stroke-width="0.8" />
<text x="293.1" y="622.9" font-size="7" text-anchor="end" fill="#000" >7500</text>
<line x1="296.9" y1="672.83" x2="298.5" y2="672.83" stroke="#555" stroke-width="0.8" />
<line x1="296.9" y1="652.1" x2="298.5" y2="652.1" stroke="#555" stroke-width="0.8" />
<line x1="296.9" y1="631.37" x2="298.5" y2="631.37" stroke="#555" stroke-width="0.8" />
<line x1="296.9" y1="610.64" x2="298.5" y2="610.64" stroke="#555" stroke-width="0.8" />
<line x1="298.5" y1="688" x2="298.5" y2="691" stroke="#555" stroke-width="0.8" />
<text x="298.5" y="699.6" font-size="7" text-anchor="middle" fill="#000" >12,500</text>
<line x1="339.1" y1="688" x2="339.1" y2="691" stroke="#555" stroke-width="0.8" />
<text x="339.1" y="699.6" font-size="7" text-anchor="middle" fill="#000" >12,510</text>
<line x1="379.7" y1="688" x2="379.7" y2="691" stroke="#555" stroke-width="0.8" />
<text x="379.7" y="699.6" font-size="7" text-anchor="middle" fill="#000" >12,520</text>
<line x1="420.3" y1="688" x2="420.3" y2="691" stroke="#555" stroke-width="0.8" />
<text x="420.3" y="699.6" font-size="7" text-anchor="middle" fill="#000" >12,530</text>
<line x1="318.8" y1="688" x2="318.8" y2="689.8" stroke="#555" stroke-width="0.8" />
<line x1="359.4" y1="688" x2="359.4" y2="689.8" stroke="#555" stroke-width="0.8" />
<line x1="400" y1="688" x2="400" y2="689.8" stroke="#555" stroke-width="0.8" />
<rect x="493.6" y="608.1" width="121.7" height="80.4" fill="#fff" stroke="#7a7a7a" stroke-width="0.9" />
<g clip-path="url(#ci3)">
<path d="M493.6,683.8 L493.6,664.71 L493.8,665.77 L494,666.33 L494.2,666.72 L494.4,667.12 L494.6,667.51 L494.8,667.9 L495,668.29 L495.2,668.68 L495.4,669.86 L495.6,671.3 L495.8,672.74 L496,674.18 L496.2,675.62 L496.4,677.06 L496.6,678.51 L496.8,679.95 L497,681.39 L497.2,682.02 L497.4,682.39 L497.6,682.75 L497.8,683.12 L498,683.41 L498.2,683.5 L498.4,683.5 L498.6,683.5 L498.8,683.5 L499,683.5 L499.2,683.5 L499.4,683.5 L499.6,683.5 L499.8,683.5 L500,683.5 L500.2,683.5 L500.4,683.5 L500.6,683.5 L500.8,683.5 L501,683.5 L501.2,683.5 L501.4,683.5 L501.6,683.5 L501.8,683.5 L502,683.5 L502.2,683.5 L502.4,683.5 L502.6,683.5 L502.8,683.5 L503,683.5 L503.2,683.5 L503.4,683.5 L503.6,683.5 L503.8,683.5 L504,683.5 L504.2,683.5 L504.4,683.5 L504.6,683.5 L504.8,683.39 L505,683.25 L505.2,683.12 L505.4,681.98 L505.6,680.84 L505.8,679.7 L506,672.19 L506.2,664.68 L506.4,657.16 L506.6,655.01 L506.8,652.85 L507,650.69 L507.2,648.54 L507.4,646.38 L507.6,644.22 L507.8,642.07 L508,639.91 L508.2,637.75 L508.4,635.04 L508.6,631.79 L508.8,628.53 L509,625.27 L509.2,622.01 L509.4,618.76 L509.6,615.5 L509.6,615.5 L509.8,628.07 L510,640.63 L510.2,647.41 L510.4,648.38 L510.6,649.36 L510.8,650.33 L511,651.31 L511.2,652.28 L511.4,653.26 L511.6,654.28 L511.8,655.35 L512,656.42 L512.2,657.49 L512.4,658.56 L512.6,659.63 L512.8,660.7 L513,661.77 L513.2,662.83 L513.4,663.9 L513.6,664.97 L513.8,666.04 L514,666.43 L514.2,666.82 L514.4,667.21 L514.6,667.6 L514.8,667.99 L515,668.38 L515.2,668.77 L515.4,670.22 L515.6,671.66 L515.8,673.1 L516,674.54 L516.2,675.98 L516.4,677.43 L516.6,678.87 L516.8,680.31 L517,681.75 L517.2,682.12 L517.4,682.48 L517.6,682.84 L517.8,683.21 L518,683.44 L518.2,683.5 L518.4,683.5 L518.6,683.5 L518.8,683.5 L519,683.5 L519.2,683.5 L519.4,683.5 L519.6,683.5 L519.8,683.5 L520,683.5 L520.2,683.5 L520.4,683.5 L520.6,683.5 L520.8,683.5 L521,683.5 L521.2,683.5 L521.4,683.5 L521.6,683.5 L521.8,683.5 L522,683.5 L522.2,683.5 L522.4,683.5 L522.6,683.5 L522.8,683.5 L523,683.5 L523.2,683.5 L523.4,683.5 L523.6,683.5 L523.8,683.5 L524,683.5 L524.2,683.5 L524.4,683.5 L524.6,683.46 L524.8,683.33 L525,683.19 L525.2,682.56 L525.4,681.43 L525.6,680.3 L525.8,676 L526,668.55 L526.2,661.09 L526.4,656.29 L526.6,654.15 L526.8,652.01 L527,649.86 L527.2,647.72 L527.4,645.58 L527.6,643.44 L527.8,641.3 L528,639.16 L528.2,637.02 L528.4,633.78 L528.6,630.55 L528.8,627.32 L529,624.08 L529.2,620.85 L529.4,617.62 L529.5,616 L529.6,622.24 L529.8,634.71 L530,647.19 L530.2,648.16 L530.4,649.13 L530.6,650.09 L530.8,651.06 L531,652.03 L531.2,653 L531.4,653.97 L531.6,655.03 L531.8,656.09 L532,657.15 L532.2,658.21 L532.4,659.27 L532.6,660.34 L532.8,661.4 L533,662.46 L533.2,663.52 L533.4,664.58 L533.6,665.64 L533.8,666.37 L534,666.75 L534.2,667.14 L534.4,667.53 L534.6,667.92 L534.8,668.3 L535,668.69 L535.2,669.6 L535.4,671.03 L535.6,672.46 L535.8,673.89 L536,675.32 L536.2,676.76 L536.4,678.19 L536.6,679.62 L536.8,681.05 L537,681.95 L537.2,682.31 L537.4,682.67 L537.6,683.03 L537.8,683.39 L538,683.48 L538.2,683.5 L538.4,683.5 L538.6,683.5 L538.8,683.5 L539,683.5 L539.2,683.5 L539.4,683.5 L539.6,683.5 L539.8,683.5 L540,683.5 L540.2,683.5 L540.4,683.5 L540.6,683.5 L540.8,683.5 L541,683.5 L541.2,683.5 L541.4,683.5 L541.6,683.5 L541.8,683.5 L542,683.5 L542.2,683.5 L542.4,683.5 L542.6,683.5 L542.8,683.5 L543,683.5 L543.2,683.5 L543.4,683.5 L543.6,683.5 L543.8,683.5 L544,683.5 L544.2,683.5 L544.4,683.5 L544.6,683.5 L544.8,683.4 L545,683.26 L545.2,683.13 L545.4,682.02 L545.6,680.9 L545.8,679.79 L546,672.43 L546.2,665.07 L546.4,657.71 L546.6,655.6 L546.8,653.48 L547,651.37 L547.2,649.26 L547.4,647.15 L547.6,645.03 L547.8,642.92 L548,640.81 L548.2,638.7 L548.4,636.04 L548.6,632.85 L548.8,629.66 L549,626.47 L549.2,623.28 L549.4,620.09 L549.6,616.9 L549.6,616.9 L549.8,629.21 L550,641.52 L550.2,648.15 L550.4,649.11 L550.6,650.06 L550.8,651.02 L551,651.97 L551.2,652.93 L551.4,653.89 L551.6,654.89 L551.8,655.93 L552,656.98 L552.2,658.03 L552.4,659.08 L552.6,660.12 L552.8,661.17 L553,662.22 L553.2,663.26 L553.4,664.31 L553.6,665.36 L553.8,666.41 L554,666.79 L554.2,667.17 L554.4,667.55 L554.6,667.94 L554.8,668.32 L555,668.7 L555.2,669.08 L555.4,670.49 L555.6,671.91 L555.8,673.32 L556,674.73 L556.2,676.14 L556.4,677.56 L556.6,678.97 L556.8,680.38 L557,681.79 L557.2,682.15 L557.4,682.51 L557.6,682.86 L557.8,683.22 L558,683.44 L558.2,683.5 L558.4,683.5 L558.6,683.5 L558.8,683.5 L559,683.5 L559.2,683.5 L559.4,683.5 L559.6,683.5 L559.8,683.5 L560,683.5 L560.2,683.5 L560.4,683.5 L560.6,683.5 L560.8,683.5 L561,683.5 L561.2,683.5 L561.4,683.5 L561.6,683.5 L561.8,683.5 L562,683.5 L562.2,683.5 L562.4,683.5 L562.6,683.5 L562.8,683.5 L563,683.5 L563.2,683.5 L563.4,683.5 L563.6,683.5 L563.8,683.5 L564,683.5 L564.2,683.5 L564.4,683.5 L564.6,683.5 L564.8,683.5 L565,683.39 L565.2,683.26 L565.4,683.12 L565.6,681.99 L565.8,680.86 L566,679.73 L566.2,672.27 L566.4,664.82 L566.6,657.36 L566.8,655.22 L567,653.08 L567.2,650.93 L567.4,648.79 L567.6,646.65 L567.8,644.51 L568,642.37 L568.2,640.23 L568.4,638.09 L568.6,635.4 L568.8,632.17 L569,628.93 L569.2,625.7 L569.4,622.47 L569.6,619.23 L569.8,616 L569.8,616 L570,628.48 L570.2,640.95 L570.4,647.67 L570.6,648.64 L570.8,649.61 L571,650.58 L571.2,651.55 L571.4,652.52 L571.6,653.48 L571.8,654.5 L572,655.56 L572.2,656.62 L572.4,657.68 L572.6,658.74 L572.8,659.8 L573,660.87 L573.2,661.93 L573.4,662.99 L573.6,664.05 L573.8,665.11 L574,666.17 L574.2,666.56 L574.4,666.95 L574.6,667.33 L574.8,667.72 L575,668.11 L575.2,668.5 L575.4,668.88 L575.6,670.32 L575.8,671.75 L576,673.18 L576.2,674.61 L576.4,676.04 L576.6,677.47 L576.8,678.9 L577,680.33 L577.2,681.77 L577.4,682.13 L577.6,682.49 L577.8,682.85 L578,683.21 L578.2,683.44 L578.4,683.5 L578.6,683.5 L578.8,683.5 L579,683.5 L579.2,683.5 L579.4,683.5 L579.6,683.5 L579.8,683.5 L580,683.5 L580.2,683.5 L580.4,683.5 L580.6,683.5 L580.8,683.5 L581,683.5 L581.2,683.5 L581.4,683.5 L581.6,683.5 L581.8,683.5 L582,683.5 L582.2,683.5 L582.4,683.5 L582.6,683.5 L582.8,683.5 L583,683.5 L583.2,683.5 L583.4,683.5 L583.6,683.5 L583.8,683.5 L584,683.5 L584.2,683.5 L584.4,683.47 L584.6,683.33 L584.8,683.2 L585,682.57 L585.2,681.46 L585.4,680.34 L585.6,676.11 L585.8,668.75 L586,661.39 L586.2,656.65 L586.4,654.54 L586.6,652.43 L586.8,650.31 L587,648.2 L587.2,646.09 L587.4,643.98 L587.6,641.86 L587.8,639.75 L588,637.64 L588.2,634.45 L588.4,631.26 L588.6,628.07 L588.8,624.88 L589,621.69 L589.2,618.5 L589.3,616.9 L589.4,623.05 L589.6,635.36 L589.8,647.67 L590,648.63 L590.2,649.59 L590.4,650.54 L590.6,651.5 L590.8,652.45 L591,653.41 L591.2,654.36 L591.4,655.41 L591.6,656.46 L591.8,657.51 L592,658.55 L592.2,659.6 L592.4,660.65 L592.6,661.69 L592.8,662.74 L593,663.79 L593.2,664.84 L593.4,665.88 L593.6,666.6 L593.8,666.98 L594,667.36 L594.2,667.74 L594.4,668.13 L594.6,668.51 L594.8,668.89 L595,669.79 L595.2,671.2 L595.4,672.61 L595.6,674.03 L595.8,675.44 L596,676.85 L596.2,678.26 L596.4,679.67 L596.6,681.09 L596.8,681.97 L597,682.33 L597.2,682.68 L597.4,683.04 L597.6,683.4 L597.8,683.49 L598,683.5 L598.2,683.5 L598.4,683.5 L598.6,683.5 L598.8,683.5 L599,683.5 L599.2,683.5 L599.4,683.5 L599.6,683.5 L599.8,683.5 L600,683.5 L600.2,683.5 L600.4,683.5 L600.6,683.5 L600.8,683.5 L601,683.5 L601.2,683.5 L601.4,683.5 L601.6,683.5 L601.8,683.5 L602,683.5 L602.2,683.5 L602.4,683.5 L602.6,683.5 L602.8,683.5 L603,683.5 L603.2,683.5 L603.4,683.5 L603.6,683.5 L603.8,683.5 L604,683.5 L604.2,683.5 L604.4,683.5 L604.6,683.5 L604.8,683.5 L605,683.41 L605.2,683.28 L605.4,683.15 L605.6,682.07 L605.8,680.99 L606,679.91 L606.2,672.78 L606.4,665.66 L606.6,658.53 L606.8,656.48 L607,654.44 L607.2,652.39 L607.4,650.34 L607.6,648.3 L607.8,646.25 L608,644.2 L608.2,642.16 L608.4,640.11 L608.6,637.54 L608.8,634.45 L609,631.36 L609.2,628.27 L609.4,625.18 L609.6,622.09 L609.8,619 L609.8,619 L610,630.92 L610.2,642.85 L610.4,649.27 L610.6,650.2 L610.8,651.12 L611,652.05 L611.2,652.97 L611.4,653.9 L611.6,654.83 L611.8,655.8 L612,656.81 L612.2,657.82 L612.4,658.84 L612.6,659.85 L612.8,660.87 L613,661.88 L613.2,662.89 L613.4,663.91 L613.6,664.92 L613.8,665.94 L614,666.95 L614.2,667.32 L614.4,667.69 L614.6,668.06 L614.8,668.43 L615,668.8 L615.2,669.17 L615.3,683.8 Z" fill="url(#gfi)" stroke="none"/>
<path d="M493.6,664.71 L493.8,665.77 L494,666.33 L494.2,666.72 L494.4,667.12 L494.6,667.51 L494.8,667.9 L495,668.29 L495.2,668.68 L495.4,669.86 L495.6,671.3 L495.8,672.74 L496,674.18 L496.2,675.62 L496.4,677.06 L496.6,678.51 L496.8,679.95 L497,681.39 L497.2,682.02 L497.4,682.39 L497.6,682.75 L497.8,683.12 L498,683.41 L498.2,683.5 L498.4,683.5 L498.6,683.5 L498.8,683.5 L499,683.5 L499.2,683.5 L499.4,683.5 L499.6,683.5 L499.8,683.5 L500,683.5 L500.2,683.5 L500.4,683.5 L500.6,683.5 L500.8,683.5 L501,683.5 L501.2,683.5 L501.4,683.5 L501.6,683.5 L501.8,683.5 L502,683.5 L502.2,683.5 L502.4,683.5 L502.6,683.5 L502.8,683.5 L503,683.5 L503.2,683.5 L503.4,683.5 L503.6,683.5 L503.8,683.5 L504,683.5 L504.2,683.5 L504.4,683.5 L504.6,683.5 L504.8,683.39 L505,683.25 L505.2,683.12 L505.4,681.98 L505.6,680.84 L505.8,679.7 L506,672.19 L506.2,664.68 L506.4,657.16 L506.6,655.01 L506.8,652.85 L507,650.69 L507.2,648.54 L507.4,646.38 L507.6,644.22 L507.8,642.07 L508,639.91 L508.2,637.75 L508.4,635.04 L508.6,631.79 L508.8,628.53 L509,625.27 L509.2,622.01 L509.4,618.76 L509.6,615.5 L509.6,615.5 L509.8,628.07 L510,640.63 L510.2,647.41 L510.4,648.38 L510.6,649.36 L510.8,650.33 L511,651.31 L511.2,652.28 L511.4,653.26 L511.6,654.28 L511.8,655.35 L512,656.42 L512.2,657.49 L512.4,658.56 L512.6,659.63 L512.8,660.7 L513,661.77 L513.2,662.83 L513.4,663.9 L513.6,664.97 L513.8,666.04 L514,666.43 L514.2,666.82 L514.4,667.21 L514.6,667.6 L514.8,667.99 L515,668.38 L515.2,668.77 L515.4,670.22 L515.6,671.66 L515.8,673.1 L516,674.54 L516.2,675.98 L516.4,677.43 L516.6,678.87 L516.8,680.31 L517,681.75 L517.2,682.12 L517.4,682.48 L517.6,682.84 L517.8,683.21 L518,683.44 L518.2,683.5 L518.4,683.5 L518.6,683.5 L518.8,683.5 L519,683.5 L519.2,683.5 L519.4,683.5 L519.6,683.5 L519.8,683.5 L520,683.5 L520.2,683.5 L520.4,683.5 L520.6,683.5 L520.8,683.5 L521,683.5 L521.2,683.5 L521.4,683.5 L521.6,683.5 L521.8,683.5 L522,683.5 L522.2,683.5 L522.4,683.5 L522.6,683.5 L522.8,683.5 L523,683.5 L523.2,683.5 L523.4,683.5 L523.6,683.5 L523.8,683.5 L524,683.5 L524.2,683.5 L524.4,683.5 L524.6,683.46 L524.8,683.33 L525,683.19 L525.2,682.56 L525.4,681.43 L525.6,680.3 L525.8,676 L526,668.55 L526.2,661.09 L526.4,656.29 L526.6,654.15 L526.8,652.01 L527,649.86 L527.2,647.72 L527.4,645.58 L527.6,643.44 L527.8,641.3 L528,639.16 L528.2,637.02 L528.4,633.78 L528.6,630.55 L528.8,627.32 L529,624.08 L529.2,620.85 L529.4,617.62 L529.5,616 L529.6,622.24 L529.8,634.71 L530,647.19 L530.2,648.16 L530.4,649.13 L530.6,650.09 L530.8,651.06 L531,652.03 L531.2,653 L531.4,653.97 L531.6,655.03 L531.8,656.09 L532,657.15 L532.2,658.21 L532.4,659.27 L532.6,660.34 L532.8,661.4 L533,662.46 L533.2,663.52 L533.4,664.58 L533.6,665.64 L533.8,666.37 L534,666.75 L534.2,667.14 L534.4,667.53 L534.6,667.92 L534.8,668.3 L535,668.69 L535.2,669.6 L535.4,671.03 L535.6,672.46 L535.8,673.89 L536,675.32 L536.2,676.76 L536.4,678.19 L536.6,679.62 L536.8,681.05 L537,681.95 L537.2,682.31 L537.4,682.67 L537.6,683.03 L537.8,683.39 L538,683.48 L538.2,683.5 L538.4,683.5 L538.6,683.5 L538.8,683.5 L539,683.5 L539.2,683.5 L539.4,683.5 L539.6,683.5 L539.8,683.5 L540,683.5 L540.2,683.5 L540.4,683.5 L540.6,683.5 L540.8,683.5 L541,683.5 L541.2,683.5 L541.4,683.5 L541.6,683.5 L541.8,683.5 L542,683.5 L542.2,683.5 L542.4,683.5 L542.6,683.5 L542.8,683.5 L543,683.5 L543.2,683.5 L543.4,683.5 L543.6,683.5 L543.8,683.5 L544,683.5 L544.2,683.5 L544.4,683.5 L544.6,683.5 L544.8,683.4 L545,683.26 L545.2,683.13 L545.4,682.02 L545.6,680.9 L545.8,679.79 L546,672.43 L546.2,665.07 L546.4,657.71 L546.6,655.6 L546.8,653.48 L547,651.37 L547.2,649.26 L547.4,647.15 L547.6,645.03 L547.8,642.92 L548,640.81 L548.2,638.7 L548.4,636.04 L548.6,632.85 L548.8,629.66 L549,626.47 L549.2,623.28 L549.4,620.09 L549.6,616.9 L549.6,616.9 L549.8,629.21 L550,641.52 L550.2,648.15 L550.4,649.11 L550.6,650.06 L550.8,651.02 L551,651.97 L551.2,652.93 L551.4,653.89 L551.6,654.89 L551.8,655.93 L552,656.98 L552.2,658.03 L552.4,659.08 L552.6,660.12 L552.8,661.17 L553,662.22 L553.2,663.26 L553.4,664.31 L553.6,665.36 L553.8,666.41 L554,666.79 L554.2,667.17 L554.4,667.55 L554.6,667.94 L554.8,668.32 L555,668.7 L555.2,669.08 L555.4,670.49 L555.6,671.91 L555.8,673.32 L556,674.73 L556.2,676.14 L556.4,677.56 L556.6,678.97 L556.8,680.38 L557,681.79 L557.2,682.15 L557.4,682.51 L557.6,682.86 L557.8,683.22 L558,683.44 L558.2,683.5 L558.4,683.5 L558.6,683.5 L558.8,683.5 L559,683.5 L559.2,683.5 L559.4,683.5 L559.6,683.5 L559.8,683.5 L560,683.5 L560.2,683.5 L560.4,683.5 L560.6,683.5 L560.8,683.5 L561,683.5 L561.2,683.5 L561.4,683.5 L561.6,683.5 L561.8,683.5 L562,683.5 L562.2,683.5 L562.4,683.5 L562.6,683.5 L562.8,683.5 L563,683.5 L563.2,683.5 L563.4,683.5 L563.6,683.5 L563.8,683.5 L564,683.5 L564.2,683.5 L564.4,683.5 L564.6,683.5 L564.8,683.5 L565,683.39 L565.2,683.26 L565.4,683.12 L565.6,681.99 L565.8,680.86 L566,679.73 L566.2,672.27 L566.4,664.82 L566.6,657.36 L566.8,655.22 L567,653.08 L567.2,650.93 L567.4,648.79 L567.6,646.65 L567.8,644.51 L568,642.37 L568.2,640.23 L568.4,638.09 L568.6,635.4 L568.8,632.17 L569,628.93 L569.2,625.7 L569.4,622.47 L569.6,619.23 L569.8,616 L569.8,616 L570,628.48 L570.2,640.95 L570.4,647.67 L570.6,648.64 L570.8,649.61 L571,650.58 L571.2,651.55 L571.4,652.52 L571.6,653.48 L571.8,654.5 L572,655.56 L572.2,656.62 L572.4,657.68 L572.6,658.74 L572.8,659.8 L573,660.87 L573.2,661.93 L573.4,662.99 L573.6,664.05 L573.8,665.11 L574,666.17 L574.2,666.56 L574.4,666.95 L574.6,667.33 L574.8,667.72 L575,668.11 L575.2,668.5 L575.4,668.88 L575.6,670.32 L575.8,671.75 L576,673.18 L576.2,674.61 L576.4,676.04 L576.6,677.47 L576.8,678.9 L577,680.33 L577.2,681.77 L577.4,682.13 L577.6,682.49 L577.8,682.85 L578,683.21 L578.2,683.44 L578.4,683.5 L578.6,683.5 L578.8,683.5 L579,683.5 L579.2,683.5 L579.4,683.5 L579.6,683.5 L579.8,683.5 L580,683.5 L580.2,683.5 L580.4,683.5 L580.6,683.5 L580.8,683.5 L581,683.5 L581.2,683.5 L581.4,683.5 L581.6,683.5 L581.8,683.5 L582,683.5 L582.2,683.5 L582.4,683.5 L582.6,683.5 L582.8,683.5 L583,683.5 L583.2,683.5 L583.4,683.5 L583.6,683.5 L583.8,683.5 L584,683.5 L584.2,683.5 L584.4,683.47 L584.6,683.33 L584.8,683.2 L585,682.57 L585.2,681.46 L585.4,680.34 L585.6,676.11 L585.8,668.75 L586,661.39 L586.2,656.65 L586.4,654.54 L586.6,652.43 L586.8,650.31 L587,648.2 L587.2,646.09 L587.4,643.98 L587.6,641.86 L587.8,639.75 L588,637.64 L588.2,634.45 L588.4,631.26 L588.6,628.07 L588.8,624.88 L589,621.69 L589.2,618.5 L589.3,616.9 L589.4,623.05 L589.6,635.36 L589.8,647.67 L590,648.63 L590.2,649.59 L590.4,650.54 L590.6,651.5 L590.8,652.45 L591,653.41 L591.2,654.36 L591.4,655.41 L591.6,656.46 L591.8,657.51 L592,658.55 L592.2,659.6 L592.4,660.65 L592.6,661.69 L592.8,662.74 L593,663.79 L593.2,664.84 L593.4,665.88 L593.6,666.6 L593.8,666.98 L594,667.36 L594.2,667.74 L594.4,668.13 L594.6,668.51 L594.8,668.89 L595,669.79 L595.2,671.2 L595.4,672.61 L595.6,674.03 L595.8,675.44 L596,676.85 L596.2,678.26 L596.4,679.67 L596.6,681.09 L596.8,681.97 L597,682.33 L597.2,682.68 L597.4,683.04 L597.6,683.4 L597.8,683.49 L598,683.5 L598.2,683.5 L598.4,683.5 L598.6,683.5 L598.8,683.5 L599,683.5 L599.2,683.5 L599.4,683.5 L599.6,683.5 L599.8,683.5 L600,683.5 L600.2,683.5 L600.4,683.5 L600.6,683.5 L600.8,683.5 L601,683.5 L601.2,683.5 L601.4,683.5 L601.6,683.5 L601.8,683.5 L602,683.5 L602.2,683.5 L602.4,683.5 L602.6,683.5 L602.8,683.5 L603,683.5 L603.2,683.5 L603.4,683.5 L603.6,683.5 L603.8,683.5 L604,683.5 L604.2,683.5 L604.4,683.5 L604.6,683.5 L604.8,683.5 L605,683.41 L605.2,683.28 L605.4,683.15 L605.6,682.07 L605.8,680.99 L606,679.91 L606.2,672.78 L606.4,665.66 L606.6,658.53 L606.8,656.48 L607,654.44 L607.2,652.39 L607.4,650.34 L607.6,648.3 L607.8,646.25 L608,644.2 L608.2,642.16 L608.4,640.11 L608.6,637.54 L608.8,634.45 L609,631.36 L609.2,628.27 L609.4,625.18 L609.6,622.09 L609.8,619 L609.8,619 L610,630.92 L610.2,642.85 L610.4,649.27 L610.6,650.2 L610.8,651.12 L611,652.05 L611.2,652.97 L611.4,653.9 L611.6,654.83 L611.8,655.8 L612,656.81 L612.2,657.82 L612.4,658.84 L612.6,659.85 L612.8,660.87 L613,661.88 L613.2,662.89 L613.4,663.91 L613.6,664.92 L613.8,665.94 L614,666.95 L614.2,667.32 L614.4,667.69 L614.6,668.06 L614.8,668.43 L615,668.8 L615.2,669.17" stroke="#f8409f" stroke-width="1.3" fill="none" stroke-linejoin="round"/>
</g>
<line x1="490.6" y1="683.2" x2="493.6" y2="683.2" stroke="#555" stroke-width="0.8" />
<text x="488.2" y="685.1" font-size="7" text-anchor="end" fill="#000" >0</text>
<line x1="490.6" y1="662.47" x2="493.6" y2="662.47" stroke="#555" stroke-width="0.8" />
<text x="488.2" y="664.37" font-size="7" text-anchor="end" fill="#000" >2500</text>
<line x1="490.6" y1="641.74" x2="493.6" y2="641.74" stroke="#555" stroke-width="0.8" />
<text x="488.2" y="643.63" font-size="7" text-anchor="end" fill="#000" >5000</text>
<line x1="490.6" y1="621" x2="493.6" y2="621" stroke="#555" stroke-width="0.8" />
<text x="488.2" y="622.9" font-size="7" text-anchor="end" fill="#000" >7500</text>
<line x1="492" y1="672.83" x2="493.6" y2="672.83" stroke="#555" stroke-width="0.8" />
<line x1="492" y1="652.1" x2="493.6" y2="652.1" stroke="#555" stroke-width="0.8" />
<line x1="492" y1="631.37" x2="493.6" y2="631.37" stroke="#555" stroke-width="0.8" />
<line x1="492" y1="610.64" x2="493.6" y2="610.64" stroke="#555" stroke-width="0.8" />
<line x1="493.6" y1="688.5" x2="493.6" y2="691.5" stroke="#555" stroke-width="0.8" />
<text x="493.6" y="699.6" font-size="7" text-anchor="middle" fill="#000" >19,000</text>
<line x1="534.17" y1="688.5" x2="534.17" y2="691.5" stroke="#555" stroke-width="0.8" />
<text x="534.17" y="699.6" font-size="7" text-anchor="middle" fill="#000" >19,010</text>
<line x1="574.73" y1="688.5" x2="574.73" y2="691.5" stroke="#555" stroke-width="0.8" />
<text x="574.73" y="699.6" font-size="7" text-anchor="middle" fill="#000" >19,020</text>
<line x1="615.3" y1="688.5" x2="615.3" y2="691.5" stroke="#555" stroke-width="0.8" />
<text x="615.3" y="699.6" font-size="7" text-anchor="middle" fill="#000" >19,030</text>
<line x1="513.88" y1="688.5" x2="513.88" y2="690.3" stroke="#555" stroke-width="0.8" />
<line x1="554.45" y1="688.5" x2="554.45" y2="690.3" stroke="#555" stroke-width="0.8" />
<line x1="595.02" y1="688.5" x2="595.02" y2="690.3" stroke="#555" stroke-width="0.8" /></svg></body></html>
